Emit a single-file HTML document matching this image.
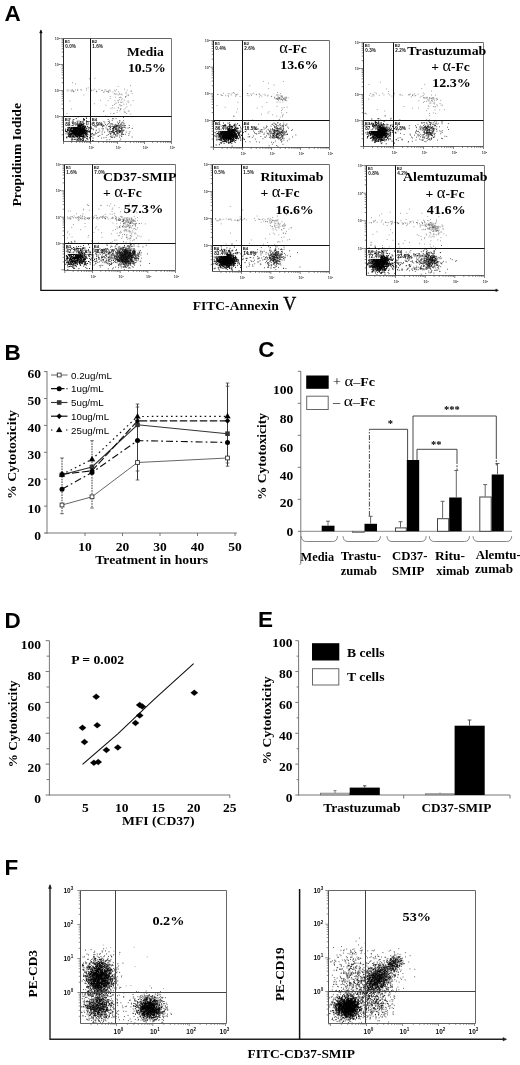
<!DOCTYPE html>
<html><head><meta charset="utf-8"><title>Figure</title>
<style>
html,body{margin:0;padding:0;background:#fff}
body{width:520px;height:1065px;overflow:hidden}
svg{display:block}
.s{font-family:"Liberation Serif","DejaVu Serif",serif;font-weight:bold}
.a{font-family:"Liberation Sans","DejaVu Sans",sans-serif;font-weight:bold}
</style></head><body>
<svg width="520" height="1065" viewBox="0 0 520 1065">
<rect width="520" height="1065" fill="#fff"/>
<path d="M40.9 30.5V290.3H497" fill="none" stroke="#111" stroke-width="1.35"/>
<path d="M39.5 33L40.9 29.8L42.3 33Z" fill="#111" stroke="#000" stroke-width="0.3"/>
<path d="M495.8 288.9L498.6 290.3L495.8 291.7Z" fill="#111" stroke="#000" stroke-width="0.3"/>
<text class="a" x="4.5" y="21.2" font-size="22.5">A</text>
<text class="s" x="20.5" y="206.5" font-size="13.5" textLength="103.5" lengthAdjust="spacingAndGlyphs" transform="rotate(-90 20.5 206.5)">Propidium Iodide</text>
<text class="s" x="192.7" y="309.6" font-size="13.5" textLength="86.0" lengthAdjust="spacingAndGlyphs">FITC-Annexin</text>
<text class="s" x="283.3" y="309.8" font-size="18" style="font-weight:normal" stroke="#000" stroke-width="0.35">V</text>
<path d="M76.3 132.8h1.0M76.5 129.9h1.0M73.2 130.2h1.0M82.6 132.5h1.0M82.3 131.9h1.0M79.3 131.7h1.0M69.8 134.1h1.0M79.8 132.8h1.0M69.7 124.7h1.0M73.4 129.3h1.0M78.9 130.8h1.0M79.9 128.7h1.0M78.9 132.4h1.0M74.5 137.2h1.0M80.1 135.3h1.0M74.6 128.3h1.0M75.9 130.6h1.0M80.4 131.9h1.0M75.4 127.6h1.0M75.1 135.4h1.0M73.8 131.9h1.0M79.5 125.6h1.0M77.7 135.7h1.0M68.2 129.8h1.0M77.0 128.1h1.0M79.8 130.8h1.0M70.8 134.0h1.0M80.6 134.4h1.0M84.1 132.3h1.0M78.0 126.3h1.0M80.3 128.8h1.0M75.4 126.4h1.0M73.0 129.1h1.0M83.4 123.7h1.0M70.8 131.9h1.0M84.1 133.1h1.0M68.8 121.9h1.0M79.1 128.3h1.0M72.3 134.5h1.0M82.6 131.6h1.0M78.6 132.6h1.0M84.8 133.2h1.0M79.9 133.0h1.0M70.3 135.6h1.0M81.9 132.9h1.0M68.4 128.7h1.0M81.4 124.5h1.0M76.7 134.7h1.0M71.5 136.8h1.0M80.0 130.5h1.0M79.0 133.3h1.0M78.1 135.1h1.0M74.5 129.5h1.0M82.3 131.1h1.0M73.4 134.4h1.0M84.2 129.4h1.0M71.2 130.5h1.0M76.8 129.9h1.0M84.0 127.3h1.0M83.3 126.4h1.0M73.9 133.3h1.0M82.7 134.1h1.0M79.1 131.5h1.0M78.2 133.1h1.0M76.7 132.0h1.0M80.1 131.0h1.0M81.0 133.0h1.0M86.7 132.2h1.0M75.5 129.7h1.0M77.4 134.3h1.0M76.0 132.4h1.0M86.0 121.8h1.0M72.3 131.9h1.0M79.3 131.9h1.0M75.5 133.4h1.0M78.8 129.1h1.0M88.7 132.3h1.0M75.0 130.6h1.0M76.5 130.8h1.0M65.0 129.2h1.0M82.1 126.8h1.0M77.2 134.4h1.0M81.4 136.4h1.0M69.7 129.7h1.0M75.9 133.2h1.0M82.5 121.3h1.0M82.5 125.8h1.0M80.6 125.6h1.0M78.3 135.3h1.0M76.8 131.7h1.0M81.2 131.5h1.0M77.1 136.5h1.0M82.3 129.9h1.0M90.1 126.9h1.0M81.7 130.0h1.0M78.1 133.5h1.0M78.5 133.3h1.0M70.5 125.6h1.0M80.3 127.5h1.0M72.8 125.7h1.0M83.3 133.7h1.0M84.3 127.6h1.0M77.5 126.9h1.0M81.0 136.7h1.0M73.4 136.6h1.0M82.0 130.4h1.0M68.4 136.1h1.0M77.1 128.8h1.0M79.3 132.5h1.0M84.4 127.3h1.0M82.7 136.4h1.0M84.2 130.3h1.0M74.1 134.7h1.0M78.0 131.4h1.0M84.1 130.1h1.0M66.9 129.6h1.0M69.0 133.9h1.0M79.0 128.8h1.0M77.5 134.0h1.0M77.9 135.8h1.0M77.2 134.7h1.0M84.4 136.8h1.0M74.4 134.2h1.0M68.9 127.1h1.0M68.5 134.8h1.0M71.8 131.0h1.0M76.6 130.9h1.0M74.8 131.8h1.0M85.7 131.2h1.0M79.9 134.6h1.0M76.6 126.5h1.0M74.9 134.9h1.0M69.9 128.8h1.0M82.1 133.9h1.0M77.5 133.9h1.0M78.3 126.8h1.0M70.3 128.7h1.0M81.7 129.0h1.0M73.3 128.2h1.0M70.5 130.6h1.0M72.1 132.3h1.0M66.6 132.2h1.0M74.5 124.0h1.0M80.8 130.0h1.0M67.2 127.8h1.0M78.8 129.3h1.0M81.1 133.7h1.0M80.6 132.2h1.0M83.6 133.4h1.0M79.6 123.5h1.0M81.6 135.7h1.0M76.1 129.3h1.0M86.4 124.7h1.0M79.7 139.7h1.0M73.2 133.5h1.0M86.2 130.6h1.0M80.1 134.2h1.0M73.3 130.7h1.0M78.8 134.0h1.0M77.3 130.3h1.0M72.8 129.7h1.0M81.6 131.4h1.0M73.6 128.0h1.0M89.8 135.1h1.0M80.4 121.7h1.0M80.4 132.7h1.0M85.2 132.5h1.0M77.2 132.9h1.0M68.6 134.7h1.0M79.0 128.5h1.0M83.6 137.5h1.0M71.0 128.6h1.0M78.8 131.7h1.0M75.7 127.5h1.0M87.3 134.7h1.0M72.0 126.2h1.0M85.3 134.6h1.0M85.9 133.9h1.0M73.5 131.9h1.0M67.6 128.3h1.0M77.2 132.9h1.0M74.2 130.6h1.0M79.6 132.4h1.0M80.4 131.8h1.0M76.0 133.8h1.0M77.7 128.0h1.0M74.6 131.0h1.0M77.0 131.6h1.0M77.5 131.6h1.0M76.9 126.5h1.0M79.4 134.8h1.0M79.5 130.3h1.0M79.6 127.5h1.0M68.8 131.2h1.0M73.2 133.7h1.0M72.5 121.5h1.0M72.7 136.7h1.0M75.7 126.1h1.0M74.0 132.9h1.0M79.8 131.6h1.0M84.3 133.5h1.0M77.4 133.1h1.0M85.1 134.5h1.0M82.2 127.1h1.0M76.8 133.6h1.0M76.1 134.8h1.0M80.2 134.3h1.0M76.5 140.2h1.0M83.2 130.2h1.0M77.9 140.3h1.0M75.9 134.1h1.0M82.0 131.0h1.0M72.1 131.7h1.0M79.2 135.1h1.0M81.1 131.1h1.0M81.4 132.9h1.0M78.4 131.2h1.0M76.4 133.5h1.0M72.7 128.7h1.0M77.5 125.7h1.0M75.5 123.8h1.0M74.4 133.0h1.0M80.1 130.8h1.0M76.4 125.9h1.0M85.9 132.9h1.0M82.5 127.8h1.0M76.6 124.4h1.0M81.1 134.4h1.0M68.8 130.8h1.0M80.4 124.7h1.0M69.1 127.2h1.0M74.6 125.9h1.0M77.6 131.9h1.0M80.4 133.5h1.0M84.4 135.2h1.0M71.5 129.2h1.0M72.6 127.1h1.0M77.1 131.0h1.0M79.8 125.3h1.0M71.8 130.9h1.0M76.6 129.9h1.0M77.2 128.3h1.0M80.7 132.3h1.0M77.1 128.6h1.0M76.7 121.2h1.0M73.0 131.1h1.0M70.6 131.7h1.0M78.2 126.0h1.0M76.3 129.9h1.0M79.6 133.2h1.0M77.3 127.9h1.0M76.8 130.8h1.0M80.9 132.1h1.0M74.2 126.1h1.0M75.8 128.3h1.0M72.4 130.6h1.0M75.2 131.4h1.0M79.9 129.5h1.0M88.2 129.8h1.0M82.6 131.4h1.0M82.6 122.4h1.0M74.0 131.9h1.0M80.3 139.4h1.0M79.0 135.6h1.0M81.0 134.4h1.0M79.8 130.4h1.0M79.8 127.1h1.0M82.9 127.3h1.0M78.6 138.6h1.0M76.5 131.1h1.0M82.8 131.1h1.0M73.8 131.9h1.0M80.2 133.6h1.0M73.9 137.3h1.0M85.2 131.1h1.0M78.7 129.5h1.0M84.0 128.5h1.0M80.6 129.3h1.0M74.3 133.6h1.0M83.6 131.0h1.0M74.4 133.9h1.0M77.3 132.1h1.0M84.5 135.1h1.0M75.1 139.2h1.0M77.5 133.8h1.0M74.5 130.8h1.0M69.5 137.4h1.0M83.8 126.6h1.0M70.6 125.2h1.0M82.9 129.3h1.0M77.2 129.9h1.0M76.9 127.1h1.0M77.6 125.8h1.0M77.2 132.1h1.0M79.7 130.2h1.0M73.3 131.6h1.0M75.3 136.6h1.0M81.0 130.6h1.0M75.3 128.5h1.0M73.2 129.7h1.0M78.9 132.9h1.0M80.1 138.6h1.0M74.3 131.0h1.0M90.4 124.3h1.0M75.1 131.6h1.0M78.2 132.5h1.0M76.4 132.3h1.0M77.7 133.8h1.0M68.8 127.8h1.0M77.5 127.3h1.0M72.7 133.3h1.0M74.5 133.3h1.0M80.9 132.1h1.0M79.8 130.6h1.0M71.0 130.9h1.0M79.6 129.1h1.0M77.0 133.7h1.0M73.5 133.3h1.0M86.1 129.0h1.0M78.2 130.5h1.0M84.6 132.1h1.0M81.6 128.5h1.0M77.4 131.0h1.0M69.3 136.2h1.0M81.6 124.7h1.0M80.9 130.5h1.0M79.6 132.3h1.0M70.6 130.2h1.0M84.4 128.9h1.0M72.8 126.1h1.0M71.9 132.2h1.0M85.3 132.5h1.0M78.6 139.0h1.0M75.1 128.6h1.0M79.9 133.0h1.0M72.8 126.8h1.0M78.8 131.9h1.0M71.5 130.3h1.0M75.0 132.7h1.0M77.0 130.7h1.0M75.9 134.8h1.0M83.9 129.7h1.0M81.4 128.3h1.0M77.8 133.7h1.0M84.5 129.6h1.0M77.2 131.7h1.0M70.6 131.1h1.0M74.4 132.3h1.0M72.3 123.9h1.0M77.7 131.9h1.0M75.0 134.2h1.0M76.2 128.8h1.0M79.7 125.4h1.0M74.4 130.9h1.0M81.4 130.4h1.0M78.9 128.6h1.0M78.9 137.0h1.0M74.3 139.5h1.0M74.5 131.1h1.0M78.3 134.7h1.0M71.8 123.4h1.0M80.3 133.9h1.0M80.4 140.5h1.0M78.4 131.9h1.0M81.8 132.3h1.0M85.2 126.5h1.0M75.8 118.6h1.0M81.2 129.7h1.0M81.8 138.8h1.0M77.5 130.1h1.0M75.2 128.0h1.0M74.6 133.3h1.0M77.7 131.2h1.0M76.7 134.3h1.0M79.8 130.5h1.0M80.6 130.5h1.0M72.2 136.2h1.0M79.6 127.6h1.0M82.5 132.2h1.0M70.3 136.8h1.0M79.0 134.2h1.0M78.4 130.5h1.0M70.4 134.5h1.0M77.6 130.0h1.0M79.1 131.3h1.0M80.6 129.7h1.0M77.3 123.3h1.0M75.6 133.4h1.0M83.6 129.7h1.0M76.9 136.7h1.0M76.0 133.6h1.0M85.2 131.1h1.0M83.1 128.4h1.0M78.5 130.7h1.0M78.0 135.1h1.0M88.5 128.6h1.0M74.9 132.8h1.0M72.6 132.8h1.0M80.1 130.0h1.0M79.9 125.4h1.0M81.0 125.4h1.0M74.3 129.0h1.0M75.7 134.1h1.0M77.9 129.6h1.0M80.0 136.7h1.0M77.5 132.3h1.0M83.2 132.0h1.0M71.6 140.0h1.0M87.7 123.9h1.0M77.3 132.5h1.0M81.9 133.4h1.0M76.2 127.2h1.0M78.0 134.7h1.0M72.5 127.3h1.0M77.4 124.0h1.0M76.3 129.4h1.0M79.6 128.5h1.0M73.4 129.6h1.0M77.3 128.6h1.0M77.6 133.7h1.0M83.0 137.1h1.0M73.9 129.5h1.0M66.1 137.8h1.0M74.2 130.9h1.0M79.9 126.1h1.0M79.6 130.9h1.0M69.1 132.1h1.0M83.0 124.3h1.0M81.2 131.8h1.0M79.7 132.6h1.0M83.5 130.2h1.0M81.5 129.5h1.0M80.8 128.1h1.0M77.0 137.2h1.0M79.5 130.4h1.0M72.2 128.2h1.0M78.4 134.4h1.0M79.5 132.9h1.0M77.3 135.9h1.0M75.7 129.0h1.0M81.6 131.2h1.0M76.2 128.9h1.0M76.3 133.2h1.0M79.1 126.6h1.0M79.5 131.6h1.0M72.9 133.8h1.0M76.2 129.8h1.0M81.2 135.8h1.0M74.3 132.6h1.0M73.5 139.3h1.0M75.2 135.3h1.0M74.5 133.9h1.0M87.7 121.9h1.0M75.5 132.8h1.0M77.1 128.6h1.0M87.4 131.3h1.0M69.9 134.1h1.0M69.6 135.1h1.0M74.8 131.5h1.0M83.3 131.4h1.0M71.1 124.9h1.0M82.9 133.7h1.0M73.7 134.1h1.0M79.8 133.3h1.0M67.1 129.9h1.0M81.6 133.6h1.0M81.6 122.2h1.0M78.3 132.8h1.0M89.2 127.6h1.0M76.0 131.1h1.0M81.6 129.4h1.0M82.8 128.2h1.0M78.7 129.1h1.0M78.2 128.5h1.0M70.2 134.9h1.0M78.9 129.0h1.0M78.4 134.6h1.0M73.0 130.6h1.0M80.0 132.9h1.0M76.0 123.4h1.0M83.2 132.2h1.0M77.6 130.0h1.0M78.7 129.5h1.0M72.8 128.3h1.0M74.8 128.8h1.0M72.2 133.3h1.0M71.5 133.4h1.0M72.8 132.3h1.0M83.8 131.7h1.0M74.1 131.2h1.0M78.2 124.8h1.0M74.7 131.6h1.0M75.3 131.3h1.0M80.9 133.8h1.0M81.7 133.1h1.0M76.2 130.9h1.0M76.3 129.9h1.0M76.7 124.8h1.0M76.0 130.9h1.0M73.0 130.9h1.0M79.9 130.4h1.0M87.1 121.6h1.0M76.6 124.4h1.0M82.0 140.6h1.0M66.0 131.5h1.0M79.9 129.9h1.0M80.0 122.9h1.0M81.4 132.3h1.0M77.6 128.9h1.0M80.4 129.3h1.0M78.5 129.2h1.0M67.2 130.9h1.0M78.4 133.7h1.0M73.5 130.9h1.0M80.3 131.5h1.0M83.2 138.2h1.0M73.3 124.1h1.0M81.4 136.5h1.0M81.7 133.9h1.0M74.7 128.4h1.0M81.6 127.7h1.0M69.2 127.4h1.0M89.0 137.9h1.0M74.3 128.4h1.0M78.6 128.3h1.0M83.5 130.7h1.0M72.5 135.7h1.0M74.8 131.8h1.0M77.4 129.9h1.0M79.0 128.5h1.0M69.0 123.1h1.0M71.7 128.3h1.0M77.4 131.2h1.0M80.1 131.4h1.0M73.9 128.4h1.0M67.8 130.4h1.0M79.7 132.9h1.0M76.9 130.4h1.0M81.8 131.1h1.0M80.9 133.1h1.0M78.5 135.7h1.0M74.9 129.7h1.0M73.8 128.1h1.0M84.7 137.3h1.0M77.6 133.0h1.0M82.9 133.9h1.0M83.0 126.5h1.0M74.6 132.6h1.0M84.1 131.4h1.0M73.6 129.7h1.0M74.5 127.9h1.0M84.4 128.7h1.0M77.6 138.8h1.0M82.9 132.2h1.0M74.7 132.5h1.0M85.0 133.2h1.0M83.3 131.4h1.0M79.9 130.3h1.0M79.5 135.7h1.0M70.9 130.8h1.0M78.6 128.9h1.0M76.1 133.8h1.0M86.7 133.3h1.0M79.0 125.4h1.0M86.4 131.3h1.0M77.3 127.0h1.0M77.2 127.1h1.0M77.8 132.7h1.0M77.6 132.0h1.0M73.6 136.1h1.0M74.5 124.5h1.0M76.6 128.3h1.0M72.9 129.7h1.0M78.8 126.7h1.0M76.9 136.1h1.0M80.6 130.5h1.0M78.1 130.6h1.0M77.3 133.6h1.0M77.1 122.3h1.0M77.4 127.8h1.0M80.5 128.8h1.0M78.2 138.8h1.0M72.7 127.0h1.0M71.0 122.4h1.0M68.9 132.3h1.0M74.6 124.3h1.0M70.7 133.2h1.0M73.9 129.7h1.0M79.0 135.9h1.0M86.4 134.7h1.0M78.2 131.7h1.0M85.8 136.1h1.0M76.1 132.6h1.0M78.8 131.2h1.0M75.2 126.2h1.0M75.0 125.4h1.0M83.1 132.9h1.0M72.0 136.0h1.0M81.6 124.1h1.0M86.0 133.9h1.0M87.0 126.6h1.0M79.9 132.5h1.0M78.4 131.6h1.0M82.3 125.6h1.0M71.8 126.0h1.0M74.9 128.8h1.0M79.2 132.0h1.0M77.6 128.6h1.0M75.5 134.4h1.0M81.0 131.4h1.0M76.0 136.6h1.0M74.8 133.3h1.0M82.8 130.0h1.0M81.3 127.0h1.0M82.2 131.7h1.0M70.2 133.4h1.0M73.4 135.6h1.0M74.4 130.4h1.0M78.8 129.8h1.0M78.7 129.0h1.0M80.6 131.0h1.0M78.5 121.1h1.0M82.8 131.1h1.0M69.3 131.3h1.0M79.6 134.9h1.0M72.5 136.6h1.0M76.8 139.6h1.0M76.8 133.4h1.0M75.8 127.0h1.0M82.5 134.3h1.0M84.6 134.1h1.0M74.9 125.0h1.0M74.5 128.6h1.0M73.8 133.1h1.0M79.0 130.0h1.0M78.3 130.5h1.0M78.5 133.7h1.0M81.9 128.5h1.0M70.6 136.1h1.0M78.0 135.0h1.0M69.9 129.8h1.0M77.6 125.8h1.0M75.1 133.6h1.0M82.5 136.7h1.0M73.5 126.0h1.0M79.9 134.4h1.0M78.4 126.3h1.0M81.1 133.9h1.0M80.0 129.2h1.0M78.9 133.8h1.0M74.9 124.4h1.0M79.0 132.7h1.0M77.6 134.2h1.0M74.8 130.7h1.0M76.1 133.1h1.0M84.8 130.1h1.0M87.0 136.5h1.0M81.1 133.1h1.0M85.6 130.4h1.0M77.0 127.2h1.0M79.7 135.8h1.0M79.9 132.5h1.0M76.6 131.6h1.0M70.9 134.8h1.0M75.6 127.0h1.0M74.0 128.0h1.0M81.4 134.8h1.0M71.3 134.3h1.0M81.6 128.9h1.0M70.7 128.3h1.0M74.6 132.2h1.0M75.9 123.7h1.0M78.6 125.5h1.0M81.7 126.7h1.0M74.3 127.9h1.0M75.0 135.7h1.0M81.4 133.2h1.0M79.0 125.4h1.0M75.1 129.0h1.0M73.0 132.8h1.0M74.1 128.4h1.0M72.7 123.6h1.0M80.2 135.8h1.0M78.3 127.5h1.0M65.1 131.6h1.0M83.1 132.1h1.0M81.8 136.3h1.0M82.7 129.4h1.0M82.3 133.8h1.0M70.4 129.5h1.0M71.0 130.6h1.0M80.2 127.2h1.0M68.0 135.7h1.0M79.2 136.3h1.0M71.4 134.8h1.0M87.0 138.2h1.0M76.5 132.0h1.0M76.8 134.6h1.0M82.3 131.3h1.0M71.2 133.7h1.0M75.3 133.3h1.0M78.7 136.8h1.0M82.7 129.4h1.0M79.1 137.4h1.0M75.0 132.6h1.0M83.0 135.5h1.0M79.9 126.2h1.0M71.7 131.9h1.0M79.3 140.2h1.0M73.5 135.1h1.0M81.0 125.0h1.0M73.7 131.6h1.0M75.2 130.4h1.0M79.7 128.1h1.0M79.6 128.7h1.0M75.0 132.9h1.0M74.9 132.0h1.0M84.9 131.1h1.0M76.8 133.6h1.0M75.8 134.9h1.0M71.6 133.2h1.0M75.1 128.1h1.0M85.6 127.9h1.0M85.6 133.4h1.0M84.2 127.5h1.0M83.0 136.2h1.0M77.0 130.5h1.0M88.8 131.6h1.0M75.6 128.7h1.0M79.6 132.2h1.0M78.3 137.2h1.0M76.0 132.7h1.0M84.2 127.4h1.0M82.3 137.6h1.0M71.3 127.0h1.0M72.7 124.4h1.0M79.6 124.3h1.0M79.8 136.2h1.0M70.1 129.9h1.0M68.7 133.8h1.0M74.1 130.0h1.0M77.8 133.0h1.0M75.9 131.1h1.0M75.0 131.4h1.0M72.1 131.2h1.0M68.6 129.2h1.0M86.3 131.3h1.0M71.7 131.9h1.0M73.0 125.1h1.0M74.1 133.7h1.0M79.3 130.7h1.0M73.2 127.1h1.0M83.7 131.9h1.0M73.1 123.4h1.0M71.2 139.9h1.0M72.2 130.7h1.0M78.5 130.4h1.0M76.2 126.1h1.0M72.7 137.1h1.0M74.0 134.0h1.0M69.7 130.0h1.0M78.7 134.7h1.0M72.3 133.1h1.0M79.3 128.3h1.0M79.7 127.8h1.0M73.8 130.9h1.0M65.0 130.6h1.0M72.9 125.7h1.0M75.5 133.7h1.0M75.6 135.6h1.0M72.2 126.3h1.0M84.6 132.4h1.0M81.8 128.0h1.0M81.2 131.9h1.0M80.5 131.1h1.0M83.0 128.7h1.0M73.1 125.7h1.0M82.8 128.3h1.0M72.7 127.6h1.0M75.5 126.4h1.0M76.2 128.7h1.0M75.0 127.5h1.0M77.7 129.3h1.0M78.0 131.9h1.0M79.1 123.1h1.0M75.0 128.1h1.0M81.1 125.3h1.0M74.2 129.9h1.0M76.0 134.6h1.0M75.5 134.5h1.0M70.8 124.5h1.0M83.1 132.6h1.0M79.7 131.4h1.0M79.7 126.6h1.0M81.9 129.1h1.0M82.0 131.3h1.0M68.4 126.4h1.0M82.7 130.5h1.0M75.7 131.9h1.0M75.5 129.0h1.0M77.8 131.3h1.0M89.6 130.8h1.0M92.6 140.9h1.0M91.2 136.6h1.0M78.1 131.3h1.0M75.8 126.3h1.0M76.4 126.8h1.0M90.6 133.6h1.0M73.3 119.5h1.0M76.6 128.1h1.0M68.0 124.0h1.0M76.7 129.6h1.0M89.0 131.3h1.0M78.4 128.4h1.0M72.0 139.1h1.0M85.3 140.4h1.0M74.1 130.7h1.0M69.7 136.1h1.0M65.5 133.8h1.0M86.1 138.6h1.0M69.2 136.8h1.0M71.1 126.1h1.0M66.0 137.2h1.0M90.6 127.1h1.0M70.7 128.5h1.0M97.8 136.3h1.0M72.5 120.2h1.0M71.4 137.3h1.0M92.5 129.0h1.0M71.3 127.6h1.0M68.0 136.6h1.0M79.4 126.1h1.0M83.5 130.5h1.0M67.3 134.1h1.0M84.0 119.5h1.0M92.1 133.4h1.0M83.3 119.8h1.0M71.0 128.5h1.0M85.9 122.1h1.0M69.7 118.8h1.0M75.0 132.5h1.0M81.2 139.6h1.0M82.5 128.8h1.0M67.2 125.1h1.0M71.5 131.3h1.0M76.6 140.1h1.0M79.4 124.3h1.0M89.8 136.0h1.0M77.8 126.3h1.0M84.5 125.9h1.0M66.1 131.6h1.0M79.0 134.0h1.0M82.4 138.6h1.0M70.1 136.1h1.0M68.8 134.5h1.0M78.5 131.9h1.0M85.0 130.4h1.0M86.2 135.5h1.0M78.1 127.2h1.0M70.8 127.5h1.0M75.3 130.4h1.0M101.7 134.2h1.0M83.4 125.5h1.0M71.1 128.7h1.0M78.6 124.5h1.0M90.3 127.3h1.0M85.9 117.0h1.0M76.9 132.1h1.0M78.6 134.0h1.0M79.3 131.4h1.0M79.5 129.4h1.0M70.2 127.1h1.0M92.3 140.5h1.0M76.5 137.9h1.0M73.0 125.5h1.0M72.4 131.6h1.0M102.0 126.7h1.0M77.4 132.1h1.0M76.7 135.9h1.0M91.7 123.3h1.0M78.3 129.0h1.0M79.9 121.7h1.0M81.3 131.6h1.0M77.6 116.9h1.0M73.9 126.1h1.0M65.3 125.2h1.0M82.8 133.6h1.0M76.8 133.5h1.0M72.0 130.9h1.0M77.3 133.7h1.0M76.4 129.7h1.0M75.9 126.8h1.0M95.5 133.5h1.0M88.6 121.5h1.0M82.8 135.3h1.0M92.6 138.1h1.0M83.4 123.7h1.0M69.8 132.0h1.0M81.2 124.6h1.0M73.8 128.2h1.0M77.5 132.4h1.0M74.6 123.4h1.0M87.3 139.7h1.0M76.1 136.4h1.0M80.7 134.3h1.0M81.0 126.1h1.0M81.8 136.3h1.0M93.5 134.8h1.0M74.2 127.0h1.0M70.3 131.2h1.0M76.7 134.4h1.0M95.8 130.3h1.0M82.6 133.2h1.0M79.3 129.3h1.0M76.0 125.8h1.0M78.5 130.4h1.0M79.7 125.6h1.0M77.3 130.8h1.0M82.0 124.4h1.0M80.5 136.2h1.0M81.9 128.4h1.0M72.9 129.1h1.0M83.0 139.4h1.0M75.7 126.8h1.0M80.1 131.7h1.0M69.5 126.3h1.0M76.2 134.4h1.0M67.1 124.6h1.0M81.1 123.4h1.0M77.9 132.5h1.0M76.1 124.6h1.0M76.5 128.6h1.0M79.8 125.7h1.0M86.0 120.9h1.0M75.5 130.5h1.0M85.0 127.0h1.0M81.5 127.2h1.0M83.1 140.5h1.0M73.7 133.1h1.0M69.3 136.1h1.0M87.0 130.7h1.0M67.6 132.8h1.0M86.5 136.8h1.0M83.7 120.0h1.0M71.4 138.7h1.0M66.8 137.0h1.0M92.6 134.9h1.0M86.3 128.6h1.0M66.9 129.9h1.0M75.4 130.2h1.0M82.8 129.7h1.0M78.6 132.9h1.0M80.7 131.0h1.0M75.3 126.9h1.0M88.1 131.4h1.0M68.1 127.3h1.0M75.9 127.9h1.0M86.0 123.8h1.0M81.1 131.3h1.0M67.2 130.8h1.0M76.2 133.4h1.0M73.3 132.2h1.0M83.5 136.5h1.0M76.9 127.0h1.0M86.0 118.5h1.0M70.4 134.4h1.0M82.4 124.6h1.0M78.3 125.3h1.0M77.5 135.7h1.0M83.1 118.5h1.0M83.4 120.2h1.0M86.4 132.8h1.0M95.6 127.0h1.0M77.0 136.5h1.0M71.7 126.4h1.0M73.9 130.1h1.0M68.0 133.3h1.0M81.5 130.9h1.0M91.1 128.6h1.0M87.8 127.4h1.0M83.3 119.4h1.0M78.6 129.5h1.0" stroke="#000" stroke-width="1.0" fill="none" opacity="0.85"/>
<path d="M115.4 126.4h0.9M116.0 126.0h0.9M108.3 126.5h0.9M115.2 126.8h0.9M113.1 128.4h0.9M120.8 127.9h0.9M115.4 134.7h0.9M121.6 132.9h0.9M122.4 127.6h0.9M117.0 133.7h0.9M115.2 128.5h0.9M119.1 130.6h0.9M116.3 133.1h0.9M116.8 132.0h0.9M122.0 131.8h0.9M120.6 124.1h0.9M112.0 126.4h0.9M119.5 135.3h0.9M112.4 130.3h0.9M113.9 125.9h0.9M116.3 131.9h0.9M118.4 134.0h0.9M113.4 132.7h0.9M121.4 129.3h0.9M119.5 126.6h0.9M112.9 127.3h0.9M115.5 135.9h0.9M118.3 130.3h0.9M120.6 125.7h0.9M121.3 130.6h0.9M111.1 131.5h0.9M119.8 130.9h0.9M124.2 127.3h0.9M119.6 132.1h0.9M113.7 134.0h0.9M111.4 123.5h0.9M119.7 124.4h0.9M117.0 122.1h0.9M117.8 124.2h0.9M118.9 122.6h0.9M119.4 127.9h0.9M117.8 128.7h0.9M118.0 123.5h0.9M106.7 129.1h0.9M113.6 127.1h0.9M119.3 120.7h0.9M114.3 126.4h0.9M113.1 130.4h0.9M116.9 125.6h0.9M113.4 132.4h0.9M114.7 131.5h0.9M119.4 121.0h0.9M112.9 129.0h0.9M118.9 132.3h0.9M120.9 133.3h0.9M115.9 128.1h0.9M120.8 127.2h0.9M121.9 122.3h0.9M120.2 128.3h0.9M109.2 133.1h0.9M118.8 129.1h0.9M113.0 127.0h0.9M123.8 125.5h0.9M102.9 125.4h0.9M112.5 128.4h0.9M115.8 125.2h0.9M114.0 133.4h0.9M111.4 137.2h0.9M115.2 124.4h0.9M120.8 131.4h0.9M113.1 132.1h0.9M109.8 125.1h0.9M122.2 127.9h0.9M112.0 131.2h0.9M121.4 128.9h0.9M109.9 127.5h0.9M119.3 132.2h0.9M125.3 127.9h0.9M115.5 128.8h0.9M122.6 125.0h0.9M123.0 117.5h0.9M120.8 126.2h0.9M119.4 131.9h0.9M112.5 128.6h0.9M118.5 131.5h0.9M113.6 124.8h0.9M109.4 139.7h0.9M116.7 128.1h0.9M111.2 132.9h0.9M115.3 135.0h0.9M121.1 129.1h0.9M120.6 124.3h0.9M116.1 126.6h0.9M112.2 129.1h0.9M116.9 135.0h0.9M103.4 126.2h0.9M113.6 127.1h0.9M119.3 130.7h0.9M117.6 127.0h0.9M119.6 130.5h0.9M109.8 127.9h0.9M111.7 124.0h0.9M118.1 129.3h0.9M118.0 125.3h0.9M116.7 125.2h0.9M119.1 131.9h0.9M124.9 134.3h0.9M114.1 127.1h0.9M113.6 130.3h0.9M125.8 132.0h0.9M108.3 123.7h0.9M112.1 131.2h0.9M117.5 130.3h0.9M125.0 125.5h0.9M113.9 137.3h0.9M118.9 125.7h0.9M109.0 122.6h0.9M107.2 129.3h0.9M117.7 133.2h0.9M116.9 126.1h0.9M114.4 137.0h0.9M110.1 129.7h0.9M117.6 131.6h0.9M115.8 131.1h0.9M120.9 128.4h0.9M115.6 128.2h0.9M113.4 128.1h0.9M116.2 129.9h0.9M123.1 134.5h0.9M115.6 131.5h0.9M118.7 132.2h0.9M117.6 130.1h0.9M115.5 125.7h0.9M121.2 134.5h0.9M120.3 130.8h0.9M118.6 127.1h0.9M110.0 131.8h0.9M118.3 126.7h0.9M113.4 134.4h0.9M109.9 136.4h0.9M120.2 139.0h0.9M114.5 128.9h0.9M115.4 129.7h0.9M116.6 125.9h0.9M122.0 125.7h0.9M115.4 131.3h0.9M115.2 127.2h0.9M119.0 127.5h0.9M112.3 128.6h0.9M116.6 136.2h0.9M112.9 133.1h0.9M114.2 127.5h0.9M116.1 130.1h0.9M121.1 136.3h0.9M114.8 134.6h0.9M121.7 132.4h0.9M114.3 132.8h0.9M117.0 130.5h0.9M116.4 131.8h0.9M122.2 133.8h0.9M116.6 133.2h0.9M123.6 125.1h0.9M123.7 123.4h0.9M119.8 131.5h0.9M123.7 130.2h0.9M115.5 125.7h0.9M112.2 132.2h0.9M116.5 126.0h0.9M119.7 125.8h0.9M108.7 126.5h0.9M131.7 137.0h0.9M111.8 120.4h0.9M116.5 129.4h0.9M117.3 132.1h0.9M110.0 134.1h0.9M122.7 130.2h0.9M109.0 126.4h0.9M121.1 123.0h0.9M111.7 124.9h0.9M98.2 132.3h0.9M113.2 129.2h0.9M123.1 120.8h0.9M112.8 130.6h0.9M122.7 123.0h0.9M121.4 130.2h0.9M128.4 135.3h0.9M119.5 140.8h0.9M113.5 126.7h0.9M109.8 123.8h0.9M113.2 118.7h0.9M112.6 131.3h0.9M124.4 127.1h0.9M128.8 125.4h0.9M112.0 118.7h0.9M105.1 124.6h0.9M129.5 131.8h0.9M101.6 131.9h0.9M118.7 127.7h0.9M113.7 127.4h0.9M107.7 119.5h0.9M112.5 135.9h0.9M128.9 127.5h0.9M105.5 127.9h0.9M123.1 130.9h0.9M107.2 130.9h0.9M111.3 131.8h0.9M109.1 121.1h0.9M114.1 133.1h0.9M101.6 128.4h0.9M122.9 127.0h0.9M106.5 139.9h0.9M122.4 134.5h0.9M103.4 137.7h0.9M95.8 126.2h0.9M121.4 136.1h0.9M103.5 125.4h0.9M115.6 118.7h0.9M120.3 132.0h0.9M108.7 131.9h0.9M121.8 130.7h0.9M119.1 137.1h0.9M108.4 129.9h0.9M107.9 134.5h0.9M109.2 131.5h0.9M115.0 129.4h0.9M131.8 128.5h0.9M128.6 133.4h0.9M127.6 128.1h0.9M93.1 129.8h0.9M100.9 124.7h0.9M103.5 121.6h0.9M112.6 132.5h0.9M105.6 137.4h0.9M106.2 125.8h0.9M96.4 123.9h0.9M91.2 134.7h0.9M110.6 126.5h0.9M95.0 132.3h0.9M110.8 137.3h0.9M94.5 134.8h0.9M110.4 134.1h0.9M98.3 124.6h0.9M110.3 126.9h0.9M99.3 130.9h0.9M99.4 135.6h0.9M96.2 122.2h0.9M104.1 132.2h0.9M110.2 133.5h0.9M112.2 137.6h0.9M102.4 130.0h0.9M94.3 126.6h0.9M104.4 122.9h0.9M107.0 124.3h0.9M101.1 138.0h0.9M92.7 122.2h0.9M101.0 124.7h0.9M107.9 121.5h0.9M110.7 136.0h0.9M109.4 128.7h0.9M97.3 132.7h0.9M102.9 128.7h0.9M98.6 129.0h0.9M106.5 135.5h0.9" stroke="#111" stroke-width="0.9" fill="none" opacity="0.8"/>
<path d="M127.9 95.0h0.9M96.1 91.2h0.9M104.4 90.1h0.9M71.4 91.0h0.9M87.8 87.9h0.9M128.2 95.2h0.9M125.2 96.6h0.9M108.3 90.6h0.9M121.5 94.8h0.9M107.5 91.4h0.9M86.0 88.3h0.9M98.7 89.4h0.9M110.2 91.1h0.9M126.6 95.2h0.9M67.4 91.1h0.9M96.4 91.9h0.9M71.4 90.0h0.9M105.6 89.7h0.9M94.2 89.2h0.9M92.8 90.3h0.9M73.4 91.4h0.9M103.3 92.4h0.9M73.2 91.0h0.9M72.1 89.9h0.9M102.1 90.5h0.9M103.7 91.7h0.9M81.1 90.1h0.9M100.9 90.3h0.9M106.1 91.5h0.9M70.6 91.0h0.9M95.8 91.3h0.9M114.8 91.2h0.9M117.7 95.0h0.9M115.3 94.3h0.9M72.5 91.0h0.9M77.3 89.6h0.9M131.7 93.6h0.9M74.9 89.8h0.9M119.1 93.6h0.9M91.2 90.8h0.9M66.5 89.9h0.9M86.2 90.1h0.9M114.3 90.2h0.9M108.4 92.0h0.9M125.7 92.1h0.9M125.6 93.3h0.9M77.1 90.5h0.9M118.2 91.9h0.9M112.5 92.0h0.9M91.2 90.0h0.9M116.4 94.0h0.9M68.5 90.0h0.9M107.2 91.8h0.9M120.9 94.0h0.9M73.3 91.8h0.9M114.8 103.3h0.9M124.1 89.1h0.9M123.9 100.1h0.9M117.8 107.3h0.9M119.9 105.1h0.9M115.2 97.3h0.9M117.6 100.5h0.9M113.2 113.6h0.9M130.7 91.6h0.9M116.9 110.5h0.9M103.6 110.8h0.9M120.1 109.0h0.9M126.2 113.5h0.9M110.5 108.4h0.9M120.5 108.5h0.9M109.9 96.4h0.9M124.5 111.9h0.9M130.8 90.8h0.9M128.3 101.1h0.9M117.7 100.8h0.9M123.8 111.9h0.9M113.7 108.2h0.9M120.7 97.7h0.9M125.5 96.5h0.9M116.3 103.0h0.9M120.1 97.2h0.9M116.5 112.3h0.9M120.5 105.9h0.9M119.3 110.8h0.9M127.8 102.6h0.9M125.0 97.3h0.9M119.5 94.6h0.9M115.9 127.5h0.9M113.7 113.5h0.9M121.4 105.6h0.9M105.4 105.2h0.9M109.7 98.5h0.9M114.5 100.7h0.9M131.7 116.7h0.9M107.6 100.7h0.9M114.1 104.6h0.9M108.1 92.2h0.9M118.9 97.5h0.9M126.6 101.2h0.9M120.9 99.8h0.9M124.8 112.6h0.9M118.9 99.5h0.9M123.4 104.2h0.9M126.0 104.1h0.9M120.1 109.6h0.9M113.9 93.7h0.9M122.5 101.9h0.9M123.5 109.7h0.9M121.9 98.9h0.9M130.0 85.6h0.9M114.3 93.8h0.9M132.8 100.7h0.9M118.1 108.1h0.9M127.8 111.0h0.9M119.0 104.8h0.9M112.2 105.5h0.9M117.6 86.4h0.9M121.0 102.5h0.9M124.8 108.2h0.9M120.1 102.1h0.9M130.4 105.1h0.9M126.4 106.8h0.9M128.6 111.1h0.9M111.9 107.8h0.9M130.3 114.1h0.9M71.1 108.9h0.9M126.8 90.1h0.9M75.1 84.0h0.9M103.1 111.5h0.9M110.3 113.4h0.9M80.4 89.6h0.9M118.0 102.5h0.9M93.9 103.7h0.9M89.1 78.8h0.9M94.5 78.3h0.9M109.3 89.9h0.9M100.1 100.4h0.9M83.5 95.0h0.9M66.5 113.5h0.9M105.0 116.0h0.9M69.4 101.1h0.9M116.2 89.7h0.9M72.0 82.7h0.9" stroke="#444" stroke-width="0.9" fill="none" opacity="0.6"/>
<line x1="63.50" y1="38.50" x2="171.50" y2="38.50" stroke="#666" stroke-width="1"/>
<line x1="171.50" y1="38.50" x2="171.50" y2="141.50" stroke="#777" stroke-width="1"/>
<line x1="63.50" y1="141.50" x2="171.50" y2="141.50" stroke="#666" stroke-width="1"/>
<line x1="63.50" y1="38.50" x2="63.50" y2="141.50" stroke="#222" stroke-width="1"/>
<line x1="90.50" y1="38.50" x2="90.50" y2="141.50" stroke="#111" stroke-width="1"/>
<line x1="63.50" y1="116.50" x2="171.50" y2="116.50" stroke="#111" stroke-width="1"/>
<path d="M63.5 141.5v2.5M71.6 141.5v1.4M76.4 141.5v1.4M79.8 141.5v1.4M82.4 141.5v1.4M84.5 141.5v1.4M86.3 141.5v1.4M87.9 141.5v1.4M89.3 141.5v1.4M90.5 141.5v2.5M98.6 141.5v1.4M103.4 141.5v1.4M106.8 141.5v1.4M109.4 141.5v1.4M111.5 141.5v1.4M113.3 141.5v1.4M114.9 141.5v1.4M116.3 141.5v1.4M117.5 141.5v2.5M125.6 141.5v1.4M130.4 141.5v1.4M133.8 141.5v1.4M136.4 141.5v1.4M138.5 141.5v1.4M140.3 141.5v1.4M141.9 141.5v1.4M143.3 141.5v1.4M144.5 141.5v2.5M152.6 141.5v1.4M157.4 141.5v1.4M160.8 141.5v1.4M163.4 141.5v1.4M165.5 141.5v1.4M167.3 141.5v1.4M168.9 141.5v1.4M170.3 141.5v1.4M171.5 141.5v2.5M63.5 134.7h-1.8M63.5 130.1h-1.8M63.5 126.8h-1.8M63.5 124.3h-1.8M63.5 122.3h-1.8M63.5 120.5h-1.8M63.5 119.0h-1.8M63.5 117.7h-1.8M63.5 116.5h-3.2M63.5 108.7h-1.8M63.5 104.1h-1.8M63.5 100.8h-1.8M63.5 98.3h-1.8M63.5 96.3h-1.8M63.5 94.5h-1.8M63.5 93.0h-1.8M63.5 91.7h-1.8M63.5 90.5h-3.2M63.5 82.7h-1.8M63.5 78.1h-1.8M63.5 74.8h-1.8M63.5 72.3h-1.8M63.5 70.3h-1.8M63.5 68.5h-1.8M63.5 67.0h-1.8M63.5 65.7h-1.8M63.5 64.5h-3.2M63.5 56.7h-1.8M63.5 52.1h-1.8M63.5 48.8h-1.8M63.5 46.3h-1.8M63.5 44.3h-1.8M63.5 42.5h-1.8M63.5 41.0h-1.8M63.5 39.7h-1.8M63.5 38.5h-3.2" stroke="#333" stroke-width="0.6" fill="none"/>
<text class="a" x="57.5" y="118.0" font-size="3.6" text-anchor="middle" fill="#444">10<tspan dy="-1.4" font-size="2.52">0</tspan></text>
<text class="a" x="91.5" y="149.1" font-size="3.6" text-anchor="middle" fill="#444">10<tspan dy="-1.4" font-size="2.52">0</tspan></text>
<text class="a" x="57.5" y="92.0" font-size="3.6" text-anchor="middle" fill="#444">10<tspan dy="-1.4" font-size="2.52">1</tspan></text>
<text class="a" x="118.5" y="149.1" font-size="3.6" text-anchor="middle" fill="#444">10<tspan dy="-1.4" font-size="2.52">1</tspan></text>
<text class="a" x="57.5" y="66.0" font-size="3.6" text-anchor="middle" fill="#444">10<tspan dy="-1.4" font-size="2.52">2</tspan></text>
<text class="a" x="145.5" y="149.1" font-size="3.6" text-anchor="middle" fill="#444">10<tspan dy="-1.4" font-size="2.52">2</tspan></text>
<text class="a" x="57.5" y="40.0" font-size="3.6" text-anchor="middle" fill="#444">10<tspan dy="-1.4" font-size="2.52">3</tspan></text>
<text class="a" x="172.5" y="149.1" font-size="3.6" text-anchor="middle" fill="#444">10<tspan dy="-1.4" font-size="2.52">3</tspan></text>
<text class="a" x="64.7" y="42.8" font-size="4.2" fill="#222">B1</text>
<text class="a" x="65.3" y="47.9" font-size="4.6" fill="#111">0.0%</text>
<text class="a" x="91.7" y="42.8" font-size="4.2" fill="#222">B2</text>
<text class="a" x="92.3" y="47.9" font-size="4.6" fill="#111">1.6%</text>
<text class="a" x="64.7" y="121.0" font-size="4.2" fill="#222">B3</text>
<rect x="64.90" y="122.30" width="12.50" height="4.60" fill="#fff"/>
<text class="a" x="65.3" y="126.1" font-size="4.6" fill="#111">89.5%</text>
<text class="a" x="91.7" y="121.0" font-size="4.2" fill="#222">B4</text>
<text class="a" x="92.3" y="126.1" font-size="4.6" fill="#111">8.9%</text>
<text class="s" x="126.9" y="56.0" font-size="13.2" textLength="36.8" lengthAdjust="spacingAndGlyphs">Media</text>
<text class="s" x="127.9" y="72.3" font-size="13.2" textLength="38.0" lengthAdjust="spacingAndGlyphs">10.5%</text>
<path d="M226.1 137.8h1.0M233.6 139.6h1.0M232.0 130.0h1.0M230.2 130.1h1.0M224.4 131.3h1.0M222.3 131.1h1.0M234.1 133.7h1.0M234.7 134.5h1.0M219.6 131.7h1.0M234.9 137.9h1.0M226.8 133.2h1.0M233.0 135.8h1.0M226.6 138.1h1.0M227.8 130.5h1.0M220.9 126.9h1.0M238.1 134.8h1.0M235.2 134.7h1.0M228.1 134.8h1.0M228.7 129.4h1.0M227.4 137.5h1.0M237.4 132.6h1.0M229.5 136.6h1.0M234.3 135.9h1.0M226.2 140.1h1.0M228.9 134.5h1.0M240.6 128.9h1.0M227.5 130.4h1.0M234.4 130.9h1.0M228.5 135.4h1.0M226.2 133.9h1.0M225.8 131.8h1.0M223.8 134.8h1.0M226.3 130.6h1.0M225.6 141.6h1.0M222.1 132.2h1.0M225.2 134.0h1.0M231.1 131.6h1.0M228.8 135.8h1.0M234.9 132.1h1.0M224.5 136.5h1.0M227.4 132.1h1.0M226.4 138.7h1.0M220.5 133.3h1.0M235.1 135.3h1.0M224.1 132.0h1.0M232.1 135.7h1.0M225.8 132.0h1.0M221.8 129.5h1.0M229.3 135.8h1.0M225.4 136.5h1.0M224.6 135.3h1.0M218.5 137.0h1.0M235.9 137.0h1.0M227.4 135.7h1.0M227.8 134.5h1.0M227.4 135.7h1.0M226.1 133.9h1.0M225.4 136.7h1.0M233.6 136.8h1.0M229.8 139.0h1.0M223.9 141.4h1.0M218.8 136.6h1.0M228.2 135.4h1.0M220.7 138.1h1.0M228.8 134.4h1.0M232.3 134.6h1.0M228.1 137.1h1.0M227.3 135.3h1.0M225.9 132.1h1.0M227.7 132.0h1.0M228.8 133.2h1.0M225.1 133.7h1.0M222.1 136.6h1.0M230.3 125.9h1.0M227.7 132.5h1.0M230.1 141.3h1.0M225.6 133.7h1.0M223.9 135.2h1.0M230.7 135.0h1.0M228.1 130.3h1.0M227.2 130.8h1.0M226.0 139.5h1.0M228.0 131.4h1.0M222.8 128.7h1.0M225.4 141.3h1.0M226.5 133.3h1.0M223.0 132.4h1.0M231.9 137.5h1.0M226.7 131.2h1.0M230.6 142.0h1.0M240.4 138.9h1.0M227.7 136.5h1.0M225.9 131.3h1.0M224.6 134.1h1.0M230.6 139.2h1.0M233.4 135.7h1.0M217.7 139.3h1.0M229.7 131.7h1.0M233.4 131.0h1.0M226.3 134.2h1.0M227.5 133.8h1.0M218.5 129.2h1.0M227.1 136.6h1.0M227.4 129.9h1.0M222.0 129.9h1.0M232.5 130.5h1.0M231.0 129.9h1.0M223.0 131.8h1.0M233.3 131.5h1.0M226.6 131.9h1.0M225.2 137.4h1.0M224.7 133.2h1.0M222.0 131.5h1.0M228.0 139.2h1.0M235.7 129.7h1.0M226.5 127.5h1.0M226.1 134.2h1.0M230.3 135.7h1.0M222.9 129.7h1.0M220.8 139.7h1.0M221.8 137.4h1.0M228.7 137.3h1.0M220.1 135.5h1.0M229.4 134.0h1.0M229.6 130.0h1.0M234.0 130.1h1.0M226.8 137.1h1.0M229.9 139.5h1.0M227.4 130.1h1.0M229.1 135.8h1.0M220.1 137.2h1.0M233.1 131.1h1.0M231.6 134.3h1.0M231.9 132.1h1.0M231.3 136.4h1.0M227.8 132.9h1.0M226.8 136.5h1.0M234.1 133.5h1.0M231.5 134.4h1.0M236.2 138.3h1.0M231.1 135.5h1.0M225.1 128.3h1.0M231.3 131.4h1.0M224.5 137.7h1.0M228.9 130.2h1.0M232.9 133.0h1.0M232.0 130.1h1.0M220.8 131.9h1.0M231.1 126.8h1.0M222.5 137.4h1.0M238.9 133.2h1.0M223.2 132.4h1.0M224.0 139.5h1.0M230.8 130.8h1.0M231.4 126.3h1.0M227.7 134.0h1.0M226.5 130.7h1.0M224.7 127.3h1.0M229.6 130.5h1.0M230.2 137.0h1.0M224.4 129.7h1.0M227.8 136.4h1.0M221.4 133.8h1.0M222.8 139.3h1.0M229.3 128.2h1.0M224.9 134.2h1.0M225.2 134.3h1.0M229.3 134.7h1.0M225.6 139.1h1.0M231.6 132.9h1.0M226.9 131.6h1.0M220.9 132.8h1.0M227.7 132.6h1.0M223.0 123.0h1.0M219.3 137.0h1.0M219.0 136.0h1.0M230.8 133.6h1.0M227.4 136.9h1.0M227.2 133.8h1.0M231.5 133.8h1.0M236.6 130.0h1.0M225.6 133.0h1.0M228.2 131.6h1.0M236.2 136.3h1.0M218.9 133.9h1.0M230.6 138.2h1.0M229.3 131.2h1.0M231.2 129.2h1.0M227.9 129.7h1.0M233.7 136.5h1.0M237.3 132.9h1.0M227.0 132.3h1.0M232.7 130.1h1.0M230.7 132.7h1.0M230.8 134.9h1.0M223.8 132.4h1.0M219.5 130.7h1.0M224.7 137.6h1.0M225.5 134.9h1.0M226.4 129.3h1.0M230.2 140.8h1.0M230.3 138.4h1.0M230.2 137.5h1.0M236.9 128.0h1.0M224.4 128.6h1.0M227.6 132.6h1.0M224.1 135.7h1.0M236.0 138.9h1.0M235.7 134.4h1.0M229.5 139.2h1.0M232.0 137.5h1.0M226.1 132.5h1.0M224.5 138.5h1.0M223.6 134.7h1.0M228.8 133.6h1.0M226.2 135.5h1.0M224.2 134.5h1.0M233.5 132.1h1.0M232.9 138.5h1.0M235.8 130.9h1.0M235.4 137.7h1.0M234.2 137.6h1.0M226.9 137.4h1.0M228.4 132.4h1.0M225.0 132.5h1.0M226.9 128.3h1.0M229.1 129.1h1.0M230.5 139.1h1.0M233.2 139.9h1.0M234.7 142.5h1.0M227.2 131.1h1.0M226.9 130.5h1.0M233.8 125.7h1.0M227.7 137.5h1.0M230.4 137.2h1.0M222.8 132.5h1.0M227.0 135.8h1.0M230.3 139.4h1.0M222.0 135.2h1.0M237.9 138.8h1.0M228.8 137.2h1.0M226.6 138.9h1.0M225.2 137.1h1.0M228.8 131.4h1.0M228.6 133.9h1.0M224.6 134.7h1.0M223.7 138.2h1.0M230.0 137.8h1.0M230.8 135.1h1.0M221.5 133.1h1.0M227.8 132.4h1.0M227.3 132.8h1.0M225.5 131.0h1.0M225.5 130.3h1.0M232.3 135.1h1.0M229.9 137.0h1.0M226.0 138.0h1.0M219.7 132.0h1.0M227.8 140.1h1.0M232.8 137.1h1.0M231.1 132.2h1.0M227.0 131.9h1.0M228.1 129.8h1.0M226.3 132.4h1.0M229.8 132.0h1.0M229.3 135.9h1.0M229.9 136.9h1.0M223.6 134.5h1.0M227.0 137.9h1.0M225.6 135.2h1.0M221.7 133.0h1.0M224.4 134.0h1.0M224.8 133.9h1.0M228.6 130.6h1.0M231.0 132.0h1.0M236.8 138.1h1.0M230.6 134.5h1.0M233.7 135.2h1.0M220.4 136.5h1.0M228.8 125.7h1.0M219.8 138.8h1.0M229.1 131.6h1.0M219.6 130.4h1.0M234.5 126.1h1.0M230.0 142.5h1.0M228.2 130.9h1.0M230.0 136.3h1.0M229.3 133.4h1.0M220.6 135.9h1.0M230.9 135.5h1.0M229.9 134.6h1.0M231.6 146.2h1.0M225.1 135.1h1.0M222.4 127.7h1.0M227.6 139.0h1.0M223.3 132.4h1.0M225.2 129.1h1.0M221.2 134.4h1.0M225.5 133.3h1.0M223.3 138.9h1.0M237.7 131.2h1.0M220.8 138.5h1.0M234.0 141.2h1.0M223.7 133.8h1.0M218.8 135.5h1.0M221.7 127.8h1.0M230.9 135.6h1.0M218.4 131.2h1.0M238.7 125.5h1.0M225.3 141.1h1.0M235.5 134.6h1.0M224.1 135.4h1.0M224.7 135.3h1.0M232.3 134.4h1.0M232.8 138.6h1.0M223.7 133.1h1.0M223.1 135.3h1.0M219.5 130.5h1.0M217.5 135.7h1.0M223.3 138.5h1.0M231.0 135.7h1.0M223.9 128.3h1.0M222.6 134.1h1.0M227.1 133.3h1.0M227.6 139.1h1.0M232.9 129.7h1.0M230.6 130.9h1.0M228.6 134.8h1.0M231.7 136.8h1.0M222.2 133.6h1.0M229.4 133.3h1.0M234.6 129.1h1.0M229.9 134.6h1.0M225.3 133.6h1.0M226.3 135.0h1.0M224.9 132.8h1.0M239.0 132.3h1.0M230.0 137.8h1.0M223.5 136.8h1.0M224.7 125.0h1.0M227.5 123.2h1.0M226.9 136.5h1.0M235.5 136.3h1.0M232.3 136.2h1.0M227.5 137.7h1.0M225.8 135.0h1.0M224.2 133.0h1.0M229.2 127.2h1.0M224.5 130.5h1.0M227.1 140.9h1.0M223.3 133.3h1.0M225.9 131.2h1.0M224.0 137.3h1.0M226.4 131.3h1.0M222.0 130.9h1.0M231.4 130.5h1.0M218.5 130.6h1.0M227.6 135.2h1.0M227.3 136.8h1.0M221.5 130.3h1.0M225.7 134.1h1.0M217.8 133.2h1.0M219.9 137.1h1.0M228.4 139.8h1.0M236.1 135.6h1.0M225.9 130.0h1.0M224.3 137.4h1.0M228.8 133.9h1.0M220.9 132.8h1.0M235.2 132.8h1.0M233.1 125.3h1.0M233.6 130.1h1.0M220.8 132.4h1.0M223.5 139.5h1.0M225.8 132.9h1.0M224.0 136.5h1.0M232.6 136.9h1.0M220.2 132.9h1.0M229.6 126.7h1.0M226.6 137.1h1.0M233.9 135.5h1.0M231.0 136.9h1.0M228.8 127.0h1.0M235.6 136.3h1.0M226.8 130.9h1.0M237.8 135.0h1.0M231.3 132.4h1.0M228.3 133.8h1.0M232.1 127.0h1.0M235.3 133.7h1.0M230.6 137.3h1.0M224.8 136.7h1.0M221.9 134.6h1.0M223.6 137.5h1.0M233.8 129.5h1.0M228.6 131.1h1.0M220.7 133.5h1.0M231.8 137.8h1.0M224.7 132.8h1.0M233.8 133.6h1.0M235.4 140.5h1.0M229.7 130.9h1.0M225.8 136.6h1.0M226.2 134.1h1.0M229.2 128.3h1.0M225.2 132.4h1.0M223.2 134.6h1.0M225.4 132.2h1.0M233.7 139.0h1.0M226.2 131.8h1.0M220.1 127.3h1.0M234.2 133.8h1.0M223.3 128.9h1.0M232.7 132.6h1.0M229.9 137.1h1.0M223.4 128.7h1.0M226.6 135.6h1.0M226.1 133.3h1.0M228.9 130.4h1.0M230.3 137.2h1.0M222.0 130.8h1.0M225.3 131.4h1.0M225.9 137.6h1.0M220.8 135.1h1.0M225.3 131.1h1.0M220.7 126.3h1.0M227.5 138.8h1.0M223.0 136.2h1.0M221.5 135.4h1.0M225.8 132.4h1.0M220.6 131.8h1.0M225.1 138.5h1.0M230.1 135.3h1.0M224.2 134.6h1.0M230.7 138.5h1.0M231.3 140.4h1.0M226.2 130.4h1.0M233.0 140.2h1.0M231.3 133.9h1.0M227.8 132.6h1.0M225.7 133.8h1.0M229.1 129.7h1.0M229.5 134.4h1.0M226.3 134.8h1.0M225.5 134.8h1.0M233.9 132.3h1.0M231.0 131.7h1.0M226.2 134.7h1.0M224.5 137.5h1.0M220.4 133.1h1.0M227.2 134.2h1.0M226.4 130.2h1.0M227.4 138.7h1.0M230.0 133.2h1.0M221.5 130.5h1.0M230.7 131.8h1.0M225.8 142.0h1.0M216.3 137.1h1.0M216.4 129.0h1.0M239.3 137.7h1.0M229.8 136.6h1.0M231.3 131.7h1.0M220.9 130.8h1.0M228.7 135.3h1.0M231.8 133.5h1.0M230.5 133.6h1.0M222.0 131.8h1.0M228.6 133.3h1.0M224.6 133.5h1.0M233.4 131.1h1.0M215.7 133.9h1.0M216.3 139.1h1.0M223.9 133.8h1.0M225.9 134.2h1.0M228.2 137.8h1.0M221.9 132.1h1.0M224.9 132.7h1.0M229.7 126.5h1.0M217.0 133.6h1.0M228.8 135.5h1.0M231.3 139.2h1.0M222.6 132.4h1.0M228.1 135.6h1.0M229.2 134.7h1.0M222.4 141.9h1.0M226.9 135.1h1.0M222.5 134.8h1.0M225.3 137.6h1.0M231.2 131.5h1.0M227.3 134.0h1.0M228.5 138.8h1.0M223.6 143.5h1.0M223.1 128.6h1.0M230.4 129.1h1.0M233.1 135.0h1.0M225.4 136.5h1.0M227.8 131.0h1.0M225.2 140.8h1.0M228.0 134.9h1.0M222.5 141.3h1.0M230.1 132.7h1.0M227.1 131.8h1.0M233.3 137.1h1.0M224.0 132.4h1.0M225.1 134.3h1.0M237.5 132.8h1.0M228.9 132.4h1.0M226.2 135.2h1.0M232.3 129.6h1.0M224.2 133.0h1.0M222.7 139.3h1.0M230.5 137.8h1.0M229.2 129.6h1.0M231.5 133.4h1.0M224.2 130.7h1.0M221.8 132.0h1.0M227.9 138.1h1.0M224.1 136.5h1.0M228.8 136.6h1.0M227.2 129.1h1.0M232.6 136.3h1.0M221.7 133.9h1.0M226.2 142.2h1.0M234.5 134.3h1.0M226.3 136.5h1.0M228.5 136.3h1.0M226.1 130.1h1.0M218.1 128.8h1.0M219.6 133.8h1.0M230.1 140.0h1.0M228.4 141.7h1.0M235.0 133.4h1.0M224.6 134.8h1.0M224.9 132.3h1.0M227.3 135.7h1.0M218.1 134.2h1.0M227.3 136.7h1.0M222.8 135.8h1.0M222.6 130.5h1.0M223.3 134.4h1.0M225.7 138.3h1.0M229.4 133.1h1.0M232.0 139.9h1.0M227.9 140.7h1.0M228.8 135.5h1.0M222.8 137.8h1.0M232.1 135.0h1.0M232.2 141.6h1.0M235.6 130.8h1.0M226.3 138.8h1.0M231.6 138.1h1.0M220.3 136.8h1.0M230.1 132.0h1.0M234.9 136.9h1.0M232.5 140.1h1.0M226.4 135.4h1.0M227.6 138.2h1.0M232.1 130.5h1.0M224.3 130.5h1.0M228.8 130.0h1.0M223.2 139.1h1.0M223.8 136.3h1.0M217.8 137.0h1.0M221.3 139.3h1.0M228.8 136.2h1.0M223.5 135.6h1.0M225.5 137.6h1.0M225.8 133.3h1.0M224.1 133.0h1.0M231.5 133.3h1.0M229.3 124.5h1.0M232.0 129.3h1.0M218.7 134.5h1.0M218.8 140.0h1.0M227.2 133.6h1.0M230.9 133.4h1.0M228.0 134.9h1.0M237.0 136.8h1.0M225.5 134.8h1.0M219.6 138.9h1.0M222.3 132.3h1.0M227.1 135.4h1.0M223.9 131.6h1.0M224.4 124.9h1.0M224.7 136.3h1.0M232.3 131.4h1.0M222.9 137.4h1.0M225.7 138.7h1.0M223.9 135.5h1.0M227.1 134.7h1.0M231.2 134.5h1.0M227.1 133.6h1.0M234.8 136.2h1.0M227.3 128.9h1.0M230.2 131.8h1.0M220.4 134.1h1.0M224.0 134.0h1.0M228.6 133.1h1.0M224.6 133.4h1.0M239.4 131.0h1.0M222.7 131.3h1.0M222.3 133.0h1.0M223.8 135.2h1.0M228.2 137.4h1.0M227.9 135.1h1.0M229.3 124.5h1.0M228.0 132.9h1.0M224.1 134.3h1.0M224.6 136.5h1.0M229.8 129.4h1.0M231.3 128.5h1.0M230.0 140.9h1.0M233.5 130.3h1.0M234.8 140.6h1.0M229.2 135.1h1.0M236.4 135.7h1.0M221.0 133.9h1.0M228.1 136.9h1.0M236.8 136.9h1.0M233.2 129.5h1.0M224.0 134.8h1.0M229.8 142.4h1.0M235.0 130.1h1.0M232.0 131.7h1.0M226.1 134.6h1.0M227.8 135.1h1.0M225.6 137.3h1.0M226.5 133.7h1.0M225.0 134.6h1.0M224.1 131.1h1.0M231.7 136.1h1.0M229.7 134.8h1.0M223.9 129.5h1.0M232.8 134.4h1.0M230.5 134.7h1.0M231.9 130.6h1.0M232.4 126.8h1.0M229.1 139.0h1.0M229.6 135.4h1.0M224.6 137.8h1.0M228.4 137.0h1.0M230.9 133.6h1.0M225.5 137.0h1.0M231.0 135.2h1.0M230.5 132.3h1.0M228.3 137.1h1.0M229.3 125.7h1.0M229.6 132.7h1.0M226.9 135.0h1.0M235.0 127.3h1.0M223.9 140.9h1.0M225.4 140.7h1.0M234.5 131.4h1.0M227.0 137.4h1.0M235.6 134.4h1.0M229.4 133.2h1.0M237.9 128.3h1.0M229.3 137.5h1.0M229.8 133.0h1.0M230.3 132.2h1.0M223.8 141.6h1.0M236.6 131.7h1.0M227.8 139.2h1.0M228.0 133.2h1.0M227.4 128.2h1.0M228.9 131.4h1.0M226.7 129.1h1.0M227.5 132.8h1.0M225.4 136.9h1.0M217.0 133.6h1.0M218.4 128.8h1.0M234.8 135.1h1.0M230.5 127.7h1.0M221.8 136.2h1.0M229.1 137.8h1.0M228.6 135.5h1.0M229.8 134.0h1.0M221.4 137.4h1.0M225.8 133.8h1.0M226.8 136.5h1.0M226.4 129.7h1.0M228.3 138.0h1.0M225.8 139.0h1.0M227.2 135.4h1.0M236.0 138.2h1.0M244.8 131.5h1.0M228.4 137.1h1.0M226.5 131.2h1.0M229.8 133.6h1.0M226.6 132.5h1.0M229.4 134.0h1.0M227.4 131.8h1.0M225.3 129.6h1.0M229.2 133.5h1.0M225.1 134.1h1.0M229.8 136.0h1.0M226.9 136.9h1.0M231.7 127.5h1.0M222.8 136.5h1.0M228.7 136.4h1.0M232.8 130.5h1.0M228.9 138.0h1.0M223.1 139.8h1.0M218.6 133.0h1.0M238.4 133.0h1.0M228.3 135.5h1.0M226.4 137.0h1.0M227.9 131.7h1.0M239.2 136.6h1.0M224.0 127.1h1.0M225.9 135.8h1.0M221.2 132.2h1.0M227.3 134.2h1.0M234.2 128.5h1.0M223.2 141.4h1.0M220.5 134.5h1.0M229.2 137.7h1.0M223.9 136.3h1.0M233.9 133.9h1.0M230.9 131.1h1.0M231.7 133.4h1.0M225.9 133.7h1.0M221.1 128.7h1.0M228.7 134.2h1.0M226.9 128.6h1.0M228.6 132.7h1.0M221.1 137.9h1.0M238.0 134.6h1.0M224.2 125.8h1.0M232.4 135.0h1.0M232.0 141.5h1.0M225.1 134.6h1.0M235.0 130.6h1.0M232.7 134.2h1.0M225.1 134.4h1.0M230.7 133.9h1.0M228.7 136.4h1.0M231.0 132.7h1.0M228.4 126.5h1.0M222.1 131.0h1.0M225.5 132.9h1.0M222.8 135.9h1.0M232.2 139.4h1.0M228.3 135.8h1.0M231.2 140.0h1.0M225.7 136.6h1.0M221.8 130.3h1.0M222.1 136.3h1.0M226.9 134.3h1.0M223.6 133.8h1.0M236.0 128.4h1.0M222.2 137.4h1.0M223.2 134.2h1.0M228.3 128.3h1.0M225.9 133.8h1.0M229.2 136.2h1.0M227.6 133.9h1.0M227.1 134.4h1.0M231.1 131.4h1.0M214.3 135.8h1.0M227.8 142.7h1.0M222.6 135.9h1.0M230.8 130.9h1.0M226.9 130.4h1.0M230.1 133.9h1.0M229.0 135.9h1.0M228.9 138.2h1.0M231.0 133.1h1.0M224.1 135.5h1.0M220.3 131.7h1.0M232.0 137.1h1.0M237.3 132.9h1.0M226.9 137.1h1.0M233.3 129.7h1.0M232.3 134.8h1.0M235.6 134.5h1.0M225.6 132.0h1.0M226.0 132.3h1.0M219.5 134.7h1.0M224.3 138.4h1.0M231.3 132.2h1.0M226.5 135.7h1.0M233.2 138.0h1.0M231.6 134.2h1.0M231.1 130.1h1.0M230.1 133.9h1.0M226.4 133.6h1.0M224.3 132.7h1.0M233.9 132.2h1.0M221.6 136.0h1.0M225.7 132.0h1.0M233.8 133.9h1.0M230.2 134.9h1.0M235.3 136.7h1.0M221.0 140.2h1.0M225.4 132.9h1.0M231.2 133.8h1.0M226.0 132.8h1.0M226.2 138.1h1.0M229.2 138.8h1.0M242.6 138.1h1.0M220.6 134.4h1.0M231.0 126.5h1.0M226.6 127.5h1.0M237.0 123.7h1.0M224.4 135.2h1.0M229.0 128.5h1.0M233.2 133.4h1.0M239.3 134.4h1.0M234.1 124.5h1.0M228.9 134.2h1.0M219.1 121.0h1.0M233.2 140.8h1.0M222.4 138.5h1.0M232.6 130.5h1.0M232.4 136.1h1.0M224.7 125.7h1.0M229.4 132.8h1.0M230.0 133.5h1.0M228.3 131.5h1.0M229.3 135.3h1.0M226.4 131.2h1.0M240.8 135.3h1.0M229.9 136.6h1.0M229.1 122.8h1.0M223.9 135.2h1.0M231.5 134.1h1.0M218.3 131.9h1.0M230.6 134.2h1.0M249.1 136.8h1.0M231.3 132.8h1.0M221.7 141.0h1.0M224.0 131.9h1.0M236.0 131.5h1.0M231.0 136.1h1.0M226.0 135.5h1.0M220.1 133.6h1.0M233.4 116.2h1.0M231.9 140.2h1.0M240.1 132.0h1.0M231.6 133.3h1.0M219.4 135.8h1.0M235.0 138.5h1.0M226.5 134.2h1.0M215.7 145.0h1.0M214.9 128.3h1.0M241.2 135.4h1.0M221.1 129.8h1.0M233.0 130.1h1.0M233.4 136.7h1.0M230.8 138.5h1.0M222.4 125.6h1.0M220.8 142.6h1.0M219.8 142.8h1.0M226.2 133.8h1.0M239.1 125.4h1.0M237.8 138.3h1.0M234.7 128.0h1.0M240.1 127.2h1.0M240.2 140.3h1.0M242.0 133.2h1.0M214.6 132.5h1.0M224.9 138.5h1.0M219.4 128.5h1.0M229.1 135.6h1.0M222.8 131.2h1.0M232.3 137.6h1.0M231.3 143.6h1.0M229.4 133.8h1.0M230.1 142.1h1.0M232.6 135.5h1.0M235.7 125.0h1.0M235.6 138.3h1.0M225.0 125.3h1.0M214.0 121.4h1.0M230.3 133.0h1.0M219.9 138.8h1.0M219.3 139.5h1.0M233.8 136.8h1.0M218.2 127.6h1.0M227.9 139.7h1.0M218.6 134.9h1.0M234.6 124.0h1.0M242.8 132.5h1.0M223.0 134.8h1.0M225.9 128.3h1.0M222.2 132.3h1.0M218.4 139.4h1.0M232.5 137.8h1.0M231.6 133.2h1.0M243.8 139.6h1.0M226.6 126.9h1.0M235.9 137.0h1.0M224.6 131.9h1.0M234.0 133.1h1.0M221.7 127.0h1.0M224.2 131.9h1.0M217.0 124.0h1.0M221.5 138.6h1.0M243.6 124.3h1.0M222.6 137.2h1.0M221.2 137.0h1.0M224.4 140.2h1.0M228.4 143.4h1.0M216.4 140.1h1.0M224.2 140.2h1.0M222.6 138.5h1.0M236.2 135.5h1.0M218.8 129.9h1.0M223.2 132.5h1.0M235.5 127.0h1.0M226.2 134.0h1.0M227.5 128.6h1.0M238.1 133.5h1.0M220.9 133.3h1.0M237.0 137.0h1.0M237.0 136.7h1.0M223.8 125.6h1.0M220.2 133.5h1.0M220.6 140.4h1.0M233.4 131.2h1.0M228.2 142.8h1.0M233.3 132.1h1.0M222.9 125.5h1.0M229.9 138.7h1.0M226.9 133.9h1.0M220.8 134.6h1.0M231.7 126.7h1.0M233.1 132.4h1.0M231.6 134.0h1.0M230.4 135.3h1.0M233.8 129.8h1.0M226.8 127.3h1.0M228.1 140.1h1.0M225.4 139.6h1.0M223.8 136.0h1.0M237.5 135.7h1.0M231.0 141.5h1.0M232.7 139.2h1.0M225.3 129.8h1.0M233.9 128.2h1.0M237.2 130.9h1.0M230.0 138.4h1.0M218.9 144.7h1.0M227.6 132.8h1.0M219.3 124.6h1.0M232.1 131.3h1.0M237.0 128.6h1.0M215.5 136.6h1.0M225.5 126.0h1.0M239.1 135.5h1.0M216.3 131.2h1.0M220.2 140.3h1.0M223.4 130.5h1.0M230.0 142.7h1.0M238.7 133.9h1.0M225.2 130.6h1.0M235.5 128.0h1.0M227.2 137.7h1.0M222.3 120.5h1.0M223.2 129.3h1.0M219.8 130.7h1.0M234.1 125.7h1.0M217.8 133.1h1.0M234.9 129.3h1.0M232.1 139.6h1.0M221.6 132.7h1.0M234.3 135.0h1.0M222.6 133.1h1.0M225.4 134.2h1.0M229.7 134.6h1.0M222.6 133.8h1.0M229.8 132.7h1.0M240.4 131.1h1.0M223.6 135.7h1.0M225.3 139.0h1.0M223.0 136.9h1.0M239.9 137.1h1.0M220.7 143.3h1.0M236.3 133.7h1.0M215.8 135.1h1.0M226.7 136.3h1.0M228.5 142.5h1.0M228.8 131.6h1.0" stroke="#000" stroke-width="1.0" fill="none" opacity="0.85"/>
<path d="M276.0 133.9h0.9M279.8 127.6h0.9M273.5 136.4h0.9M276.7 136.9h0.9M276.9 130.0h0.9M279.5 133.7h0.9M288.8 139.1h0.9M277.3 133.7h0.9M279.9 134.8h0.9M280.7 132.4h0.9M276.0 126.3h0.9M276.3 136.9h0.9M278.4 133.9h0.9M272.2 124.2h0.9M280.1 129.4h0.9M275.2 124.5h0.9M283.6 138.4h0.9M270.3 130.3h0.9M276.6 134.4h0.9M281.2 132.4h0.9M277.1 134.9h0.9M270.5 132.1h0.9M277.5 133.8h0.9M273.4 129.9h0.9M272.7 131.9h0.9M273.2 142.6h0.9M274.9 137.7h0.9M275.0 130.8h0.9M281.2 131.4h0.9M286.5 134.4h0.9M270.4 138.1h0.9M265.9 131.1h0.9M274.1 132.7h0.9M274.2 130.6h0.9M275.9 135.5h0.9M273.7 131.0h0.9M286.9 140.9h0.9M282.3 132.6h0.9M275.1 132.9h0.9M272.0 137.2h0.9M274.4 123.7h0.9M281.8 138.7h0.9M281.3 135.2h0.9M279.5 138.9h0.9M283.1 126.2h0.9M279.9 132.2h0.9M284.3 131.4h0.9M276.0 125.8h0.9M277.8 133.9h0.9M283.5 131.8h0.9M281.5 141.3h0.9M272.7 136.9h0.9M277.4 125.6h0.9M274.2 132.7h0.9M272.9 135.3h0.9M274.3 137.0h0.9M276.0 137.6h0.9M282.2 136.4h0.9M282.5 144.3h0.9M281.6 125.8h0.9M275.7 136.6h0.9M281.9 130.2h0.9M279.7 132.9h0.9M276.5 130.7h0.9M277.7 137.8h0.9M270.4 137.1h0.9M278.5 125.9h0.9M278.8 132.0h0.9M273.7 135.0h0.9M276.4 137.5h0.9M283.3 134.5h0.9M279.3 128.7h0.9M277.5 137.5h0.9M285.8 125.2h0.9M278.7 132.5h0.9M286.8 134.1h0.9M286.5 124.0h0.9M270.2 133.3h0.9M271.6 124.4h0.9M275.8 130.7h0.9M278.2 139.0h0.9M273.6 129.6h0.9M271.2 133.0h0.9M282.2 137.3h0.9M267.9 134.7h0.9M276.3 130.3h0.9M272.6 130.4h0.9M278.9 135.6h0.9M281.1 129.2h0.9M277.6 128.9h0.9M281.4 132.9h0.9M271.9 137.1h0.9M285.0 125.3h0.9M285.4 134.8h0.9M277.2 123.0h0.9M272.1 128.5h0.9M281.0 132.1h0.9M278.4 133.1h0.9M279.6 131.2h0.9M283.3 123.1h0.9M273.6 130.9h0.9M273.8 138.2h0.9M275.6 124.4h0.9M275.3 130.6h0.9M274.0 129.7h0.9M275.3 135.6h0.9M276.9 134.0h0.9M277.2 137.8h0.9M277.8 133.9h0.9M282.3 138.4h0.9M282.9 129.4h0.9M271.9 144.2h0.9M271.7 129.6h0.9M271.5 133.8h0.9M277.5 122.6h0.9M282.4 130.4h0.9M282.5 136.8h0.9M277.7 137.1h0.9M274.3 132.8h0.9M276.9 133.3h0.9M280.0 133.5h0.9M275.8 135.5h0.9M276.1 136.2h0.9M274.0 127.6h0.9M287.3 127.1h0.9M281.1 139.7h0.9M280.7 134.5h0.9M277.3 132.4h0.9M274.2 134.9h0.9M280.7 127.0h0.9M268.7 145.8h0.9M277.0 128.1h0.9M273.2 136.1h0.9M283.2 128.7h0.9M276.2 135.1h0.9M275.6 134.1h0.9M279.4 135.8h0.9M282.0 133.3h0.9M275.1 127.0h0.9M277.4 128.5h0.9M275.9 131.8h0.9M277.3 136.6h0.9M279.1 133.1h0.9M284.5 132.9h0.9M285.3 132.6h0.9M279.3 128.4h0.9M278.1 128.8h0.9M283.6 133.6h0.9M283.7 134.8h0.9M273.5 123.0h0.9M277.3 130.4h0.9M275.9 134.1h0.9M278.2 131.6h0.9M279.1 129.9h0.9M274.0 130.7h0.9M282.2 135.4h0.9M276.3 134.5h0.9M280.5 128.4h0.9M285.7 131.3h0.9M273.2 133.1h0.9M278.6 138.4h0.9M283.2 131.0h0.9M275.5 131.5h0.9M276.5 128.7h0.9M277.3 138.0h0.9M281.7 131.5h0.9M272.6 135.6h0.9M282.9 126.9h0.9M280.0 140.1h0.9M282.4 135.5h0.9M277.6 130.3h0.9M279.2 138.0h0.9M280.9 136.3h0.9M277.4 131.9h0.9M283.7 133.2h0.9M281.7 130.8h0.9M273.4 133.4h0.9M278.8 120.1h0.9M274.1 134.2h0.9M276.6 127.6h0.9M277.4 134.7h0.9M283.4 124.9h0.9M277.7 129.9h0.9M287.0 134.4h0.9M273.1 135.5h0.9M281.2 137.0h0.9M282.1 130.7h0.9M272.3 133.8h0.9M277.3 130.9h0.9M270.1 135.3h0.9M279.9 137.7h0.9M279.3 131.8h0.9M273.7 131.2h0.9M273.7 131.7h0.9M274.2 137.0h0.9M276.9 134.3h0.9M277.5 131.2h0.9M269.2 130.9h0.9M275.7 137.1h0.9M272.7 135.6h0.9M280.6 132.3h0.9M272.7 137.5h0.9M276.2 145.5h0.9M247.4 127.5h0.9M295.4 135.0h0.9M252.0 120.2h0.9M258.2 124.2h0.9M252.5 129.2h0.9M270.6 126.2h0.9M272.0 129.7h0.9M282.6 125.2h0.9M272.5 133.3h0.9M282.2 126.0h0.9M273.3 125.4h0.9M281.4 135.2h0.9M286.0 131.0h0.9M292.1 129.7h0.9M255.1 128.4h0.9M272.6 138.4h0.9M267.6 129.3h0.9M279.9 125.4h0.9M283.5 135.1h0.9M262.0 132.0h0.9M265.9 127.6h0.9M276.6 130.7h0.9M283.2 132.8h0.9M255.6 133.6h0.9M281.2 134.2h0.9M257.8 129.0h0.9M259.5 131.0h0.9M265.3 137.3h0.9M277.4 146.3h0.9M279.2 124.4h0.9M271.0 142.2h0.9M269.4 133.1h0.9M283.4 140.1h0.9M285.9 132.0h0.9M260.8 129.5h0.9M279.9 123.8h0.9M274.9 141.0h0.9M260.4 136.5h0.9M264.8 128.3h0.9M278.0 136.0h0.9M272.4 134.9h0.9M281.0 142.0h0.9M263.4 127.2h0.9M292.2 137.0h0.9M266.1 135.9h0.9M291.2 130.5h0.9M277.4 137.3h0.9M266.7 126.6h0.9M282.4 132.5h0.9M275.7 128.4h0.9M280.3 137.8h0.9M274.2 132.8h0.9M263.6 129.2h0.9M259.6 132.9h0.9M275.6 129.0h0.9M260.1 131.5h0.9M280.6 139.9h0.9M254.5 133.3h0.9M288.0 128.2h0.9M269.1 137.3h0.9M275.7 127.9h0.9M261.7 129.7h0.9M273.1 133.6h0.9M282.7 128.0h0.9M278.7 134.7h0.9M270.4 136.6h0.9M272.8 135.1h0.9M261.3 131.9h0.9M243.7 139.0h0.9M268.4 130.1h0.9M267.3 133.6h0.9M274.1 126.4h0.9M254.7 129.4h0.9M262.5 138.7h0.9M269.4 134.8h0.9M254.9 139.1h0.9M245.8 129.9h0.9M266.6 133.0h0.9M274.3 127.0h0.9M257.3 129.1h0.9M242.6 127.1h0.9M245.4 131.8h0.9M256.3 134.1h0.9M251.8 137.4h0.9M259.0 142.2h0.9M247.9 134.2h0.9M258.3 131.8h0.9M270.1 129.1h0.9M270.6 131.6h0.9M253.2 136.0h0.9M260.5 130.3h0.9M245.2 141.7h0.9M254.3 127.4h0.9M263.5 134.5h0.9M253.0 131.1h0.9M269.5 131.3h0.9M255.9 141.8h0.9M254.0 132.3h0.9M247.7 136.8h0.9M263.8 133.1h0.9M255.5 129.5h0.9M267.8 133.3h0.9M269.1 131.9h0.9M266.0 126.0h0.9M249.5 141.8h0.9M264.3 137.0h0.9M258.4 133.5h0.9" stroke="#111" stroke-width="0.9" fill="none" opacity="0.8"/>
<path d="M229.5 93.9h0.9M227.8 93.6h0.9M233.9 93.3h0.9M261.3 96.1h0.9M227.7 95.5h0.9M251.7 94.0h0.9M225.0 95.7h0.9M249.8 94.1h0.9M237.4 94.1h0.9M263.7 94.3h0.9M270.9 96.5h0.9M256.1 94.7h0.9M274.4 98.6h0.9M255.7 94.5h0.9M247.3 93.5h0.9M284.4 100.0h0.9M223.1 93.2h0.9M258.9 97.0h0.9M284.5 99.8h0.9M267.2 96.0h0.9M228.1 96.4h0.9M274.3 97.3h0.9M278.7 98.3h0.9M246.7 95.2h0.9M253.3 93.2h0.9M276.7 98.6h0.9M239.6 96.5h0.9M217.3 94.3h0.9M220.6 94.8h0.9M259.8 95.3h0.9M236.3 94.9h0.9M235.3 96.4h0.9M277.3 97.0h0.9M285.8 97.9h0.9M235.4 95.2h0.9M281.3 99.4h0.9M231.7 93.0h0.9M222.0 95.6h0.9M259.0 94.2h0.9M276.7 98.9h0.9M248.4 95.7h0.9M271.3 96.3h0.9M283.4 99.3h0.9M235.5 94.4h0.9M233.1 92.6h0.9M264.8 95.3h0.9M230.9 94.9h0.9M283.2 98.3h0.9M251.1 95.4h0.9M217.4 94.5h0.9M275.5 98.9h0.9M278.5 98.6h0.9M283.2 98.8h0.9M276.1 95.0h0.9M282.5 102.0h0.9M286.0 97.1h0.9M281.1 99.0h0.9M278.6 97.6h0.9M277.7 98.2h0.9M279.3 97.6h0.9M284.7 97.2h0.9M280.8 97.1h0.9M279.5 98.1h0.9M280.6 99.1h0.9M278.3 99.4h0.9M277.2 95.0h0.9M278.0 100.8h0.9M284.2 98.2h0.9M286.3 100.8h0.9M276.1 98.4h0.9M277.6 95.0h0.9M273.9 97.3h0.9M281.8 96.4h0.9M282.4 100.0h0.9M282.2 100.5h0.9M278.3 98.8h0.9M282.0 97.5h0.9M279.6 95.3h0.9M281.1 96.0h0.9M281.8 99.1h0.9M280.0 99.8h0.9M279.6 102.2h0.9M281.7 96.1h0.9M278.9 98.9h0.9M285.6 98.4h0.9M285.0 100.1h0.9M284.4 98.1h0.9M278.2 97.1h0.9M280.6 96.3h0.9M276.9 99.3h0.9M286.8 107.1h0.9M276.3 116.1h0.9M267.5 113.2h0.9M281.2 112.8h0.9M282.2 115.4h0.9M283.7 107.5h0.9M285.4 100.0h0.9M281.1 110.6h0.9M268.6 111.8h0.9M282.8 114.6h0.9M279.8 117.1h0.9M286.3 112.5h0.9M256.8 108.1h0.9M281.4 107.9h0.9M272.3 114.7h0.9M276.6 106.3h0.9M282.0 116.6h0.9M276.8 99.5h0.9M282.2 109.3h0.9M266.4 102.5h0.9M280.2 93.5h0.9M287.7 97.7h0.9M285.1 99.2h0.9M276.6 102.2h0.9M277.1 92.5h0.9M221.2 95.3h0.9M278.9 119.6h0.9M216.5 105.6h0.9M261.0 114.2h0.9M249.3 85.7h0.9M237.1 109.0h0.9M267.9 88.7h0.9M261.8 106.8h0.9M262.9 81.4h0.9M247.3 93.5h0.9M258.5 94.0h0.9M224.7 107.3h0.9M236.2 112.1h0.9M237.5 102.3h0.9M273.7 85.1h0.9M268.1 83.2h0.9M282.9 81.5h0.9M267.6 95.2h0.9" stroke="#444" stroke-width="0.9" fill="none" opacity="0.6"/>
<line x1="213.50" y1="40.50" x2="329.50" y2="40.50" stroke="#666" stroke-width="1"/>
<line x1="329.50" y1="40.50" x2="329.50" y2="147.50" stroke="#777" stroke-width="1"/>
<line x1="213.50" y1="147.50" x2="329.50" y2="147.50" stroke="#666" stroke-width="1"/>
<line x1="213.50" y1="40.50" x2="213.50" y2="147.50" stroke="#222" stroke-width="1"/>
<line x1="242.50" y1="40.50" x2="242.50" y2="147.50" stroke="#111" stroke-width="1"/>
<line x1="213.50" y1="120.50" x2="329.50" y2="120.50" stroke="#111" stroke-width="1"/>
<path d="M213.5 147.5v2.5M222.2 147.5v1.4M227.3 147.5v1.4M231.0 147.5v1.4M233.8 147.5v1.4M236.1 147.5v1.4M238.0 147.5v1.4M239.7 147.5v1.4M241.2 147.5v1.4M242.5 147.5v2.5M251.2 147.5v1.4M256.3 147.5v1.4M260.0 147.5v1.4M262.8 147.5v1.4M265.1 147.5v1.4M267.0 147.5v1.4M268.7 147.5v1.4M270.2 147.5v1.4M271.5 147.5v2.5M280.2 147.5v1.4M285.3 147.5v1.4M289.0 147.5v1.4M291.8 147.5v1.4M294.1 147.5v1.4M296.0 147.5v1.4M297.7 147.5v1.4M299.2 147.5v1.4M300.5 147.5v2.5M309.2 147.5v1.4M314.3 147.5v1.4M318.0 147.5v1.4M320.8 147.5v1.4M323.1 147.5v1.4M325.0 147.5v1.4M326.7 147.5v1.4M328.2 147.5v1.4M329.5 147.5v2.5M213.5 147.2h-3.2M213.5 139.1h-1.8M213.5 134.4h-1.8M213.5 131.1h-1.8M213.5 128.5h-1.8M213.5 126.4h-1.8M213.5 124.6h-1.8M213.5 123.1h-1.8M213.5 121.7h-1.8M213.5 120.5h-3.2M213.5 112.5h-1.8M213.5 107.8h-1.8M213.5 104.4h-1.8M213.5 101.9h-1.8M213.5 99.7h-1.8M213.5 98.0h-1.8M213.5 96.4h-1.8M213.5 95.1h-1.8M213.5 93.8h-3.2M213.5 85.8h-1.8M213.5 81.1h-1.8M213.5 77.8h-1.8M213.5 75.2h-1.8M213.5 73.1h-1.8M213.5 71.3h-1.8M213.5 69.8h-1.8M213.5 68.4h-1.8M213.5 67.2h-3.2M213.5 59.1h-1.8M213.5 54.4h-1.8M213.5 51.1h-1.8M213.5 48.5h-1.8M213.5 46.4h-1.8M213.5 44.6h-1.8M213.5 43.1h-1.8M213.5 41.7h-1.8M213.5 40.5h-3.2" stroke="#333" stroke-width="0.6" fill="none"/>
<text class="a" x="207.5" y="122.0" font-size="3.6" text-anchor="middle" fill="#444">10<tspan dy="-1.4" font-size="2.52">0</tspan></text>
<text class="a" x="243.5" y="155.1" font-size="3.6" text-anchor="middle" fill="#444">10<tspan dy="-1.4" font-size="2.52">0</tspan></text>
<text class="a" x="207.5" y="95.3" font-size="3.6" text-anchor="middle" fill="#444">10<tspan dy="-1.4" font-size="2.52">1</tspan></text>
<text class="a" x="272.5" y="155.1" font-size="3.6" text-anchor="middle" fill="#444">10<tspan dy="-1.4" font-size="2.52">1</tspan></text>
<text class="a" x="207.5" y="68.7" font-size="3.6" text-anchor="middle" fill="#444">10<tspan dy="-1.4" font-size="2.52">2</tspan></text>
<text class="a" x="301.5" y="155.1" font-size="3.6" text-anchor="middle" fill="#444">10<tspan dy="-1.4" font-size="2.52">2</tspan></text>
<text class="a" x="207.5" y="42.0" font-size="3.6" text-anchor="middle" fill="#444">10<tspan dy="-1.4" font-size="2.52">3</tspan></text>
<text class="a" x="330.5" y="155.1" font-size="3.6" text-anchor="middle" fill="#444">10<tspan dy="-1.4" font-size="2.52">3</tspan></text>
<text class="a" x="214.7" y="44.8" font-size="4.2" fill="#222">B1</text>
<text class="a" x="215.3" y="49.9" font-size="4.6" fill="#111">0.4%</text>
<text class="a" x="243.7" y="44.8" font-size="4.2" fill="#222">B2</text>
<text class="a" x="244.3" y="49.9" font-size="4.6" fill="#111">2.6%</text>
<text class="a" x="214.7" y="125.0" font-size="4.2" fill="#222">B3</text>
<rect x="214.90" y="126.30" width="12.50" height="4.60" fill="#fff"/>
<text class="a" x="215.3" y="130.1" font-size="4.6" fill="#111">86.4%</text>
<text class="a" x="243.7" y="125.0" font-size="4.2" fill="#222">B4</text>
<text class="a" x="244.3" y="130.1" font-size="4.6" fill="#111">10.5%</text>
<text class="s" x="279.3" y="53.0" font-size="13.2" textLength="27.5" lengthAdjust="spacingAndGlyphs"><tspan style="font-weight:normal" font-size="16">α</tspan>-Fc</text>
<text class="s" x="280.3" y="68.8" font-size="13.2" textLength="38.0" lengthAdjust="spacingAndGlyphs">13.6%</text>
<path d="M375.5 134.0h1.0M382.9 128.8h1.0M378.7 135.6h1.0M382.6 129.6h1.0M390.1 129.6h1.0M382.0 133.8h1.0M390.7 130.2h1.0M384.7 134.3h1.0M374.7 132.6h1.0M375.0 133.3h1.0M379.6 125.5h1.0M381.7 133.6h1.0M383.4 132.7h1.0M375.0 135.0h1.0M383.3 124.9h1.0M383.6 134.6h1.0M376.7 129.0h1.0M376.9 136.3h1.0M379.8 135.1h1.0M376.7 127.6h1.0M375.0 140.0h1.0M382.7 134.9h1.0M381.2 132.3h1.0M377.8 131.2h1.0M380.4 131.9h1.0M378.8 134.0h1.0M381.4 133.9h1.0M379.7 134.0h1.0M383.9 136.9h1.0M385.2 130.1h1.0M380.4 132.9h1.0M387.5 138.2h1.0M380.9 139.6h1.0M385.1 128.4h1.0M382.1 133.6h1.0M377.1 137.6h1.0M381.5 127.6h1.0M374.9 131.8h1.0M384.0 134.0h1.0M383.2 131.6h1.0M384.7 131.6h1.0M382.2 131.5h1.0M377.2 133.8h1.0M373.6 132.7h1.0M381.0 128.2h1.0M378.4 131.8h1.0M374.3 126.0h1.0M383.8 131.0h1.0M391.5 141.0h1.0M370.0 135.1h1.0M377.5 134.4h1.0M372.9 136.1h1.0M394.0 128.6h1.0M372.0 131.1h1.0M378.0 134.0h1.0M376.5 132.2h1.0M385.1 133.9h1.0M383.5 132.1h1.0M376.7 131.6h1.0M376.9 127.3h1.0M379.7 132.1h1.0M377.4 135.8h1.0M389.6 129.6h1.0M381.8 128.6h1.0M383.7 132.2h1.0M372.0 128.7h1.0M382.1 130.2h1.0M378.4 141.4h1.0M375.0 134.4h1.0M364.5 125.8h1.0M380.6 132.8h1.0M386.3 130.6h1.0M368.1 136.2h1.0M370.5 131.8h1.0M386.7 129.4h1.0M379.3 128.1h1.0M384.8 136.3h1.0M371.3 131.4h1.0M376.2 135.1h1.0M383.6 133.3h1.0M382.7 134.2h1.0M380.3 132.0h1.0M375.5 134.4h1.0M375.3 134.3h1.0M375.5 132.1h1.0M383.3 136.3h1.0M379.1 132.1h1.0M379.2 134.8h1.0M375.3 141.6h1.0M378.7 132.9h1.0M382.2 134.1h1.0M379.0 131.3h1.0M372.8 129.8h1.0M378.6 130.3h1.0M390.6 125.0h1.0M388.7 133.9h1.0M377.1 132.9h1.0M377.9 130.9h1.0M370.6 131.0h1.0M373.2 133.3h1.0M376.2 129.8h1.0M377.8 130.6h1.0M380.5 131.3h1.0M372.9 133.4h1.0M372.3 125.9h1.0M372.6 134.3h1.0M373.2 128.7h1.0M388.1 131.3h1.0M380.2 129.7h1.0M384.9 137.2h1.0M375.9 128.1h1.0M369.5 133.2h1.0M373.8 126.6h1.0M380.5 131.8h1.0M380.7 127.7h1.0M373.0 132.6h1.0M385.7 134.0h1.0M377.2 135.3h1.0M382.7 128.1h1.0M388.4 136.4h1.0M378.6 133.9h1.0M372.4 137.0h1.0M389.6 133.2h1.0M380.3 131.8h1.0M379.0 128.8h1.0M379.3 136.1h1.0M377.4 136.2h1.0M372.2 130.2h1.0M377.0 131.1h1.0M383.7 128.4h1.0M382.8 129.3h1.0M378.6 123.0h1.0M369.1 133.5h1.0M382.7 134.1h1.0M378.9 136.0h1.0M380.3 135.4h1.0M372.6 139.2h1.0M376.8 128.4h1.0M375.6 136.0h1.0M379.1 132.1h1.0M385.1 136.6h1.0M381.0 129.5h1.0M382.5 131.1h1.0M379.9 131.8h1.0M370.5 131.0h1.0M377.4 126.6h1.0M373.3 138.5h1.0M378.0 139.6h1.0M381.4 131.0h1.0M375.5 138.4h1.0M374.6 134.6h1.0M376.6 129.4h1.0M376.6 130.8h1.0M386.2 130.1h1.0M375.9 124.5h1.0M375.9 125.2h1.0M374.6 122.2h1.0M372.9 136.4h1.0M379.6 127.0h1.0M376.3 137.4h1.0M377.4 127.4h1.0M379.6 127.0h1.0M377.2 133.1h1.0M378.4 129.3h1.0M387.2 138.4h1.0M381.7 137.6h1.0M380.0 133.3h1.0M375.5 130.6h1.0M380.9 131.3h1.0M373.3 130.0h1.0M376.2 124.8h1.0M372.8 134.1h1.0M367.6 132.6h1.0M384.2 130.0h1.0M381.5 133.2h1.0M376.0 126.7h1.0M375.8 133.1h1.0M378.3 132.0h1.0M384.0 134.5h1.0M377.6 134.5h1.0M374.8 124.6h1.0M375.6 135.5h1.0M380.3 133.6h1.0M380.7 130.7h1.0M385.4 130.9h1.0M377.6 133.9h1.0M373.5 136.6h1.0M385.4 133.6h1.0M375.8 138.6h1.0M375.6 132.5h1.0M378.9 137.0h1.0M372.3 137.5h1.0M383.2 133.2h1.0M372.2 137.7h1.0M367.1 129.3h1.0M386.4 135.2h1.0M376.8 130.3h1.0M372.3 135.2h1.0M373.9 132.1h1.0M382.2 130.6h1.0M378.0 137.3h1.0M371.2 132.8h1.0M385.8 131.6h1.0M376.6 133.6h1.0M371.0 131.9h1.0M380.7 131.3h1.0M386.4 126.0h1.0M380.5 133.4h1.0M380.5 128.2h1.0M386.4 133.2h1.0M380.2 132.5h1.0M376.7 131.8h1.0M377.0 132.6h1.0M385.5 135.1h1.0M375.3 131.6h1.0M379.1 131.1h1.0M381.6 133.9h1.0M371.6 133.5h1.0M373.2 131.9h1.0M376.4 130.3h1.0M381.2 131.3h1.0M386.1 133.2h1.0M382.7 131.0h1.0M387.7 129.8h1.0M374.7 126.6h1.0M385.8 136.2h1.0M376.8 126.0h1.0M375.0 132.4h1.0M382.3 135.9h1.0M382.0 132.7h1.0M376.0 122.5h1.0M384.5 129.0h1.0M379.2 136.5h1.0M370.5 131.2h1.0M380.4 128.6h1.0M373.0 137.2h1.0M375.6 131.0h1.0M383.9 131.6h1.0M383.6 124.7h1.0M380.7 139.3h1.0M372.8 123.3h1.0M380.3 137.7h1.0M386.6 127.9h1.0M371.5 123.1h1.0M386.0 139.4h1.0M380.1 134.0h1.0M374.7 133.7h1.0M375.9 132.6h1.0M373.5 130.5h1.0M380.3 134.3h1.0M371.6 140.9h1.0M385.4 133.1h1.0M383.1 128.4h1.0M381.8 139.2h1.0M371.6 130.2h1.0M375.4 133.6h1.0M379.8 127.8h1.0M378.0 122.8h1.0M383.0 129.6h1.0M380.9 130.6h1.0M380.1 137.0h1.0M376.4 128.8h1.0M377.4 132.5h1.0M382.7 128.6h1.0M378.9 137.1h1.0M377.9 132.8h1.0M380.2 134.3h1.0M382.3 134.0h1.0M369.3 133.0h1.0M386.7 128.3h1.0M380.7 131.5h1.0M378.4 137.4h1.0M381.5 131.2h1.0M374.5 138.3h1.0M374.6 132.1h1.0M380.3 127.5h1.0M376.5 132.7h1.0M380.1 131.6h1.0M378.8 132.1h1.0M372.3 131.8h1.0M383.6 132.7h1.0M381.6 135.3h1.0M386.4 127.0h1.0M380.8 128.7h1.0M385.5 128.2h1.0M374.9 128.9h1.0M382.4 136.0h1.0M390.3 130.4h1.0M373.7 131.4h1.0M377.1 131.2h1.0M381.6 132.8h1.0M378.1 125.7h1.0M381.9 133.7h1.0M371.5 131.7h1.0M381.9 131.6h1.0M375.0 131.9h1.0M374.5 132.8h1.0M372.7 136.7h1.0M366.4 124.9h1.0M388.0 139.9h1.0M379.3 136.9h1.0M379.8 127.8h1.0M383.8 131.5h1.0M381.6 133.5h1.0M373.0 132.6h1.0M373.4 138.5h1.0M380.5 133.3h1.0M383.8 135.3h1.0M378.7 129.4h1.0M372.0 130.0h1.0M374.9 131.9h1.0M371.9 133.7h1.0M384.2 127.7h1.0M374.4 133.5h1.0M382.5 131.6h1.0M380.4 129.1h1.0M384.8 130.5h1.0M377.4 132.3h1.0M376.4 132.5h1.0M376.1 134.8h1.0M380.7 129.7h1.0M378.4 138.8h1.0M371.5 131.3h1.0M386.2 131.0h1.0M373.1 132.2h1.0M389.9 133.1h1.0M378.5 131.0h1.0M382.2 133.7h1.0M383.3 133.1h1.0M378.1 134.1h1.0M375.3 140.2h1.0M379.5 132.2h1.0M381.8 135.1h1.0M381.6 134.2h1.0M380.7 132.5h1.0M384.7 129.6h1.0M380.0 126.4h1.0M377.4 132.0h1.0M374.5 138.0h1.0M374.7 128.7h1.0M376.7 131.6h1.0M380.9 136.2h1.0M374.6 139.2h1.0M384.8 133.2h1.0M377.9 131.7h1.0M375.5 125.8h1.0M376.8 130.0h1.0M383.1 131.3h1.0M376.1 129.8h1.0M375.2 134.8h1.0M378.4 132.2h1.0M377.4 132.2h1.0M381.0 135.1h1.0M383.2 135.4h1.0M386.0 136.6h1.0M382.4 133.7h1.0M376.9 133.7h1.0M386.4 124.3h1.0M380.7 130.6h1.0M382.6 135.7h1.0M377.6 139.9h1.0M376.7 133.9h1.0M384.2 134.2h1.0M377.9 136.1h1.0M372.2 132.5h1.0M372.5 139.8h1.0M385.5 137.5h1.0M383.5 132.0h1.0M374.7 131.0h1.0M374.4 132.5h1.0M377.3 135.7h1.0M376.9 133.8h1.0M373.8 133.7h1.0M375.1 131.7h1.0M378.4 131.0h1.0M378.8 135.9h1.0M373.3 123.8h1.0M384.3 141.0h1.0M374.9 137.4h1.0M382.3 131.8h1.0M372.5 140.6h1.0M379.7 128.0h1.0M381.0 133.6h1.0M375.3 140.5h1.0M380.6 132.4h1.0M380.0 140.1h1.0M390.0 132.3h1.0M375.5 137.2h1.0M386.5 130.1h1.0M373.5 135.0h1.0M382.2 132.8h1.0M378.6 131.4h1.0M379.5 134.2h1.0M378.7 139.1h1.0M376.2 132.4h1.0M377.4 131.1h1.0M373.7 130.5h1.0M378.8 126.0h1.0M378.1 137.5h1.0M385.6 130.0h1.0M380.4 132.8h1.0M383.8 129.7h1.0M373.9 135.8h1.0M375.2 121.7h1.0M377.6 132.6h1.0M379.5 131.0h1.0M382.2 135.2h1.0M382.1 140.4h1.0M380.9 125.1h1.0M379.6 130.6h1.0M371.7 132.7h1.0M374.8 132.2h1.0M375.6 127.9h1.0M376.6 132.8h1.0M375.9 128.8h1.0M385.8 135.8h1.0M366.7 134.3h1.0M380.8 137.0h1.0M383.3 132.4h1.0M372.1 133.3h1.0M373.3 125.0h1.0M374.7 129.4h1.0M373.3 128.9h1.0M375.9 132.7h1.0M372.7 135.1h1.0M382.2 129.1h1.0M381.0 129.3h1.0M377.1 129.6h1.0M381.8 125.9h1.0M387.6 133.1h1.0M379.2 131.9h1.0M374.2 127.9h1.0M380.6 130.7h1.0M381.2 139.8h1.0M379.6 135.2h1.0M377.3 129.4h1.0M379.6 139.6h1.0M382.2 133.9h1.0M375.8 132.3h1.0M385.8 133.7h1.0M373.7 130.5h1.0M380.9 134.6h1.0M369.9 133.6h1.0M376.9 123.8h1.0M371.3 131.6h1.0M373.7 133.3h1.0M380.0 132.3h1.0M377.0 134.4h1.0M372.4 125.0h1.0M380.3 137.0h1.0M376.1 136.4h1.0M382.3 130.1h1.0M380.4 137.8h1.0M375.5 134.4h1.0M381.0 129.9h1.0M383.7 130.7h1.0M383.1 133.4h1.0M376.0 131.9h1.0M374.7 140.8h1.0M374.8 130.2h1.0M384.2 135.3h1.0M381.7 128.8h1.0M374.1 132.0h1.0M379.7 135.8h1.0M382.9 134.0h1.0M382.2 126.8h1.0M372.0 129.8h1.0M378.4 130.0h1.0M376.8 132.9h1.0M376.1 132.2h1.0M383.6 134.3h1.0M377.2 133.2h1.0M381.0 133.2h1.0M382.7 127.7h1.0M383.5 129.1h1.0M381.7 127.6h1.0M383.5 135.6h1.0M375.9 134.9h1.0M377.0 136.9h1.0M377.9 131.0h1.0M374.6 132.2h1.0M381.2 135.1h1.0M375.8 131.2h1.0M373.9 130.1h1.0M378.2 133.9h1.0M382.4 130.6h1.0M373.5 138.2h1.0M378.8 131.3h1.0M379.4 132.3h1.0M381.9 134.5h1.0M373.5 131.2h1.0M381.8 131.8h1.0M382.3 128.9h1.0M385.4 133.8h1.0M371.8 136.4h1.0M374.3 133.3h1.0M379.6 133.9h1.0M381.8 125.9h1.0M377.2 129.2h1.0M376.2 133.0h1.0M391.7 132.6h1.0M374.5 142.3h1.0M382.4 132.2h1.0M387.6 136.4h1.0M383.2 127.8h1.0M386.3 132.0h1.0M380.7 134.6h1.0M386.6 137.6h1.0M377.8 131.3h1.0M375.3 132.3h1.0M380.6 133.6h1.0M378.6 130.0h1.0M375.9 134.0h1.0M383.2 135.0h1.0M377.2 135.1h1.0M384.3 130.1h1.0M374.1 135.6h1.0M387.2 134.2h1.0M380.5 132.7h1.0M384.2 128.0h1.0M379.6 131.4h1.0M369.1 131.5h1.0M379.0 132.8h1.0M377.9 131.7h1.0M381.0 127.5h1.0M373.9 134.6h1.0M381.5 135.8h1.0M373.0 136.8h1.0M383.1 133.5h1.0M374.2 135.5h1.0M384.3 131.7h1.0M380.9 134.4h1.0M382.7 135.0h1.0M381.9 128.2h1.0M376.8 127.2h1.0M383.4 135.2h1.0M380.9 139.1h1.0M375.0 137.9h1.0M375.0 126.3h1.0M376.9 130.9h1.0M377.7 132.4h1.0M380.8 134.7h1.0M375.8 128.8h1.0M381.8 137.0h1.0M383.0 134.3h1.0M370.8 134.8h1.0M376.0 136.2h1.0M384.9 131.3h1.0M374.5 131.3h1.0M380.9 134.5h1.0M374.3 133.7h1.0M374.8 130.6h1.0M383.7 132.3h1.0M369.2 129.2h1.0M384.3 126.6h1.0M383.9 132.8h1.0M372.9 130.6h1.0M381.5 137.4h1.0M373.2 132.0h1.0M380.5 135.6h1.0M389.9 138.9h1.0M380.7 128.0h1.0M377.6 128.9h1.0M377.5 131.0h1.0M378.0 134.0h1.0M377.7 136.0h1.0M384.0 128.4h1.0M372.2 129.6h1.0M368.8 133.0h1.0M378.9 133.0h1.0M386.7 135.0h1.0M383.3 132.8h1.0M376.0 124.9h1.0M377.0 132.4h1.0M374.1 129.6h1.0M379.2 138.6h1.0M376.7 131.2h1.0M375.2 132.0h1.0M373.4 133.5h1.0M374.5 136.5h1.0M374.0 128.1h1.0M380.5 134.0h1.0M373.4 132.9h1.0M378.6 137.1h1.0M374.3 125.5h1.0M379.3 134.4h1.0M382.1 131.0h1.0M370.4 124.4h1.0M389.3 131.8h1.0M377.6 133.5h1.0M380.0 129.6h1.0M377.0 132.2h1.0M383.7 139.4h1.0M383.4 134.9h1.0M373.7 129.6h1.0M380.1 129.8h1.0M376.1 141.4h1.0M376.9 131.5h1.0M370.2 134.1h1.0M379.8 131.4h1.0M380.7 123.2h1.0M385.0 137.1h1.0M368.7 133.0h1.0M381.9 135.3h1.0M379.2 136.6h1.0M380.7 130.8h1.0M385.2 128.0h1.0M376.4 130.7h1.0M385.8 130.4h1.0M371.9 128.5h1.0M379.6 132.3h1.0M380.0 127.6h1.0M380.0 135.3h1.0M387.1 137.6h1.0M372.5 134.2h1.0M373.8 133.8h1.0M382.0 131.7h1.0M365.4 132.8h1.0M379.0 130.5h1.0M382.1 131.1h1.0M377.4 134.3h1.0M375.2 135.2h1.0M376.5 131.7h1.0M381.4 137.2h1.0M377.4 133.1h1.0M377.2 126.9h1.0M376.7 140.9h1.0M377.6 135.3h1.0M381.4 137.0h1.0M378.7 135.2h1.0M377.8 141.1h1.0M380.5 132.1h1.0M384.6 129.5h1.0M383.3 140.5h1.0M374.2 134.5h1.0M376.2 132.8h1.0M377.9 125.0h1.0M384.2 132.4h1.0M383.1 130.2h1.0M377.0 131.1h1.0M372.2 139.2h1.0M384.5 137.5h1.0M381.8 131.3h1.0M380.8 143.6h1.0M386.3 133.7h1.0M373.8 135.1h1.0M367.0 136.5h1.0M376.2 131.8h1.0M384.2 138.3h1.0M377.8 129.2h1.0M371.0 128.6h1.0M381.9 133.9h1.0M376.2 133.0h1.0M377.9 127.9h1.0M377.3 137.4h1.0M387.0 130.4h1.0M379.8 128.4h1.0M381.9 132.3h1.0M378.9 137.3h1.0M382.7 134.4h1.0M381.3 135.0h1.0M370.1 134.1h1.0M376.8 138.5h1.0M379.0 129.7h1.0M376.1 136.3h1.0M379.3 132.9h1.0M384.8 134.9h1.0M378.3 137.4h1.0M381.9 134.5h1.0M380.7 122.7h1.0M383.7 131.1h1.0M382.3 130.4h1.0M379.1 127.9h1.0M382.8 129.6h1.0M386.0 133.2h1.0M380.7 129.7h1.0M375.1 134.0h1.0M377.6 132.4h1.0M371.9 131.2h1.0M380.5 127.9h1.0M373.7 128.5h1.0M379.6 130.6h1.0M372.9 130.5h1.0M380.1 128.1h1.0M380.0 141.8h1.0M369.7 129.5h1.0M377.3 133.4h1.0M385.1 132.3h1.0M375.2 127.5h1.0M385.6 127.7h1.0M381.3 134.1h1.0M376.4 126.6h1.0M389.6 135.3h1.0M380.3 126.6h1.0M379.8 126.8h1.0M370.9 132.4h1.0M378.5 133.4h1.0M379.2 131.7h1.0M379.1 127.5h1.0M377.6 134.6h1.0M387.4 124.7h1.0M384.7 129.4h1.0M383.7 129.8h1.0M377.8 132.6h1.0M378.3 132.5h1.0M382.7 135.6h1.0M375.0 135.5h1.0M379.6 127.4h1.0M373.4 137.3h1.0M383.8 129.1h1.0M382.3 129.1h1.0M381.0 140.6h1.0M378.1 137.6h1.0M375.0 131.9h1.0M376.3 139.1h1.0M380.6 130.1h1.0M373.0 131.4h1.0M382.0 136.4h1.0M376.0 135.8h1.0M379.2 131.7h1.0M380.1 140.2h1.0M377.3 132.6h1.0M378.3 131.0h1.0M379.8 131.5h1.0M370.4 134.1h1.0M370.8 132.9h1.0M379.2 138.3h1.0M383.6 134.6h1.0M373.8 133.2h1.0M387.7 134.8h1.0M381.5 142.8h1.0M378.9 127.2h1.0M382.7 134.0h1.0M372.9 138.7h1.0M378.0 140.8h1.0M373.5 137.7h1.0M382.5 133.0h1.0M382.7 126.6h1.0M390.2 136.1h1.0M380.5 141.1h1.0M390.2 126.9h1.0M378.9 126.4h1.0M377.7 130.6h1.0M382.8 132.3h1.0M371.5 134.9h1.0M376.1 135.9h1.0M372.6 129.2h1.0M376.6 131.2h1.0M377.9 135.0h1.0M381.0 133.3h1.0M379.7 131.3h1.0M371.4 130.7h1.0M376.6 131.3h1.0M370.2 130.6h1.0M376.5 129.2h1.0M376.9 132.3h1.0M381.3 135.9h1.0M373.8 134.5h1.0M377.5 132.1h1.0M384.2 135.3h1.0M380.1 128.5h1.0M377.4 136.5h1.0M375.5 129.4h1.0M374.1 133.3h1.0M374.4 142.6h1.0M378.7 133.0h1.0M376.4 134.4h1.0M380.8 131.5h1.0M376.7 136.7h1.0M379.4 135.3h1.0M378.8 130.7h1.0M380.8 135.3h1.0M378.8 132.6h1.0M382.8 129.6h1.0M380.9 132.2h1.0M379.5 135.6h1.0M372.3 132.2h1.0M378.7 133.3h1.0M388.5 130.1h1.0M379.5 135.7h1.0M369.9 135.6h1.0M382.5 130.8h1.0M377.8 130.4h1.0M384.5 130.2h1.0M373.0 129.9h1.0M375.6 133.1h1.0M379.0 136.3h1.0M370.9 133.7h1.0M377.7 132.8h1.0M375.9 131.1h1.0M381.2 136.7h1.0M372.1 134.3h1.0M374.8 135.1h1.0M377.3 127.7h1.0M375.6 132.9h1.0M383.2 137.7h1.0M383.5 133.3h1.0M381.0 131.6h1.0M385.2 129.6h1.0M370.5 137.8h1.0M367.2 133.8h1.0M388.1 134.1h1.0M383.6 133.4h1.0M380.8 124.9h1.0M392.2 130.6h1.0M375.3 133.5h1.0M389.1 130.7h1.0M377.8 138.2h1.0M384.2 130.1h1.0M376.2 132.6h1.0M372.1 126.0h1.0M372.8 124.5h1.0M395.1 127.2h1.0M383.5 121.3h1.0M374.2 141.8h1.0M377.1 123.1h1.0M375.0 122.6h1.0M375.6 133.6h1.0M388.7 128.1h1.0M380.4 132.8h1.0M372.5 130.3h1.0M368.9 123.9h1.0M383.9 129.3h1.0M378.1 131.3h1.0M390.5 118.3h1.0M378.8 126.9h1.0M380.7 138.4h1.0M379.7 127.2h1.0M376.8 137.2h1.0M384.0 135.2h1.0M380.4 127.0h1.0M380.8 124.9h1.0M378.2 129.6h1.0M381.1 139.3h1.0M379.4 136.6h1.0M376.9 129.0h1.0M384.0 131.7h1.0M368.6 132.2h1.0M377.4 134.6h1.0M382.4 128.0h1.0M384.3 120.8h1.0M392.4 125.0h1.0M382.2 140.0h1.0M375.5 123.0h1.0M369.5 131.2h1.0M380.1 138.9h1.0M375.5 130.1h1.0M376.7 131.8h1.0M370.2 129.1h1.0M372.9 136.8h1.0M374.3 130.0h1.0M395.5 132.8h1.0M384.7 115.9h1.0M380.1 135.0h1.0M382.0 132.6h1.0M375.1 123.4h1.0M385.6 129.6h1.0M389.9 125.4h1.0M390.1 120.1h1.0M381.3 127.6h1.0M379.1 135.9h1.0M386.1 135.3h1.0M379.7 137.3h1.0M370.5 134.1h1.0M374.6 125.6h1.0M379.3 135.5h1.0M382.3 140.1h1.0M371.9 124.1h1.0M377.6 141.2h1.0M376.7 134.4h1.0M374.6 132.2h1.0M382.7 124.4h1.0M377.4 125.7h1.0M380.5 137.8h1.0M388.4 127.2h1.0M376.5 138.8h1.0M367.0 137.2h1.0M381.6 127.8h1.0M380.2 131.5h1.0M385.7 143.8h1.0M374.7 129.4h1.0M379.4 125.3h1.0M380.9 132.8h1.0M373.0 128.9h1.0M401.7 139.9h1.0M379.0 139.9h1.0M386.0 120.4h1.0M386.9 134.0h1.0M394.9 132.3h1.0M380.8 134.0h1.0M379.9 120.2h1.0M392.5 126.4h1.0M388.6 138.8h1.0M380.3 129.5h1.0M377.3 126.5h1.0M373.9 126.9h1.0M392.0 130.9h1.0M374.3 133.5h1.0M379.9 131.3h1.0M373.9 134.0h1.0M375.0 134.5h1.0M364.7 113.3h1.0M382.9 129.7h1.0M375.8 132.6h1.0M382.5 125.8h1.0M370.8 132.5h1.0M379.6 131.7h1.0M384.7 133.9h1.0M375.2 135.3h1.0M373.9 139.9h1.0M378.6 124.5h1.0M368.9 129.2h1.0M377.8 133.4h1.0M390.1 134.4h1.0M380.1 131.9h1.0M393.0 126.8h1.0M376.0 139.4h1.0M375.7 132.5h1.0M388.9 135.4h1.0M371.9 125.1h1.0M382.5 140.2h1.0M377.3 135.2h1.0M388.1 129.2h1.0M386.7 131.7h1.0M376.6 127.0h1.0M377.9 123.3h1.0M369.3 124.1h1.0M380.6 130.9h1.0M384.4 124.9h1.0M377.6 133.6h1.0M392.1 126.6h1.0M378.2 131.7h1.0M394.0 143.1h1.0M366.9 132.0h1.0M381.4 131.1h1.0M376.8 137.4h1.0M368.4 128.8h1.0M385.8 130.6h1.0M373.7 125.3h1.0M389.1 128.8h1.0M368.2 135.2h1.0M381.7 131.9h1.0M380.3 127.2h1.0M369.9 138.5h1.0M373.4 137.6h1.0M373.6 127.3h1.0M377.5 118.8h1.0M382.5 131.6h1.0M378.2 129.7h1.0M382.6 127.1h1.0M371.3 119.0h1.0M381.1 132.2h1.0M374.7 140.8h1.0M380.7 125.1h1.0M371.3 130.4h1.0M378.2 121.6h1.0M382.9 130.6h1.0M376.7 140.9h1.0M390.9 128.7h1.0M376.8 128.5h1.0M369.3 132.9h1.0M374.9 121.8h1.0M381.6 130.3h1.0M382.1 138.0h1.0M368.5 134.1h1.0M378.3 118.6h1.0M371.0 123.3h1.0M366.8 138.0h1.0M384.9 134.2h1.0M385.0 135.8h1.0M385.7 140.1h1.0M381.7 124.4h1.0M374.9 136.9h1.0M370.6 138.2h1.0M374.4 139.8h1.0M384.5 139.7h1.0M399.3 120.0h1.0M373.8 126.9h1.0M378.5 127.3h1.0M367.1 127.5h1.0M379.8 124.0h1.0M384.5 132.5h1.0M383.0 123.6h1.0M379.4 136.2h1.0M380.9 136.5h1.0M377.0 132.7h1.0M371.2 137.7h1.0M383.1 138.8h1.0" stroke="#000" stroke-width="1.0" fill="none" opacity="0.85"/>
<path d="M423.4 137.3h0.9M430.6 127.5h0.9M425.4 128.4h0.9M424.3 133.6h0.9M434.6 133.5h0.9M431.3 134.2h0.9M424.3 124.4h0.9M428.2 126.9h0.9M428.9 130.2h0.9M428.4 130.3h0.9M429.7 140.2h0.9M428.5 129.6h0.9M426.7 133.1h0.9M426.0 133.1h0.9M423.0 125.5h0.9M424.5 130.1h0.9M436.6 124.2h0.9M426.8 132.7h0.9M426.0 127.6h0.9M430.8 138.6h0.9M432.7 129.1h0.9M424.2 122.7h0.9M426.3 134.6h0.9M430.4 129.0h0.9M423.9 127.8h0.9M428.8 132.1h0.9M434.9 125.6h0.9M437.0 140.1h0.9M422.3 130.2h0.9M433.7 134.1h0.9M431.1 135.4h0.9M430.9 137.9h0.9M426.8 128.8h0.9M431.2 132.3h0.9M428.1 135.6h0.9M421.9 140.4h0.9M433.0 128.5h0.9M425.4 125.9h0.9M431.3 122.7h0.9M427.3 134.0h0.9M426.4 138.3h0.9M429.1 127.3h0.9M423.8 132.5h0.9M429.5 134.2h0.9M426.3 119.9h0.9M430.6 133.0h0.9M434.3 136.0h0.9M430.7 130.8h0.9M426.2 131.7h0.9M417.7 134.4h0.9M422.1 137.3h0.9M426.5 123.5h0.9M426.4 133.1h0.9M423.2 129.7h0.9M426.4 129.0h0.9M431.9 135.6h0.9M423.0 127.6h0.9M441.7 132.4h0.9M429.2 130.2h0.9M430.2 134.8h0.9M427.5 124.7h0.9M434.0 125.2h0.9M427.5 126.7h0.9M430.4 134.3h0.9M427.8 126.3h0.9M427.9 132.5h0.9M430.5 123.5h0.9M428.4 129.7h0.9M429.3 133.1h0.9M427.8 132.0h0.9M427.9 129.6h0.9M426.8 130.7h0.9M433.1 131.2h0.9M424.2 127.3h0.9M430.8 127.6h0.9M428.3 133.6h0.9M427.9 134.6h0.9M432.6 127.0h0.9M434.1 137.1h0.9M430.3 124.7h0.9M435.9 129.6h0.9M433.0 128.9h0.9M433.4 129.8h0.9M434.8 125.4h0.9M432.2 129.8h0.9M433.2 124.7h0.9M426.4 128.4h0.9M425.1 132.8h0.9M429.8 132.6h0.9M430.8 133.5h0.9M434.4 126.0h0.9M436.4 131.3h0.9M431.8 132.0h0.9M430.8 128.7h0.9M423.7 130.9h0.9M436.4 129.0h0.9M424.7 126.2h0.9M424.9 129.3h0.9M429.4 124.3h0.9M436.3 126.8h0.9M433.0 137.2h0.9M432.5 133.7h0.9M425.6 127.5h0.9M432.3 131.0h0.9M431.6 135.4h0.9M433.3 120.5h0.9M428.1 139.3h0.9M426.7 138.5h0.9M426.0 133.2h0.9M429.0 139.4h0.9M427.4 126.6h0.9M424.8 126.9h0.9M430.4 134.2h0.9M432.9 130.7h0.9M430.8 134.8h0.9M424.7 133.5h0.9M426.2 128.0h0.9M427.1 132.4h0.9M426.2 127.8h0.9M424.4 130.2h0.9M430.2 125.9h0.9M429.1 132.2h0.9M426.1 132.4h0.9M432.0 132.0h0.9M425.8 130.3h0.9M427.9 136.7h0.9M432.0 128.9h0.9M428.7 121.2h0.9M430.4 126.8h0.9M432.1 126.6h0.9M431.1 139.4h0.9M431.0 127.6h0.9M426.8 130.4h0.9M431.3 138.4h0.9M425.4 126.9h0.9M432.6 128.3h0.9M427.8 137.7h0.9M430.1 133.8h0.9M433.3 131.9h0.9M428.8 134.1h0.9M433.9 121.2h0.9M420.3 128.3h0.9M424.4 141.5h0.9M429.6 122.7h0.9M429.3 138.7h0.9M430.8 128.1h0.9M429.1 129.6h0.9M429.6 128.4h0.9M427.3 130.2h0.9M426.2 128.9h0.9M423.3 128.5h0.9M418.7 129.2h0.9M434.8 123.9h0.9M434.1 134.2h0.9M422.3 128.4h0.9M426.8 140.3h0.9M422.6 134.6h0.9M427.5 133.8h0.9M423.0 135.0h0.9M422.3 127.0h0.9M429.9 132.7h0.9M422.8 122.7h0.9M426.6 131.7h0.9M428.8 129.1h0.9M429.1 132.0h0.9M427.2 133.2h0.9M426.7 135.7h0.9M433.9 129.1h0.9M424.8 126.6h0.9M425.7 135.7h0.9M427.1 126.5h0.9M427.5 125.5h0.9M432.1 135.9h0.9M432.9 137.4h0.9M425.6 127.2h0.9M427.7 132.5h0.9M429.8 122.6h0.9M426.6 132.8h0.9M426.7 131.0h0.9M421.1 122.8h0.9M429.7 132.5h0.9M432.2 124.3h0.9M428.1 127.6h0.9M429.8 133.8h0.9M425.6 128.4h0.9M430.1 124.5h0.9M429.4 127.0h0.9M433.4 130.4h0.9M428.7 134.4h0.9M427.9 120.8h0.9M416.8 131.5h0.9M428.6 131.9h0.9M430.8 134.9h0.9M414.0 135.2h0.9M427.0 127.6h0.9M424.2 126.9h0.9M447.1 127.2h0.9M427.4 128.8h0.9M421.6 123.1h0.9M422.7 136.9h0.9M432.0 127.7h0.9M441.6 122.0h0.9M408.7 128.3h0.9M420.3 134.4h0.9M440.5 131.7h0.9M421.0 127.1h0.9M429.2 120.1h0.9M429.2 122.5h0.9M418.0 131.4h0.9M415.9 127.1h0.9M417.5 124.3h0.9M426.9 129.3h0.9M418.9 132.7h0.9M419.2 126.9h0.9M444.4 136.2h0.9M423.7 132.5h0.9M423.8 134.5h0.9M422.7 140.1h0.9M428.8 135.9h0.9M440.3 133.8h0.9M424.9 129.6h0.9M428.3 126.0h0.9M426.5 130.5h0.9M411.9 141.3h0.9M420.1 136.8h0.9M446.3 136.6h0.9M416.0 127.7h0.9M423.6 129.3h0.9M431.7 133.5h0.9M439.0 126.8h0.9M441.5 121.8h0.9M415.5 140.1h0.9M435.8 123.2h0.9M423.9 131.6h0.9M441.6 123.7h0.9M434.5 128.4h0.9M421.6 128.1h0.9M442.1 138.7h0.9M426.3 122.6h0.9M419.8 128.0h0.9M435.7 121.9h0.9M427.4 136.9h0.9M430.5 130.6h0.9M439.3 130.8h0.9M432.2 132.3h0.9M447.9 123.6h0.9M441.8 130.6h0.9M416.0 130.3h0.9M424.2 138.1h0.9M418.3 136.1h0.9M433.3 122.8h0.9M425.2 128.0h0.9M448.1 129.5h0.9M421.7 135.8h0.9M403.9 128.1h0.9M441.0 138.3h0.9M395.8 139.7h0.9M401.5 139.1h0.9M415.6 133.4h0.9M422.5 139.2h0.9M425.5 141.8h0.9M412.0 138.0h0.9M415.1 132.3h0.9M409.6 134.1h0.9M400.4 129.9h0.9M420.7 139.9h0.9M416.0 137.2h0.9M409.9 135.2h0.9M415.0 125.6h0.9M407.8 142.0h0.9M400.1 133.4h0.9M396.0 129.8h0.9M420.0 126.1h0.9M419.2 139.1h0.9M421.5 129.9h0.9M423.5 131.8h0.9M408.0 141.7h0.9M411.0 137.1h0.9M397.1 125.6h0.9M402.0 127.3h0.9M420.0 129.7h0.9M424.3 137.0h0.9M399.7 137.6h0.9M403.7 134.5h0.9M395.9 139.7h0.9M418.8 135.4h0.9M415.7 131.3h0.9M397.6 131.0h0.9M417.3 135.1h0.9M397.8 129.6h0.9M408.8 125.7h0.9M394.9 133.1h0.9M397.8 140.6h0.9M397.6 138.2h0.9" stroke="#111" stroke-width="0.9" fill="none" opacity="0.8"/>
<path d="M422.7 95.5h0.9M388.2 91.5h0.9M409.9 93.9h0.9M393.4 95.3h0.9M434.3 99.0h0.9M387.8 93.7h0.9M412.4 95.6h0.9M429.0 98.0h0.9M436.8 99.0h0.9M417.5 94.2h0.9M373.2 94.4h0.9M408.6 94.9h0.9M414.0 93.8h0.9M370.0 93.7h0.9M409.3 94.7h0.9M394.1 93.3h0.9M407.9 94.8h0.9M429.6 98.1h0.9M378.8 95.3h0.9M373.6 95.8h0.9M374.6 92.7h0.9M391.4 96.1h0.9M435.9 98.3h0.9M437.0 99.5h0.9M383.5 94.9h0.9M401.7 95.3h0.9M399.6 94.6h0.9M414.6 95.9h0.9M389.3 94.9h0.9M372.0 94.8h0.9M423.1 97.4h0.9M428.8 99.9h0.9M426.2 98.2h0.9M412.4 94.6h0.9M371.4 96.3h0.9M368.9 95.2h0.9M431.4 98.4h0.9M419.8 97.0h0.9M412.0 95.3h0.9M376.0 93.7h0.9M382.2 93.2h0.9M399.8 95.0h0.9M410.9 96.9h0.9M415.3 95.5h0.9M429.3 98.0h0.9M432.6 98.1h0.9M426.6 97.2h0.9M431.7 97.6h0.9M430.5 103.0h0.9M431.6 100.8h0.9M421.5 96.3h0.9M430.8 98.7h0.9M424.9 98.0h0.9M426.6 97.5h0.9M423.9 97.5h0.9M435.9 100.1h0.9M433.1 97.5h0.9M434.3 102.8h0.9M429.7 101.9h0.9M427.3 99.1h0.9M439.6 103.4h0.9M426.1 101.3h0.9M434.1 100.8h0.9M422.8 93.0h0.9M424.2 101.4h0.9M433.0 99.0h0.9M437.1 105.9h0.9M427.5 100.2h0.9M423.6 98.5h0.9M440.3 100.4h0.9M431.8 99.1h0.9M431.1 100.6h0.9M432.9 103.1h0.9M434.0 103.9h0.9M436.4 104.8h0.9M426.2 110.7h0.9M428.3 100.9h0.9M443.9 109.8h0.9M431.1 91.1h0.9M429.2 113.5h0.9M429.4 103.3h0.9M440.7 105.1h0.9M428.5 106.7h0.9M429.2 115.7h0.9M434.6 107.0h0.9M428.3 105.7h0.9M442.1 105.1h0.9M435.2 95.2h0.9M432.9 112.9h0.9M439.3 110.0h0.9M434.6 110.0h0.9M437.9 123.5h0.9M432.1 101.1h0.9M434.8 106.6h0.9M435.1 113.6h0.9M424.3 84.4h0.9M423.1 102.3h0.9M423.8 94.0h0.9M368.6 84.5h0.9M418.3 100.8h0.9M421.3 88.5h0.9M385.9 89.0h0.9M427.6 108.6h0.9M376.8 109.5h0.9M368.3 99.2h0.9M384.3 111.1h0.9M418.0 107.9h0.9M379.9 82.2h0.9M412.2 108.3h0.9M366.2 114.0h0.9M431.0 95.0h0.9M403.4 106.5h0.9M433.1 106.5h0.9" stroke="#444" stroke-width="0.9" fill="none" opacity="0.6"/>
<line x1="363.50" y1="42.50" x2="483.50" y2="42.50" stroke="#666" stroke-width="1"/>
<line x1="483.50" y1="42.50" x2="483.50" y2="146.50" stroke="#777" stroke-width="1"/>
<line x1="363.50" y1="146.50" x2="483.50" y2="146.50" stroke="#666" stroke-width="1"/>
<line x1="363.50" y1="42.50" x2="363.50" y2="146.50" stroke="#222" stroke-width="1"/>
<line x1="393.50" y1="42.50" x2="393.50" y2="146.50" stroke="#111" stroke-width="1"/>
<line x1="363.50" y1="120.50" x2="483.50" y2="120.50" stroke="#111" stroke-width="1"/>
<path d="M363.5 146.5v2.5M372.5 146.5v1.4M377.8 146.5v1.4M381.6 146.5v1.4M384.5 146.5v1.4M386.8 146.5v1.4M388.9 146.5v1.4M390.6 146.5v1.4M392.1 146.5v1.4M393.5 146.5v2.5M402.5 146.5v1.4M407.8 146.5v1.4M411.6 146.5v1.4M414.5 146.5v1.4M416.8 146.5v1.4M418.9 146.5v1.4M420.6 146.5v1.4M422.1 146.5v1.4M423.5 146.5v2.5M432.5 146.5v1.4M437.8 146.5v1.4M441.6 146.5v1.4M444.5 146.5v1.4M446.8 146.5v1.4M448.9 146.5v1.4M450.6 146.5v1.4M452.1 146.5v1.4M453.5 146.5v2.5M462.5 146.5v1.4M467.8 146.5v1.4M471.6 146.5v1.4M474.5 146.5v1.4M476.8 146.5v1.4M478.9 146.5v1.4M480.6 146.5v1.4M482.1 146.5v1.4M483.5 146.5v2.5M363.5 146.5h-3.2M363.5 138.7h-1.8M363.5 134.1h-1.8M363.5 130.8h-1.8M363.5 128.3h-1.8M363.5 126.3h-1.8M363.5 124.5h-1.8M363.5 123.0h-1.8M363.5 121.7h-1.8M363.5 120.5h-3.2M363.5 112.7h-1.8M363.5 108.1h-1.8M363.5 104.8h-1.8M363.5 102.3h-1.8M363.5 100.3h-1.8M363.5 98.5h-1.8M363.5 97.0h-1.8M363.5 95.7h-1.8M363.5 94.5h-3.2M363.5 86.7h-1.8M363.5 82.1h-1.8M363.5 78.8h-1.8M363.5 76.3h-1.8M363.5 74.3h-1.8M363.5 72.5h-1.8M363.5 71.0h-1.8M363.5 69.7h-1.8M363.5 68.5h-3.2M363.5 60.7h-1.8M363.5 56.1h-1.8M363.5 52.8h-1.8M363.5 50.3h-1.8M363.5 48.3h-1.8M363.5 46.5h-1.8M363.5 45.0h-1.8M363.5 43.7h-1.8M363.5 42.5h-3.2" stroke="#333" stroke-width="0.6" fill="none"/>
<text class="a" x="357.5" y="122.0" font-size="3.6" text-anchor="middle" fill="#444">10<tspan dy="-1.4" font-size="2.52">0</tspan></text>
<text class="a" x="394.5" y="154.1" font-size="3.6" text-anchor="middle" fill="#444">10<tspan dy="-1.4" font-size="2.52">0</tspan></text>
<text class="a" x="357.5" y="96.0" font-size="3.6" text-anchor="middle" fill="#444">10<tspan dy="-1.4" font-size="2.52">1</tspan></text>
<text class="a" x="424.5" y="154.1" font-size="3.6" text-anchor="middle" fill="#444">10<tspan dy="-1.4" font-size="2.52">1</tspan></text>
<text class="a" x="357.5" y="70.0" font-size="3.6" text-anchor="middle" fill="#444">10<tspan dy="-1.4" font-size="2.52">2</tspan></text>
<text class="a" x="454.5" y="154.1" font-size="3.6" text-anchor="middle" fill="#444">10<tspan dy="-1.4" font-size="2.52">2</tspan></text>
<text class="a" x="357.5" y="44.0" font-size="3.6" text-anchor="middle" fill="#444">10<tspan dy="-1.4" font-size="2.52">3</tspan></text>
<text class="a" x="484.5" y="154.1" font-size="3.6" text-anchor="middle" fill="#444">10<tspan dy="-1.4" font-size="2.52">3</tspan></text>
<text class="a" x="364.7" y="46.8" font-size="4.2" fill="#222">B1</text>
<text class="a" x="365.3" y="51.9" font-size="4.6" fill="#111">0.3%</text>
<text class="a" x="394.7" y="46.8" font-size="4.2" fill="#222">B2</text>
<text class="a" x="395.3" y="51.9" font-size="4.6" fill="#111">2.2%</text>
<text class="a" x="364.7" y="125.0" font-size="4.2" fill="#222">B3</text>
<rect x="364.90" y="126.30" width="12.50" height="4.60" fill="#fff"/>
<text class="a" x="365.3" y="130.1" font-size="4.6" fill="#111">87.7%</text>
<text class="a" x="394.7" y="125.0" font-size="4.2" fill="#222">B4</text>
<text class="a" x="395.3" y="130.1" font-size="4.6" fill="#111">9.8%</text>
<text class="s" x="407.3" y="55.0" font-size="13.2" textLength="79.0" lengthAdjust="spacingAndGlyphs">Trastuzumab</text>
<text class="s" x="431.3" y="71.2" font-size="13.2" textLength="38.5" lengthAdjust="spacingAndGlyphs">+ <tspan style="font-weight:normal" font-size="16">α</tspan>-Fc</text>
<text class="s" x="432.3" y="87.0" font-size="13.2" textLength="38.5" lengthAdjust="spacingAndGlyphs">12.3%</text>
<path d="M67.0 256.8h1.0M75.1 257.6h1.0M71.0 256.2h1.0M73.6 261.3h1.0M77.4 261.2h1.0M76.3 248.3h1.0M66.1 259.8h1.0M81.3 261.3h1.0M76.2 249.8h1.0M73.9 259.2h1.0M83.9 256.0h1.0M73.5 254.2h1.0M82.0 261.2h1.0M66.8 262.7h1.0M71.6 251.2h1.0M68.0 254.4h1.0M89.0 268.5h1.0M69.9 254.6h1.0M77.4 259.3h1.0M74.0 250.7h1.0M74.4 254.6h1.0M67.0 258.1h1.0M68.7 250.0h1.0M84.7 261.5h1.0M84.3 258.0h1.0M74.4 257.1h1.0M69.2 260.7h1.0M78.0 256.2h1.0M66.5 257.0h1.0M85.3 263.7h1.0M81.3 256.0h1.0M77.3 259.9h1.0M77.6 262.0h1.0M73.0 247.5h1.0M69.2 260.4h1.0M82.3 257.5h1.0M79.5 257.8h1.0M77.5 255.5h1.0M74.4 262.6h1.0M75.1 257.3h1.0M83.0 261.7h1.0M74.5 258.6h1.0M71.1 258.1h1.0M78.3 257.5h1.0M77.4 259.1h1.0M77.0 255.4h1.0M71.4 256.5h1.0M85.2 256.5h1.0M73.1 255.4h1.0M70.2 259.6h1.0M71.3 261.4h1.0M81.4 260.0h1.0M82.1 257.1h1.0M67.1 257.2h1.0M80.0 250.9h1.0M70.0 262.2h1.0M78.9 263.3h1.0M80.1 257.8h1.0M78.9 261.2h1.0M76.4 256.6h1.0M78.3 256.1h1.0M89.5 254.2h1.0M68.4 251.9h1.0M82.2 255.8h1.0M77.4 256.6h1.0M78.1 251.3h1.0M77.0 255.0h1.0M82.4 260.2h1.0M69.8 253.3h1.0M79.6 262.6h1.0M80.7 256.8h1.0M82.5 247.4h1.0M73.7 253.3h1.0M71.0 259.9h1.0M78.1 258.7h1.0M75.9 260.2h1.0M80.8 255.0h1.0M81.6 253.5h1.0M86.1 251.9h1.0M75.0 252.8h1.0M76.8 263.2h1.0M72.5 265.1h1.0M84.2 259.2h1.0M73.4 261.4h1.0M81.8 257.3h1.0M90.0 254.6h1.0M69.4 256.6h1.0M79.7 264.8h1.0M67.1 258.2h1.0M83.4 254.6h1.0M74.1 252.3h1.0M80.7 261.1h1.0M79.8 258.6h1.0M81.9 257.0h1.0M80.5 261.0h1.0M83.6 259.7h1.0M77.0 260.6h1.0M68.2 249.9h1.0M85.3 258.1h1.0M70.9 255.0h1.0M75.8 257.8h1.0M72.4 261.8h1.0M67.3 269.6h1.0M70.7 264.7h1.0M80.2 250.2h1.0M69.9 257.8h1.0M78.1 255.7h1.0M76.6 258.2h1.0M70.4 257.8h1.0M88.9 254.7h1.0M71.1 260.4h1.0M83.9 262.0h1.0M73.1 257.2h1.0M77.7 256.6h1.0M78.8 262.2h1.0M79.6 257.5h1.0M75.5 265.2h1.0M69.9 266.2h1.0M80.6 257.9h1.0M72.5 265.4h1.0M83.2 261.4h1.0M88.0 249.7h1.0M77.1 256.2h1.0M72.6 257.8h1.0M79.5 259.8h1.0M75.8 251.8h1.0M79.6 260.1h1.0M88.2 261.5h1.0M76.7 252.5h1.0M91.5 254.6h1.0M77.7 260.7h1.0M79.3 263.3h1.0M70.9 254.5h1.0M77.5 252.2h1.0M73.2 263.5h1.0M78.2 257.1h1.0M73.4 257.7h1.0M76.4 252.8h1.0M80.9 251.9h1.0M83.6 256.0h1.0M78.2 253.7h1.0M86.6 263.5h1.0M88.2 261.4h1.0M84.0 254.9h1.0M83.8 255.6h1.0M76.3 251.6h1.0M76.9 259.3h1.0M76.2 252.7h1.0M81.6 261.5h1.0M76.1 260.9h1.0M82.0 253.2h1.0M76.4 249.4h1.0M70.8 259.4h1.0M71.7 259.2h1.0M78.6 248.5h1.0M73.9 264.1h1.0M76.7 258.0h1.0M72.7 250.5h1.0M75.5 253.7h1.0M77.2 249.0h1.0M84.3 265.0h1.0M72.4 258.9h1.0M71.6 261.2h1.0M71.9 256.9h1.0M83.8 259.8h1.0M74.8 250.9h1.0M67.7 262.8h1.0M79.4 257.8h1.0M83.6 258.1h1.0M72.5 257.0h1.0M76.0 257.4h1.0M90.5 260.0h1.0M78.1 256.4h1.0M72.8 253.2h1.0M66.1 255.5h1.0M68.1 249.4h1.0M71.3 248.6h1.0M84.2 263.0h1.0M71.2 266.5h1.0M80.3 246.4h1.0M76.7 253.1h1.0M66.8 256.4h1.0M83.0 259.5h1.0M68.4 254.6h1.0M72.3 262.5h1.0M76.0 253.2h1.0M71.5 248.8h1.0M71.8 261.4h1.0M65.9 258.3h1.0M75.9 261.1h1.0M70.1 261.5h1.0M85.3 267.6h1.0M67.4 257.4h1.0M75.4 258.0h1.0M71.0 261.3h1.0M89.7 264.1h1.0M71.2 255.0h1.0M80.6 258.1h1.0M72.3 262.9h1.0M79.5 262.0h1.0M75.6 263.1h1.0M73.9 252.6h1.0M76.5 251.4h1.0M83.6 260.7h1.0M67.1 258.3h1.0M81.3 255.9h1.0M78.9 254.9h1.0M76.2 257.1h1.0M79.3 253.2h1.0M70.2 259.0h1.0M73.7 259.8h1.0M73.7 251.7h1.0M80.7 258.7h1.0M80.7 256.0h1.0M74.5 263.1h1.0M67.0 265.2h1.0M79.4 257.2h1.0M77.0 260.2h1.0M72.2 258.7h1.0M71.2 249.4h1.0M77.7 257.9h1.0M80.2 260.0h1.0M80.5 261.0h1.0M70.6 262.9h1.0M91.6 255.0h1.0M69.4 260.5h1.0M81.7 262.0h1.0M85.2 251.4h1.0M78.6 259.5h1.0M83.6 253.6h1.0M76.7 255.9h1.0M75.6 256.9h1.0M75.7 249.7h1.0M76.3 257.8h1.0M74.4 241.8h1.0M72.6 254.6h1.0M71.6 264.6h1.0M81.7 256.7h1.0M71.1 259.6h1.0M73.1 264.1h1.0M82.8 257.0h1.0M80.0 254.0h1.0M67.6 261.2h1.0M85.7 256.2h1.0M73.6 249.6h1.0M88.6 252.2h1.0M71.1 256.6h1.0M83.3 257.7h1.0M76.4 257.6h1.0M81.3 257.3h1.0M77.4 257.2h1.0M70.3 263.4h1.0M72.6 251.7h1.0M74.1 257.6h1.0M81.1 251.0h1.0M69.4 258.3h1.0M78.7 252.7h1.0M70.1 258.3h1.0M75.7 250.4h1.0M71.6 264.1h1.0M70.6 262.1h1.0M67.9 264.1h1.0M85.5 254.7h1.0M72.7 260.3h1.0M69.5 259.9h1.0M83.4 258.7h1.0M78.3 256.8h1.0M82.2 253.9h1.0M85.5 257.4h1.0M74.7 250.3h1.0M74.0 258.5h1.0M83.5 250.4h1.0M75.8 254.5h1.0M69.8 257.5h1.0M72.2 261.3h1.0M65.8 248.9h1.0M79.4 256.0h1.0M77.2 253.2h1.0M70.6 254.2h1.0M76.2 253.8h1.0M74.1 253.7h1.0M77.8 252.5h1.0M76.4 257.9h1.0M81.9 254.2h1.0M70.1 250.9h1.0M80.8 254.7h1.0M82.1 257.2h1.0M75.0 249.3h1.0M72.7 261.0h1.0M73.1 260.5h1.0M67.3 262.0h1.0M92.2 262.4h1.0M78.3 252.0h1.0M73.5 254.6h1.0M77.5 248.6h1.0M71.6 261.0h1.0M77.3 260.8h1.0M81.3 252.4h1.0M68.9 259.6h1.0M76.7 257.8h1.0M71.9 262.0h1.0M79.3 262.5h1.0M74.5 260.6h1.0M76.2 253.3h1.0M76.1 250.2h1.0M75.5 258.3h1.0M80.4 252.8h1.0M69.0 254.3h1.0M91.2 258.1h1.0M72.2 254.5h1.0M86.4 252.4h1.0M75.9 257.2h1.0M72.4 254.3h1.0M67.1 253.8h1.0M83.8 263.8h1.0M74.9 260.6h1.0M79.1 258.0h1.0M75.7 262.9h1.0M79.7 256.5h1.0M75.2 261.6h1.0M73.2 254.3h1.0M75.0 255.3h1.0M83.6 259.1h1.0M76.0 255.2h1.0M84.4 259.4h1.0M88.2 261.5h1.0M75.3 255.1h1.0M74.9 258.3h1.0M80.9 259.6h1.0M85.3 250.8h1.0M76.7 251.2h1.0M70.7 254.8h1.0M72.8 253.2h1.0M68.0 262.5h1.0M74.7 261.8h1.0M70.3 247.3h1.0M73.2 261.4h1.0M73.4 259.2h1.0M70.5 263.6h1.0M78.9 262.1h1.0M74.9 263.1h1.0M76.9 255.3h1.0M72.9 257.7h1.0M71.4 252.2h1.0M77.2 260.6h1.0M74.9 261.2h1.0M85.4 251.9h1.0M77.9 253.2h1.0M72.9 258.3h1.0M81.2 259.9h1.0M80.1 265.5h1.0M74.4 262.3h1.0M84.6 259.7h1.0M66.5 256.8h1.0M74.9 250.4h1.0M76.2 260.8h1.0M75.0 256.7h1.0M84.7 254.8h1.0M71.2 257.7h1.0M82.8 260.1h1.0M76.9 255.3h1.0M83.4 261.4h1.0M66.8 259.0h1.0M79.9 254.7h1.0M69.2 256.2h1.0M66.7 260.0h1.0M73.6 249.7h1.0M76.4 262.7h1.0M69.4 255.9h1.0M86.7 258.3h1.0M73.4 258.3h1.0M80.9 253.1h1.0M75.9 250.3h1.0M67.6 250.7h1.0M81.2 258.9h1.0M80.6 262.9h1.0M76.8 258.5h1.0M78.8 259.6h1.0M70.5 256.3h1.0M75.6 257.7h1.0M72.3 256.9h1.0M78.1 258.3h1.0M79.8 261.1h1.0M79.6 261.8h1.0M81.2 263.6h1.0M80.0 254.8h1.0M89.6 262.5h1.0M83.5 260.7h1.0M76.8 252.5h1.0M78.9 255.9h1.0M74.2 248.1h1.0M85.2 252.3h1.0M70.3 259.5h1.0M79.7 254.0h1.0M76.5 258.6h1.0M77.4 259.8h1.0M80.8 255.9h1.0M67.4 267.0h1.0M74.3 253.1h1.0M80.7 260.1h1.0M73.0 267.9h1.0M76.3 258.9h1.0M78.3 256.5h1.0M78.3 251.7h1.0M74.3 265.7h1.0M81.4 255.7h1.0M73.2 250.9h1.0M75.8 256.7h1.0M72.9 250.6h1.0M77.4 259.3h1.0M82.9 259.8h1.0M85.0 262.8h1.0M75.9 252.9h1.0M78.9 261.7h1.0M67.8 252.0h1.0M80.4 255.1h1.0M84.7 258.5h1.0M73.4 251.6h1.0M79.9 249.9h1.0M69.2 251.7h1.0M86.1 265.0h1.0M75.2 255.8h1.0M80.4 263.0h1.0M72.0 267.2h1.0M75.3 262.5h1.0M72.6 266.3h1.0M75.3 251.9h1.0M87.5 254.5h1.0M76.5 252.0h1.0M80.3 258.3h1.0M74.9 255.7h1.0M73.3 254.3h1.0M68.6 262.8h1.0M81.5 251.4h1.0M69.9 259.3h1.0M89.2 256.6h1.0M74.7 256.4h1.0M77.9 256.7h1.0M82.6 261.8h1.0M79.6 264.4h1.0M75.2 255.1h1.0M93.2 249.0h1.0M67.7 247.1h1.0M78.5 252.8h1.0M82.5 248.2h1.0M75.7 255.8h1.0M70.4 262.4h1.0M74.3 259.5h1.0M73.5 258.2h1.0M74.0 257.8h1.0M75.9 254.5h1.0M79.0 256.7h1.0M71.0 252.9h1.0M79.0 263.4h1.0M69.1 255.6h1.0M79.0 262.1h1.0M80.5 252.3h1.0M76.7 261.5h1.0M77.8 256.5h1.0M69.8 258.2h1.0M76.1 257.6h1.0M84.9 262.7h1.0M72.0 258.5h1.0M74.7 257.9h1.0M85.7 261.5h1.0M76.7 254.6h1.0M75.6 259.1h1.0M73.7 262.4h1.0M76.6 252.3h1.0M88.0 244.7h1.0M75.0 257.0h1.0M82.1 262.4h1.0M84.7 264.4h1.0M78.3 258.0h1.0M82.2 257.4h1.0M69.4 255.5h1.0M80.2 260.2h1.0M70.3 262.8h1.0M78.2 250.9h1.0M79.1 261.9h1.0M79.5 256.1h1.0M72.0 262.4h1.0M77.8 257.5h1.0M74.2 252.9h1.0M65.9 256.0h1.0M82.7 260.9h1.0M72.7 264.2h1.0M75.2 253.1h1.0M82.0 263.6h1.0M74.3 252.1h1.0M76.1 246.8h1.0M76.8 264.2h1.0M78.0 254.3h1.0M80.5 255.3h1.0M83.6 255.9h1.0M88.0 255.9h1.0M77.6 253.4h1.0M69.3 259.0h1.0M78.5 253.2h1.0M79.7 255.7h1.0M73.4 257.2h1.0M78.7 260.7h1.0M83.5 259.2h1.0M72.4 254.5h1.0M79.7 248.5h1.0M74.3 254.3h1.0M75.0 258.3h1.0M86.5 268.6h1.0M84.9 264.1h1.0M65.2 264.3h1.0M89.1 247.4h1.0M101.6 253.0h1.0M76.6 251.3h1.0M70.2 264.6h1.0M78.6 254.3h1.0M87.6 250.4h1.0M67.4 253.0h1.0M68.4 261.9h1.0M73.7 249.6h1.0M71.3 243.0h1.0M77.7 257.7h1.0M82.2 255.3h1.0M80.0 250.4h1.0M76.2 258.1h1.0M77.4 257.4h1.0M76.0 251.6h1.0M67.4 261.2h1.0M73.9 251.4h1.0M68.7 263.6h1.0M76.9 264.4h1.0M75.8 248.7h1.0M84.8 259.2h1.0M69.4 254.8h1.0M66.2 262.8h1.0M71.8 260.4h1.0M78.6 255.2h1.0M79.7 255.3h1.0M82.6 252.9h1.0M82.3 258.7h1.0M85.8 250.4h1.0M76.3 250.0h1.0M69.1 266.6h1.0M80.9 262.5h1.0M68.1 242.7h1.0M87.1 263.4h1.0M68.6 266.5h1.0M74.1 261.3h1.0M74.1 268.2h1.0M70.8 241.9h1.0M72.8 258.3h1.0M78.8 251.9h1.0M73.7 249.0h1.0M73.6 257.6h1.0M78.4 268.6h1.0M80.4 248.9h1.0M76.7 256.9h1.0M65.9 262.1h1.0M95.2 261.7h1.0M83.8 264.5h1.0M74.7 263.8h1.0M67.9 258.3h1.0M83.1 266.2h1.0M73.1 254.9h1.0M80.7 256.4h1.0M77.4 262.6h1.0M68.3 263.1h1.0M79.8 255.1h1.0M75.6 263.6h1.0M77.9 249.1h1.0M84.6 259.8h1.0M80.4 250.1h1.0M90.1 259.6h1.0M74.1 253.8h1.0M75.0 265.6h1.0M68.8 264.4h1.0M68.8 261.1h1.0M89.8 252.1h1.0M85.1 256.9h1.0M66.6 258.4h1.0M82.5 252.0h1.0M73.3 253.0h1.0M68.3 255.5h1.0M84.2 253.5h1.0M88.5 254.3h1.0M69.1 264.5h1.0M90.1 252.4h1.0M81.9 248.9h1.0M71.9 254.4h1.0M83.1 248.2h1.0M70.9 252.2h1.0M77.0 248.4h1.0M78.1 246.5h1.0M84.3 247.8h1.0M88.5 251.1h1.0M65.1 260.3h1.0M96.3 261.2h1.0M82.6 248.7h1.0M86.1 257.9h1.0M75.9 266.6h1.0M67.6 264.6h1.0M84.3 252.7h1.0M77.2 257.8h1.0M81.8 250.2h1.0M73.7 257.6h1.0M76.3 257.1h1.0M78.5 255.7h1.0M71.0 264.2h1.0M69.6 254.8h1.0M67.2 249.0h1.0M80.4 256.7h1.0M74.7 260.1h1.0M74.3 261.7h1.0M94.0 259.4h1.0M73.4 268.5h1.0M83.0 245.4h1.0M89.2 258.5h1.0M84.5 249.0h1.0M67.6 252.5h1.0M81.5 249.2h1.0" stroke="#000" stroke-width="1.0" fill="none" opacity="0.85"/>
<path d="M122.4 260.7h0.9M122.7 256.8h0.9M121.4 248.2h0.9M125.6 255.6h0.9M118.7 260.8h0.9M130.2 260.4h0.9M123.4 250.8h0.9M125.5 257.0h0.9M125.1 253.4h0.9M120.9 252.7h0.9M125.6 253.9h0.9M134.5 254.9h0.9M128.3 254.0h0.9M125.1 251.6h0.9M123.5 249.1h0.9M115.4 262.5h0.9M120.6 258.2h0.9M125.4 253.5h0.9M129.7 253.6h0.9M128.2 254.5h0.9M130.9 260.7h0.9M126.3 261.4h0.9M128.6 263.5h0.9M125.4 248.9h0.9M127.1 257.3h0.9M124.1 255.2h0.9M124.6 250.3h0.9M134.7 252.5h0.9M120.5 248.8h0.9M121.7 256.0h0.9M133.5 259.0h0.9M122.3 250.3h0.9M120.3 255.8h0.9M130.4 253.9h0.9M134.2 265.3h0.9M126.8 246.0h0.9M131.5 255.7h0.9M129.4 260.8h0.9M120.9 256.5h0.9M126.9 252.7h0.9M129.5 255.6h0.9M123.9 265.0h0.9M126.8 263.9h0.9M125.2 261.1h0.9M122.2 256.9h0.9M131.5 246.0h0.9M128.7 254.9h0.9M131.5 257.0h0.9M125.6 250.2h0.9M140.9 252.7h0.9M124.3 252.8h0.9M124.4 257.2h0.9M119.2 261.2h0.9M124.7 259.0h0.9M115.3 253.7h0.9M124.5 254.4h0.9M122.6 257.6h0.9M128.1 251.6h0.9M116.0 259.6h0.9M124.4 261.2h0.9M130.4 255.7h0.9M118.7 254.5h0.9M122.3 262.0h0.9M117.4 260.5h0.9M118.2 253.5h0.9M118.8 252.9h0.9M123.7 257.9h0.9M123.0 259.4h0.9M134.9 256.9h0.9M120.1 255.3h0.9M125.5 254.5h0.9M131.8 261.6h0.9M136.1 258.6h0.9M112.4 255.6h0.9M129.4 252.4h0.9M122.9 260.5h0.9M126.7 250.9h0.9M123.0 241.7h0.9M126.0 250.4h0.9M125.7 250.6h0.9M121.3 253.8h0.9M140.1 250.6h0.9M119.9 253.7h0.9M131.4 259.9h0.9M129.5 254.7h0.9M126.6 252.6h0.9M125.0 252.4h0.9M118.6 251.5h0.9M135.8 258.1h0.9M122.2 255.7h0.9M123.7 261.9h0.9M125.8 253.2h0.9M129.4 257.7h0.9M122.5 252.6h0.9M126.7 248.5h0.9M121.3 260.9h0.9M130.3 261.4h0.9M123.7 253.4h0.9M124.6 253.9h0.9M132.4 255.1h0.9M132.8 252.8h0.9M127.9 263.8h0.9M122.2 253.1h0.9M122.9 248.6h0.9M124.4 253.2h0.9M137.1 253.9h0.9M115.1 260.6h0.9M130.8 256.0h0.9M127.4 259.5h0.9M123.1 256.4h0.9M126.7 264.0h0.9M133.1 257.0h0.9M119.1 260.3h0.9M125.7 261.7h0.9M126.2 257.0h0.9M129.3 252.7h0.9M122.6 267.0h0.9M121.6 260.6h0.9M129.4 260.0h0.9M132.9 249.9h0.9M130.8 246.5h0.9M126.2 257.8h0.9M131.2 261.3h0.9M121.2 254.9h0.9M125.1 252.9h0.9M121.8 253.1h0.9M131.8 262.6h0.9M129.7 264.1h0.9M126.4 251.1h0.9M122.6 257.1h0.9M131.1 261.9h0.9M121.4 260.7h0.9M123.2 259.0h0.9M130.6 263.2h0.9M123.3 257.3h0.9M128.1 254.2h0.9M126.4 259.0h0.9M117.6 253.2h0.9M137.6 258.3h0.9M123.1 247.5h0.9M121.1 258.6h0.9M129.4 258.3h0.9M128.9 253.3h0.9M134.0 250.9h0.9M128.5 254.9h0.9M117.3 260.4h0.9M124.5 259.5h0.9M132.4 257.0h0.9M122.6 255.2h0.9M125.6 263.0h0.9M130.3 263.7h0.9M129.8 252.6h0.9M130.6 260.8h0.9M125.3 258.4h0.9M124.3 250.3h0.9M125.5 259.8h0.9M124.1 245.6h0.9M121.9 261.3h0.9M127.1 261.5h0.9M122.1 254.2h0.9M120.9 252.5h0.9M128.5 256.9h0.9M123.5 257.6h0.9M119.3 254.4h0.9M118.4 249.1h0.9M119.1 251.0h0.9M133.9 262.7h0.9M132.3 253.5h0.9M129.1 250.8h0.9M123.2 257.3h0.9M117.8 257.1h0.9M129.0 246.4h0.9M113.6 254.9h0.9M125.3 256.9h0.9M120.2 258.9h0.9M126.5 252.7h0.9M134.2 257.4h0.9M129.7 264.9h0.9M123.4 255.2h0.9M117.1 255.1h0.9M128.1 268.0h0.9M128.8 257.1h0.9M119.5 252.2h0.9M116.6 249.7h0.9M126.5 257.6h0.9M121.3 255.2h0.9M121.9 259.1h0.9M129.1 253.5h0.9M123.6 250.4h0.9M123.6 266.5h0.9M125.8 260.3h0.9M128.9 263.2h0.9M124.3 251.9h0.9M131.2 260.6h0.9M122.6 261.4h0.9M125.8 256.0h0.9M135.2 258.7h0.9M127.5 254.7h0.9M126.9 261.2h0.9M128.2 252.6h0.9M128.2 255.6h0.9M127.5 255.3h0.9M114.9 248.5h0.9M124.0 245.7h0.9M118.3 265.8h0.9M129.4 254.0h0.9M127.6 245.6h0.9M127.2 260.9h0.9M126.9 250.0h0.9M130.8 253.7h0.9M123.0 257.1h0.9M124.4 265.9h0.9M125.2 266.4h0.9M128.2 250.3h0.9M125.9 256.4h0.9M133.2 262.3h0.9M138.9 253.0h0.9M123.7 267.3h0.9M121.4 257.9h0.9M134.1 251.4h0.9M124.1 252.6h0.9M128.6 258.1h0.9M125.7 259.3h0.9M121.9 254.4h0.9M128.3 265.8h0.9M125.7 256.5h0.9M132.6 256.6h0.9M132.5 257.3h0.9M131.8 257.1h0.9M121.2 252.1h0.9M128.1 265.2h0.9M135.4 254.7h0.9M138.6 250.9h0.9M121.6 260.6h0.9M118.2 260.5h0.9M127.8 259.2h0.9M119.8 258.0h0.9M130.7 256.0h0.9M131.2 256.3h0.9M127.7 254.7h0.9M119.0 255.4h0.9M128.5 252.6h0.9M116.0 248.8h0.9M132.6 255.1h0.9M122.0 262.1h0.9M125.0 249.0h0.9M123.7 252.0h0.9M125.0 251.8h0.9M126.3 258.4h0.9M123.0 255.2h0.9M125.1 260.2h0.9M122.3 259.8h0.9M132.3 255.3h0.9M121.0 254.7h0.9M116.9 253.6h0.9M119.8 255.4h0.9M124.0 258.7h0.9M126.5 258.2h0.9M125.7 257.5h0.9M120.1 259.4h0.9M132.6 261.5h0.9M119.1 258.2h0.9M117.6 259.8h0.9M124.9 254.0h0.9M122.1 255.1h0.9M125.9 251.6h0.9M126.2 257.4h0.9M128.6 256.0h0.9M125.9 267.3h0.9M131.1 257.8h0.9M118.8 259.2h0.9M128.8 243.5h0.9M125.1 258.0h0.9M126.1 256.7h0.9M125.1 262.8h0.9M127.9 254.8h0.9M124.8 266.2h0.9M121.5 253.7h0.9M127.6 256.9h0.9M127.5 262.7h0.9M131.7 258.2h0.9M126.1 255.9h0.9M124.7 261.0h0.9M119.5 251.2h0.9M123.6 251.6h0.9M122.2 261.9h0.9M114.4 259.0h0.9M119.2 255.0h0.9M123.0 251.4h0.9M118.3 256.5h0.9M110.8 246.0h0.9M123.9 261.5h0.9M135.4 254.8h0.9M121.8 254.8h0.9M128.3 260.7h0.9M121.0 258.5h0.9M125.8 261.7h0.9M123.8 255.2h0.9M121.6 249.9h0.9M127.3 259.6h0.9M131.7 257.5h0.9M123.6 251.8h0.9M120.0 252.7h0.9M127.7 256.6h0.9M114.2 255.7h0.9M124.5 251.2h0.9M125.8 258.7h0.9M120.6 249.7h0.9M124.3 257.5h0.9M124.6 263.6h0.9M126.7 251.4h0.9M129.9 253.1h0.9M129.5 256.7h0.9M132.3 251.4h0.9M129.7 258.2h0.9M121.3 259.6h0.9M137.6 257.9h0.9M122.0 255.5h0.9M132.6 257.4h0.9M133.6 253.1h0.9M132.7 248.6h0.9M125.1 254.8h0.9M123.4 262.1h0.9M122.9 257.9h0.9M135.5 260.2h0.9M123.8 252.7h0.9M115.6 258.0h0.9M130.5 261.5h0.9M127.2 266.6h0.9M129.9 245.1h0.9M121.4 260.0h0.9M123.9 260.2h0.9M139.2 252.5h0.9M137.4 255.8h0.9M118.4 256.7h0.9M130.6 253.4h0.9M134.1 252.0h0.9M125.0 260.6h0.9M124.9 253.5h0.9M125.9 259.3h0.9M134.9 262.7h0.9M135.6 256.1h0.9M117.4 256.0h0.9M123.8 251.4h0.9M123.3 255.9h0.9M126.2 260.6h0.9M121.2 261.7h0.9M126.2 259.7h0.9M132.4 250.3h0.9M134.2 252.8h0.9M128.0 261.4h0.9M130.7 248.7h0.9M126.8 261.7h0.9M125.3 255.8h0.9M126.3 264.1h0.9M123.2 251.7h0.9M120.3 253.7h0.9M124.8 257.9h0.9M125.6 247.9h0.9M117.8 259.5h0.9M129.7 249.7h0.9M130.8 244.5h0.9M138.0 259.0h0.9M117.4 258.7h0.9M125.8 254.0h0.9M124.1 255.1h0.9M125.5 251.9h0.9M123.0 258.9h0.9M128.7 249.8h0.9M123.4 263.7h0.9M129.7 264.1h0.9M119.0 251.2h0.9M114.7 246.9h0.9M124.0 251.2h0.9M120.3 252.9h0.9M125.0 260.2h0.9M128.9 247.8h0.9M133.7 254.6h0.9M120.8 256.1h0.9M123.9 249.5h0.9M134.1 253.4h0.9M122.9 258.8h0.9M134.7 258.5h0.9M121.3 258.3h0.9M131.7 258.0h0.9M129.4 253.9h0.9M125.6 248.1h0.9M122.3 250.7h0.9M126.0 263.4h0.9M114.3 249.9h0.9M121.2 255.8h0.9M132.0 252.5h0.9M121.9 262.0h0.9M127.9 258.7h0.9M130.3 252.6h0.9M127.2 253.0h0.9M122.2 256.8h0.9M128.3 250.1h0.9M122.0 259.1h0.9M126.9 259.4h0.9M124.4 252.3h0.9M130.1 259.1h0.9M111.2 260.4h0.9M122.0 259.4h0.9M134.2 254.9h0.9M120.9 257.4h0.9M126.5 258.9h0.9M118.7 257.4h0.9M130.7 259.6h0.9M129.3 262.0h0.9M121.7 262.1h0.9M127.1 251.4h0.9M124.4 257.5h0.9M127.7 262.7h0.9M127.0 253.7h0.9M137.4 254.6h0.9M121.7 260.7h0.9M123.8 252.4h0.9M120.4 261.9h0.9M120.5 256.7h0.9M123.6 255.3h0.9M121.7 256.9h0.9M129.1 261.3h0.9M124.1 250.6h0.9M118.3 256.2h0.9M113.0 262.6h0.9M126.1 256.8h0.9M118.7 253.1h0.9M122.1 259.5h0.9M123.9 259.2h0.9M128.7 247.0h0.9M124.8 262.3h0.9M123.3 256.8h0.9M125.3 250.3h0.9M137.4 255.6h0.9M129.3 254.1h0.9M133.3 261.8h0.9M132.2 260.8h0.9M129.7 262.9h0.9M128.1 256.9h0.9M130.2 251.9h0.9M112.8 260.1h0.9M126.8 252.8h0.9M124.6 251.6h0.9M121.6 257.1h0.9M126.6 260.2h0.9M125.5 259.3h0.9M129.6 252.9h0.9M117.2 252.9h0.9M124.7 253.7h0.9M137.5 253.0h0.9M128.5 252.6h0.9M129.6 250.2h0.9M131.0 257.1h0.9M123.9 250.5h0.9M134.7 253.5h0.9M133.5 244.7h0.9M119.7 264.9h0.9M135.3 256.3h0.9M131.2 259.2h0.9M124.1 256.9h0.9M120.0 249.8h0.9M126.6 259.8h0.9M126.8 250.4h0.9M130.4 256.7h0.9M129.9 254.9h0.9M124.6 261.3h0.9M133.2 250.5h0.9M120.2 260.9h0.9M127.9 256.5h0.9M120.9 261.1h0.9M127.0 257.3h0.9M128.0 253.7h0.9M128.1 256.9h0.9M129.8 258.1h0.9M119.3 252.9h0.9M124.6 261.8h0.9M122.6 261.7h0.9M131.6 260.5h0.9M137.8 256.2h0.9M127.7 262.1h0.9M128.1 261.0h0.9M125.3 263.0h0.9M127.8 247.1h0.9M131.7 255.3h0.9M121.4 254.8h0.9M124.5 261.8h0.9M127.7 255.9h0.9M125.9 252.0h0.9M122.7 254.0h0.9M124.8 250.7h0.9M123.9 261.1h0.9M128.4 256.3h0.9M127.8 255.1h0.9M119.8 260.5h0.9M137.7 258.7h0.9M129.6 268.0h0.9M119.7 258.8h0.9M124.2 254.9h0.9M117.4 255.9h0.9M128.1 248.6h0.9M124.8 253.9h0.9M120.8 259.3h0.9M134.6 258.3h0.9M131.4 259.9h0.9M125.7 259.0h0.9M132.9 254.2h0.9M125.2 249.7h0.9M116.3 252.4h0.9M130.7 258.0h0.9M127.4 262.5h0.9M116.8 262.9h0.9M126.4 260.0h0.9M133.2 252.4h0.9M121.5 258.2h0.9M125.7 253.5h0.9M125.3 252.8h0.9M126.7 254.4h0.9M134.9 251.3h0.9M129.0 256.6h0.9M134.3 251.7h0.9M123.6 264.5h0.9M122.6 254.5h0.9M124.0 251.6h0.9M132.4 263.5h0.9M125.2 252.7h0.9M118.9 259.4h0.9M123.2 258.9h0.9M113.4 254.3h0.9M129.3 258.3h0.9M111.0 257.7h0.9M126.7 256.2h0.9M124.2 254.2h0.9M126.7 258.7h0.9M109.5 256.2h0.9M130.9 255.2h0.9M132.4 251.8h0.9M136.0 260.8h0.9M123.9 269.4h0.9M133.5 263.8h0.9M119.8 255.7h0.9M128.5 261.3h0.9M126.4 250.1h0.9M132.4 255.5h0.9M128.3 254.7h0.9M125.4 249.7h0.9M129.5 253.3h0.9M116.7 258.2h0.9M125.8 260.8h0.9M130.3 250.5h0.9M125.1 256.3h0.9M126.5 251.2h0.9M126.4 260.9h0.9M132.5 263.2h0.9M130.0 244.3h0.9M124.6 253.7h0.9M110.9 263.6h0.9M130.8 256.2h0.9M127.9 258.6h0.9M124.9 262.8h0.9M135.5 260.2h0.9M123.1 257.5h0.9M131.1 259.7h0.9M122.4 260.8h0.9M129.8 259.0h0.9M123.8 256.1h0.9M116.0 256.1h0.9M123.7 254.8h0.9M124.5 254.7h0.9M126.5 256.7h0.9M122.8 255.6h0.9M125.5 258.6h0.9M128.3 254.6h0.9M121.7 248.5h0.9M119.5 258.2h0.9M121.2 263.9h0.9M125.2 254.4h0.9M125.2 253.7h0.9M122.7 256.6h0.9M118.4 256.9h0.9M125.5 252.0h0.9M131.4 258.0h0.9M131.7 253.1h0.9M119.5 250.6h0.9M117.8 247.3h0.9M134.2 254.0h0.9M127.0 253.7h0.9M125.2 263.7h0.9M116.9 251.6h0.9M126.7 251.9h0.9M129.6 262.4h0.9M130.7 259.8h0.9M125.2 261.0h0.9M121.8 250.6h0.9M124.6 255.1h0.9M132.4 251.6h0.9M132.0 252.6h0.9M119.4 248.2h0.9M125.8 249.4h0.9M127.1 256.5h0.9M123.9 247.1h0.9M123.3 258.4h0.9M116.7 259.5h0.9M126.1 253.7h0.9M127.1 259.3h0.9M125.9 252.6h0.9M130.1 253.0h0.9M127.9 260.9h0.9M132.8 263.8h0.9M131.3 256.9h0.9M124.9 257.1h0.9M129.4 252.3h0.9M133.9 248.7h0.9M131.2 250.2h0.9M120.3 253.8h0.9M124.5 249.8h0.9M129.2 255.7h0.9M133.0 251.4h0.9M116.6 259.5h0.9M124.8 260.9h0.9M113.8 250.3h0.9M126.5 265.5h0.9M119.6 247.2h0.9M123.6 262.9h0.9M134.3 249.8h0.9M122.8 247.5h0.9M121.6 251.7h0.9M128.2 261.6h0.9M138.4 254.5h0.9M130.3 257.3h0.9M126.7 265.4h0.9M129.7 263.6h0.9M127.6 260.3h0.9M128.7 255.8h0.9M122.4 254.3h0.9M126.1 254.4h0.9M124.2 252.9h0.9M130.5 255.1h0.9M125.4 255.2h0.9M132.8 253.7h0.9M133.4 252.1h0.9M134.0 259.1h0.9M123.5 258.4h0.9M131.9 251.7h0.9M124.8 257.7h0.9M124.9 254.8h0.9M126.1 257.7h0.9M130.1 263.2h0.9M124.3 264.7h0.9M125.3 249.3h0.9M123.7 254.6h0.9M131.6 246.6h0.9M122.7 255.6h0.9M129.4 258.1h0.9M130.5 255.5h0.9M124.8 262.0h0.9M135.0 258.0h0.9M126.8 252.2h0.9M137.0 258.1h0.9M129.2 248.6h0.9M129.2 267.8h0.9M125.2 255.3h0.9M134.0 255.3h0.9M130.4 265.4h0.9M119.9 252.3h0.9M129.5 256.8h0.9M126.2 255.4h0.9M126.7 257.9h0.9M123.5 254.9h0.9M127.2 251.1h0.9M128.3 245.8h0.9M129.3 255.6h0.9M119.9 262.6h0.9M119.9 266.0h0.9M122.2 262.0h0.9M125.7 263.9h0.9M124.9 261.1h0.9M124.4 247.3h0.9M128.0 258.5h0.9M128.1 264.2h0.9M122.2 249.4h0.9M127.3 252.9h0.9M125.5 256.2h0.9M121.8 261.4h0.9M125.4 264.7h0.9M127.3 261.2h0.9M124.5 253.1h0.9M123.3 252.0h0.9M128.3 256.9h0.9M120.4 248.9h0.9M121.6 247.5h0.9M121.4 249.0h0.9M129.7 250.7h0.9M123.0 255.6h0.9M126.2 258.2h0.9M130.0 259.3h0.9M124.2 262.2h0.9M127.9 252.9h0.9M133.8 250.6h0.9M128.5 262.2h0.9M126.6 257.9h0.9M126.7 259.4h0.9M127.2 256.3h0.9M129.7 247.2h0.9M127.3 254.8h0.9M136.2 257.6h0.9M122.6 259.3h0.9M124.0 250.6h0.9M124.6 258.6h0.9M132.2 261.2h0.9M127.2 255.4h0.9M127.1 262.0h0.9M125.4 261.7h0.9M121.9 256.2h0.9M130.0 259.6h0.9M127.1 253.8h0.9M116.8 254.1h0.9M121.7 254.3h0.9M134.2 252.6h0.9M130.4 256.1h0.9M120.3 256.7h0.9M129.9 250.6h0.9M120.1 254.4h0.9M129.8 253.4h0.9M128.2 258.4h0.9M126.1 258.4h0.9M132.5 255.3h0.9M127.7 251.2h0.9M122.3 255.7h0.9M130.2 253.0h0.9M118.9 260.6h0.9M138.2 244.0h0.9M120.6 256.8h0.9M128.5 251.7h0.9M127.7 261.4h0.9M124.6 259.7h0.9M126.7 251.8h0.9M122.9 253.3h0.9M132.8 261.7h0.9M127.3 248.8h0.9M123.5 254.3h0.9M116.2 256.1h0.9M127.5 249.9h0.9M123.8 254.0h0.9M135.5 259.4h0.9M130.0 256.6h0.9M119.5 260.6h0.9M122.6 247.1h0.9M129.7 254.6h0.9M126.0 258.7h0.9M124.8 258.2h0.9M132.6 254.7h0.9M124.2 256.3h0.9M129.3 254.3h0.9M126.4 253.0h0.9M125.6 258.8h0.9M121.8 255.3h0.9M118.6 252.9h0.9M122.9 259.1h0.9M110.9 255.7h0.9M112.0 257.9h0.9M124.9 258.6h0.9M119.8 248.5h0.9M116.0 248.9h0.9M114.7 255.9h0.9M133.6 252.7h0.9M113.7 257.3h0.9M99.9 267.0h0.9M105.5 261.7h0.9M132.6 261.4h0.9M120.9 260.2h0.9M118.3 261.4h0.9M115.0 251.8h0.9M126.1 253.8h0.9M129.2 251.6h0.9M124.9 250.9h0.9M120.9 267.9h0.9M110.5 249.5h0.9M104.9 255.0h0.9M139.4 253.8h0.9M132.0 255.2h0.9M115.2 267.1h0.9M133.6 246.2h0.9M111.6 258.4h0.9M129.0 255.0h0.9M125.4 259.1h0.9M118.3 261.6h0.9M112.9 260.3h0.9M131.8 257.3h0.9M118.3 256.1h0.9M98.3 257.6h0.9M106.8 245.3h0.9M130.2 251.3h0.9M125.8 256.5h0.9M103.2 251.3h0.9M119.1 258.7h0.9M122.8 249.4h0.9M116.4 256.8h0.9M108.4 253.8h0.9M116.2 244.7h0.9M140.4 261.0h0.9M117.1 261.3h0.9M110.9 264.5h0.9M118.1 257.0h0.9M115.8 256.7h0.9M125.5 256.4h0.9M113.2 260.3h0.9M128.0 256.2h0.9M133.2 252.2h0.9M135.6 255.3h0.9M138.2 253.8h0.9M119.3 257.3h0.9M133.7 264.0h0.9M117.2 252.3h0.9M130.2 262.9h0.9M129.5 254.4h0.9M135.6 256.1h0.9M123.8 259.6h0.9M116.0 243.9h0.9M124.3 260.1h0.9M126.7 259.1h0.9M123.7 261.9h0.9M123.2 264.3h0.9M122.6 260.5h0.9M116.2 257.8h0.9M126.5 257.0h0.9M138.5 256.5h0.9M134.0 258.1h0.9M133.6 251.3h0.9M118.1 261.4h0.9M113.3 258.3h0.9M128.1 257.3h0.9M126.7 259.1h0.9M119.5 258.4h0.9M116.5 253.8h0.9M105.1 255.6h0.9M103.9 256.4h0.9M124.3 250.3h0.9M122.8 257.8h0.9M118.3 251.3h0.9M120.8 258.4h0.9M131.9 266.7h0.9M101.0 258.1h0.9M126.6 252.8h0.9M125.4 267.5h0.9M123.2 263.6h0.9M133.3 253.8h0.9M97.4 262.5h0.9M138.4 246.7h0.9M119.9 252.4h0.9M124.2 256.5h0.9M134.2 253.0h0.9M142.5 246.9h0.9M121.0 259.6h0.9M131.5 254.3h0.9M101.6 257.4h0.9M129.8 245.1h0.9M116.8 259.2h0.9M96.4 255.2h0.9M105.1 248.9h0.9M126.3 262.4h0.9M134.4 252.6h0.9M127.4 246.6h0.9M106.3 259.2h0.9M117.8 250.7h0.9M102.1 254.9h0.9M145.8 245.3h0.9M110.9 262.3h0.9M101.6 252.8h0.9M122.7 262.4h0.9M121.2 266.1h0.9M121.7 255.6h0.9M126.7 258.1h0.9M106.0 251.0h0.9M119.5 258.1h0.9M109.0 252.3h0.9M114.1 258.1h0.9M117.4 259.5h0.9M126.1 251.2h0.9M118.8 249.4h0.9M123.2 260.6h0.9M111.5 246.6h0.9M127.5 254.6h0.9M121.7 258.7h0.9M126.1 261.2h0.9M117.1 244.2h0.9M116.8 254.5h0.9M117.6 258.3h0.9M119.3 263.3h0.9M115.2 256.2h0.9M118.2 267.7h0.9M111.8 250.7h0.9M117.9 260.4h0.9M122.1 255.2h0.9M106.4 244.9h0.9M119.7 254.9h0.9M140.9 258.2h0.9M126.6 261.5h0.9M112.4 249.5h0.9M118.1 264.3h0.9M132.6 253.0h0.9M108.7 261.3h0.9M133.7 250.2h0.9M139.2 252.0h0.9M130.0 255.1h0.9M118.5 252.9h0.9M129.4 259.6h0.9M130.7 254.7h0.9M112.9 267.9h0.9M140.4 255.1h0.9M109.7 264.4h0.9M123.4 256.5h0.9M131.2 258.1h0.9M123.2 267.1h0.9M101.7 259.7h0.9M111.4 256.6h0.9M120.2 257.7h0.9M96.1 260.0h0.9M147.1 253.9h0.9M131.7 259.6h0.9M125.2 253.5h0.9M128.8 257.7h0.9M137.6 260.8h0.9M114.4 240.2h0.9M138.3 258.9h0.9M123.9 252.9h0.9M149.0 263.5h0.9M123.0 254.2h0.9M128.2 263.6h0.9M127.6 261.4h0.9M124.8 258.2h0.9M108.3 256.9h0.9M122.6 255.8h0.9M119.4 257.9h0.9M115.7 255.1h0.9M107.8 268.9h0.9M112.3 249.6h0.9M116.2 253.9h0.9M110.4 242.8h0.9M139.8 261.8h0.9M117.9 259.3h0.9M110.0 247.3h0.9M125.6 259.4h0.9M114.6 256.2h0.9M88.6 255.5h0.9M133.5 257.1h0.9M124.0 259.4h0.9M99.3 249.1h0.9M108.2 257.5h0.9M115.2 245.9h0.9M131.7 255.2h0.9M132.8 267.2h0.9M104.0 249.2h0.9M133.7 263.9h0.9M126.3 258.2h0.9M129.6 259.8h0.9M108.1 260.3h0.9M132.8 254.0h0.9M112.0 253.5h0.9M115.6 259.1h0.9M130.5 256.3h0.9M118.7 246.5h0.9M117.4 250.7h0.9M116.0 258.1h0.9M112.5 253.3h0.9M109.5 254.8h0.9M118.9 261.7h0.9M100.7 261.2h0.9M129.0 253.3h0.9M114.5 257.3h0.9M127.7 255.3h0.9M120.3 256.3h0.9M110.2 257.7h0.9M128.3 256.5h0.9M109.5 256.2h0.9M120.8 257.9h0.9M117.4 260.7h0.9M133.8 260.7h0.9M124.5 262.9h0.9M121.5 255.3h0.9M106.3 256.3h0.9M135.3 251.0h0.9M130.5 249.3h0.9M125.2 266.1h0.9M122.5 249.9h0.9M125.1 255.4h0.9M130.7 253.4h0.9M103.0 253.6h0.9M128.4 261.8h0.9M125.0 256.3h0.9M129.5 255.1h0.9M117.0 257.4h0.9M133.9 253.5h0.9M127.4 252.7h0.9M113.9 257.1h0.9M107.4 251.6h0.9M108.9 253.0h0.9M112.0 268.8h0.9M128.6 256.6h0.9M107.3 243.4h0.9M126.8 252.8h0.9M133.4 254.1h0.9M107.7 252.8h0.9M105.3 248.6h0.9M129.7 253.4h0.9M129.5 253.2h0.9M119.4 253.3h0.9M116.0 252.7h0.9M138.3 255.9h0.9M100.6 265.3h0.9M135.6 262.3h0.9M120.8 255.4h0.9M116.7 256.9h0.9M127.0 256.2h0.9M112.9 251.0h0.9M140.1 265.3h0.9M108.4 252.8h0.9M121.5 259.4h0.9M120.7 257.5h0.9M125.9 262.3h0.9M107.6 262.1h0.9M96.8 252.0h0.9M108.5 260.2h0.9M102.1 252.0h0.9M96.3 254.7h0.9M104.1 262.0h0.9M99.8 254.3h0.9M115.2 252.0h0.9M93.7 265.0h0.9M120.4 253.9h0.9M101.1 256.3h0.9M98.9 261.9h0.9M119.5 260.6h0.9M104.7 262.8h0.9M121.1 251.6h0.9M112.9 251.4h0.9M122.6 262.0h0.9M105.0 261.1h0.9M101.4 249.6h0.9M108.2 249.8h0.9M106.4 263.0h0.9M110.1 253.0h0.9M99.0 258.0h0.9M108.0 263.9h0.9M97.7 256.4h0.9M106.2 254.9h0.9M98.2 255.0h0.9M109.1 251.8h0.9M102.3 257.5h0.9M121.2 256.7h0.9M103.1 249.1h0.9M108.3 254.3h0.9M96.0 256.6h0.9M111.3 254.5h0.9M114.9 259.2h0.9M94.4 249.3h0.9M108.5 258.8h0.9M109.5 252.4h0.9M103.0 260.7h0.9M104.6 257.5h0.9M99.5 259.2h0.9M107.1 248.5h0.9M115.5 262.2h0.9M122.6 264.5h0.9M113.9 256.4h0.9M100.6 260.5h0.9M105.3 254.0h0.9M96.1 258.8h0.9M114.2 261.6h0.9M97.2 252.0h0.9M111.9 250.7h0.9M119.5 264.3h0.9M111.7 252.9h0.9M109.7 261.5h0.9M103.0 259.5h0.9M110.8 263.9h0.9M116.2 259.9h0.9M109.1 263.6h0.9M110.9 260.2h0.9M102.0 250.3h0.9M109.5 252.3h0.9M122.1 252.3h0.9M119.8 254.2h0.9M98.3 258.3h0.9M102.3 265.4h0.9M111.3 250.2h0.9M102.0 250.4h0.9M107.6 257.5h0.9M102.1 259.9h0.9M106.1 262.4h0.9M113.2 252.9h0.9M117.8 249.0h0.9M99.7 249.0h0.9M121.5 257.6h0.9M118.2 265.3h0.9M95.3 263.8h0.9M93.1 260.4h0.9M116.7 255.0h0.9M119.6 261.5h0.9M107.7 253.3h0.9M97.4 249.8h0.9M109.0 257.4h0.9M98.2 257.5h0.9M94.9 253.6h0.9M112.9 251.1h0.9M108.5 250.8h0.9M119.4 252.1h0.9M120.9 264.1h0.9M121.9 253.3h0.9M113.3 249.7h0.9M122.1 260.3h0.9M93.6 250.9h0.9M95.7 254.4h0.9M121.1 261.9h0.9M102.4 262.3h0.9M92.8 257.8h0.9M104.4 249.8h0.9M120.5 259.7h0.9M122.9 259.4h0.9M111.4 250.7h0.9M107.0 263.7h0.9M109.5 259.3h0.9M106.5 254.6h0.9M92.9 252.2h0.9M98.2 250.1h0.9M94.2 261.3h0.9M122.9 260.4h0.9M117.8 252.1h0.9M118.4 255.0h0.9M118.6 252.5h0.9M101.6 257.5h0.9M99.3 252.9h0.9M114.7 261.9h0.9M122.5 259.6h0.9M103.2 256.5h0.9M110.4 258.6h0.9M120.5 258.1h0.9M121.8 256.6h0.9M106.1 249.0h0.9M102.4 256.7h0.9M92.9 256.0h0.9M96.0 253.0h0.9M119.5 264.1h0.9M96.0 258.5h0.9M107.3 249.4h0.9M101.6 257.6h0.9M105.5 258.2h0.9M94.5 258.9h0.9M111.1 251.7h0.9M109.8 264.4h0.9M119.7 259.0h0.9M108.4 261.2h0.9M106.3 260.5h0.9M103.9 257.9h0.9M114.9 258.4h0.9M110.9 255.0h0.9M103.2 259.6h0.9M106.1 256.0h0.9M104.1 253.4h0.9M111.6 263.4h0.9M98.4 259.5h0.9M108.7 259.3h0.9M112.7 255.3h0.9M92.8 254.7h0.9M108.4 259.2h0.9M120.8 259.7h0.9M112.4 254.5h0.9M116.7 250.7h0.9M119.5 256.8h0.9M106.3 260.3h0.9M109.1 265.4h0.9M96.2 249.6h0.9M110.6 252.3h0.9M99.4 265.5h0.9M108.6 253.5h0.9M103.6 252.3h0.9M100.2 250.8h0.9M122.3 261.0h0.9M103.5 250.4h0.9M122.3 263.6h0.9M95.4 263.3h0.9" stroke="#111" stroke-width="0.9" fill="none" opacity="0.8"/>
<path d="M105.1 218.6h0.9M97.0 217.4h0.9M67.1 216.8h0.9M128.2 220.9h0.9M82.2 218.2h0.9M123.0 219.7h0.9M116.5 220.3h0.9M91.7 217.0h0.9M84.9 217.5h0.9M87.4 218.0h0.9M88.7 217.6h0.9M101.6 217.4h0.9M102.0 218.3h0.9M81.0 218.8h0.9M118.5 220.5h0.9M88.3 219.3h0.9M73.1 217.9h0.9M75.7 218.0h0.9M88.5 218.5h0.9M94.1 217.3h0.9M119.2 220.0h0.9M127.4 221.3h0.9M89.4 217.8h0.9M118.5 220.1h0.9M134.9 221.2h0.9M98.8 218.4h0.9M80.8 217.1h0.9M84.0 218.3h0.9M122.1 221.0h0.9M117.9 219.9h0.9M68.8 218.8h0.9M112.2 218.0h0.9M80.0 218.1h0.9M134.8 224.3h0.9M67.5 217.8h0.9M71.9 216.9h0.9M108.3 219.2h0.9M125.6 221.8h0.9M86.5 218.2h0.9M119.0 220.5h0.9M69.2 217.4h0.9M93.0 217.0h0.9M78.0 218.6h0.9M87.5 218.1h0.9M130.3 222.9h0.9M102.3 216.6h0.9M111.8 217.7h0.9M104.8 218.5h0.9M96.0 215.7h0.9M135.7 223.2h0.9M118.0 219.9h0.9M71.7 216.8h0.9M82.1 215.8h0.9M117.9 219.4h0.9M130.6 221.8h0.9M70.4 216.7h0.9M100.3 216.5h0.9M129.9 223.3h0.9M104.2 217.7h0.9M102.9 215.9h0.9M97.4 219.2h0.9M106.5 217.0h0.9M135.6 223.6h0.9M105.0 218.9h0.9M89.0 218.4h0.9M127.3 222.0h0.9M78.8 219.9h0.9M80.1 215.7h0.9M105.2 216.6h0.9M74.9 217.6h0.9M85.2 219.3h0.9M133.1 221.4h0.9M101.4 217.1h0.9M96.4 217.5h0.9M107.2 217.9h0.9M112.5 218.4h0.9M69.8 218.2h0.9M115.1 218.7h0.9M110.9 218.4h0.9M96.1 218.6h0.9M79.0 217.2h0.9M116.0 219.3h0.9M134.5 221.4h0.9M102.5 217.2h0.9M76.6 217.4h0.9M73.8 216.0h0.9M93.0 218.6h0.9M67.5 218.6h0.9M127.4 222.8h0.9M79.9 218.3h0.9M103.5 216.9h0.9M127.7 218.8h0.9M77.2 217.3h0.9M78.2 216.5h0.9M98.8 217.7h0.9M115.4 218.9h0.9M104.5 218.3h0.9M83.9 216.7h0.9M126.1 222.0h0.9M87.1 218.5h0.9M70.3 218.5h0.9M77.5 219.2h0.9M130.8 223.1h0.9M70.2 219.3h0.9M112.6 217.1h0.9M131.3 221.5h0.9M82.4 218.8h0.9M123.1 220.3h0.9M84.0 219.1h0.9M99.5 217.5h0.9M129.0 227.2h0.9M109.7 214.1h0.9M133.9 220.8h0.9M125.9 219.8h0.9M131.1 219.3h0.9M128.4 222.6h0.9M129.9 223.5h0.9M127.4 217.5h0.9M124.5 218.7h0.9M129.7 221.8h0.9M127.4 224.4h0.9M125.8 225.4h0.9M131.5 219.3h0.9M123.0 223.5h0.9M123.5 223.6h0.9M123.1 220.3h0.9M132.7 219.4h0.9M127.0 220.5h0.9M127.5 225.9h0.9M129.4 219.1h0.9M132.3 222.0h0.9M127.5 224.6h0.9M124.6 223.3h0.9M127.6 219.6h0.9M124.6 217.7h0.9M133.6 223.9h0.9M132.3 220.4h0.9M131.6 220.0h0.9M128.2 221.9h0.9M122.9 221.3h0.9M126.7 219.5h0.9M122.0 217.1h0.9M134.7 224.1h0.9M124.3 222.6h0.9M121.3 217.3h0.9M128.6 225.9h0.9M128.3 222.4h0.9M137.0 220.6h0.9M144.9 223.9h0.9M126.1 218.1h0.9M119.2 218.9h0.9M141.2 223.3h0.9M122.8 221.1h0.9M120.4 219.2h0.9M131.4 217.6h0.9M124.7 220.3h0.9M123.4 220.4h0.9M115.7 217.5h0.9M123.4 218.1h0.9M134.1 228.4h0.9M131.3 220.7h0.9M135.0 225.1h0.9M121.6 221.6h0.9M123.0 221.9h0.9M132.0 225.8h0.9M120.2 219.5h0.9M126.5 218.5h0.9M129.0 223.9h0.9M118.2 217.9h0.9M119.9 216.6h0.9M120.1 223.1h0.9M122.5 219.4h0.9M132.4 225.6h0.9M134.9 218.8h0.9M131.0 218.5h0.9M122.7 219.4h0.9M123.1 225.3h0.9M125.5 224.1h0.9M125.4 221.1h0.9M129.6 223.4h0.9M129.5 218.1h0.9M129.5 223.1h0.9M130.1 222.4h0.9M129.0 219.0h0.9M133.3 220.4h0.9M134.9 226.3h0.9M126.1 220.7h0.9M131.2 222.0h0.9M119.4 220.2h0.9M119.2 218.4h0.9M140.6 236.8h0.9M124.8 230.0h0.9M123.5 230.4h0.9M117.9 235.8h0.9M128.1 225.8h0.9M123.7 250.9h0.9M124.9 226.8h0.9M123.9 226.7h0.9M137.2 235.8h0.9M130.9 233.3h0.9M120.0 211.7h0.9M138.6 236.1h0.9M129.5 232.7h0.9M129.4 230.7h0.9M126.2 213.2h0.9M132.0 230.9h0.9M134.8 232.9h0.9M126.0 235.2h0.9M129.3 227.1h0.9M125.4 227.2h0.9M125.9 227.0h0.9M134.9 253.2h0.9M127.2 239.2h0.9M114.2 205.4h0.9M124.7 229.3h0.9M122.8 219.9h0.9M122.0 226.5h0.9M129.1 227.9h0.9M119.6 227.6h0.9M138.6 223.6h0.9M128.5 238.3h0.9M122.4 226.1h0.9M148.3 240.1h0.9M124.3 231.7h0.9M128.7 231.6h0.9M131.3 228.2h0.9M112.5 223.0h0.9M129.1 219.9h0.9M125.7 242.2h0.9M129.7 225.4h0.9M129.0 238.7h0.9M116.0 220.8h0.9M123.4 227.1h0.9M127.4 226.0h0.9M128.8 231.2h0.9M119.8 225.6h0.9M119.3 232.7h0.9M129.8 235.6h0.9M121.9 226.4h0.9M112.5 230.6h0.9M116.7 233.2h0.9M135.5 234.0h0.9M132.4 232.3h0.9M130.6 237.8h0.9M136.8 246.2h0.9M126.1 237.0h0.9M134.1 233.8h0.9M129.9 220.7h0.9M135.6 223.6h0.9M123.4 223.9h0.9M131.9 223.0h0.9M131.2 234.9h0.9M128.7 227.9h0.9M132.2 240.7h0.9M124.8 222.3h0.9M123.8 223.7h0.9M126.3 229.3h0.9M111.9 241.8h0.9M122.3 227.2h0.9M114.3 215.2h0.9M120.9 232.3h0.9M133.9 216.4h0.9M129.6 242.3h0.9M126.0 237.6h0.9M130.2 223.3h0.9M134.9 225.8h0.9M130.5 227.4h0.9M126.5 231.7h0.9M137.2 217.4h0.9M120.2 231.3h0.9M134.8 229.0h0.9M126.7 234.6h0.9M139.0 223.5h0.9M116.8 228.3h0.9M133.3 220.3h0.9M135.9 237.8h0.9M133.5 223.9h0.9M119.0 235.6h0.9M129.8 235.8h0.9M118.6 207.6h0.9M135.8 238.3h0.9M126.1 230.5h0.9M131.2 236.3h0.9M126.7 226.5h0.9M121.2 238.5h0.9M128.7 204.1h0.9M130.4 226.1h0.9M119.1 226.5h0.9M119.1 227.0h0.9M124.2 234.5h0.9M120.9 216.4h0.9M123.8 219.8h0.9M133.2 228.9h0.9M116.3 223.7h0.9M127.8 230.2h0.9M115.1 229.5h0.9M130.1 238.2h0.9M135.7 229.5h0.9M118.9 227.6h0.9M132.5 223.4h0.9M130.3 231.7h0.9M95.0 228.1h0.9M87.8 205.6h0.9M101.0 205.3h0.9M87.7 237.2h0.9M135.4 211.4h0.9M78.3 217.6h0.9M98.5 209.2h0.9M123.8 209.8h0.9M104.8 214.4h0.9M112.4 208.1h0.9M101.6 237.4h0.9M67.7 211.2h0.9M71.6 236.9h0.9M114.1 213.2h0.9M130.4 210.4h0.9M101.2 232.7h0.9M109.2 206.1h0.9M69.9 210.9h0.9M133.6 239.5h0.9M87.8 205.4h0.9M111.6 211.4h0.9M129.8 240.2h0.9M122.0 234.6h0.9M121.8 236.8h0.9M93.5 232.4h0.9M67.4 231.3h0.9M98.1 242.9h0.9M122.3 221.6h0.9M116.7 226.9h0.9M110.3 203.8h0.9M82.5 213.8h0.9M116.4 240.1h0.9M111.1 233.8h0.9M111.7 209.3h0.9M84.6 226.8h0.9M120.0 220.3h0.9M115.8 216.9h0.9M88.9 210.3h0.9M95.9 226.7h0.9M74.3 240.7h0.9M67.1 232.8h0.9M91.1 241.0h0.9M86.8 204.5h0.9M115.5 218.6h0.9M124.6 230.2h0.9M97.8 229.9h0.9M114.9 216.6h0.9M80.3 229.6h0.9M106.9 205.4h0.9M78.0 220.7h0.9M72.9 224.5h0.9M94.6 215.3h0.9M119.8 233.0h0.9M71.3 227.4h0.9M137.0 227.8h0.9M136.4 212.8h0.9M82.2 216.6h0.9M83.1 209.9h0.9M84.6 223.5h0.9M124.1 234.4h0.9M69.3 234.2h0.9M111.8 214.1h0.9M67.0 237.9h0.9M76.1 213.7h0.9M88.1 235.4h0.9M133.6 240.1h0.9M126.8 237.3h0.9M100.0 205.7h0.9M83.2 209.1h0.9" stroke="#444" stroke-width="0.9" fill="none" opacity="0.6"/>
<line x1="64.50" y1="164.50" x2="175.50" y2="164.50" stroke="#666" stroke-width="1"/>
<line x1="175.50" y1="164.50" x2="175.50" y2="270.50" stroke="#777" stroke-width="1"/>
<line x1="64.50" y1="270.50" x2="175.50" y2="270.50" stroke="#666" stroke-width="1"/>
<line x1="64.50" y1="164.50" x2="64.50" y2="270.50" stroke="#222" stroke-width="1"/>
<line x1="92.50" y1="164.50" x2="92.50" y2="270.50" stroke="#111" stroke-width="1"/>
<line x1="64.50" y1="243.50" x2="175.50" y2="243.50" stroke="#111" stroke-width="1"/>
<path d="M64.8 270.5v2.5M73.2 270.5v1.4M78.0 270.5v1.4M81.5 270.5v1.4M84.2 270.5v1.4M86.4 270.5v1.4M88.2 270.5v1.4M89.8 270.5v1.4M91.2 270.5v1.4M92.5 270.5v2.5M100.8 270.5v1.4M105.7 270.5v1.4M109.2 270.5v1.4M111.8 270.5v1.4M114.0 270.5v1.4M115.9 270.5v1.4M117.5 270.5v1.4M118.9 270.5v1.4M120.2 270.5v2.5M128.5 270.5v1.4M133.4 270.5v1.4M136.8 270.5v1.4M139.5 270.5v1.4M141.7 270.5v1.4M143.5 270.5v1.4M145.2 270.5v1.4M146.6 270.5v1.4M147.8 270.5v2.5M156.2 270.5v1.4M161.0 270.5v1.4M164.5 270.5v1.4M167.2 270.5v1.4M169.4 270.5v1.4M171.2 270.5v1.4M172.8 270.5v1.4M174.2 270.5v1.4M175.5 270.5v2.5M64.5 269.8h-3.2M64.5 261.9h-1.8M64.5 257.3h-1.8M64.5 254.0h-1.8M64.5 251.4h-1.8M64.5 249.3h-1.8M64.5 247.6h-1.8M64.5 246.1h-1.8M64.5 244.7h-1.8M64.5 243.5h-3.2M64.5 235.6h-1.8M64.5 230.9h-1.8M64.5 227.6h-1.8M64.5 225.1h-1.8M64.5 223.0h-1.8M64.5 221.2h-1.8M64.5 219.7h-1.8M64.5 218.4h-1.8M64.5 217.2h-3.2M64.5 209.2h-1.8M64.5 204.6h-1.8M64.5 201.3h-1.8M64.5 198.8h-1.8M64.5 196.7h-1.8M64.5 194.9h-1.8M64.5 193.4h-1.8M64.5 192.0h-1.8M64.5 190.8h-3.2M64.5 182.9h-1.8M64.5 178.3h-1.8M64.5 175.0h-1.8M64.5 172.4h-1.8M64.5 170.3h-1.8M64.5 168.6h-1.8M64.5 167.1h-1.8M64.5 165.7h-1.8M64.5 164.5h-3.2" stroke="#333" stroke-width="0.6" fill="none"/>
<text class="a" x="58.5" y="245.0" font-size="3.6" text-anchor="middle" fill="#444">10<tspan dy="-1.4" font-size="2.52">0</tspan></text>
<text class="a" x="93.5" y="278.1" font-size="3.6" text-anchor="middle" fill="#444">10<tspan dy="-1.4" font-size="2.52">0</tspan></text>
<text class="a" x="58.5" y="218.7" font-size="3.6" text-anchor="middle" fill="#444">10<tspan dy="-1.4" font-size="2.52">1</tspan></text>
<text class="a" x="121.2" y="278.1" font-size="3.6" text-anchor="middle" fill="#444">10<tspan dy="-1.4" font-size="2.52">1</tspan></text>
<text class="a" x="58.5" y="192.3" font-size="3.6" text-anchor="middle" fill="#444">10<tspan dy="-1.4" font-size="2.52">2</tspan></text>
<text class="a" x="148.8" y="278.1" font-size="3.6" text-anchor="middle" fill="#444">10<tspan dy="-1.4" font-size="2.52">2</tspan></text>
<text class="a" x="58.5" y="166.0" font-size="3.6" text-anchor="middle" fill="#444">10<tspan dy="-1.4" font-size="2.52">3</tspan></text>
<text class="a" x="176.5" y="278.1" font-size="3.6" text-anchor="middle" fill="#444">10<tspan dy="-1.4" font-size="2.52">3</tspan></text>
<text class="a" x="65.7" y="168.8" font-size="4.2" fill="#222">B1</text>
<text class="a" x="66.3" y="173.9" font-size="4.6" fill="#111">1.6%</text>
<text class="a" x="93.7" y="168.8" font-size="4.2" fill="#222">B2</text>
<text class="a" x="94.3" y="173.9" font-size="4.6" fill="#111">7.0%</text>
<text class="a" x="65.7" y="248.0" font-size="4.2" fill="#222">B3</text>
<rect x="65.90" y="249.30" width="12.50" height="4.60" fill="#fff"/>
<text class="a" x="66.3" y="253.1" font-size="4.6" fill="#111">42.7%</text>
<text class="a" x="93.7" y="248.0" font-size="4.2" fill="#222">B4</text>
<text class="a" x="94.3" y="253.1" font-size="4.6" fill="#111">48.8%</text>
<text class="s" x="103.0" y="180.8" font-size="13.2" textLength="73.5" lengthAdjust="spacingAndGlyphs">CD37-SMIP</text>
<text class="s" x="103.0" y="197.0" font-size="13.2" textLength="38.8" lengthAdjust="spacingAndGlyphs">+ <tspan style="font-weight:normal" font-size="16">α</tspan>-Fc</text>
<text class="s" x="123.8" y="213.3" font-size="13.2" textLength="39.5" lengthAdjust="spacingAndGlyphs">57.3%</text>
<path d="M227.8 261.3h1.0M225.4 261.0h1.0M223.5 266.8h1.0M226.3 264.3h1.0M226.5 259.5h1.0M225.2 255.5h1.0M235.5 261.4h1.0M226.6 258.4h1.0M231.9 258.9h1.0M223.9 258.1h1.0M233.1 261.1h1.0M225.3 257.8h1.0M231.9 261.0h1.0M224.5 263.1h1.0M230.0 256.6h1.0M231.3 263.8h1.0M224.9 255.4h1.0M231.0 258.8h1.0M225.1 259.0h1.0M224.8 262.9h1.0M221.0 261.8h1.0M231.3 263.6h1.0M229.3 260.9h1.0M225.1 259.6h1.0M222.0 265.8h1.0M225.5 256.5h1.0M229.8 265.2h1.0M227.3 258.9h1.0M221.0 262.2h1.0M224.9 257.7h1.0M228.8 255.6h1.0M229.4 251.7h1.0M223.2 255.1h1.0M224.9 262.7h1.0M220.1 264.7h1.0M222.9 258.4h1.0M230.5 257.5h1.0M232.6 259.3h1.0M225.6 256.7h1.0M231.3 259.8h1.0M223.8 256.8h1.0M223.2 259.7h1.0M222.8 262.7h1.0M225.9 257.9h1.0M228.1 264.9h1.0M216.6 261.2h1.0M230.9 260.5h1.0M229.8 254.7h1.0M222.7 263.5h1.0M225.6 260.2h1.0M228.9 261.3h1.0M228.1 258.3h1.0M224.7 264.5h1.0M223.8 255.1h1.0M224.5 263.1h1.0M234.2 260.5h1.0M223.3 262.1h1.0M227.4 264.0h1.0M228.4 262.6h1.0M228.4 261.4h1.0M222.0 259.4h1.0M233.3 264.6h1.0M230.4 261.4h1.0M225.6 261.2h1.0M224.6 263.7h1.0M224.7 257.4h1.0M218.8 265.3h1.0M222.7 257.1h1.0M227.9 266.1h1.0M229.1 258.9h1.0M228.6 257.2h1.0M225.0 260.1h1.0M226.2 262.7h1.0M228.5 266.4h1.0M229.8 259.0h1.0M227.3 257.1h1.0M223.4 258.8h1.0M230.7 257.7h1.0M219.1 256.6h1.0M220.7 259.4h1.0M224.8 256.0h1.0M222.6 258.6h1.0M227.9 262.1h1.0M232.0 259.1h1.0M228.9 260.3h1.0M221.2 257.8h1.0M235.9 259.5h1.0M233.5 262.8h1.0M233.6 259.4h1.0M230.3 259.0h1.0M221.2 256.0h1.0M228.1 254.5h1.0M227.8 257.0h1.0M227.7 255.3h1.0M229.9 259.2h1.0M219.3 255.1h1.0M226.4 254.4h1.0M227.6 261.7h1.0M223.2 264.8h1.0M232.6 261.1h1.0M228.2 261.6h1.0M225.0 264.5h1.0M223.8 251.5h1.0M226.3 261.5h1.0M229.8 256.3h1.0M232.4 257.2h1.0M229.0 262.5h1.0M227.0 263.9h1.0M224.0 267.0h1.0M228.4 258.6h1.0M237.8 260.0h1.0M219.0 264.8h1.0M233.1 258.0h1.0M221.8 263.8h1.0M226.4 256.7h1.0M224.0 260.2h1.0M230.6 265.3h1.0M223.4 265.2h1.0M219.5 262.4h1.0M225.6 261.5h1.0M224.2 257.6h1.0M227.4 263.9h1.0M216.3 260.2h1.0M224.4 256.4h1.0M220.2 261.8h1.0M228.7 262.2h1.0M217.3 254.8h1.0M223.5 258.5h1.0M234.0 258.7h1.0M226.8 263.4h1.0M233.6 261.3h1.0M227.7 266.6h1.0M224.4 253.9h1.0M222.8 258.9h1.0M232.0 261.1h1.0M231.5 260.4h1.0M226.4 258.0h1.0M220.7 261.7h1.0M227.8 262.0h1.0M223.8 258.6h1.0M227.9 262.1h1.0M235.1 257.0h1.0M230.6 263.0h1.0M225.0 260.5h1.0M225.9 265.2h1.0M237.5 261.1h1.0M225.1 263.2h1.0M228.4 259.4h1.0M229.5 263.0h1.0M224.4 262.9h1.0M216.2 255.6h1.0M224.8 260.5h1.0M219.7 265.0h1.0M224.5 260.5h1.0M226.0 262.6h1.0M223.6 262.5h1.0M222.5 255.0h1.0M228.5 260.6h1.0M230.1 253.4h1.0M226.7 257.8h1.0M225.4 258.7h1.0M224.5 257.7h1.0M230.7 254.1h1.0M218.8 261.2h1.0M235.1 257.4h1.0M222.2 256.0h1.0M221.7 264.3h1.0M229.2 263.1h1.0M227.7 260.8h1.0M223.6 256.7h1.0M229.0 268.5h1.0M224.6 264.3h1.0M223.1 260.1h1.0M233.7 259.8h1.0M229.0 258.1h1.0M234.6 255.8h1.0M228.7 259.2h1.0M227.1 261.2h1.0M232.0 263.0h1.0M230.9 261.3h1.0M221.4 264.6h1.0M233.0 261.7h1.0M229.7 259.2h1.0M219.8 263.4h1.0M223.0 266.5h1.0M229.3 259.9h1.0M223.5 260.4h1.0M221.7 258.7h1.0M233.3 259.0h1.0M234.4 259.7h1.0M228.0 256.8h1.0M224.9 258.5h1.0M220.0 266.6h1.0M228.8 259.7h1.0M221.3 260.1h1.0M221.5 256.7h1.0M225.3 267.4h1.0M218.4 261.9h1.0M223.8 250.1h1.0M219.9 259.5h1.0M226.5 257.4h1.0M234.1 261.8h1.0M223.4 254.4h1.0M227.0 257.7h1.0M230.7 256.4h1.0M231.5 258.4h1.0M227.0 259.1h1.0M229.0 263.9h1.0M223.8 256.9h1.0M234.6 263.3h1.0M234.7 263.3h1.0M226.8 265.6h1.0M223.2 258.5h1.0M224.4 262.4h1.0M222.4 259.4h1.0M222.4 259.2h1.0M231.2 263.8h1.0M225.2 268.7h1.0M223.0 261.6h1.0M224.0 252.4h1.0M220.9 264.3h1.0M218.8 270.0h1.0M225.6 260.9h1.0M231.8 260.1h1.0M223.3 257.9h1.0M222.0 261.9h1.0M224.1 261.8h1.0M219.4 258.5h1.0M235.4 261.3h1.0M225.7 264.1h1.0M227.4 265.3h1.0M221.0 262.6h1.0M221.4 262.3h1.0M237.1 265.3h1.0M222.3 261.5h1.0M228.2 257.5h1.0M227.2 256.3h1.0M230.5 263.1h1.0M225.4 262.4h1.0M236.8 259.5h1.0M217.8 261.2h1.0M224.1 257.3h1.0M230.2 263.5h1.0M228.8 265.6h1.0M223.3 258.6h1.0M228.0 250.7h1.0M213.9 261.2h1.0M225.2 260.2h1.0M221.8 260.8h1.0M230.9 257.8h1.0M228.7 259.5h1.0M225.4 260.4h1.0M232.9 261.8h1.0M229.2 260.5h1.0M216.5 263.3h1.0M226.0 260.3h1.0M223.9 254.7h1.0M232.8 266.3h1.0M233.2 253.7h1.0M228.6 255.9h1.0M225.3 258.2h1.0M223.3 257.4h1.0M224.0 262.7h1.0M233.3 263.2h1.0M226.1 259.5h1.0M225.0 259.9h1.0M223.3 259.4h1.0M229.9 259.2h1.0M222.5 259.6h1.0M226.5 259.7h1.0M224.9 262.4h1.0M225.9 256.5h1.0M228.6 257.6h1.0M229.6 262.8h1.0M228.3 261.1h1.0M220.1 259.3h1.0M226.7 262.2h1.0M221.1 259.5h1.0M219.2 260.6h1.0M226.4 260.4h1.0M233.5 262.5h1.0M225.2 258.0h1.0M224.1 262.7h1.0M230.2 258.3h1.0M225.6 258.5h1.0M229.2 260.7h1.0M222.8 257.0h1.0M231.9 255.2h1.0M217.9 249.4h1.0M235.2 258.2h1.0M229.9 261.9h1.0M229.9 263.9h1.0M224.0 259.9h1.0M230.5 261.9h1.0M222.7 257.4h1.0M219.6 260.9h1.0M223.7 254.7h1.0M223.6 261.1h1.0M226.9 259.2h1.0M226.8 262.3h1.0M220.7 257.2h1.0M230.5 262.5h1.0M219.8 257.5h1.0M232.6 262.6h1.0M225.4 263.5h1.0M232.3 264.9h1.0M219.8 255.5h1.0M223.8 259.8h1.0M224.5 260.8h1.0M232.8 263.8h1.0M230.6 260.0h1.0M233.6 261.6h1.0M227.2 259.9h1.0M217.8 267.4h1.0M226.0 263.1h1.0M236.3 259.4h1.0M220.8 263.5h1.0M227.2 256.8h1.0M230.5 260.0h1.0M221.8 251.3h1.0M221.6 261.3h1.0M221.4 263.4h1.0M236.1 261.1h1.0M227.1 259.7h1.0M230.0 260.1h1.0M230.8 264.9h1.0M230.0 256.7h1.0M229.1 259.1h1.0M227.5 263.3h1.0M223.1 260.7h1.0M232.7 257.1h1.0M225.2 262.5h1.0M225.0 263.5h1.0M221.5 254.9h1.0M227.8 259.5h1.0M227.5 263.3h1.0M230.9 258.8h1.0M224.3 253.4h1.0M221.7 260.9h1.0M227.1 254.9h1.0M229.7 259.9h1.0M231.1 258.8h1.0M230.5 256.2h1.0M217.7 257.2h1.0M229.3 261.4h1.0M217.5 260.5h1.0M229.1 265.8h1.0M229.6 261.8h1.0M218.9 261.3h1.0M217.1 259.0h1.0M224.4 256.7h1.0M221.5 259.5h1.0M228.7 257.8h1.0M227.5 262.4h1.0M226.0 266.6h1.0M224.7 257.5h1.0M217.4 263.7h1.0M229.2 259.4h1.0M227.5 259.6h1.0M230.0 260.0h1.0M227.1 259.7h1.0M222.1 252.4h1.0M228.6 255.8h1.0M227.9 262.2h1.0M234.6 257.5h1.0M226.8 263.3h1.0M223.0 258.0h1.0M228.1 267.1h1.0M231.0 263.3h1.0M221.7 262.3h1.0M231.3 255.7h1.0M226.1 259.4h1.0M229.0 254.1h1.0M229.3 260.0h1.0M224.9 252.8h1.0M216.6 258.2h1.0M229.0 261.5h1.0M229.5 254.2h1.0M227.0 264.6h1.0M219.0 262.2h1.0M222.8 261.9h1.0M226.5 254.5h1.0M221.3 264.3h1.0M225.6 264.2h1.0M227.6 263.1h1.0M224.3 260.8h1.0M224.4 263.1h1.0M223.5 263.8h1.0M233.2 255.9h1.0M225.3 261.9h1.0M234.2 263.9h1.0M226.5 254.1h1.0M229.9 258.0h1.0M227.0 261.4h1.0M219.7 263.6h1.0M230.2 262.0h1.0M228.8 261.2h1.0M219.7 258.3h1.0M229.8 258.9h1.0M226.2 261.3h1.0M226.5 260.9h1.0M228.3 260.0h1.0M221.1 259.1h1.0M230.4 257.7h1.0M228.2 261.1h1.0M222.1 250.4h1.0M226.0 257.4h1.0M223.2 263.2h1.0M222.6 261.2h1.0M226.6 260.7h1.0M235.1 253.3h1.0M230.5 259.5h1.0M224.8 257.7h1.0M226.2 260.2h1.0M221.9 265.6h1.0M222.7 259.5h1.0M220.3 260.5h1.0M227.7 263.7h1.0M230.5 258.3h1.0M233.4 259.6h1.0M233.1 265.8h1.0M224.2 256.4h1.0M228.5 264.9h1.0M227.9 263.7h1.0M228.8 263.0h1.0M232.1 259.0h1.0M219.6 259.6h1.0M222.5 256.0h1.0M225.3 262.4h1.0M217.7 254.9h1.0M229.7 257.0h1.0M224.3 264.6h1.0M231.2 261.2h1.0M228.5 250.8h1.0M228.6 261.3h1.0M219.7 260.6h1.0M228.1 259.6h1.0M229.7 263.0h1.0M226.3 259.2h1.0M220.7 263.9h1.0M223.5 261.1h1.0M233.0 262.6h1.0M220.3 259.7h1.0M222.8 254.4h1.0M222.4 262.0h1.0M227.6 259.3h1.0M226.9 256.1h1.0M222.6 259.4h1.0M229.7 258.9h1.0M225.3 261.1h1.0M232.7 255.7h1.0M228.5 260.6h1.0M225.7 260.8h1.0M217.1 260.1h1.0M225.0 255.8h1.0M229.9 259.6h1.0M224.5 262.6h1.0M221.9 257.6h1.0M229.8 263.0h1.0M235.2 258.5h1.0M219.5 255.0h1.0M220.6 260.4h1.0M225.0 257.7h1.0M221.5 257.6h1.0M224.4 264.0h1.0M228.9 264.6h1.0M229.8 262.6h1.0M231.4 261.5h1.0M233.0 263.8h1.0M234.3 260.7h1.0M222.5 268.5h1.0M224.8 261.8h1.0M224.3 257.6h1.0M228.0 256.2h1.0M225.3 264.8h1.0M226.6 262.8h1.0M228.9 261.3h1.0M226.5 262.1h1.0M221.7 262.0h1.0M221.2 257.4h1.0M223.4 255.5h1.0M217.1 261.3h1.0M228.3 262.2h1.0M236.1 260.6h1.0M229.4 257.5h1.0M229.3 256.1h1.0M235.0 256.7h1.0M224.2 262.5h1.0M216.1 264.5h1.0M221.7 260.7h1.0M230.5 260.5h1.0M230.3 258.3h1.0M228.7 252.6h1.0M232.9 257.8h1.0M222.1 260.1h1.0M233.7 257.6h1.0M225.9 258.8h1.0M221.8 255.6h1.0M228.7 262.4h1.0M222.6 260.8h1.0M228.1 261.3h1.0M225.3 260.2h1.0M227.3 256.4h1.0M225.4 262.7h1.0M223.5 264.4h1.0M224.9 256.3h1.0M224.7 255.4h1.0M228.8 254.6h1.0M226.1 259.2h1.0M224.6 261.4h1.0M227.3 258.1h1.0M229.7 258.5h1.0M230.1 264.6h1.0M227.7 263.1h1.0M220.0 261.9h1.0M219.3 259.4h1.0M229.2 250.9h1.0M222.5 257.4h1.0M221.8 260.1h1.0M228.9 256.1h1.0M223.2 253.7h1.0M222.8 252.9h1.0M219.2 261.6h1.0M230.0 257.2h1.0M227.6 257.4h1.0M230.9 265.9h1.0M214.9 257.1h1.0M223.1 258.4h1.0M233.1 265.3h1.0M226.0 262.2h1.0M218.8 259.0h1.0M224.7 259.5h1.0M227.4 254.7h1.0M221.3 267.3h1.0M218.1 260.2h1.0M229.3 261.7h1.0M226.3 254.5h1.0M223.9 254.7h1.0M234.9 261.2h1.0M229.3 260.7h1.0M224.2 264.0h1.0M230.0 262.2h1.0M228.7 262.5h1.0M224.7 261.5h1.0M226.4 259.2h1.0M228.9 267.3h1.0M216.8 264.9h1.0M224.0 264.1h1.0M221.4 259.4h1.0M230.7 259.8h1.0M227.6 255.9h1.0M220.8 265.7h1.0M226.7 259.7h1.0M219.7 256.5h1.0M221.3 259.8h1.0M225.5 257.9h1.0M223.0 260.4h1.0M231.3 255.2h1.0M219.6 263.8h1.0M219.5 258.6h1.0M226.5 266.2h1.0M216.7 250.2h1.0M225.6 263.6h1.0M226.7 257.3h1.0M226.9 253.0h1.0M229.7 265.0h1.0M225.1 262.8h1.0M221.2 265.0h1.0M223.1 257.3h1.0M222.5 254.0h1.0M229.1 266.8h1.0M219.5 259.3h1.0M228.0 258.1h1.0M218.9 261.1h1.0M230.6 260.4h1.0M221.1 259.0h1.0M217.2 259.8h1.0M231.5 263.8h1.0M225.6 261.5h1.0M223.6 260.4h1.0M223.3 260.6h1.0M223.7 260.7h1.0M229.2 259.9h1.0M220.1 261.7h1.0M224.9 258.3h1.0M228.6 257.2h1.0M230.2 261.9h1.0M222.9 257.6h1.0M225.5 256.9h1.0M230.3 252.3h1.0M226.7 258.8h1.0M221.0 262.1h1.0M223.8 261.5h1.0M224.0 259.0h1.0M228.4 263.3h1.0M230.5 259.9h1.0M232.7 258.9h1.0M219.8 253.7h1.0M219.5 257.1h1.0M217.9 261.1h1.0M226.2 259.9h1.0M227.1 259.6h1.0M224.9 258.9h1.0M226.2 256.2h1.0M231.8 265.2h1.0M226.2 267.7h1.0M221.6 263.1h1.0M218.7 262.1h1.0M222.6 263.4h1.0M226.5 263.2h1.0M228.8 261.8h1.0M224.8 265.4h1.0M227.6 261.6h1.0M232.5 259.1h1.0M233.9 263.7h1.0M226.4 255.1h1.0M231.5 258.9h1.0M226.5 260.4h1.0M230.3 262.2h1.0M217.8 257.8h1.0M227.6 260.6h1.0M229.6 261.9h1.0M233.4 257.5h1.0M231.9 261.3h1.0M227.4 262.3h1.0M224.5 262.4h1.0M225.1 262.5h1.0M222.6 264.0h1.0M219.1 257.8h1.0M225.8 260.8h1.0M222.4 258.6h1.0M227.2 263.6h1.0M231.9 258.4h1.0M225.7 258.9h1.0M219.1 258.5h1.0M231.1 255.4h1.0M238.9 263.3h1.0M233.8 260.6h1.0M215.6 261.5h1.0M233.2 258.0h1.0M231.8 262.6h1.0M229.6 262.6h1.0M228.7 262.2h1.0M231.4 261.5h1.0M228.9 261.5h1.0M226.7 257.0h1.0M217.9 256.6h1.0M220.4 255.0h1.0M229.1 258.9h1.0M231.8 270.6h1.0M229.5 258.4h1.0M227.7 259.3h1.0M227.3 267.1h1.0M233.3 264.4h1.0M227.3 266.1h1.0M229.8 263.0h1.0M220.8 257.9h1.0M226.8 259.3h1.0M223.7 253.2h1.0M222.7 259.6h1.0M227.4 256.4h1.0M225.4 266.2h1.0M226.8 253.3h1.0M225.2 260.0h1.0M231.8 260.7h1.0M232.2 261.1h1.0M231.3 264.6h1.0M233.0 260.7h1.0M220.5 260.7h1.0M228.2 257.6h1.0M229.8 259.5h1.0M229.6 260.7h1.0M221.8 263.6h1.0M235.1 263.2h1.0M227.3 254.1h1.0M227.5 259.9h1.0M222.5 253.5h1.0M228.1 263.3h1.0M229.3 267.8h1.0M217.5 261.2h1.0M225.9 264.9h1.0M225.9 256.7h1.0M225.8 261.5h1.0M222.7 257.3h1.0M227.2 263.0h1.0M225.0 261.7h1.0M223.8 258.8h1.0M226.9 263.3h1.0M233.2 259.6h1.0M228.1 266.8h1.0M229.8 258.8h1.0M227.9 255.1h1.0M216.6 257.4h1.0M222.8 255.4h1.0M230.7 258.5h1.0M226.4 260.3h1.0M225.1 256.0h1.0M234.8 253.2h1.0M225.9 262.4h1.0M225.1 259.7h1.0M227.5 260.8h1.0M224.5 263.7h1.0M228.3 265.2h1.0M226.5 253.2h1.0M218.6 258.3h1.0M228.1 254.4h1.0M223.5 264.3h1.0M227.6 257.6h1.0M225.6 260.4h1.0M224.2 258.9h1.0M223.2 260.8h1.0M233.2 265.0h1.0M220.5 268.0h1.0M225.5 255.2h1.0M219.4 260.5h1.0M227.1 257.8h1.0M222.5 259.3h1.0M227.2 262.3h1.0M228.6 251.9h1.0M223.4 260.9h1.0M227.7 262.8h1.0M219.4 265.4h1.0M220.7 259.3h1.0M224.0 258.4h1.0M222.6 262.8h1.0M229.6 261.2h1.0M220.4 257.9h1.0M225.8 261.4h1.0M223.6 259.1h1.0M237.8 260.2h1.0M224.7 251.6h1.0M222.7 265.6h1.0M229.9 255.9h1.0M229.6 260.6h1.0M222.5 262.7h1.0M223.4 259.0h1.0M226.2 260.7h1.0M224.1 261.0h1.0M226.1 260.7h1.0M227.8 257.8h1.0M220.0 259.8h1.0M231.6 261.2h1.0M227.1 257.5h1.0M221.0 255.8h1.0M222.0 258.7h1.0M219.2 259.6h1.0M219.1 262.3h1.0M226.0 254.0h1.0M223.6 260.8h1.0M227.8 262.7h1.0M224.5 259.5h1.0M225.0 261.9h1.0M223.0 259.5h1.0M226.7 258.8h1.0M221.3 264.7h1.0M228.3 256.9h1.0M234.8 257.4h1.0M222.2 258.8h1.0M228.5 265.2h1.0M232.2 261.9h1.0M226.4 262.3h1.0M222.6 257.6h1.0M228.4 260.7h1.0M227.1 256.5h1.0M227.2 255.1h1.0M230.2 260.1h1.0M223.2 258.4h1.0M238.5 270.8h1.0M223.0 264.7h1.0M213.2 263.9h1.0M226.2 260.9h1.0M221.8 255.5h1.0M227.1 258.5h1.0M228.3 263.7h1.0M225.6 261.9h1.0M226.9 260.8h1.0M223.8 260.8h1.0M228.0 260.3h1.0M224.1 255.0h1.0M221.3 265.4h1.0M230.6 261.0h1.0M227.4 259.5h1.0M229.1 263.3h1.0M225.0 261.1h1.0M230.3 254.6h1.0M221.9 258.1h1.0M220.9 258.5h1.0M222.3 258.7h1.0M228.2 256.0h1.0M226.5 264.8h1.0M226.9 255.8h1.0M223.4 264.0h1.0M224.9 257.9h1.0M229.6 257.6h1.0M221.1 262.1h1.0M226.2 257.8h1.0M228.2 263.8h1.0M230.9 260.4h1.0M228.1 261.7h1.0M213.8 268.7h1.0M220.4 256.5h1.0M219.1 254.3h1.0M234.4 259.6h1.0M221.1 249.5h1.0M227.0 259.3h1.0M217.4 259.0h1.0M215.9 262.3h1.0M226.4 247.9h1.0M216.7 256.0h1.0M232.0 262.8h1.0M230.7 268.7h1.0M223.4 256.8h1.0M230.2 254.9h1.0M218.7 264.8h1.0M236.0 249.7h1.0M229.4 259.5h1.0M232.9 257.7h1.0M224.7 267.3h1.0M220.9 261.8h1.0M230.7 258.9h1.0M232.6 262.4h1.0M232.3 250.2h1.0M217.4 261.2h1.0M235.0 267.4h1.0M225.8 255.5h1.0M217.0 248.9h1.0M221.7 262.7h1.0M225.1 251.5h1.0M224.9 259.8h1.0M219.7 267.5h1.0M229.2 265.6h1.0M226.5 254.2h1.0M234.3 265.6h1.0M221.0 252.3h1.0M232.2 256.5h1.0M216.4 259.1h1.0M230.1 255.4h1.0M226.0 265.0h1.0M231.6 251.0h1.0M231.4 269.3h1.0M233.0 259.1h1.0M228.6 250.9h1.0M221.0 256.7h1.0M242.2 259.6h1.0M217.9 268.8h1.0M235.5 250.5h1.0M224.1 250.3h1.0M233.9 247.1h1.0M240.4 253.8h1.0M229.9 261.5h1.0M232.5 254.1h1.0M232.6 258.0h1.0M229.8 260.8h1.0M236.7 252.5h1.0M214.6 263.1h1.0M244.5 262.6h1.0M224.4 263.3h1.0M216.1 260.1h1.0M231.4 268.9h1.0M221.7 264.7h1.0M236.3 253.8h1.0M223.5 249.4h1.0M218.7 262.0h1.0M231.4 267.5h1.0M220.8 246.9h1.0M217.6 262.8h1.0M225.5 263.4h1.0M223.3 263.2h1.0M217.9 254.2h1.0M224.4 249.9h1.0M235.5 258.2h1.0M217.9 254.8h1.0M218.0 260.2h1.0M222.8 264.3h1.0M216.5 259.2h1.0M213.7 257.0h1.0M236.4 258.9h1.0M232.7 259.2h1.0M217.0 254.7h1.0M216.7 261.4h1.0M238.9 264.2h1.0M217.9 260.2h1.0M219.9 266.0h1.0M215.0 263.8h1.0M216.0 257.0h1.0M227.0 260.3h1.0M225.2 259.2h1.0M218.8 259.0h1.0M225.1 254.4h1.0M230.1 260.5h1.0M219.7 266.7h1.0M221.1 249.1h1.0M235.7 257.5h1.0M237.2 261.9h1.0M218.6 265.7h1.0M229.3 264.7h1.0M226.0 268.2h1.0M233.0 257.7h1.0M213.7 259.3h1.0M226.2 254.1h1.0M224.1 267.8h1.0M221.9 265.8h1.0M218.2 254.2h1.0M233.1 258.6h1.0M227.4 265.2h1.0M238.5 252.7h1.0M230.3 260.8h1.0M226.8 269.5h1.0M223.7 256.3h1.0M229.6 248.3h1.0M228.5 254.6h1.0M228.2 255.4h1.0M229.7 258.2h1.0M220.0 262.5h1.0M231.5 250.7h1.0M215.4 258.1h1.0M222.6 266.9h1.0M238.2 262.2h1.0M234.3 257.7h1.0M214.8 261.2h1.0M227.6 266.0h1.0M220.5 250.6h1.0M224.0 262.3h1.0M223.9 256.7h1.0M226.2 258.5h1.0M236.6 252.3h1.0M227.8 251.0h1.0M225.3 262.0h1.0M228.3 261.2h1.0M219.7 251.5h1.0M233.2 257.6h1.0M214.7 268.2h1.0M231.5 244.0h1.0M246.1 260.4h1.0M228.2 266.4h1.0M225.7 250.3h1.0M224.3 257.2h1.0M227.9 258.5h1.0M230.0 252.8h1.0M221.3 256.7h1.0M228.9 250.1h1.0M226.4 265.0h1.0M226.0 261.0h1.0M228.5 262.1h1.0M216.1 258.8h1.0M240.0 267.4h1.0M218.9 254.3h1.0M224.2 265.4h1.0M232.9 256.3h1.0M237.3 263.3h1.0M230.3 262.7h1.0M240.2 265.6h1.0M237.0 253.1h1.0M221.5 259.5h1.0M225.4 259.2h1.0M245.6 258.4h1.0M224.0 258.9h1.0M222.9 251.6h1.0M234.5 259.7h1.0M228.4 259.7h1.0M219.4 250.7h1.0M223.3 262.5h1.0M224.6 263.6h1.0M219.3 257.9h1.0M226.7 259.0h1.0M227.0 267.5h1.0M222.2 260.3h1.0M220.4 262.5h1.0M227.3 255.4h1.0M217.6 252.9h1.0M223.3 260.4h1.0M221.6 258.9h1.0M226.6 260.7h1.0M241.0 261.6h1.0M230.7 256.7h1.0M221.2 263.8h1.0M220.8 255.9h1.0M213.7 261.2h1.0M224.8 262.6h1.0M218.7 252.6h1.0" stroke="#000" stroke-width="1.0" fill="none" opacity="0.85"/>
<path d="M279.5 257.8h0.9M278.2 253.1h0.9M269.8 247.5h0.9M276.2 261.7h0.9M280.4 264.9h0.9M267.7 253.3h0.9M272.9 254.5h0.9M274.2 254.5h0.9M269.1 257.5h0.9M275.5 254.6h0.9M275.1 252.4h0.9M273.7 256.3h0.9M273.2 257.4h0.9M269.9 252.3h0.9M271.7 260.7h0.9M271.2 253.9h0.9M283.0 256.7h0.9M273.5 254.1h0.9M280.9 259.8h0.9M276.1 264.2h0.9M270.2 250.9h0.9M279.5 259.5h0.9M272.9 260.9h0.9M274.6 265.6h0.9M269.9 259.2h0.9M279.0 261.3h0.9M273.6 256.1h0.9M273.3 260.5h0.9M273.4 257.1h0.9M279.1 257.3h0.9M276.0 257.2h0.9M275.0 248.7h0.9M271.2 259.2h0.9M272.4 255.2h0.9M275.2 267.0h0.9M271.9 253.8h0.9M267.8 259.6h0.9M274.8 254.3h0.9M273.3 261.7h0.9M279.1 259.2h0.9M279.7 261.8h0.9M273.1 260.9h0.9M275.6 260.8h0.9M276.1 266.4h0.9M269.9 259.2h0.9M270.6 267.1h0.9M272.9 256.2h0.9M274.9 257.5h0.9M281.9 257.5h0.9M276.0 262.0h0.9M281.1 253.8h0.9M276.2 252.3h0.9M277.0 263.5h0.9M272.9 256.6h0.9M279.8 259.5h0.9M278.3 255.8h0.9M273.7 256.2h0.9M281.3 251.6h0.9M272.9 264.1h0.9M274.7 253.2h0.9M276.0 256.8h0.9M274.5 259.7h0.9M278.2 251.6h0.9M275.8 263.8h0.9M269.6 257.3h0.9M270.3 260.4h0.9M271.6 256.3h0.9M273.3 259.6h0.9M269.7 252.0h0.9M275.8 263.2h0.9M273.0 259.4h0.9M276.1 258.1h0.9M274.9 255.4h0.9M274.0 262.6h0.9M276.8 262.9h0.9M272.1 258.2h0.9M272.4 252.3h0.9M278.6 256.5h0.9M276.0 251.9h0.9M274.0 257.2h0.9M273.4 261.9h0.9M276.8 258.2h0.9M275.9 255.9h0.9M272.1 256.6h0.9M270.9 257.0h0.9M274.5 262.3h0.9M273.2 267.6h0.9M272.9 258.2h0.9M274.9 255.2h0.9M274.7 250.4h0.9M279.5 255.3h0.9M274.9 250.3h0.9M277.3 252.4h0.9M280.5 253.4h0.9M272.0 260.4h0.9M280.1 249.6h0.9M268.2 264.3h0.9M276.8 251.5h0.9M273.2 260.6h0.9M273.4 263.9h0.9M272.1 258.4h0.9M279.6 263.8h0.9M275.9 260.1h0.9M273.6 257.4h0.9M272.7 259.3h0.9M278.4 253.6h0.9M270.3 257.9h0.9M283.0 258.6h0.9M275.5 257.5h0.9M268.2 254.8h0.9M281.1 249.0h0.9M282.2 252.8h0.9M283.2 268.5h0.9M281.0 257.1h0.9M277.4 255.4h0.9M273.2 258.5h0.9M262.3 260.0h0.9M273.7 253.2h0.9M273.8 260.4h0.9M271.9 259.2h0.9M269.5 258.1h0.9M270.3 260.9h0.9M270.8 260.2h0.9M267.0 258.4h0.9M279.4 254.3h0.9M275.2 254.1h0.9M276.9 260.8h0.9M279.6 263.2h0.9M280.2 254.7h0.9M275.4 259.9h0.9M275.7 252.3h0.9M283.1 268.2h0.9M275.2 246.9h0.9M282.3 256.9h0.9M284.1 253.4h0.9M277.1 261.0h0.9M269.2 256.3h0.9M276.9 260.4h0.9M276.5 246.9h0.9M265.4 259.2h0.9M281.4 251.3h0.9M276.5 261.5h0.9M271.0 251.1h0.9M276.0 255.8h0.9M274.6 256.8h0.9M274.5 259.0h0.9M272.8 257.5h0.9M272.7 254.1h0.9M276.4 254.2h0.9M277.1 257.6h0.9M279.3 260.1h0.9M266.9 257.6h0.9M277.6 258.1h0.9M275.1 262.2h0.9M277.7 252.1h0.9M275.3 261.8h0.9M275.6 252.4h0.9M278.1 260.2h0.9M279.6 258.4h0.9M275.4 261.2h0.9M270.5 264.8h0.9M276.6 258.6h0.9M278.0 261.0h0.9M266.1 261.5h0.9M274.5 254.4h0.9M278.6 261.6h0.9M276.5 255.1h0.9M275.4 253.7h0.9M285.1 254.9h0.9M278.5 264.5h0.9M271.5 255.5h0.9M265.9 256.7h0.9M269.6 258.3h0.9M274.1 257.7h0.9M275.1 255.7h0.9M275.4 257.4h0.9M272.1 256.4h0.9M272.7 252.3h0.9M274.8 249.9h0.9M277.1 257.5h0.9M275.6 262.5h0.9M278.8 255.9h0.9M276.4 262.6h0.9M274.3 259.3h0.9M276.6 253.4h0.9M276.1 256.1h0.9M273.9 259.5h0.9M277.6 253.9h0.9M273.9 256.9h0.9M271.1 259.2h0.9M274.1 254.7h0.9M278.7 257.3h0.9M270.3 257.3h0.9M274.2 258.9h0.9M284.0 260.0h0.9M280.7 257.0h0.9M276.8 259.7h0.9M274.5 258.7h0.9M273.1 260.6h0.9M271.3 264.8h0.9M260.0 251.9h0.9M274.4 259.2h0.9M275.5 250.9h0.9M276.7 254.0h0.9M275.8 255.9h0.9M273.9 251.4h0.9M269.7 255.4h0.9M270.7 258.7h0.9M269.3 258.6h0.9M277.2 254.6h0.9M271.1 256.2h0.9M278.1 263.5h0.9M283.6 258.0h0.9M277.4 258.5h0.9M274.9 253.2h0.9M273.5 262.3h0.9M280.5 255.2h0.9M268.4 265.5h0.9M275.1 259.6h0.9M274.2 250.2h0.9M276.2 253.7h0.9M273.8 255.1h0.9M273.9 267.7h0.9M281.0 249.5h0.9M268.7 255.6h0.9M272.3 260.9h0.9M281.2 254.6h0.9M277.2 256.8h0.9M267.0 262.6h0.9M282.0 254.3h0.9M277.5 254.9h0.9M269.8 255.2h0.9M269.4 257.9h0.9M264.4 259.2h0.9M257.2 262.1h0.9M260.8 247.5h0.9M279.6 255.8h0.9M265.2 262.7h0.9M270.5 268.3h0.9M275.3 249.9h0.9M265.5 254.0h0.9M267.8 266.9h0.9M299.5 267.0h0.9M275.6 260.7h0.9M272.6 245.6h0.9M285.5 268.5h0.9M265.3 257.5h0.9M263.4 256.6h0.9M261.7 251.5h0.9M283.6 247.1h0.9M281.7 251.4h0.9M268.2 246.7h0.9M277.7 252.2h0.9M297.1 252.6h0.9M273.5 261.3h0.9M260.6 253.2h0.9M259.6 260.7h0.9M274.0 263.2h0.9M255.7 252.6h0.9M269.6 255.2h0.9M274.2 263.8h0.9M272.3 253.3h0.9M270.4 253.7h0.9M264.0 267.8h0.9M278.0 267.6h0.9M268.6 257.3h0.9M257.5 259.0h0.9M278.5 261.5h0.9M258.6 258.3h0.9M280.6 255.1h0.9M278.3 254.9h0.9M270.8 254.5h0.9M255.2 253.1h0.9M272.7 256.1h0.9M270.8 254.5h0.9M280.2 256.7h0.9M275.0 255.1h0.9M284.6 257.1h0.9M275.4 269.7h0.9M275.4 249.2h0.9M263.8 259.4h0.9M257.0 249.6h0.9M269.6 249.1h0.9M282.3 260.0h0.9M267.6 264.3h0.9M263.7 251.2h0.9M280.4 257.8h0.9M268.5 263.3h0.9M269.4 261.2h0.9M273.2 264.0h0.9M276.7 255.1h0.9M286.8 255.7h0.9M289.2 250.7h0.9M271.5 245.5h0.9M276.4 265.0h0.9M266.7 260.3h0.9M268.5 265.5h0.9M274.4 259.6h0.9M282.5 249.4h0.9M278.2 258.4h0.9M284.6 257.8h0.9M277.3 257.4h0.9M260.5 254.9h0.9M269.0 250.4h0.9M270.4 255.1h0.9M290.1 256.4h0.9M272.2 258.2h0.9M278.2 248.9h0.9M252.5 266.3h0.9M262.1 252.8h0.9M242.8 258.7h0.9M253.1 257.9h0.9M252.0 264.9h0.9M252.8 252.1h0.9M249.2 264.7h0.9M257.3 256.5h0.9M268.2 267.2h0.9M254.2 252.9h0.9M251.3 252.4h0.9M268.1 262.6h0.9M251.3 261.5h0.9M267.3 267.4h0.9M246.8 258.3h0.9M261.2 258.0h0.9M257.6 258.3h0.9M254.0 260.2h0.9M253.6 255.5h0.9M254.2 263.8h0.9M246.2 258.5h0.9M248.6 266.3h0.9M241.7 256.4h0.9M270.9 262.6h0.9M248.7 263.0h0.9M256.8 252.1h0.9M244.7 251.2h0.9M250.2 257.5h0.9M271.1 265.6h0.9M258.3 261.8h0.9M260.4 264.3h0.9M252.8 261.5h0.9M248.1 254.4h0.9M249.6 257.4h0.9M250.5 260.7h0.9M242.7 255.9h0.9M259.9 264.0h0.9M265.5 257.8h0.9M260.5 250.9h0.9M269.7 261.8h0.9M265.7 252.3h0.9M254.1 255.6h0.9M267.2 263.4h0.9M246.3 267.0h0.9M247.8 252.8h0.9M258.6 257.9h0.9" stroke="#111" stroke-width="0.9" fill="none" opacity="0.8"/>
<path d="M282.3 226.2h0.9M265.2 221.7h0.9M237.0 220.4h0.9M216.7 220.8h0.9M235.3 220.3h0.9M285.0 225.1h0.9M274.5 221.4h0.9M259.3 219.6h0.9M270.3 223.2h0.9M281.6 221.8h0.9M238.8 220.2h0.9M222.6 219.3h0.9M260.7 222.2h0.9M284.0 225.0h0.9M271.4 222.1h0.9M218.3 220.7h0.9M246.2 219.8h0.9M225.7 218.9h0.9M239.7 219.0h0.9M237.5 220.2h0.9M219.5 218.8h0.9M257.9 218.9h0.9M237.6 220.9h0.9M253.9 218.5h0.9M241.7 220.1h0.9M244.1 218.6h0.9M254.8 220.6h0.9M220.4 219.9h0.9M279.7 223.8h0.9M229.5 219.0h0.9M261.7 219.5h0.9M243.4 219.2h0.9M230.5 219.2h0.9M219.2 219.7h0.9M231.2 220.2h0.9M228.6 219.6h0.9M239.7 216.9h0.9M264.5 219.3h0.9M272.7 220.8h0.9M259.3 219.4h0.9M215.1 219.1h0.9M263.2 221.1h0.9M240.3 219.0h0.9M283.3 224.6h0.9M234.2 220.1h0.9M237.0 220.2h0.9M227.9 219.1h0.9M215.3 218.5h0.9M281.9 225.5h0.9M284.6 225.9h0.9M267.3 219.2h0.9M278.8 224.7h0.9M277.5 219.7h0.9M278.4 226.1h0.9M283.4 228.7h0.9M272.6 220.3h0.9M270.1 220.2h0.9M275.1 227.1h0.9M283.5 226.5h0.9M278.4 224.0h0.9M269.3 222.9h0.9M272.0 217.5h0.9M271.5 226.6h0.9M270.0 225.6h0.9M269.0 221.0h0.9M278.0 223.2h0.9M270.9 221.9h0.9M283.6 228.3h0.9M276.5 225.6h0.9M281.2 229.5h0.9M274.2 220.5h0.9M270.8 222.1h0.9M274.1 223.0h0.9M272.6 229.9h0.9M272.2 226.6h0.9M271.4 219.8h0.9M269.9 218.3h0.9M267.7 218.3h0.9M274.4 225.2h0.9M267.0 221.8h0.9M275.0 223.3h0.9M265.2 221.3h0.9M278.7 228.1h0.9M274.1 226.7h0.9M275.9 220.9h0.9M278.0 227.3h0.9M276.7 223.8h0.9M274.3 225.1h0.9M266.8 221.4h0.9M269.3 219.8h0.9M276.5 227.5h0.9M275.5 220.8h0.9M288.6 229.1h0.9M262.5 218.7h0.9M272.0 220.5h0.9M284.1 249.2h0.9M277.7 222.1h0.9M282.9 233.3h0.9M274.3 234.1h0.9M269.2 234.1h0.9M279.4 241.9h0.9M290.6 227.6h0.9M279.6 226.4h0.9M277.9 241.6h0.9M281.4 230.2h0.9M289.2 239.5h0.9M285.4 233.2h0.9M286.1 231.4h0.9M282.9 232.9h0.9M277.0 220.4h0.9M283.7 237.1h0.9M272.8 233.1h0.9M281.1 237.6h0.9M263.0 244.2h0.9M270.1 247.4h0.9M284.8 233.7h0.9M278.4 234.8h0.9M274.3 244.4h0.9M272.5 228.4h0.9M275.5 220.1h0.9M284.1 223.3h0.9M287.3 240.0h0.9M290.8 227.9h0.9M275.0 229.0h0.9M282.5 225.6h0.9M267.0 242.5h0.9M229.8 206.4h0.9M282.0 241.1h0.9M220.7 223.8h0.9M276.3 230.1h0.9M252.1 245.4h0.9M216.6 220.4h0.9M225.8 244.0h0.9M256.6 216.0h0.9M277.0 242.1h0.9M249.2 243.5h0.9M230.0 233.1h0.9M286.0 214.7h0.9M265.1 238.7h0.9M276.8 216.2h0.9M242.2 210.0h0.9M250.9 240.0h0.9M235.9 240.7h0.9" stroke="#444" stroke-width="0.9" fill="none" opacity="0.6"/>
<line x1="212.50" y1="164.50" x2="329.50" y2="164.50" stroke="#666" stroke-width="1"/>
<line x1="329.50" y1="164.50" x2="329.50" y2="271.50" stroke="#777" stroke-width="1"/>
<line x1="212.50" y1="271.50" x2="329.50" y2="271.50" stroke="#666" stroke-width="1"/>
<line x1="212.50" y1="164.50" x2="212.50" y2="271.50" stroke="#222" stroke-width="1"/>
<line x1="241.50" y1="164.50" x2="241.50" y2="271.50" stroke="#111" stroke-width="1"/>
<line x1="212.50" y1="245.50" x2="329.50" y2="245.50" stroke="#111" stroke-width="1"/>
<path d="M221.0 271.5v1.4M226.2 271.5v1.4M229.8 271.5v1.4M232.7 271.5v1.4M235.0 271.5v1.4M237.0 271.5v1.4M238.7 271.5v1.4M240.2 271.5v1.4M241.5 271.5v2.5M250.3 271.5v1.4M255.5 271.5v1.4M259.2 271.5v1.4M262.0 271.5v1.4M264.3 271.5v1.4M266.3 271.5v1.4M268.0 271.5v1.4M269.5 271.5v1.4M270.8 271.5v2.5M279.7 271.5v1.4M284.8 271.5v1.4M288.5 271.5v1.4M291.3 271.5v1.4M293.7 271.5v1.4M295.6 271.5v1.4M297.3 271.5v1.4M298.8 271.5v1.4M300.2 271.5v2.5M309.0 271.5v1.4M314.2 271.5v1.4M317.8 271.5v1.4M320.7 271.5v1.4M323.0 271.5v1.4M325.0 271.5v1.4M326.7 271.5v1.4M328.2 271.5v1.4M329.5 271.5v2.5M212.5 264.4h-1.8M212.5 259.6h-1.8M212.5 256.2h-1.8M212.5 253.6h-1.8M212.5 251.5h-1.8M212.5 249.7h-1.8M212.5 248.1h-1.8M212.5 246.7h-1.8M212.5 245.5h-3.2M212.5 237.4h-1.8M212.5 232.6h-1.8M212.5 229.2h-1.8M212.5 226.6h-1.8M212.5 224.5h-1.8M212.5 222.7h-1.8M212.5 221.1h-1.8M212.5 219.7h-1.8M212.5 218.5h-3.2M212.5 210.4h-1.8M212.5 205.6h-1.8M212.5 202.2h-1.8M212.5 199.6h-1.8M212.5 197.5h-1.8M212.5 195.7h-1.8M212.5 194.1h-1.8M212.5 192.7h-1.8M212.5 191.5h-3.2M212.5 183.4h-1.8M212.5 178.6h-1.8M212.5 175.2h-1.8M212.5 172.6h-1.8M212.5 170.5h-1.8M212.5 168.7h-1.8M212.5 167.1h-1.8M212.5 165.7h-1.8M212.5 164.5h-3.2" stroke="#333" stroke-width="0.6" fill="none"/>
<text class="a" x="206.5" y="247.0" font-size="3.6" text-anchor="middle" fill="#444">10<tspan dy="-1.4" font-size="2.52">0</tspan></text>
<text class="a" x="242.5" y="279.1" font-size="3.6" text-anchor="middle" fill="#444">10<tspan dy="-1.4" font-size="2.52">0</tspan></text>
<text class="a" x="206.5" y="220.0" font-size="3.6" text-anchor="middle" fill="#444">10<tspan dy="-1.4" font-size="2.52">1</tspan></text>
<text class="a" x="271.8" y="279.1" font-size="3.6" text-anchor="middle" fill="#444">10<tspan dy="-1.4" font-size="2.52">1</tspan></text>
<text class="a" x="206.5" y="193.0" font-size="3.6" text-anchor="middle" fill="#444">10<tspan dy="-1.4" font-size="2.52">2</tspan></text>
<text class="a" x="301.2" y="279.1" font-size="3.6" text-anchor="middle" fill="#444">10<tspan dy="-1.4" font-size="2.52">2</tspan></text>
<text class="a" x="206.5" y="166.0" font-size="3.6" text-anchor="middle" fill="#444">10<tspan dy="-1.4" font-size="2.52">3</tspan></text>
<text class="a" x="330.5" y="279.1" font-size="3.6" text-anchor="middle" fill="#444">10<tspan dy="-1.4" font-size="2.52">3</tspan></text>
<text class="a" x="213.7" y="168.8" font-size="4.2" fill="#222">B1</text>
<text class="a" x="214.3" y="173.9" font-size="4.6" fill="#111">0.5%</text>
<text class="a" x="242.7" y="168.8" font-size="4.2" fill="#222">B2</text>
<text class="a" x="243.3" y="173.9" font-size="4.6" fill="#111">1.5%</text>
<text class="a" x="213.7" y="250.0" font-size="4.2" fill="#222">B3</text>
<rect x="213.90" y="251.30" width="12.50" height="4.60" fill="#fff"/>
<text class="a" x="214.3" y="255.1" font-size="4.6" fill="#111">83.4%</text>
<text class="a" x="242.7" y="250.0" font-size="4.2" fill="#222">B4</text>
<text class="a" x="243.3" y="255.1" font-size="4.6" fill="#111">14.6%</text>
<text class="s" x="260.5" y="180.8" font-size="13.2" textLength="62.8" lengthAdjust="spacingAndGlyphs">Rituximab</text>
<text class="s" x="260.5" y="197.0" font-size="13.2" textLength="39.0" lengthAdjust="spacingAndGlyphs">+ <tspan style="font-weight:normal" font-size="16">α</tspan>-Fc</text>
<text class="s" x="275.5" y="213.8" font-size="13.2" textLength="38.3" lengthAdjust="spacingAndGlyphs">16.6%</text>
<path d="M379.4 267.2h1.0M375.0 256.0h1.0M384.6 261.1h1.0M373.2 267.0h1.0M382.6 255.4h1.0M378.9 270.8h1.0M380.6 256.9h1.0M375.8 268.3h1.0M387.7 265.4h1.0M372.3 266.0h1.0M375.8 260.4h1.0M377.5 267.0h1.0M382.7 264.9h1.0M377.8 260.4h1.0M385.6 260.0h1.0M378.6 264.9h1.0M379.1 266.7h1.0M382.9 265.2h1.0M391.9 260.3h1.0M390.8 257.2h1.0M376.0 252.1h1.0M376.6 259.2h1.0M383.7 267.8h1.0M392.0 260.3h1.0M385.5 261.8h1.0M370.5 245.0h1.0M378.2 254.4h1.0M384.5 258.6h1.0M383.4 259.7h1.0M382.5 258.5h1.0M382.1 270.2h1.0M382.0 256.7h1.0M376.0 263.1h1.0M384.2 257.3h1.0M375.4 255.7h1.0M389.1 263.8h1.0M381.7 260.7h1.0M389.9 265.0h1.0M379.5 267.7h1.0M383.1 261.3h1.0M378.2 262.5h1.0M387.2 256.5h1.0M371.5 265.4h1.0M385.5 268.7h1.0M383.0 256.2h1.0M384.3 263.2h1.0M374.8 255.7h1.0M372.1 262.8h1.0M373.4 264.0h1.0M379.2 265.2h1.0M384.5 258.6h1.0M378.1 265.7h1.0M376.7 266.8h1.0M383.1 266.3h1.0M377.0 265.9h1.0M378.9 263.5h1.0M383.3 260.1h1.0M379.8 252.4h1.0M376.5 265.2h1.0M374.5 253.5h1.0M372.7 261.2h1.0M383.5 264.8h1.0M372.7 264.2h1.0M373.7 267.2h1.0M382.1 259.8h1.0M377.6 262.2h1.0M377.1 267.5h1.0M381.6 260.1h1.0M382.4 256.6h1.0M380.8 261.1h1.0M377.1 262.3h1.0M381.2 256.3h1.0M384.1 260.0h1.0M381.9 269.6h1.0M374.5 269.6h1.0M378.2 270.6h1.0M375.8 267.0h1.0M377.1 267.9h1.0M384.6 263.9h1.0M375.8 267.0h1.0M381.9 257.9h1.0M382.9 261.8h1.0M379.4 258.3h1.0M381.1 266.2h1.0M375.8 265.9h1.0M370.8 263.0h1.0M381.4 258.4h1.0M380.8 256.9h1.0M389.5 264.2h1.0M385.6 258.5h1.0M368.6 262.1h1.0M386.8 261.8h1.0M385.9 264.2h1.0M381.7 267.0h1.0M377.1 260.7h1.0M385.6 264.5h1.0M377.3 257.9h1.0M387.5 248.6h1.0M384.6 261.9h1.0M373.5 264.2h1.0M382.4 272.3h1.0M381.5 251.7h1.0M375.4 265.8h1.0M377.6 262.2h1.0M379.6 268.6h1.0M381.7 261.8h1.0M376.8 266.8h1.0M376.6 264.3h1.0M382.1 265.7h1.0M384.0 263.7h1.0M389.9 265.9h1.0M376.3 258.6h1.0M376.6 268.2h1.0M374.6 269.2h1.0M382.2 260.0h1.0M375.1 262.1h1.0M383.8 262.2h1.0M383.6 263.2h1.0M386.8 260.4h1.0M379.4 257.7h1.0M378.5 258.2h1.0M372.6 261.5h1.0M383.4 252.9h1.0M373.7 256.5h1.0M381.9 264.9h1.0M381.6 261.7h1.0M376.2 263.3h1.0M375.8 261.5h1.0M382.0 261.4h1.0M385.9 253.2h1.0M372.2 266.8h1.0M377.2 260.5h1.0M377.3 262.2h1.0M379.3 264.0h1.0M384.6 270.4h1.0M369.6 262.0h1.0M375.7 263.4h1.0M375.1 262.8h1.0M381.4 262.3h1.0M381.2 265.3h1.0M374.8 262.3h1.0M385.2 266.5h1.0M384.8 258.9h1.0M376.8 266.7h1.0M380.0 263.7h1.0M378.3 266.4h1.0M380.9 258.2h1.0M381.8 261.0h1.0M378.7 264.9h1.0M380.7 260.0h1.0M374.3 260.6h1.0M379.4 257.4h1.0M377.0 272.4h1.0M376.9 262.8h1.0M374.0 261.1h1.0M381.2 263.2h1.0M371.7 262.6h1.0M375.2 267.1h1.0M379.5 269.3h1.0M381.8 257.5h1.0M384.7 260.4h1.0M379.5 262.9h1.0M373.7 267.5h1.0M380.8 258.1h1.0M373.3 264.5h1.0M385.9 264.2h1.0M381.5 260.7h1.0M385.4 264.8h1.0M376.1 259.9h1.0M369.5 267.4h1.0M394.6 262.0h1.0M382.2 265.8h1.0M379.0 271.6h1.0M375.1 258.9h1.0M387.9 266.4h1.0M383.7 262.1h1.0M379.8 263.1h1.0M382.1 259.9h1.0M385.1 269.9h1.0M377.4 258.4h1.0M380.6 273.0h1.0M375.3 268.2h1.0M376.7 259.3h1.0M385.3 261.8h1.0M379.8 265.5h1.0M385.6 263.5h1.0M387.6 259.6h1.0M377.5 265.4h1.0M383.2 255.1h1.0M378.5 265.4h1.0M379.2 270.2h1.0M372.3 263.4h1.0M375.9 255.7h1.0M378.9 262.3h1.0M378.0 259.8h1.0M384.2 258.1h1.0M377.0 256.6h1.0M385.7 256.3h1.0M388.4 258.6h1.0M379.8 269.4h1.0M374.8 268.1h1.0M373.6 260.6h1.0M382.7 264.0h1.0M381.6 263.9h1.0M387.7 255.7h1.0M376.6 266.2h1.0M372.8 259.6h1.0M392.0 268.3h1.0M382.5 262.9h1.0M379.2 258.8h1.0M375.7 258.4h1.0M373.8 263.1h1.0M382.1 258.6h1.0M380.7 256.9h1.0M381.8 261.2h1.0M379.7 263.4h1.0M386.4 263.5h1.0M376.8 263.2h1.0M381.9 264.8h1.0M385.2 259.1h1.0M374.2 265.2h1.0M374.5 264.5h1.0M393.4 267.9h1.0M372.8 259.1h1.0M381.9 261.4h1.0M383.4 263.6h1.0M381.6 264.9h1.0M372.3 267.4h1.0M373.1 258.8h1.0M368.2 262.6h1.0M382.0 261.0h1.0M374.1 253.3h1.0M382.8 257.7h1.0M378.2 263.6h1.0M379.7 264.3h1.0M388.2 265.6h1.0M375.0 262.4h1.0M378.9 258.9h1.0M383.2 260.9h1.0M381.2 265.3h1.0M390.3 260.0h1.0M383.6 271.7h1.0M387.9 263.9h1.0M376.4 263.3h1.0M376.9 260.8h1.0M371.5 261.4h1.0M370.1 266.8h1.0M382.6 260.9h1.0M380.2 263.1h1.0M378.8 263.8h1.0M379.1 264.5h1.0M376.0 262.9h1.0M388.3 259.2h1.0M376.0 266.6h1.0M381.6 263.3h1.0M380.9 260.9h1.0M377.4 264.8h1.0M380.9 265.3h1.0M382.2 272.1h1.0M380.5 268.6h1.0M380.8 272.2h1.0M384.9 259.4h1.0M387.9 260.2h1.0M385.0 259.4h1.0M381.8 263.3h1.0M387.1 253.5h1.0M370.5 266.8h1.0M383.8 260.5h1.0M380.5 255.2h1.0M378.2 259.8h1.0M384.4 263.7h1.0M379.3 267.6h1.0M376.8 265.9h1.0M378.9 264.6h1.0M378.6 268.6h1.0M377.9 271.2h1.0M384.0 259.1h1.0M377.8 268.4h1.0M387.3 257.5h1.0M380.9 265.3h1.0M391.8 265.5h1.0M379.1 266.6h1.0M380.4 259.0h1.0M379.8 261.7h1.0M379.0 263.0h1.0M381.8 259.4h1.0M383.4 256.0h1.0M383.4 264.8h1.0M382.2 256.4h1.0M377.6 263.6h1.0M382.4 265.9h1.0M372.4 262.8h1.0M385.4 257.8h1.0M374.0 260.7h1.0M378.7 261.6h1.0M386.3 263.9h1.0M370.6 266.1h1.0M380.5 266.4h1.0M379.9 268.6h1.0M380.8 260.7h1.0M374.1 266.7h1.0M379.4 255.3h1.0M384.2 268.3h1.0M369.7 265.2h1.0M383.3 270.1h1.0M386.1 259.6h1.0M382.3 265.9h1.0M372.7 268.9h1.0M382.5 266.3h1.0M375.6 266.3h1.0M379.8 261.5h1.0M380.2 264.2h1.0M372.5 262.8h1.0M381.9 255.9h1.0M388.5 273.7h1.0M383.4 262.8h1.0M374.9 258.1h1.0M373.9 266.5h1.0M375.7 263.6h1.0M377.9 266.6h1.0M386.4 266.7h1.0M383.3 267.3h1.0M388.6 259.1h1.0M381.4 260.0h1.0M380.3 261.9h1.0M380.6 265.8h1.0M373.6 251.8h1.0M381.4 267.3h1.0M378.1 269.1h1.0M391.3 263.1h1.0M379.0 265.0h1.0M383.9 256.5h1.0M382.5 254.1h1.0M374.7 263.8h1.0M381.6 257.8h1.0M380.3 268.3h1.0M371.8 265.2h1.0M386.4 257.1h1.0M386.0 264.7h1.0M378.5 262.9h1.0M379.9 263.0h1.0M379.0 259.7h1.0M384.6 270.1h1.0M379.1 268.9h1.0M376.2 257.4h1.0M383.2 263.9h1.0M382.3 258.8h1.0M378.1 267.2h1.0M388.0 263.9h1.0M382.0 251.7h1.0M376.8 268.4h1.0M389.5 259.3h1.0M367.4 265.0h1.0M373.5 261.1h1.0M377.0 261.3h1.0M375.2 265.6h1.0M381.5 257.3h1.0M372.1 271.7h1.0M382.9 263.7h1.0M371.6 272.0h1.0M374.9 263.4h1.0M381.7 259.8h1.0M380.6 260.9h1.0M369.8 257.0h1.0M376.9 260.6h1.0M382.2 269.9h1.0M378.8 272.1h1.0M377.8 263.3h1.0M378.9 255.7h1.0M379.6 262.0h1.0M375.9 266.0h1.0M382.0 261.5h1.0M375.6 264.1h1.0M376.0 259.2h1.0M377.5 266.9h1.0M378.6 262.2h1.0M378.3 265.4h1.0M379.2 266.4h1.0M379.2 266.5h1.0M378.5 259.7h1.0M382.0 262.0h1.0M377.7 269.0h1.0M377.5 259.5h1.0M378.3 269.0h1.0M373.3 267.8h1.0M382.5 261.2h1.0M378.3 259.8h1.0M369.9 258.9h1.0M373.0 256.1h1.0M377.7 265.4h1.0M375.3 261.5h1.0M376.1 262.0h1.0M381.9 268.1h1.0M382.9 264.5h1.0M386.7 266.0h1.0M382.3 265.3h1.0M383.9 258.5h1.0M375.5 263.3h1.0M371.0 261.7h1.0M378.2 264.3h1.0M383.3 268.5h1.0M368.1 263.8h1.0M381.5 269.0h1.0M376.7 264.7h1.0M379.1 258.9h1.0M381.0 267.0h1.0M378.1 263.3h1.0M385.2 262.1h1.0M378.2 264.2h1.0M382.0 264.6h1.0M385.9 264.8h1.0M373.9 256.0h1.0M379.3 270.1h1.0M380.0 261.0h1.0M381.1 265.2h1.0M385.9 257.5h1.0M383.6 263.7h1.0M383.8 267.5h1.0M368.7 266.8h1.0M382.2 259.6h1.0M379.1 267.4h1.0M372.3 266.7h1.0M383.7 270.4h1.0M375.6 260.3h1.0M384.7 261.7h1.0M381.8 251.8h1.0M391.6 255.0h1.0M371.6 265.0h1.0M382.2 259.5h1.0M368.8 265.2h1.0M380.9 259.0h1.0M380.4 260.4h1.0M374.7 265.9h1.0M379.7 263.1h1.0M373.6 259.9h1.0M378.4 260.3h1.0M381.4 263.0h1.0M378.6 262.2h1.0M381.7 267.2h1.0M374.4 267.0h1.0M384.2 266.3h1.0M377.0 263.8h1.0M390.1 257.2h1.0M383.9 261.8h1.0M387.9 263.5h1.0M383.9 260.2h1.0M377.3 269.8h1.0M373.4 260.7h1.0M378.5 257.6h1.0M382.8 257.7h1.0M379.9 261.9h1.0M368.8 263.5h1.0M372.0 263.0h1.0M368.2 260.6h1.0M383.8 264.1h1.0M385.3 269.9h1.0M383.3 262.1h1.0M379.1 265.6h1.0M373.6 258.4h1.0M379.7 270.4h1.0M374.2 264.0h1.0M376.2 266.0h1.0M381.4 262.7h1.0M384.2 261.8h1.0M371.5 271.9h1.0M379.2 264.2h1.0M383.6 259.4h1.0M377.4 259.7h1.0M382.6 264.6h1.0M380.7 257.3h1.0M375.6 256.7h1.0M372.9 259.7h1.0M381.2 265.0h1.0M370.8 265.6h1.0M381.5 269.7h1.0M383.9 256.4h1.0M382.1 263.9h1.0M381.3 259.7h1.0M386.8 263.3h1.0M376.8 255.1h1.0M378.4 257.0h1.0M372.4 269.9h1.0M379.4 267.1h1.0M385.2 266.0h1.0M377.6 257.8h1.0M378.9 263.4h1.0M379.0 261.6h1.0M380.4 256.7h1.0M385.0 257.8h1.0M380.3 259.1h1.0M386.4 260.5h1.0M375.1 261.3h1.0M384.1 257.6h1.0M373.2 260.6h1.0M383.5 250.2h1.0M384.3 272.6h1.0M378.8 266.9h1.0M379.1 254.9h1.0M377.6 265.5h1.0M374.2 261.6h1.0M376.4 264.5h1.0M392.0 263.2h1.0M373.2 270.0h1.0M378.2 261.1h1.0M382.2 266.2h1.0M380.8 264.4h1.0M380.6 257.6h1.0M383.6 266.6h1.0M375.8 255.3h1.0M376.7 263.6h1.0M386.7 263.8h1.0M380.0 263.9h1.0M372.1 261.3h1.0M380.4 265.9h1.0M383.8 270.0h1.0M376.3 261.0h1.0M377.5 265.0h1.0M389.7 263.6h1.0M380.5 258.9h1.0M373.3 270.6h1.0M379.3 269.0h1.0M383.8 260.7h1.0M381.0 258.9h1.0M382.9 262.2h1.0M383.7 268.3h1.0M376.8 266.3h1.0M381.9 260.6h1.0M381.1 268.2h1.0M380.5 267.1h1.0M381.5 268.3h1.0M379.1 261.4h1.0M382.9 252.9h1.0M377.1 269.5h1.0M376.0 270.9h1.0M387.8 260.7h1.0M376.0 264.6h1.0M384.3 270.5h1.0M387.4 259.8h1.0M384.1 260.6h1.0M385.2 264.9h1.0M387.0 262.5h1.0M383.9 257.3h1.0M374.9 265.1h1.0M380.3 266.7h1.0M391.3 260.1h1.0M373.8 258.2h1.0M376.7 267.9h1.0M381.7 261.5h1.0M383.2 262.1h1.0M381.1 262.8h1.0M373.0 266.4h1.0M380.7 272.5h1.0M380.3 260.2h1.0M380.7 259.7h1.0M379.6 261.2h1.0M381.5 258.8h1.0M379.3 261.0h1.0M374.9 262.5h1.0M383.3 266.0h1.0M381.4 262.3h1.0M384.6 261.6h1.0M383.2 255.2h1.0M373.7 259.6h1.0M385.5 261.6h1.0M382.1 258.0h1.0M388.2 270.5h1.0M379.9 259.9h1.0M381.1 261.7h1.0M377.5 251.9h1.0M381.0 253.1h1.0M377.2 256.1h1.0M390.0 257.2h1.0M377.8 264.4h1.0M378.2 263.9h1.0M384.5 260.0h1.0M382.5 262.2h1.0M373.2 264.0h1.0M374.4 267.3h1.0M379.9 263.5h1.0M384.9 259.1h1.0M375.8 269.1h1.0M383.5 264.7h1.0M369.7 262.9h1.0M375.0 260.1h1.0M371.5 255.6h1.0M377.6 264.4h1.0M377.3 262.0h1.0M380.3 268.7h1.0M376.9 263.3h1.0M393.9 262.6h1.0M384.1 257.5h1.0M374.5 260.8h1.0M395.6 260.0h1.0M387.1 260.5h1.0M373.5 254.5h1.0M380.7 267.4h1.0M375.8 261.0h1.0M374.2 259.5h1.0M385.1 260.3h1.0M374.5 265.4h1.0M381.3 262.5h1.0M390.5 264.0h1.0M385.9 257.3h1.0M379.6 268.3h1.0M383.8 266.7h1.0M372.3 261.5h1.0M388.6 269.1h1.0M387.0 266.2h1.0M386.8 250.4h1.0M380.4 266.2h1.0M386.3 258.4h1.0M385.4 266.2h1.0M377.2 269.7h1.0M386.6 266.6h1.0M377.5 263.9h1.0M379.8 270.0h1.0M392.8 258.9h1.0M390.4 264.6h1.0M376.4 259.5h1.0M388.0 264.1h1.0M376.5 261.8h1.0M377.9 262.1h1.0M389.4 259.7h1.0M378.3 249.3h1.0M382.6 266.8h1.0M390.8 260.0h1.0M378.4 260.9h1.0M373.4 262.7h1.0M375.8 261.7h1.0M380.8 266.0h1.0M380.3 273.3h1.0M381.7 265.0h1.0M382.7 262.3h1.0M385.1 263.4h1.0M372.9 260.4h1.0M387.8 255.6h1.0M389.3 263.2h1.0M381.4 268.2h1.0M381.2 260.6h1.0M368.4 260.0h1.0M373.7 265.7h1.0M380.5 258.5h1.0M386.2 266.6h1.0M391.8 263.8h1.0M373.4 263.1h1.0M384.0 266.6h1.0M373.0 264.8h1.0M383.6 264.4h1.0M371.3 260.6h1.0M379.4 261.7h1.0M384.9 261.0h1.0M370.2 253.3h1.0M382.5 259.1h1.0M379.8 267.5h1.0M377.2 262.5h1.0M372.3 257.3h1.0M383.1 267.7h1.0M376.5 261.8h1.0M381.8 260.7h1.0M380.4 260.9h1.0M383.2 260.4h1.0M377.5 256.6h1.0M375.9 256.1h1.0M379.3 267.0h1.0M373.1 258.9h1.0M375.9 264.6h1.0M378.4 261.2h1.0M374.9 261.4h1.0M378.1 259.1h1.0M387.5 264.7h1.0M379.2 264.0h1.0M392.2 265.3h1.0M377.1 262.5h1.0M386.1 264.6h1.0M378.5 263.0h1.0M374.0 261.2h1.0M377.8 261.5h1.0M387.3 262.7h1.0M386.2 262.6h1.0M372.0 267.9h1.0M377.1 262.1h1.0M385.9 268.7h1.0M380.9 268.1h1.0M377.4 265.4h1.0M375.2 266.8h1.0M377.0 265.4h1.0M373.6 268.8h1.0M388.7 261.4h1.0M380.4 258.4h1.0M379.0 256.3h1.0M383.8 262.3h1.0M386.2 262.6h1.0M378.8 259.0h1.0M383.4 262.0h1.0M373.6 256.1h1.0M385.1 262.1h1.0M379.6 260.2h1.0M377.2 262.5h1.0M381.1 257.4h1.0M393.2 266.5h1.0M369.8 262.8h1.0M386.0 259.7h1.0M372.7 264.9h1.0M376.7 262.5h1.0M388.8 262.6h1.0M387.1 259.2h1.0M370.3 260.9h1.0M377.9 265.5h1.0M382.4 254.0h1.0M374.0 260.7h1.0M376.1 259.7h1.0M378.2 263.2h1.0M372.0 258.5h1.0M375.1 267.7h1.0M379.1 256.1h1.0M382.6 266.5h1.0M371.4 257.3h1.0M382.4 262.8h1.0M383.3 269.5h1.0M383.6 266.8h1.0M377.4 268.6h1.0M376.3 264.0h1.0M369.2 260.8h1.0M384.2 258.6h1.0M377.5 253.2h1.0M378.2 256.9h1.0M380.3 260.5h1.0M376.3 261.1h1.0M377.8 262.5h1.0M378.6 267.4h1.0M385.7 251.7h1.0M387.2 261.6h1.0M381.9 258.6h1.0M383.2 265.0h1.0M377.0 257.7h1.0M382.8 264.4h1.0M375.2 253.3h1.0M374.1 264.2h1.0M386.8 258.3h1.0M377.0 257.8h1.0M381.9 259.1h1.0M389.0 265.0h1.0M379.0 260.8h1.0M385.4 260.8h1.0M378.0 263.0h1.0M385.6 268.6h1.0M378.2 257.2h1.0M375.2 261.8h1.0M383.4 251.2h1.0M383.5 264.2h1.0M381.1 256.1h1.0M380.6 260.3h1.0M375.1 265.1h1.0M386.7 263.3h1.0M383.1 266.8h1.0M380.2 260.7h1.0M388.0 259.8h1.0M378.5 263.9h1.0M377.9 258.4h1.0M385.9 262.4h1.0M376.4 260.0h1.0M383.2 266.0h1.0M381.2 267.4h1.0M380.0 269.2h1.0M384.9 257.6h1.0M379.6 263.9h1.0M380.0 258.3h1.0M382.6 262.2h1.0M372.3 257.0h1.0M378.1 266.4h1.0M379.9 263.3h1.0M385.1 261.5h1.0M380.2 262.1h1.0M384.9 259.7h1.0M382.2 259.4h1.0M380.6 267.1h1.0M372.4 265.2h1.0M380.5 263.5h1.0M384.7 262.5h1.0M384.5 274.2h1.0M373.4 254.6h1.0M386.8 264.6h1.0M398.4 257.7h1.0M386.6 258.2h1.0M375.3 257.9h1.0M372.3 255.5h1.0M376.9 260.8h1.0M380.4 267.4h1.0M371.5 261.3h1.0M371.7 267.6h1.0M371.4 259.5h1.0M372.6 269.2h1.0M368.7 254.2h1.0M376.2 259.5h1.0M371.3 269.6h1.0M374.8 247.8h1.0M378.0 253.0h1.0M373.8 258.6h1.0M371.5 259.1h1.0M376.2 266.1h1.0M403.1 257.2h1.0M375.6 269.6h1.0M395.5 267.2h1.0M380.6 270.0h1.0M374.9 253.6h1.0M392.2 255.9h1.0M370.3 262.9h1.0M371.3 266.5h1.0M380.6 260.5h1.0M374.7 271.8h1.0M392.5 269.6h1.0M367.8 273.1h1.0M380.8 273.5h1.0M384.7 257.4h1.0M390.9 258.9h1.0M395.0 253.3h1.0M385.7 261.2h1.0M367.1 264.5h1.0M376.2 260.0h1.0M373.8 260.9h1.0M376.1 263.4h1.0M376.8 270.5h1.0M385.1 268.7h1.0M378.5 266.3h1.0M373.7 262.9h1.0M370.8 259.5h1.0M383.0 258.5h1.0M372.1 261.0h1.0M382.8 264.8h1.0M368.9 259.0h1.0M369.1 255.1h1.0M401.6 270.2h1.0M386.2 260.0h1.0M387.6 272.4h1.0M391.1 266.9h1.0M386.7 267.8h1.0M382.9 264.5h1.0M376.1 250.4h1.0M384.1 266.6h1.0M379.6 267.1h1.0M378.3 261.4h1.0M385.4 250.4h1.0M392.5 259.4h1.0M384.7 266.1h1.0M394.3 273.4h1.0M367.8 255.5h1.0M381.2 250.9h1.0M385.3 261.2h1.0M372.5 267.7h1.0M371.0 256.9h1.0M379.5 267.8h1.0M377.8 259.6h1.0M381.4 259.5h1.0M384.0 269.5h1.0M380.7 265.2h1.0M373.1 271.0h1.0M383.5 258.9h1.0M378.6 256.6h1.0M375.4 264.3h1.0M385.7 258.7h1.0M369.2 266.8h1.0M396.6 262.9h1.0M381.7 264.5h1.0M380.8 255.1h1.0M376.5 274.8h1.0M374.3 259.3h1.0M368.3 257.8h1.0M390.4 264.5h1.0M374.6 259.5h1.0M386.8 258.1h1.0M371.9 259.8h1.0M371.8 267.1h1.0M379.1 268.9h1.0M384.3 260.5h1.0M382.1 247.9h1.0M368.7 248.1h1.0M382.3 252.1h1.0M385.0 260.6h1.0M392.6 263.6h1.0M397.9 267.7h1.0M398.3 244.0h1.0M386.2 267.3h1.0M393.0 266.0h1.0M382.9 264.2h1.0M381.1 265.8h1.0M394.0 251.1h1.0M375.1 252.1h1.0M373.8 263.9h1.0M380.9 264.6h1.0M385.9 264.9h1.0M376.1 261.2h1.0M369.3 259.0h1.0M378.2 264.6h1.0M378.5 251.5h1.0M377.7 265.9h1.0M380.0 259.2h1.0M370.9 263.5h1.0M380.6 264.0h1.0M375.5 270.3h1.0M380.7 267.7h1.0M376.4 265.0h1.0M377.4 269.8h1.0M373.6 265.6h1.0M382.1 251.3h1.0M389.8 258.0h1.0M368.5 257.5h1.0M386.9 259.2h1.0M386.2 255.6h1.0M381.4 250.3h1.0M376.3 270.7h1.0M374.1 263.2h1.0M376.9 265.0h1.0M375.4 255.0h1.0M375.7 259.8h1.0M369.4 260.9h1.0M370.0 258.7h1.0M381.8 263.5h1.0M376.7 264.7h1.0M394.7 264.4h1.0M380.0 261.4h1.0M382.0 266.3h1.0M387.7 265.2h1.0M373.3 261.2h1.0M371.9 270.9h1.0M372.6 251.1h1.0M376.8 256.2h1.0M380.6 262.9h1.0M371.1 251.6h1.0M375.8 253.3h1.0M377.1 263.1h1.0M375.2 263.0h1.0M375.1 273.0h1.0M389.1 253.7h1.0M384.5 260.5h1.0M378.8 252.5h1.0M375.0 260.9h1.0M374.7 246.9h1.0M380.1 259.6h1.0M377.5 254.3h1.0M370.5 263.9h1.0M373.6 266.6h1.0M367.2 263.6h1.0M382.7 265.4h1.0" stroke="#000" stroke-width="1.0" fill="none" opacity="0.85"/>
<path d="M426.1 256.4h0.9M424.7 261.4h0.9M420.7 274.2h0.9M428.4 266.6h0.9M428.2 267.2h0.9M428.4 265.7h0.9M433.8 262.3h0.9M424.2 262.9h0.9M430.2 259.5h0.9M428.6 264.2h0.9M420.7 263.5h0.9M436.4 257.7h0.9M434.8 258.7h0.9M428.3 259.3h0.9M429.4 257.3h0.9M427.0 259.8h0.9M425.6 260.6h0.9M433.9 257.0h0.9M430.4 257.3h0.9M424.6 260.8h0.9M428.3 265.6h0.9M432.5 261.4h0.9M426.8 267.3h0.9M423.9 257.3h0.9M432.6 262.8h0.9M432.1 259.9h0.9M432.6 266.4h0.9M421.3 263.4h0.9M433.6 256.0h0.9M425.5 262.6h0.9M432.1 260.8h0.9M422.6 261.9h0.9M429.1 259.1h0.9M433.9 250.8h0.9M429.9 258.0h0.9M432.0 259.4h0.9M436.8 261.7h0.9M427.2 253.2h0.9M428.4 260.7h0.9M436.2 262.6h0.9M430.3 256.6h0.9M430.4 256.3h0.9M423.5 263.0h0.9M427.6 254.6h0.9M434.3 266.6h0.9M431.4 253.1h0.9M426.0 256.3h0.9M433.4 260.4h0.9M425.9 254.3h0.9M426.4 261.7h0.9M428.5 263.2h0.9M431.7 255.5h0.9M433.0 261.0h0.9M436.3 260.2h0.9M428.0 260.3h0.9M434.7 263.3h0.9M434.5 265.7h0.9M430.9 271.8h0.9M429.2 259.8h0.9M434.3 255.4h0.9M430.9 265.5h0.9M425.8 252.0h0.9M423.6 266.2h0.9M440.1 256.7h0.9M424.0 254.9h0.9M436.2 264.4h0.9M432.4 257.5h0.9M432.4 257.4h0.9M432.0 257.3h0.9M424.2 258.7h0.9M431.3 262.4h0.9M427.3 265.1h0.9M422.8 251.6h0.9M432.1 260.1h0.9M429.4 258.7h0.9M431.9 261.9h0.9M435.5 256.4h0.9M424.3 260.2h0.9M428.5 259.4h0.9M420.5 262.5h0.9M436.8 262.5h0.9M434.9 263.6h0.9M430.8 262.7h0.9M434.3 263.0h0.9M432.4 260.5h0.9M426.5 262.5h0.9M428.0 263.5h0.9M420.2 269.1h0.9M435.3 268.0h0.9M431.3 255.9h0.9M428.0 255.3h0.9M431.4 260.9h0.9M430.4 252.1h0.9M423.3 250.5h0.9M435.7 263.2h0.9M430.0 259.1h0.9M422.1 259.1h0.9M428.0 256.9h0.9M434.0 251.3h0.9M430.4 264.6h0.9M433.2 253.7h0.9M417.8 267.3h0.9M435.9 260.1h0.9M428.6 262.4h0.9M434.4 261.4h0.9M428.3 261.8h0.9M431.4 270.5h0.9M429.9 256.5h0.9M438.0 267.9h0.9M436.2 256.4h0.9M427.3 254.4h0.9M429.3 267.1h0.9M433.9 261.1h0.9M430.8 263.1h0.9M429.3 255.9h0.9M426.9 268.6h0.9M425.8 255.5h0.9M432.3 259.2h0.9M428.4 261.6h0.9M429.3 253.0h0.9M434.0 261.9h0.9M437.3 264.8h0.9M427.4 258.8h0.9M426.8 250.4h0.9M433.1 257.6h0.9M434.2 261.7h0.9M429.4 268.5h0.9M425.8 269.1h0.9M428.3 271.0h0.9M435.0 258.4h0.9M437.6 262.9h0.9M431.5 259.0h0.9M429.7 258.9h0.9M428.5 264.6h0.9M433.5 266.7h0.9M435.2 260.5h0.9M433.2 259.7h0.9M432.5 263.8h0.9M431.6 257.1h0.9M424.9 268.9h0.9M426.6 258.0h0.9M431.7 259.1h0.9M431.9 267.3h0.9M423.3 261.3h0.9M432.6 254.3h0.9M433.2 267.9h0.9M430.2 263.1h0.9M428.7 265.5h0.9M427.8 260.9h0.9M427.1 257.5h0.9M435.0 260.6h0.9M433.9 253.4h0.9M424.9 256.6h0.9M438.3 266.4h0.9M439.7 258.8h0.9M432.7 262.6h0.9M428.9 263.7h0.9M429.9 263.2h0.9M422.3 256.0h0.9M425.7 268.8h0.9M433.9 256.3h0.9M432.2 258.2h0.9M425.2 256.6h0.9M443.0 261.3h0.9M429.7 266.8h0.9M431.3 255.7h0.9M439.4 271.3h0.9M433.5 256.9h0.9M429.8 261.5h0.9M425.3 273.4h0.9M430.1 258.3h0.9M428.9 259.4h0.9M419.1 261.6h0.9M435.1 262.0h0.9M432.0 260.6h0.9M422.5 263.7h0.9M433.0 256.0h0.9M425.2 258.2h0.9M424.3 249.2h0.9M428.3 258.1h0.9M430.6 266.5h0.9M426.1 253.6h0.9M429.6 264.1h0.9M436.3 265.3h0.9M430.6 261.1h0.9M422.6 264.2h0.9M433.4 260.5h0.9M428.7 262.9h0.9M432.0 263.3h0.9M431.9 253.7h0.9M427.6 253.1h0.9M433.5 273.1h0.9M426.6 260.3h0.9M431.1 257.6h0.9M437.4 261.9h0.9M439.4 271.6h0.9M432.1 257.4h0.9M435.8 259.7h0.9M426.5 259.9h0.9M434.9 257.1h0.9M429.1 265.0h0.9M428.8 265.1h0.9M435.3 258.6h0.9M424.9 255.3h0.9M435.5 263.5h0.9M430.4 259.1h0.9M434.6 258.7h0.9M441.8 262.4h0.9M423.1 265.9h0.9M431.1 260.8h0.9M429.2 266.5h0.9M427.9 268.2h0.9M426.7 265.2h0.9M423.5 265.4h0.9M425.8 259.8h0.9M433.3 257.3h0.9M432.3 260.9h0.9M435.7 265.1h0.9M431.1 260.0h0.9M426.1 267.5h0.9M429.0 255.0h0.9M426.5 252.0h0.9M426.2 258.8h0.9M431.1 265.2h0.9M433.6 252.4h0.9M427.9 263.7h0.9M431.5 260.8h0.9M426.6 264.2h0.9M429.6 259.7h0.9M429.5 259.8h0.9M431.3 266.0h0.9M430.3 257.9h0.9M429.5 260.1h0.9M432.1 264.4h0.9M437.1 265.0h0.9M422.6 256.9h0.9M424.5 262.2h0.9M440.1 263.0h0.9M427.5 267.3h0.9M432.6 257.0h0.9M425.8 267.7h0.9M433.2 251.1h0.9M426.7 263.5h0.9M424.1 260.8h0.9M426.1 253.0h0.9M427.7 258.3h0.9M431.1 252.8h0.9M431.0 259.1h0.9M423.0 266.5h0.9M428.0 262.8h0.9M436.7 262.8h0.9M434.0 261.8h0.9M427.4 261.7h0.9M423.1 263.1h0.9M433.5 262.9h0.9M427.0 255.2h0.9M426.7 259.5h0.9M423.7 269.8h0.9M426.4 261.4h0.9M427.9 261.4h0.9M420.6 256.0h0.9M429.8 260.6h0.9M431.6 258.3h0.9M433.5 261.9h0.9M429.7 260.9h0.9M434.5 260.7h0.9M436.7 261.4h0.9M430.9 260.9h0.9M431.2 263.0h0.9M427.2 264.5h0.9M441.1 263.4h0.9M430.4 257.1h0.9M426.6 257.0h0.9M431.0 257.6h0.9M436.9 258.9h0.9M426.0 256.6h0.9M429.5 260.2h0.9M433.9 257.5h0.9M431.3 265.3h0.9M428.6 252.7h0.9M430.9 265.6h0.9M431.6 260.9h0.9M421.4 268.4h0.9M429.1 255.3h0.9M428.4 261.6h0.9M430.1 256.6h0.9M440.3 266.7h0.9M434.2 263.8h0.9M428.1 255.4h0.9M424.3 265.8h0.9M430.2 268.5h0.9M420.0 267.0h0.9M431.9 258.3h0.9M433.7 257.7h0.9M428.7 263.3h0.9M430.5 262.2h0.9M430.8 265.7h0.9M426.2 251.5h0.9M425.8 249.5h0.9M438.3 257.7h0.9M429.7 262.4h0.9M426.5 258.5h0.9M431.0 260.9h0.9M433.4 259.7h0.9M426.9 254.0h0.9M422.5 262.1h0.9M431.2 258.9h0.9M435.1 248.2h0.9M432.7 255.3h0.9M428.4 259.7h0.9M426.6 259.5h0.9M431.1 272.0h0.9M429.8 264.2h0.9M433.4 256.4h0.9M431.9 258.9h0.9M433.7 258.1h0.9M434.5 256.6h0.9M427.8 264.8h0.9M434.3 264.9h0.9M438.6 265.6h0.9M429.8 265.2h0.9M426.2 264.6h0.9M431.6 260.1h0.9M426.7 265.8h0.9M421.1 260.0h0.9M423.7 259.2h0.9M427.9 257.0h0.9M427.2 262.2h0.9M438.4 269.0h0.9M423.5 258.6h0.9M432.3 256.3h0.9M409.4 266.0h0.9M421.1 269.0h0.9M429.3 253.0h0.9M428.8 263.4h0.9M426.3 253.5h0.9M409.2 270.8h0.9M395.0 255.6h0.9M434.4 270.5h0.9M432.7 260.7h0.9M429.8 266.9h0.9M419.8 267.6h0.9M428.3 261.9h0.9M430.4 262.5h0.9M415.5 269.2h0.9M420.3 259.4h0.9M399.9 252.0h0.9M431.8 260.3h0.9M424.5 258.8h0.9M432.4 257.3h0.9M409.4 252.1h0.9M416.9 262.5h0.9M441.3 263.9h0.9M418.2 253.7h0.9M434.6 263.5h0.9M425.0 264.2h0.9M432.1 263.5h0.9M440.1 252.5h0.9M418.5 257.9h0.9M414.8 271.4h0.9M429.5 263.1h0.9M434.3 259.5h0.9M434.8 259.7h0.9M433.8 263.8h0.9M439.9 252.6h0.9M415.6 256.7h0.9M416.6 262.9h0.9M436.2 258.9h0.9M437.3 265.6h0.9M419.2 264.4h0.9M441.3 258.2h0.9M401.7 263.8h0.9M428.8 264.2h0.9M431.3 260.5h0.9M425.5 256.5h0.9M447.0 269.2h0.9M424.2 256.2h0.9M430.4 269.5h0.9M426.2 256.4h0.9M436.0 262.2h0.9M417.0 259.7h0.9M427.5 254.8h0.9M428.8 267.7h0.9M437.2 267.6h0.9M433.9 260.4h0.9M432.5 267.5h0.9M426.2 263.7h0.9M418.9 260.9h0.9M420.5 255.1h0.9M430.1 272.8h0.9M407.3 258.3h0.9M427.9 256.9h0.9M427.6 265.5h0.9M408.1 260.3h0.9M432.2 264.0h0.9M445.6 262.0h0.9M439.3 257.9h0.9M416.0 258.0h0.9M421.1 265.7h0.9M434.0 261.0h0.9M416.1 261.7h0.9M421.3 258.9h0.9M407.0 269.4h0.9M455.0 261.2h0.9M450.0 258.7h0.9M456.2 260.7h0.9M405.8 260.9h0.9M434.6 270.2h0.9M436.5 270.5h0.9M427.9 252.7h0.9M427.6 256.2h0.9M435.0 249.4h0.9M415.2 254.6h0.9M427.1 266.5h0.9M422.6 253.9h0.9M420.4 260.1h0.9M438.5 261.6h0.9M441.0 245.5h0.9M445.3 272.9h0.9M409.0 266.1h0.9M411.7 257.6h0.9M431.4 262.2h0.9M429.1 259.9h0.9M405.7 252.1h0.9M416.6 255.5h0.9M420.8 251.7h0.9M424.6 263.6h0.9M420.5 268.2h0.9M428.2 266.0h0.9M416.2 262.1h0.9M410.4 250.6h0.9M406.8 258.7h0.9M428.5 272.6h0.9M429.4 258.9h0.9M437.4 261.6h0.9M426.0 261.7h0.9M436.6 269.7h0.9M410.4 261.5h0.9M420.8 261.1h0.9M451.8 259.7h0.9M399.0 265.7h0.9M420.7 255.9h0.9M399.2 270.3h0.9M396.7 260.6h0.9M405.7 265.9h0.9M407.6 254.4h0.9M407.8 254.0h0.9M414.0 269.4h0.9M416.4 269.8h0.9M413.3 263.0h0.9M413.5 253.9h0.9M405.4 261.4h0.9M412.5 268.8h0.9M417.7 259.2h0.9M426.5 263.9h0.9M397.8 262.4h0.9M404.8 260.3h0.9M414.7 267.8h0.9M418.3 269.6h0.9M413.5 255.4h0.9M414.0 268.4h0.9M405.9 270.0h0.9M397.7 263.9h0.9M402.6 263.5h0.9M403.0 262.5h0.9M401.4 269.2h0.9M424.5 262.2h0.9M400.9 262.8h0.9M401.9 269.2h0.9M422.1 255.6h0.9M400.1 264.4h0.9M403.6 255.6h0.9M401.0 254.2h0.9M422.7 255.8h0.9M397.8 258.3h0.9M396.3 266.8h0.9M419.6 262.6h0.9M426.5 269.2h0.9M413.8 256.2h0.9M419.1 253.6h0.9M425.6 266.9h0.9M416.8 255.6h0.9M420.9 266.9h0.9M425.2 260.8h0.9M407.3 268.4h0.9M408.9 264.9h0.9M419.2 257.0h0.9M413.3 267.2h0.9M426.4 257.7h0.9M406.1 261.3h0.9M400.7 253.5h0.9M416.3 266.1h0.9M408.6 255.8h0.9M408.2 255.6h0.9M415.2 254.6h0.9M404.2 254.4h0.9M411.3 269.1h0.9M417.0 255.6h0.9M399.8 264.9h0.9M398.3 263.6h0.9M396.7 255.2h0.9M423.3 260.3h0.9M405.6 254.4h0.9M418.5 262.9h0.9M418.0 255.1h0.9M407.6 258.9h0.9M395.8 260.9h0.9M412.1 262.0h0.9M418.2 261.1h0.9M410.4 256.5h0.9M408.3 257.4h0.9M409.1 264.6h0.9M410.6 257.4h0.9M419.2 255.8h0.9M421.7 268.5h0.9M401.9 256.6h0.9M413.1 254.1h0.9M411.6 261.8h0.9M420.3 256.7h0.9M419.1 254.8h0.9M411.8 260.7h0.9M407.2 261.7h0.9M406.1 265.5h0.9M416.6 253.6h0.9M408.9 258.6h0.9M416.2 267.6h0.9M420.1 268.8h0.9M424.6 262.8h0.9M396.1 265.6h0.9M423.3 269.0h0.9M409.1 255.6h0.9M411.1 256.1h0.9M404.8 256.6h0.9M422.0 269.9h0.9M421.5 263.5h0.9M423.3 269.0h0.9M408.8 259.9h0.9M404.9 256.8h0.9M421.2 259.0h0.9M408.3 268.1h0.9M414.2 254.2h0.9M415.0 255.1h0.9M411.2 257.7h0.9M420.0 263.2h0.9M409.8 266.4h0.9M424.0 260.6h0.9M417.5 256.1h0.9M425.4 254.8h0.9M416.0 260.1h0.9M398.6 255.7h0.9M408.0 256.0h0.9M412.0 270.4h0.9M419.5 268.4h0.9M409.8 256.6h0.9M396.8 263.1h0.9M408.4 265.0h0.9M405.3 258.3h0.9M415.6 269.0h0.9M409.7 266.6h0.9M396.3 262.2h0.9M423.0 253.9h0.9M420.0 260.9h0.9M398.2 264.4h0.9M426.3 259.8h0.9M399.6 262.5h0.9M397.4 270.1h0.9M415.4 261.6h0.9M397.8 259.8h0.9M395.5 255.8h0.9M410.7 258.6h0.9M410.5 265.1h0.9M396.9 269.5h0.9" stroke="#111" stroke-width="0.9" fill="none" opacity="0.8"/>
<path d="M413.0 222.7h0.9M436.3 227.1h0.9M395.4 222.6h0.9M402.6 224.1h0.9M383.1 224.1h0.9M426.0 226.5h0.9M437.3 226.9h0.9M433.6 225.7h0.9M373.5 220.6h0.9M406.8 223.1h0.9M425.1 225.3h0.9M436.5 226.4h0.9M370.7 222.5h0.9M376.7 222.3h0.9M371.1 223.0h0.9M398.1 223.7h0.9M408.9 223.2h0.9M373.1 222.0h0.9M432.4 229.0h0.9M432.9 226.2h0.9M407.2 224.3h0.9M436.2 228.5h0.9M394.0 222.6h0.9M397.2 222.8h0.9M384.9 222.0h0.9M425.4 225.9h0.9M397.6 223.2h0.9M403.0 223.7h0.9M373.8 221.7h0.9M386.6 222.7h0.9M432.3 227.6h0.9M431.9 226.3h0.9M398.4 223.3h0.9M390.2 221.6h0.9M390.9 224.1h0.9M434.5 225.6h0.9M434.1 226.8h0.9M417.1 223.9h0.9M410.2 222.1h0.9M420.2 224.9h0.9M423.5 225.4h0.9M391.5 223.2h0.9M388.4 222.5h0.9M392.3 222.3h0.9M424.8 226.0h0.9M437.5 227.8h0.9M437.7 226.9h0.9M412.7 221.2h0.9M397.6 223.6h0.9M368.8 222.7h0.9M375.0 220.4h0.9M396.7 222.3h0.9M404.9 223.4h0.9M433.0 227.6h0.9M438.4 228.2h0.9M401.6 222.7h0.9M402.2 223.9h0.9M410.6 221.7h0.9M380.9 222.0h0.9M417.1 222.6h0.9M436.9 228.6h0.9M428.9 228.1h0.9M421.8 222.5h0.9M427.8 224.7h0.9M424.4 224.1h0.9M438.4 230.4h0.9M424.2 222.1h0.9M427.2 220.5h0.9M435.6 229.4h0.9M430.5 230.1h0.9M435.5 226.3h0.9M431.7 226.1h0.9M431.4 230.1h0.9M438.6 226.5h0.9M442.5 226.2h0.9M430.0 232.6h0.9M435.3 231.2h0.9M432.3 228.1h0.9M427.8 229.1h0.9M430.3 224.5h0.9M423.1 229.3h0.9M423.1 220.2h0.9M434.2 227.6h0.9M441.3 232.0h0.9M433.4 224.9h0.9M434.6 223.6h0.9M427.2 228.6h0.9M433.0 223.8h0.9M427.9 224.6h0.9M433.3 227.7h0.9M436.1 219.9h0.9M435.6 222.7h0.9M428.9 225.8h0.9M437.4 227.0h0.9M424.0 221.1h0.9M433.0 233.8h0.9M424.5 222.2h0.9M427.5 228.0h0.9M434.7 227.2h0.9M433.2 231.6h0.9M429.9 222.6h0.9M431.7 223.0h0.9M432.8 229.4h0.9M429.5 228.2h0.9M438.3 234.3h0.9M429.5 227.3h0.9M436.1 230.5h0.9M436.9 229.9h0.9M435.5 230.6h0.9M434.3 229.2h0.9M433.1 226.9h0.9M421.3 222.2h0.9M431.7 225.0h0.9M429.0 229.0h0.9M430.1 219.5h0.9M428.6 225.0h0.9M438.5 230.1h0.9M434.5 226.1h0.9M428.4 220.8h0.9M435.1 227.9h0.9M427.6 225.1h0.9M437.8 231.6h0.9M436.0 231.5h0.9M432.9 227.0h0.9M431.5 227.8h0.9M422.0 223.5h0.9M431.8 224.1h0.9M428.4 228.5h0.9M429.4 225.4h0.9M439.9 227.1h0.9M431.3 225.2h0.9M428.7 224.9h0.9M434.6 226.9h0.9M436.8 230.6h0.9M425.6 224.3h0.9M430.6 222.5h0.9M421.6 225.4h0.9M433.2 230.6h0.9M440.3 232.1h0.9M433.6 230.9h0.9M430.8 225.1h0.9M437.0 230.5h0.9M428.7 224.2h0.9M424.5 229.6h0.9M429.5 224.3h0.9M428.2 223.7h0.9M432.2 226.9h0.9M436.0 221.2h0.9M432.3 231.5h0.9M431.8 224.9h0.9M442.7 229.4h0.9M435.4 228.7h0.9M430.7 223.4h0.9M432.4 227.4h0.9M441.7 226.2h0.9M421.1 239.7h0.9M421.4 213.3h0.9M429.7 244.3h0.9M419.1 223.7h0.9M442.6 228.5h0.9M425.8 234.1h0.9M443.4 233.9h0.9M437.6 234.1h0.9M424.4 237.4h0.9M419.2 243.4h0.9M420.6 236.4h0.9M416.8 234.6h0.9M434.9 229.6h0.9M445.8 235.3h0.9M435.1 223.9h0.9M428.5 237.1h0.9M437.3 239.9h0.9M422.1 223.8h0.9M424.1 244.1h0.9M419.6 225.8h0.9M432.9 234.9h0.9M431.5 228.9h0.9M434.4 234.4h0.9M430.7 237.1h0.9M430.4 233.8h0.9M440.0 240.8h0.9M432.5 236.4h0.9M441.6 224.9h0.9M418.4 235.6h0.9M419.8 227.0h0.9M433.6 236.9h0.9M429.5 229.4h0.9M421.6 229.8h0.9M426.2 235.0h0.9M438.5 233.0h0.9M424.0 238.6h0.9M440.5 237.7h0.9M428.8 232.3h0.9M429.7 227.2h0.9M438.4 232.9h0.9M374.6 245.3h0.9M388.8 246.8h0.9M416.2 222.4h0.9M404.6 240.5h0.9M431.6 214.0h0.9M389.7 212.2h0.9M405.6 219.5h0.9M388.7 234.8h0.9M438.4 216.7h0.9M406.3 225.5h0.9M409.5 221.7h0.9M381.6 220.2h0.9M434.5 228.3h0.9M437.1 209.2h0.9M382.1 245.4h0.9M376.5 231.8h0.9M381.2 213.9h0.9M402.8 243.4h0.9M408.9 209.1h0.9M383.8 248.2h0.9M425.0 229.3h0.9M391.8 221.2h0.9M371.1 217.7h0.9M429.5 223.1h0.9M429.9 246.8h0.9M417.5 220.2h0.9M400.0 213.3h0.9M385.2 222.5h0.9M371.3 242.7h0.9M404.5 222.6h0.9M413.5 226.6h0.9M391.4 223.9h0.9M400.4 220.7h0.9M395.0 227.1h0.9M430.4 240.8h0.9M430.7 227.2h0.9M437.1 210.8h0.9M429.4 235.3h0.9M370.4 242.3h0.9M392.1 232.8h0.9M372.5 234.4h0.9M416.0 222.6h0.9M392.5 240.3h0.9M434.3 208.6h0.9M390.0 229.6h0.9M391.2 221.6h0.9M409.1 242.4h0.9M426.4 224.0h0.9M431.3 247.6h0.9M379.0 215.8h0.9M438.7 212.4h0.9M386.9 248.4h0.9M427.3 216.4h0.9M397.8 248.3h0.9M386.7 239.5h0.9M386.7 225.5h0.9M436.1 234.9h0.9M399.3 247.0h0.9M433.1 246.3h0.9M406.4 213.4h0.9" stroke="#444" stroke-width="0.9" fill="none" opacity="0.6"/>
<line x1="366.50" y1="165.50" x2="484.50" y2="165.50" stroke="#666" stroke-width="1"/>
<line x1="484.50" y1="165.50" x2="484.50" y2="275.50" stroke="#777" stroke-width="1"/>
<line x1="366.50" y1="275.50" x2="484.50" y2="275.50" stroke="#666" stroke-width="1"/>
<line x1="366.50" y1="165.50" x2="366.50" y2="275.50" stroke="#222" stroke-width="1"/>
<line x1="395.50" y1="165.50" x2="395.50" y2="275.50" stroke="#111" stroke-width="1"/>
<line x1="366.50" y1="248.50" x2="484.50" y2="248.50" stroke="#111" stroke-width="1"/>
<path d="M374.8 275.5v1.4M380.0 275.5v1.4M383.7 275.5v1.4M386.6 275.5v1.4M388.9 275.5v1.4M390.9 275.5v1.4M392.6 275.5v1.4M394.1 275.5v1.4M395.5 275.5v2.5M404.4 275.5v1.4M409.7 275.5v1.4M413.4 275.5v1.4M416.2 275.5v1.4M418.6 275.5v1.4M420.6 275.5v1.4M422.3 275.5v1.4M423.8 275.5v1.4M425.2 275.5v2.5M434.1 275.5v1.4M439.3 275.5v1.4M443.0 275.5v1.4M445.9 275.5v1.4M448.3 275.5v1.4M450.2 275.5v1.4M452.0 275.5v1.4M453.5 275.5v1.4M454.8 275.5v2.5M463.8 275.5v1.4M469.0 275.5v1.4M472.7 275.5v1.4M475.6 275.5v1.4M477.9 275.5v1.4M479.9 275.5v1.4M481.6 275.5v1.4M483.1 275.5v1.4M484.5 275.5v2.5M366.5 267.8h-1.8M366.5 263.0h-1.8M366.5 259.5h-1.8M366.5 256.8h-1.8M366.5 254.6h-1.8M366.5 252.8h-1.8M366.5 251.2h-1.8M366.5 249.8h-1.8M366.5 248.5h-3.2M366.5 240.2h-1.8M366.5 235.3h-1.8M366.5 231.8h-1.8M366.5 229.2h-1.8M366.5 227.0h-1.8M366.5 225.1h-1.8M366.5 223.5h-1.8M366.5 222.1h-1.8M366.5 220.8h-3.2M366.5 212.5h-1.8M366.5 207.6h-1.8M366.5 204.2h-1.8M366.5 201.5h-1.8M366.5 199.3h-1.8M366.5 197.5h-1.8M366.5 195.8h-1.8M366.5 194.4h-1.8M366.5 193.2h-3.2M366.5 184.8h-1.8M366.5 180.0h-1.8M366.5 176.5h-1.8M366.5 173.8h-1.8M366.5 171.6h-1.8M366.5 169.8h-1.8M366.5 168.2h-1.8M366.5 166.8h-1.8M366.5 165.5h-3.2" stroke="#333" stroke-width="0.6" fill="none"/>
<text class="a" x="360.5" y="250.0" font-size="3.6" text-anchor="middle" fill="#444">10<tspan dy="-1.4" font-size="2.52">0</tspan></text>
<text class="a" x="396.5" y="283.1" font-size="3.6" text-anchor="middle" fill="#444">10<tspan dy="-1.4" font-size="2.52">0</tspan></text>
<text class="a" x="360.5" y="222.3" font-size="3.6" text-anchor="middle" fill="#444">10<tspan dy="-1.4" font-size="2.52">1</tspan></text>
<text class="a" x="426.2" y="283.1" font-size="3.6" text-anchor="middle" fill="#444">10<tspan dy="-1.4" font-size="2.52">1</tspan></text>
<text class="a" x="360.5" y="194.7" font-size="3.6" text-anchor="middle" fill="#444">10<tspan dy="-1.4" font-size="2.52">2</tspan></text>
<text class="a" x="455.8" y="283.1" font-size="3.6" text-anchor="middle" fill="#444">10<tspan dy="-1.4" font-size="2.52">2</tspan></text>
<text class="a" x="360.5" y="167.0" font-size="3.6" text-anchor="middle" fill="#444">10<tspan dy="-1.4" font-size="2.52">3</tspan></text>
<text class="a" x="485.5" y="283.1" font-size="3.6" text-anchor="middle" fill="#444">10<tspan dy="-1.4" font-size="2.52">3</tspan></text>
<text class="a" x="367.7" y="169.8" font-size="4.2" fill="#222">B1</text>
<text class="a" x="368.3" y="174.9" font-size="4.6" fill="#111">0.8%</text>
<text class="a" x="396.7" y="169.8" font-size="4.2" fill="#222">B2</text>
<text class="a" x="397.3" y="174.9" font-size="4.6" fill="#111">4.2%</text>
<text class="a" x="367.7" y="253.0" font-size="4.2" fill="#222">B3</text>
<rect x="367.90" y="254.30" width="12.50" height="4.60" fill="#fff"/>
<text class="a" x="368.3" y="258.1" font-size="4.6" fill="#111">72.4%</text>
<text class="a" x="396.7" y="253.0" font-size="4.2" fill="#222">B4</text>
<text class="a" x="397.3" y="258.1" font-size="4.6" fill="#111">22.6%</text>
<text class="s" x="403.0" y="180.8" font-size="13.2" textLength="84.5" lengthAdjust="spacingAndGlyphs">Alemtuzumab</text>
<text class="s" x="425.5" y="197.5" font-size="13.2" textLength="39.0" lengthAdjust="spacingAndGlyphs">+ <tspan style="font-weight:normal" font-size="16">α</tspan>-Fc</text>
<text class="s" x="426.8" y="213.8" font-size="13.2" textLength="39.0" lengthAdjust="spacingAndGlyphs">41.6%</text>
<text class="a" x="4.5" y="360.0" font-size="22.5">B</text>
<line x1="47.00" y1="371.00" x2="47.00" y2="533.50" stroke="#777" stroke-width="1"/>
<line x1="45.50" y1="533.00" x2="237.00" y2="533.00" stroke="#777" stroke-width="1"/>
<line x1="44.00" y1="533.00" x2="47.00" y2="533.00" stroke="#777" stroke-width="1"/>
<text class="s" x="41.0" y="539.7" font-size="13.5" text-anchor="end">0</text>
<line x1="44.00" y1="506.10" x2="47.00" y2="506.10" stroke="#777" stroke-width="1"/>
<text class="s" x="41.0" y="512.8" font-size="13.5" text-anchor="end">10</text>
<line x1="44.00" y1="479.20" x2="47.00" y2="479.20" stroke="#777" stroke-width="1"/>
<text class="s" x="41.0" y="485.9" font-size="13.5" text-anchor="end">20</text>
<line x1="44.00" y1="452.30" x2="47.00" y2="452.30" stroke="#777" stroke-width="1"/>
<text class="s" x="41.0" y="459.0" font-size="13.5" text-anchor="end">30</text>
<line x1="44.00" y1="425.40" x2="47.00" y2="425.40" stroke="#777" stroke-width="1"/>
<text class="s" x="41.0" y="432.1" font-size="13.5" text-anchor="end">40</text>
<line x1="44.00" y1="398.50" x2="47.00" y2="398.50" stroke="#777" stroke-width="1"/>
<text class="s" x="41.0" y="405.2" font-size="13.5" text-anchor="end">50</text>
<line x1="44.00" y1="371.60" x2="47.00" y2="371.60" stroke="#777" stroke-width="1"/>
<text class="s" x="41.0" y="378.3" font-size="13.5" text-anchor="end">60</text>
<line x1="85.00" y1="533.00" x2="85.00" y2="536.00" stroke="#777" stroke-width="1"/>
<text class="s" x="85.0" y="550.6" font-size="13.5" text-anchor="middle">10</text>
<line x1="122.50" y1="533.00" x2="122.50" y2="536.00" stroke="#777" stroke-width="1"/>
<text class="s" x="122.5" y="550.6" font-size="13.5" text-anchor="middle">20</text>
<line x1="160.00" y1="533.00" x2="160.00" y2="536.00" stroke="#777" stroke-width="1"/>
<text class="s" x="160.0" y="550.6" font-size="13.5" text-anchor="middle">30</text>
<line x1="197.50" y1="533.00" x2="197.50" y2="536.00" stroke="#777" stroke-width="1"/>
<text class="s" x="197.5" y="550.6" font-size="13.5" text-anchor="middle">40</text>
<line x1="235.00" y1="533.00" x2="235.00" y2="536.00" stroke="#777" stroke-width="1"/>
<text class="s" x="235.0" y="550.6" font-size="13.5" text-anchor="middle">50</text>
<text class="s" x="95.2" y="563.8" font-size="13.5" textLength="113.0" lengthAdjust="spacingAndGlyphs">Treatment in hours</text>
<text class="s" x="15.6" y="499.0" font-size="13.5" textLength="89.0" lengthAdjust="spacingAndGlyphs" transform="rotate(-90 15.6 499.0)">% Cytotoxicity</text>
<line x1="62.00" y1="458.00" x2="62.00" y2="513.70" stroke="#222" stroke-width="0.9" stroke-dasharray="1.6 1"/>
<line x1="60.20" y1="458.00" x2="63.80" y2="458.00" stroke="#444" stroke-width="0.8"/>
<line x1="60.20" y1="513.70" x2="63.80" y2="513.70" stroke="#444" stroke-width="0.8"/>
<line x1="92.00" y1="440.70" x2="92.00" y2="508.00" stroke="#222" stroke-width="0.9" stroke-dasharray="1.6 1"/>
<line x1="90.20" y1="440.70" x2="93.80" y2="440.70" stroke="#444" stroke-width="0.8"/>
<line x1="90.20" y1="508.00" x2="93.80" y2="508.00" stroke="#444" stroke-width="0.8"/>
<line x1="137.50" y1="404.00" x2="137.50" y2="480.00" stroke="#222" stroke-width="0.9"/>
<line x1="135.70" y1="404.00" x2="139.30" y2="404.00" stroke="#444" stroke-width="0.8"/>
<line x1="135.70" y1="480.00" x2="139.30" y2="480.00" stroke="#444" stroke-width="0.8"/>
<line x1="227.50" y1="383.00" x2="227.50" y2="466.20" stroke="#222" stroke-width="0.9"/>
<line x1="225.70" y1="383.00" x2="229.30" y2="383.00" stroke="#444" stroke-width="0.8"/>
<line x1="225.70" y1="466.20" x2="229.30" y2="466.20" stroke="#444" stroke-width="0.8"/>
<line x1="225.70" y1="386.20" x2="229.30" y2="386.20" stroke="#444" stroke-width="0.8"/>
<line x1="135.70" y1="407.00" x2="139.30" y2="407.00" stroke="#444" stroke-width="0.8"/>
<line x1="135.70" y1="471.00" x2="139.30" y2="471.00" stroke="#444" stroke-width="0.8"/>
<line x1="225.70" y1="463.00" x2="229.30" y2="463.00" stroke="#444" stroke-width="0.8"/>
<path d="M62.0 505.0L92.0 496.8L137.5 462.5L227.5 458.0" fill="none" stroke="#555" stroke-width="0.9"/>
<path d="M62.0 489.2L92.0 472.5L137.5 440.6L227.5 442.5" fill="none" stroke="#111" stroke-width="1.15" stroke-dasharray="7 3 1.8 3"/>
<path d="M62.0 474.8L92.0 467.0L137.5 424.8L227.5 433.7" fill="none" stroke="#333" stroke-width="1.1"/>
<path d="M62.0 474.3L92.0 470.8L137.5 420.9L227.5 420.8" fill="none" stroke="#111" stroke-width="1.15" stroke-dasharray="7.5 2.5"/>
<path d="M62.0 474.5L92.0 459.3L137.5 416.5L227.5 416.3" fill="none" stroke="#111" stroke-width="1.2" stroke-dasharray="1.6 3.2"/>
<rect x="60.10" y="503.10" width="3.80" height="3.80" fill="#fff" stroke="#333" stroke-width="0.9"/>
<rect x="90.10" y="494.90" width="3.80" height="3.80" fill="#fff" stroke="#333" stroke-width="0.9"/>
<rect x="135.60" y="460.60" width="3.80" height="3.80" fill="#fff" stroke="#333" stroke-width="0.9"/>
<rect x="225.60" y="456.10" width="3.80" height="3.80" fill="#fff" stroke="#333" stroke-width="0.9"/>
<circle cx="62.0" cy="489.2" r="2.5" fill="#000"/>
<circle cx="92.0" cy="472.5" r="2.5" fill="#000"/>
<circle cx="137.5" cy="440.6" r="2.5" fill="#000"/>
<circle cx="227.5" cy="442.5" r="2.5" fill="#000"/>
<rect x="59.70" y="472.50" width="4.60" height="4.60" fill="#333"/>
<rect x="89.70" y="464.70" width="4.60" height="4.60" fill="#333"/>
<rect x="135.20" y="422.50" width="4.60" height="4.60" fill="#333"/>
<rect x="225.20" y="431.40" width="4.60" height="4.60" fill="#333"/>
<path d="M62.0 471.6l2.6 2.7l-2.6 2.7l-2.6-2.7Z" fill="#000" stroke="#000" stroke-width="0.2"/>
<path d="M92.0 468.1l2.6 2.7l-2.6 2.7l-2.6-2.7Z" fill="#000" stroke="#000" stroke-width="0.2"/>
<path d="M137.5 418.2l2.6 2.7l-2.6 2.7l-2.6-2.7Z" fill="#000" stroke="#000" stroke-width="0.2"/>
<path d="M227.5 418.1l2.6 2.7l-2.6 2.7l-2.6-2.7Z" fill="#000" stroke="#000" stroke-width="0.2"/>
<path d="M62.0 471.3l3 5.2h-6Z" fill="#000" stroke="#000" stroke-width="0.2"/>
<path d="M92.0 456.1l3 5.2h-6Z" fill="#000" stroke="#000" stroke-width="0.2"/>
<path d="M137.5 413.3l3 5.2h-6Z" fill="#000" stroke="#000" stroke-width="0.2"/>
<path d="M227.5 413.1l3 5.2h-6Z" fill="#000" stroke="#000" stroke-width="0.2"/>
<line x1="51.00" y1="375.00" x2="67.50" y2="375.00" stroke="#555" stroke-width="0.9"/>
<rect x="57.30" y="373.10" width="3.80" height="3.80" fill="#fff" stroke="#333" stroke-width="0.9"/>
<line x1="51.00" y1="388.70" x2="67.50" y2="388.70" stroke="#111" stroke-width="1.2" stroke-dasharray="13.5 2 1.2 30"/>
<circle cx="59.2" cy="388.7" r="2.5" fill="#000"/>
<line x1="51.00" y1="402.50" x2="67.50" y2="402.50" stroke="#333" stroke-width="1.1"/>
<rect x="56.90" y="400.20" width="4.60" height="4.60" fill="#333"/>
<line x1="51.00" y1="416.20" x2="67.50" y2="416.20" stroke="#111" stroke-width="1.2"/>
<path d="M59.2 413.5l2.6 2.7l-2.6 2.7l-2.6-2.7Z" fill="#000" stroke="#000" stroke-width="0.2"/>
<line x1="51.00" y1="430.00" x2="67.50" y2="430.00" stroke="#111" stroke-width="1.2" stroke-dasharray="1.4 13.6"/>
<path d="M59.2 426.8l3 5.2h-6Z" fill="#000" stroke="#000" stroke-width="0.2"/>
<text class="a" x="71.0" y="378.5" font-size="9.8" style="font-weight:normal">0.2ug/mL</text>
<text class="a" x="71.0" y="392.2" font-size="9.8" style="font-weight:normal">1ug/mL</text>
<text class="a" x="71.0" y="406.0" font-size="9.8" style="font-weight:normal">5ug/mL</text>
<text class="a" x="71.0" y="419.7" font-size="9.8" style="font-weight:normal">10ug/mL</text>
<text class="a" x="71.0" y="433.5" font-size="9.8" style="font-weight:normal">25ug/mL</text>
<text class="a" x="258.2" y="357.2" font-size="22.5">C</text>
<line x1="300.80" y1="371.00" x2="300.80" y2="562.50" stroke="#777" stroke-width="1"/>
<line x1="300.80" y1="531.30" x2="512.00" y2="531.30" stroke="#888" stroke-width="1"/>
<line x1="297.80" y1="531.30" x2="300.80" y2="531.30" stroke="#777" stroke-width="1"/>
<line x1="297.80" y1="499.30" x2="300.80" y2="499.30" stroke="#777" stroke-width="1"/>
<line x1="297.80" y1="467.30" x2="300.80" y2="467.30" stroke="#777" stroke-width="1"/>
<line x1="297.80" y1="435.30" x2="300.80" y2="435.30" stroke="#777" stroke-width="1"/>
<line x1="297.80" y1="403.30" x2="300.80" y2="403.30" stroke="#777" stroke-width="1"/>
<line x1="297.80" y1="371.30" x2="300.80" y2="371.30" stroke="#777" stroke-width="1"/>
<text class="s" x="293.3" y="393.5" font-size="13.5" text-anchor="end">100</text>
<text class="s" x="293.3" y="423.0" font-size="13.5" text-anchor="end">80</text>
<text class="s" x="293.3" y="452.0" font-size="13.5" text-anchor="end">60</text>
<text class="s" x="293.3" y="479.7" font-size="13.5" text-anchor="end">40</text>
<text class="s" x="293.3" y="507.2" font-size="13.5" text-anchor="end">20</text>
<text class="s" x="293.3" y="535.5" font-size="13.5" text-anchor="end">0</text>
<text class="s" x="266.3" y="500.0" font-size="13.5" textLength="87.0" lengthAdjust="spacingAndGlyphs" transform="rotate(-90 266.3 500.0)">% Cytotoxicity</text>
<rect x="306.20" y="375.50" width="22.50" height="13.30" fill="#000"/>
<rect x="306.70" y="396.20" width="21.50" height="13.30" fill="#fff" stroke="#666" stroke-width="1"/>
<text class="s" x="333.0" y="385.8" font-size="12.5" textLength="42.0" lengthAdjust="spacingAndGlyphs"><tspan style="font-weight:normal">+ <tspan font-size="15">α</tspan>–</tspan>Fc</text>
<text class="s" x="333.0" y="405.6" font-size="12.5" textLength="42.0" lengthAdjust="spacingAndGlyphs"><tspan style="font-weight:normal">– <tspan font-size="15">α</tspan>–</tspan>Fc</text>
<rect x="321.70" y="525.70" width="12.80" height="5.60" fill="#000"/>
<line x1="328.00" y1="521.20" x2="328.00" y2="525.70" stroke="#555" stroke-width="0.9"/>
<line x1="326.00" y1="521.20" x2="330.00" y2="521.20" stroke="#555" stroke-width="0.9"/>
<rect x="352.50" y="531.30" width="12.00" height="1.30" fill="#fff" stroke="#555" stroke-width="0.7"/>
<rect x="364.50" y="523.80" width="12.50" height="7.50" fill="#000"/>
<line x1="370.60" y1="516.30" x2="370.60" y2="523.80" stroke="#555" stroke-width="0.9"/>
<line x1="368.60" y1="516.30" x2="372.60" y2="516.30" stroke="#555" stroke-width="0.9"/>
<rect x="395.50" y="527.90" width="10.80" height="3.40" fill="#fff" stroke="#444" stroke-width="1"/>
<line x1="400.50" y1="521.70" x2="400.50" y2="527.40" stroke="#555" stroke-width="0.9"/>
<line x1="398.50" y1="521.70" x2="402.50" y2="521.70" stroke="#555" stroke-width="0.9"/>
<rect x="406.80" y="460.00" width="12.40" height="71.30" fill="#000"/>
<rect x="437.50" y="518.70" width="11.20" height="12.60" fill="#fff" stroke="#444" stroke-width="1"/>
<line x1="442.60" y1="501.30" x2="442.60" y2="518.20" stroke="#555" stroke-width="0.9"/>
<line x1="440.60" y1="501.30" x2="444.60" y2="501.30" stroke="#555" stroke-width="0.9"/>
<rect x="449.20" y="497.50" width="12.50" height="33.80" fill="#000"/>
<line x1="456.30" y1="470.50" x2="456.30" y2="497.50" stroke="#555" stroke-width="0.9"/>
<line x1="454.30" y1="470.50" x2="458.30" y2="470.50" stroke="#555" stroke-width="0.9"/>
<rect x="479.80" y="497.00" width="11.40" height="34.30" fill="#fff" stroke="#444" stroke-width="1"/>
<line x1="485.20" y1="484.60" x2="485.20" y2="496.50" stroke="#555" stroke-width="0.9"/>
<line x1="483.20" y1="484.60" x2="487.20" y2="484.60" stroke="#555" stroke-width="0.9"/>
<rect x="491.70" y="474.50" width="12.10" height="56.80" fill="#000"/>
<line x1="497.50" y1="463.50" x2="497.50" y2="474.50" stroke="#555" stroke-width="0.9"/>
<line x1="495.50" y1="463.50" x2="499.50" y2="463.50" stroke="#555" stroke-width="0.9"/>
<path d="M369.4 516V429.3" fill="none" stroke="#333" stroke-width="0.9" stroke-dasharray="5 1.5 1.5 1.5"/>
<path d="M369.4 429.3H407.6V460" fill="none" stroke="#333" stroke-width="0.9"/>
<path d="M413 460V416H496.3V457" fill="none" stroke="#333" stroke-width="0.9"/>
<path d="M496.3 457V466" fill="none" stroke="#333" stroke-width="0.9" stroke-dasharray="2 1.2"/>
<path d="M417 460V449.3H457V462" fill="none" stroke="#333" stroke-width="0.9"/>
<path d="M457 462V470" fill="none" stroke="#333" stroke-width="0.9" stroke-dasharray="2 1.2"/>
<text class="s" x="390.3" y="427.3" font-size="10.5" text-anchor="middle">*</text>
<text class="s" x="436.2" y="448.3" font-size="10.5" text-anchor="middle">**</text>
<text class="s" x="451.8" y="413.0" font-size="10.5" text-anchor="middle">***</text>
<path d="M301.2 536.2q0.3 5.3 5 5.3H332.5q4.7 0 5-5.3" fill="none" stroke="#777" stroke-width="0.9"/>
<path d="M343.0 536.2q0.3 5.3 5 5.3H375.5q4.7 0 5-5.3" fill="none" stroke="#777" stroke-width="0.9"/>
<path d="M387.0 536.2q0.3 5.3 5 5.3H421.2q4.7 0 5-5.3" fill="none" stroke="#777" stroke-width="0.9"/>
<path d="M429.3 536.2q0.3 5.3 5 5.3H464.5q4.7 0 5-5.3" fill="none" stroke="#777" stroke-width="0.9"/>
<path d="M473.0 536.2q0.3 5.3 5 5.3H506.7q4.7 0 5-5.3" fill="none" stroke="#777" stroke-width="0.9"/>
<path d="M300.8 562q0.3 2 -1.2 3" fill="none" stroke="#666" stroke-width="0.8"/>
<text class="s" x="300.6" y="560.8" font-size="12.5" textLength="33.5" lengthAdjust="spacingAndGlyphs">Media</text>
<text class="s" x="340.7" y="560.0" font-size="12.5" textLength="40.3" lengthAdjust="spacingAndGlyphs">Trastu-</text>
<text class="s" x="340.7" y="574.6" font-size="12.5" textLength="36.2" lengthAdjust="spacingAndGlyphs">zumab</text>
<text class="s" x="392.0" y="560.0" font-size="12.5" textLength="35.5" lengthAdjust="spacingAndGlyphs">CD37-</text>
<text class="s" x="392.0" y="575.4" font-size="12.5" textLength="32.3" lengthAdjust="spacingAndGlyphs">SMIP</text>
<text class="s" x="435.0" y="560.0" font-size="12.5" textLength="30.0" lengthAdjust="spacingAndGlyphs">Ritu-</text>
<text class="s" x="436.2" y="575.0" font-size="12.5" textLength="33.3" lengthAdjust="spacingAndGlyphs">ximab</text>
<text class="s" x="475.7" y="558.8" font-size="13" textLength="45.0" lengthAdjust="spacingAndGlyphs">Alemtu-</text>
<text class="s" x="475.0" y="572.5" font-size="13" textLength="38.0" lengthAdjust="spacingAndGlyphs">zumab</text>
<text class="a" x="4.5" y="627.6" font-size="22.5">D</text>
<line x1="49.40" y1="640.70" x2="49.40" y2="795.50" stroke="#777" stroke-width="1"/>
<line x1="48.90" y1="795.00" x2="230.00" y2="795.00" stroke="#777" stroke-width="1"/>
<line x1="229.80" y1="795.00" x2="229.80" y2="798.00" stroke="#777" stroke-width="1"/>
<line x1="45.60" y1="795.00" x2="49.40" y2="795.00" stroke="#777" stroke-width="1"/>
<line x1="46.60" y1="779.57" x2="49.40" y2="779.57" stroke="#777" stroke-width="1"/>
<line x1="45.60" y1="764.14" x2="49.40" y2="764.14" stroke="#777" stroke-width="1"/>
<line x1="46.60" y1="748.71" x2="49.40" y2="748.71" stroke="#777" stroke-width="1"/>
<line x1="45.60" y1="733.28" x2="49.40" y2="733.28" stroke="#777" stroke-width="1"/>
<line x1="46.60" y1="717.85" x2="49.40" y2="717.85" stroke="#777" stroke-width="1"/>
<line x1="45.60" y1="702.42" x2="49.40" y2="702.42" stroke="#777" stroke-width="1"/>
<line x1="46.60" y1="686.99" x2="49.40" y2="686.99" stroke="#777" stroke-width="1"/>
<line x1="45.60" y1="671.56" x2="49.40" y2="671.56" stroke="#777" stroke-width="1"/>
<line x1="46.60" y1="656.13" x2="49.40" y2="656.13" stroke="#777" stroke-width="1"/>
<line x1="45.60" y1="640.70" x2="49.40" y2="640.70" stroke="#777" stroke-width="1"/>
<text class="s" x="41.0" y="803.2" font-size="13.5" text-anchor="end">0</text>
<text class="s" x="41.0" y="772.3" font-size="13.5" text-anchor="end">20</text>
<text class="s" x="41.0" y="741.5" font-size="13.5" text-anchor="end">40</text>
<text class="s" x="41.0" y="710.6" font-size="13.5" text-anchor="end">60</text>
<text class="s" x="41.0" y="679.8" font-size="13.5" text-anchor="end">80</text>
<text class="s" x="41.0" y="648.9" font-size="13.5" text-anchor="end">100</text>
<text class="s" x="85.3" y="812.4" font-size="13.5" text-anchor="middle">5</text>
<text class="s" x="121.8" y="812.4" font-size="13.5" text-anchor="middle">10</text>
<text class="s" x="158.3" y="812.4" font-size="13.5" text-anchor="middle">15</text>
<text class="s" x="193.7" y="812.4" font-size="13.5" text-anchor="middle">20</text>
<text class="s" x="229.8" y="812.4" font-size="13.5" text-anchor="middle">25</text>
<text class="s" x="122.0" y="824.6" font-size="13.5" textLength="72.5" lengthAdjust="spacingAndGlyphs">MFI (CD37)</text>
<text class="s" x="16.8" y="767.5" font-size="13.5" textLength="87.0" lengthAdjust="spacingAndGlyphs" transform="rotate(-90 16.8 767.5)">% Cytotoxicity</text>
<text class="s" x="71.2" y="663.8" font-size="13.5" textLength="53.0" lengthAdjust="spacingAndGlyphs">P = 0.002</text>
<path d="M82.5 764.4L117.8 733.8L154.4 699.2L193.6 663.7" fill="none" stroke="#111" stroke-width="1.1"/>
<path d="M82.5 724.8l3.7 3l-3.7 3l-3.7-3Z" fill="#000" stroke="#000" stroke-width="0.2"/>
<path d="M84.5 738.9l3.7 3l-3.7 3l-3.7-3Z" fill="#000" stroke="#000" stroke-width="0.2"/>
<path d="M96.2 693.7l3.7 3l-3.7 3l-3.7-3Z" fill="#000" stroke="#000" stroke-width="0.2"/>
<path d="M97.2 722.2l3.7 3l-3.7 3l-3.7-3Z" fill="#000" stroke="#000" stroke-width="0.2"/>
<path d="M93.9 759.8l3.7 3l-3.7 3l-3.7-3Z" fill="#000" stroke="#000" stroke-width="0.2"/>
<path d="M98.2 759.1l3.7 3l-3.7 3l-3.7-3Z" fill="#000" stroke="#000" stroke-width="0.2"/>
<path d="M106.4 747.0l3.7 3l-3.7 3l-3.7-3Z" fill="#000" stroke="#000" stroke-width="0.2"/>
<path d="M117.8 744.4l3.7 3l-3.7 3l-3.7-3Z" fill="#000" stroke="#000" stroke-width="0.2"/>
<path d="M135.5 719.9l3.7 3l-3.7 3l-3.7-3Z" fill="#000" stroke="#000" stroke-width="0.2"/>
<path d="M139.7 712.4l3.7 3l-3.7 3l-3.7-3Z" fill="#000" stroke="#000" stroke-width="0.2"/>
<path d="M139.7 701.9l3.7 3l-3.7 3l-3.7-3Z" fill="#000" stroke="#000" stroke-width="0.2"/>
<path d="M142.3 703.6l3.7 3l-3.7 3l-3.7-3Z" fill="#000" stroke="#000" stroke-width="0.2"/>
<path d="M194.3 689.8l3.7 3l-3.7 3l-3.7-3Z" fill="#000" stroke="#000" stroke-width="0.2"/>
<text class="a" x="258.0" y="627.3" font-size="22.5">E</text>
<line x1="298.60" y1="640.70" x2="298.60" y2="795.50" stroke="#777" stroke-width="1"/>
<line x1="298.10" y1="795.00" x2="510.00" y2="795.00" stroke="#777" stroke-width="1"/>
<line x1="403.70" y1="795.00" x2="403.70" y2="798.50" stroke="#777" stroke-width="1"/>
<line x1="510.00" y1="795.00" x2="510.00" y2="798.50" stroke="#777" stroke-width="1"/>
<line x1="295.30" y1="795.00" x2="298.60" y2="795.00" stroke="#777" stroke-width="1"/>
<line x1="296.60" y1="779.57" x2="298.60" y2="779.57" stroke="#777" stroke-width="1"/>
<line x1="295.30" y1="764.14" x2="298.60" y2="764.14" stroke="#777" stroke-width="1"/>
<line x1="296.60" y1="748.71" x2="298.60" y2="748.71" stroke="#777" stroke-width="1"/>
<line x1="295.30" y1="733.28" x2="298.60" y2="733.28" stroke="#777" stroke-width="1"/>
<line x1="296.60" y1="717.85" x2="298.60" y2="717.85" stroke="#777" stroke-width="1"/>
<line x1="295.30" y1="702.42" x2="298.60" y2="702.42" stroke="#777" stroke-width="1"/>
<line x1="296.60" y1="686.99" x2="298.60" y2="686.99" stroke="#777" stroke-width="1"/>
<line x1="295.30" y1="671.56" x2="298.60" y2="671.56" stroke="#777" stroke-width="1"/>
<line x1="296.60" y1="656.13" x2="298.60" y2="656.13" stroke="#777" stroke-width="1"/>
<line x1="295.30" y1="640.70" x2="298.60" y2="640.70" stroke="#777" stroke-width="1"/>
<text class="s" x="292.5" y="801.5" font-size="13.5" text-anchor="end">0</text>
<text class="s" x="292.5" y="770.6" font-size="13.5" text-anchor="end">20</text>
<text class="s" x="292.5" y="739.8" font-size="13.5" text-anchor="end">40</text>
<text class="s" x="292.5" y="708.9" font-size="13.5" text-anchor="end">60</text>
<text class="s" x="292.5" y="678.1" font-size="13.5" text-anchor="end">80</text>
<text class="s" x="292.5" y="647.2" font-size="13.5" text-anchor="end">100</text>
<text class="s" x="270.7" y="764.4" font-size="13.5" textLength="88.0" lengthAdjust="spacingAndGlyphs" transform="rotate(-90 270.7 764.4)">% Cytotoxicity</text>
<rect x="312.00" y="643.20" width="27.30" height="17.30" fill="#000"/>
<rect x="312.50" y="668.70" width="26.30" height="16.30" fill="#fff" stroke="#666" stroke-width="1"/>
<text class="s" x="347.0" y="656.8" font-size="13.5" textLength="37.5" lengthAdjust="spacingAndGlyphs">B cells</text>
<text class="s" x="347.0" y="681.3" font-size="13.5" textLength="37.5" lengthAdjust="spacingAndGlyphs">T cells</text>
<rect x="320.40" y="793.20" width="29.30" height="1.60" fill="#fff" stroke="#666" stroke-width="0.8"/>
<line x1="335.00" y1="793.00" x2="335.00" y2="790.60" stroke="#666" stroke-width="0.8"/>
<line x1="333.50" y1="790.60" x2="336.50" y2="790.60" stroke="#666" stroke-width="0.8"/>
<rect x="349.70" y="787.60" width="30.10" height="7.40" fill="#000"/>
<line x1="364.70" y1="787.60" x2="364.70" y2="785.80" stroke="#444" stroke-width="0.9"/>
<line x1="363.00" y1="785.80" x2="366.40" y2="785.80" stroke="#444" stroke-width="0.9"/>
<rect x="425.40" y="793.80" width="29.20" height="1.00" fill="#fff" stroke="#666" stroke-width="0.7"/>
<line x1="440.00" y1="793.80" x2="440.00" y2="792.50" stroke="#666" stroke-width="0.8"/>
<rect x="454.60" y="725.70" width="30.10" height="69.30" fill="#000"/>
<line x1="469.50" y1="725.70" x2="469.50" y2="720.00" stroke="#444" stroke-width="0.9"/>
<line x1="467.60" y1="720.00" x2="471.40" y2="720.00" stroke="#444" stroke-width="0.9"/>
<text class="s" x="323.2" y="811.5" font-size="13.5" textLength="77.5" lengthAdjust="spacingAndGlyphs">Trastuzumab</text>
<text class="s" x="421.4" y="811.5" font-size="13.5" textLength="70.0" lengthAdjust="spacingAndGlyphs">CD37-SMIP</text>
<text class="a" x="4.5" y="874.6" font-size="22.5">F</text>
<path d="M50 885.5V1039.2H504" fill="none" stroke="#222" stroke-width="1.4"/>
<path d="M48.4 888.5L50 884.5L51.6 888.5Z" fill="#222" stroke="#000" stroke-width="0.3"/>
<path d="M503 1037.4L506.8 1039.2L503 1041Z" fill="#222" stroke="#000" stroke-width="0.3"/>
<line x1="299.60" y1="889.00" x2="299.60" y2="1039.20" stroke="#111" stroke-width="1.5"/>
<text class="s" x="36.5" y="997.5" font-size="13.5" textLength="47.5" lengthAdjust="spacingAndGlyphs" transform="rotate(-90 36.5 997.5)">PE-CD3</text>
<text class="s" x="284.0" y="1001.0" font-size="13.5" textLength="53.5" lengthAdjust="spacingAndGlyphs" transform="rotate(-90 284.0 1001.0)">PE-CD19</text>
<text class="s" x="247.5" y="1057.5" font-size="13.5" textLength="107.5" lengthAdjust="spacingAndGlyphs">FITC-CD37-SMIP</text>
<path d="M97.4 982.6h0.9M98.4 982.5h0.9M93.7 964.0h0.9M111.6 979.6h0.9M101.9 967.6h0.9M102.3 977.0h0.9M102.5 978.5h0.9M106.3 989.3h0.9M96.8 974.2h0.9M104.2 965.1h0.9M94.4 974.4h0.9M85.0 993.7h0.9M97.4 975.7h0.9M91.2 982.1h0.9M96.1 967.4h0.9M101.5 990.4h0.9M89.1 977.2h0.9M114.0 975.8h0.9M94.4 991.1h0.9M100.8 985.4h0.9M110.4 983.0h0.9M101.4 993.8h0.9M89.0 967.8h0.9M97.7 972.3h0.9M98.1 961.5h0.9M88.2 983.5h0.9M97.9 981.0h0.9M96.6 977.3h0.9M88.9 992.5h0.9M106.3 966.1h0.9M96.1 980.5h0.9M96.3 977.0h0.9M100.6 961.8h0.9M104.3 981.5h0.9M92.6 975.9h0.9M98.6 975.2h0.9M99.5 964.5h0.9M99.6 981.0h0.9M101.8 981.3h0.9M95.4 978.7h0.9M105.8 978.2h0.9M100.7 978.0h0.9M102.8 966.6h0.9M98.8 984.7h0.9M93.1 982.3h0.9M96.1 973.9h0.9M91.6 969.8h0.9M107.2 965.1h0.9M100.2 965.9h0.9M112.9 983.5h0.9M93.8 967.8h0.9M97.3 980.4h0.9M110.5 989.9h0.9M92.5 979.5h0.9M105.5 971.4h0.9M96.0 985.4h0.9M89.8 977.8h0.9M98.7 975.0h0.9M99.4 963.6h0.9M104.8 973.6h0.9M112.5 994.4h0.9M96.1 994.0h0.9M108.8 970.6h0.9M97.4 987.8h0.9M94.3 974.5h0.9M82.1 965.5h0.9M91.3 971.4h0.9M94.3 979.7h0.9M100.9 974.4h0.9M89.9 979.6h0.9M103.4 977.1h0.9M108.5 973.6h0.9M104.9 979.8h0.9M108.2 991.4h0.9M91.3 962.1h0.9M106.2 980.2h0.9M101.5 973.7h0.9M94.1 987.8h0.9M102.4 972.9h0.9M99.5 980.0h0.9M90.3 972.1h0.9M102.6 978.7h0.9M89.9 980.2h0.9M112.7 982.8h0.9M90.3 973.6h0.9M95.0 970.9h0.9M93.6 972.6h0.9M98.6 967.0h0.9M105.4 980.3h0.9M112.4 984.7h0.9M105.7 981.9h0.9M98.5 968.4h0.9M103.7 978.4h0.9M94.8 981.0h0.9M101.4 972.0h0.9M109.0 973.4h0.9M100.1 986.6h0.9M95.7 974.9h0.9M102.3 974.8h0.9M95.8 968.0h0.9M100.8 974.3h0.9M104.8 986.2h0.9M99.1 984.1h0.9M94.4 991.2h0.9M95.5 976.5h0.9M96.7 973.4h0.9M104.6 977.6h0.9M93.2 984.1h0.9M99.5 982.5h0.9M100.7 973.7h0.9M87.0 975.1h0.9M93.2 987.9h0.9M97.8 990.1h0.9M114.8 987.5h0.9M115.3 969.7h0.9M95.8 968.8h0.9M90.2 966.7h0.9M105.2 970.9h0.9M97.0 982.5h0.9M96.4 990.8h0.9M107.3 983.7h0.9M110.5 982.1h0.9M100.5 987.0h0.9M106.3 966.2h0.9M106.7 986.3h0.9M84.0 994.9h0.9M100.3 989.6h0.9M91.3 979.4h0.9M94.6 970.6h0.9M101.1 965.4h0.9M99.1 983.5h0.9M94.2 968.5h0.9M103.0 985.4h0.9M105.4 973.1h0.9M96.5 989.3h0.9M105.2 980.5h0.9M100.8 976.3h0.9M103.4 983.6h0.9M99.5 980.0h0.9M89.9 976.5h0.9M110.0 979.6h0.9M90.0 973.8h0.9M99.8 989.9h0.9M113.7 977.4h0.9M98.2 978.8h0.9M91.8 988.9h0.9M91.2 983.9h0.9M96.2 969.0h0.9M101.5 991.8h0.9M91.1 979.6h0.9M94.6 986.8h0.9M89.3 967.0h0.9M96.7 966.8h0.9M105.8 965.2h0.9M99.7 973.6h0.9M105.9 973.3h0.9M97.9 992.0h0.9M103.6 988.3h0.9M108.8 981.9h0.9M101.3 963.6h0.9M87.6 974.3h0.9M101.2 987.2h0.9M94.1 975.0h0.9M113.2 968.4h0.9M98.0 976.9h0.9M94.5 990.4h0.9M88.5 975.3h0.9M87.9 971.8h0.9M109.7 960.8h0.9M87.9 977.8h0.9M101.6 971.6h0.9M102.2 976.1h0.9M96.6 978.5h0.9M107.5 967.8h0.9M105.0 980.1h0.9M97.8 971.6h0.9M101.5 984.5h0.9M92.9 984.0h0.9M99.4 984.8h0.9M101.0 976.1h0.9M100.6 983.2h0.9M89.5 977.8h0.9M82.9 979.5h0.9M96.0 977.9h0.9M105.9 985.6h0.9M108.8 985.6h0.9M97.8 971.0h0.9M116.6 972.0h0.9M96.8 981.3h0.9M93.7 979.0h0.9M100.6 973.2h0.9M92.2 978.0h0.9M102.1 969.4h0.9M100.1 978.6h0.9M93.2 981.3h0.9M90.0 985.4h0.9M94.4 986.4h0.9M99.9 978.2h0.9M90.2 984.1h0.9M91.8 996.5h0.9M102.1 979.4h0.9M99.4 983.5h0.9M102.3 981.1h0.9M105.1 976.5h0.9M110.1 965.0h0.9M88.1 982.6h0.9M99.1 965.0h0.9M91.1 971.7h0.9M107.8 983.2h0.9M88.1 966.4h0.9M100.1 967.3h0.9M95.1 972.8h0.9M99.5 982.6h0.9M94.5 973.3h0.9M101.0 991.5h0.9M102.0 974.7h0.9M105.5 976.6h0.9M90.0 983.3h0.9M110.3 968.3h0.9M104.4 967.4h0.9M98.6 976.8h0.9M96.9 976.8h0.9M103.8 973.5h0.9M97.7 975.2h0.9M101.1 972.3h0.9M104.5 980.3h0.9M95.2 966.9h0.9M97.4 986.3h0.9M103.5 977.8h0.9M112.9 990.8h0.9M102.7 989.5h0.9M97.5 974.7h0.9M100.8 961.8h0.9M99.4 973.5h0.9M108.3 982.5h0.9M109.7 973.9h0.9M109.2 979.0h0.9M102.8 981.1h0.9M90.7 985.4h0.9M96.2 983.1h0.9M98.9 969.4h0.9M97.2 980.2h0.9M97.2 992.0h0.9M107.4 978.5h0.9M96.8 989.9h0.9M99.5 987.5h0.9M90.1 960.8h0.9M104.4 985.4h0.9M98.2 976.3h0.9M102.4 982.1h0.9M98.8 977.9h0.9M100.8 986.8h0.9M104.1 955.8h0.9M101.6 975.1h0.9M106.5 983.8h0.9M95.7 976.9h0.9M83.5 976.6h0.9M91.9 978.7h0.9M94.4 988.1h0.9M108.0 974.7h0.9M93.3 988.7h0.9M90.2 974.7h0.9M96.7 979.7h0.9M99.6 969.9h0.9M105.2 980.9h0.9M101.5 991.0h0.9M111.9 979.8h0.9M96.5 975.3h0.9M98.5 968.6h0.9M94.5 973.3h0.9M102.8 983.9h0.9M82.6 964.1h0.9M95.1 968.5h0.9M99.1 962.8h0.9M97.7 979.3h0.9M101.9 974.0h0.9M102.1 984.0h0.9M96.9 968.7h0.9M95.8 980.1h0.9M101.1 963.3h0.9M89.1 964.0h0.9M111.4 981.2h0.9M100.4 967.6h0.9M84.9 994.8h0.9M103.4 956.7h0.9M110.1 980.9h0.9M98.9 979.8h0.9M105.3 960.8h0.9M101.1 966.8h0.9M96.5 975.9h0.9M96.4 971.3h0.9M100.4 974.2h0.9M101.0 984.0h0.9M93.4 976.0h0.9M93.4 984.5h0.9M104.2 986.3h0.9M106.4 978.6h0.9M92.5 971.2h0.9M107.4 978.7h0.9M104.6 972.7h0.9M97.7 993.9h0.9M105.9 964.2h0.9M94.6 978.8h0.9M106.3 985.8h0.9M105.0 988.0h0.9M103.9 984.8h0.9M93.3 967.4h0.9M95.8 988.4h0.9M108.4 968.5h0.9M97.3 978.3h0.9M103.1 980.4h0.9M109.3 979.8h0.9M97.8 975.5h0.9M106.6 975.5h0.9M102.8 974.1h0.9M91.3 959.5h0.9M97.3 970.8h0.9M104.7 974.4h0.9M92.9 983.8h0.9M96.4 995.3h0.9M96.2 978.2h0.9M94.0 990.6h0.9M101.2 975.7h0.9M98.6 960.0h0.9M107.7 977.7h0.9M107.1 970.5h0.9M109.0 972.1h0.9M99.5 994.7h0.9M95.8 977.8h0.9M98.2 978.6h0.9M100.2 976.3h0.9M102.2 973.9h0.9M108.2 983.4h0.9M91.5 973.1h0.9M97.0 985.7h0.9M86.2 987.0h0.9M86.0 972.3h0.9M93.4 974.7h0.9M104.5 985.4h0.9M98.5 975.9h0.9M92.6 987.5h0.9M95.9 1000.6h0.9M88.6 972.0h0.9M103.9 993.1h0.9M97.1 981.3h0.9M95.1 979.4h0.9M84.9 983.1h0.9M95.6 981.2h0.9M98.3 969.4h0.9M88.7 969.2h0.9M98.9 983.7h0.9M106.8 985.8h0.9M113.1 986.0h0.9M111.3 984.3h0.9M101.4 963.0h0.9M105.8 976.4h0.9M96.6 966.3h0.9M107.7 977.5h0.9M96.3 971.0h0.9M98.6 981.4h0.9M103.3 978.6h0.9M100.7 978.2h0.9M96.4 987.4h0.9M98.3 972.7h0.9M110.8 969.6h0.9M96.1 978.6h0.9M98.0 976.9h0.9M105.7 986.1h0.9M90.2 993.5h0.9M91.2 968.9h0.9M103.8 969.1h0.9M91.1 984.7h0.9M102.6 980.9h0.9M108.7 986.4h0.9M96.1 973.6h0.9M102.0 974.1h0.9M101.0 985.0h0.9M101.0 965.7h0.9M110.3 977.1h0.9M101.6 963.8h0.9M99.0 966.7h0.9M109.9 973.6h0.9M89.9 976.6h0.9M92.9 978.1h0.9M92.9 963.1h0.9M97.9 975.1h0.9M93.8 983.4h0.9M104.9 976.8h0.9M98.6 980.7h0.9M105.4 979.1h0.9M91.6 983.0h0.9M115.3 983.0h0.9M101.4 972.9h0.9M88.9 981.9h0.9M103.1 981.4h0.9M100.2 988.4h0.9M98.5 961.7h0.9M98.2 979.1h0.9M104.5 982.4h0.9M103.9 981.5h0.9M101.2 967.8h0.9M97.0 986.2h0.9M110.3 955.2h0.9M98.2 973.9h0.9M105.0 961.0h0.9M95.4 979.2h0.9M93.7 963.0h0.9M111.8 975.5h0.9M99.6 982.8h0.9M112.0 971.6h0.9M98.2 974.8h0.9M105.6 985.5h0.9M109.9 973.9h0.9M91.0 972.3h0.9M86.3 980.5h0.9M85.3 981.2h0.9M92.1 981.2h0.9M109.2 976.6h0.9M98.3 977.9h0.9M94.9 980.5h0.9M97.5 978.9h0.9M93.7 982.1h0.9M101.4 970.3h0.9M98.7 965.8h0.9M89.6 968.2h0.9M101.9 974.3h0.9M98.8 979.9h0.9M97.2 976.0h0.9M95.3 995.9h0.9M93.6 982.7h0.9M97.5 992.8h0.9M91.4 976.8h0.9M101.8 973.5h0.9M113.5 979.8h0.9M101.9 963.5h0.9M102.0 967.4h0.9M102.9 980.7h0.9M98.3 972.8h0.9M93.6 972.2h0.9M109.6 970.8h0.9M97.1 981.0h0.9M89.9 974.0h0.9M106.8 979.7h0.9M102.9 983.6h0.9M98.9 957.6h0.9M104.2 982.4h0.9M83.0 975.8h0.9M108.7 967.8h0.9M105.5 989.8h0.9M98.3 975.3h0.9M92.3 983.0h0.9M100.7 982.3h0.9M98.7 977.9h0.9M95.0 986.6h0.9M98.1 988.1h0.9M105.2 971.3h0.9M91.5 986.3h0.9M101.8 974.5h0.9M106.2 960.5h0.9M103.0 974.6h0.9M104.1 972.7h0.9M95.9 983.3h0.9M101.6 965.4h0.9M102.7 983.5h0.9M88.0 969.5h0.9M91.4 969.3h0.9M94.4 993.5h0.9M92.3 969.6h0.9M97.4 988.7h0.9M96.4 985.6h0.9M106.1 974.1h0.9M101.8 985.9h0.9M100.6 991.2h0.9M101.7 990.9h0.9M92.3 979.5h0.9M82.9 965.6h0.9M95.3 974.2h0.9M97.6 981.9h0.9M89.3 963.1h0.9M104.2 980.1h0.9M105.5 984.6h0.9M101.2 973.2h0.9M102.4 969.7h0.9M90.2 974.8h0.9M114.2 969.4h0.9M108.1 976.1h0.9M110.7 973.4h0.9M91.1 972.1h0.9M97.7 982.3h0.9M94.2 979.3h0.9M115.0 977.7h0.9M103.5 999.7h0.9M93.9 977.4h0.9M96.8 979.8h0.9M93.6 975.0h0.9M104.0 977.6h0.9M86.0 987.2h0.9M101.6 993.7h0.9M93.4 980.5h0.9M92.9 984.2h0.9M95.2 988.4h0.9M99.8 959.2h0.9M91.4 983.2h0.9M104.1 986.0h0.9M102.4 973.6h0.9M99.9 978.0h0.9M99.1 986.0h0.9M92.7 974.9h0.9M107.9 976.4h0.9M102.8 973.0h0.9M99.4 988.5h0.9M109.9 977.9h0.9M94.7 990.2h0.9M86.2 976.0h0.9M103.9 997.4h0.9M106.1 976.4h0.9M98.6 977.1h0.9M92.6 974.1h0.9M101.2 963.2h0.9M93.6 952.5h0.9M105.4 978.5h0.9M87.8 965.0h0.9M94.2 991.4h0.9M102.3 968.1h0.9M95.6 963.7h0.9M92.5 962.9h0.9M111.2 983.4h0.9M107.8 981.3h0.9M93.9 985.8h0.9M102.3 971.4h0.9M87.8 977.2h0.9M90.7 975.0h0.9M85.2 962.0h0.9M105.5 982.1h0.9M100.0 975.2h0.9M100.3 969.4h0.9M104.2 990.9h0.9M94.9 964.4h0.9M99.1 962.9h0.9M112.4 976.6h0.9M101.8 979.0h0.9M95.5 971.1h0.9M91.7 994.3h0.9M99.5 986.6h0.9M109.2 975.0h0.9M95.5 974.1h0.9M101.5 969.0h0.9M105.5 975.3h0.9M93.8 983.4h0.9M108.7 969.9h0.9M97.7 976.0h0.9M102.6 984.1h0.9M98.2 969.5h0.9M94.9 984.9h0.9M111.6 979.0h0.9M93.4 998.9h0.9M106.8 971.2h0.9M90.4 969.6h0.9M119.2 988.1h0.9M92.2 970.8h0.9M96.5 966.4h0.9M103.0 968.1h0.9M97.3 982.4h0.9M97.3 985.8h0.9M95.4 987.4h0.9M94.4 972.3h0.9M89.0 980.2h0.9M103.7 977.5h0.9M108.8 982.9h0.9M101.4 963.2h0.9M97.8 980.4h0.9M90.8 989.9h0.9M101.2 990.2h0.9M90.5 992.8h0.9M108.4 978.6h0.9M96.6 991.3h0.9M92.3 975.5h0.9M106.7 976.7h0.9M93.4 967.5h0.9M95.6 988.2h0.9M117.8 969.0h0.9M90.6 982.7h0.9M97.8 973.7h0.9M98.0 988.9h0.9M104.3 970.9h0.9M102.5 966.8h0.9M106.7 959.9h0.9M96.0 985.2h0.9M110.8 981.8h0.9M85.4 975.7h0.9M105.4 982.9h0.9M101.6 972.5h0.9M85.7 973.3h0.9M100.1 971.6h0.9M93.1 980.7h0.9M96.7 978.9h0.9M106.3 971.2h0.9M105.8 967.6h0.9M105.0 980.9h0.9M102.4 983.6h0.9M100.5 962.4h0.9M110.6 979.2h0.9M100.4 977.8h0.9M101.7 975.4h0.9M89.8 967.2h0.9M111.2 982.7h0.9M91.6 991.3h0.9M101.0 967.8h0.9M93.7 971.7h0.9M106.9 983.9h0.9M97.3 975.3h0.9M94.1 978.3h0.9M91.9 985.0h0.9M98.3 985.6h0.9M109.8 980.0h0.9M105.1 950.9h0.9M92.6 979.5h0.9M93.0 986.7h0.9M96.8 975.8h0.9M84.5 983.3h0.9M95.5 988.6h0.9M102.6 976.9h0.9M105.0 975.1h0.9M93.4 977.0h0.9M97.4 986.8h0.9M94.3 968.1h0.9M108.4 985.1h0.9M96.5 978.5h0.9M87.9 991.8h0.9M95.3 958.6h0.9M98.1 981.8h0.9M103.6 979.5h0.9M100.7 975.9h0.9M98.5 975.3h0.9M116.2 978.0h0.9M100.0 959.5h0.9M98.8 982.3h0.9M103.9 963.9h0.9M98.6 991.2h0.9M97.7 975.7h0.9M103.2 976.6h0.9M95.4 971.8h0.9M87.1 979.0h0.9M103.0 982.6h0.9M93.8 981.0h0.9M91.8 963.2h0.9M103.4 966.3h0.9M89.4 974.6h0.9M96.8 990.8h0.9M106.2 995.6h0.9M100.3 963.1h0.9M90.2 979.8h0.9M89.6 981.2h0.9M106.3 982.6h0.9M87.4 987.1h0.9M111.0 986.4h0.9M115.4 970.3h0.9M98.2 984.8h0.9M106.0 990.4h0.9M98.0 971.4h0.9M97.7 971.1h0.9M99.7 974.4h0.9M104.4 971.3h0.9M105.4 970.6h0.9M107.5 988.0h0.9M98.9 975.5h0.9M101.5 981.3h0.9M92.0 983.6h0.9M86.3 967.1h0.9M90.8 979.1h0.9M93.3 956.8h0.9M106.6 972.3h0.9M96.8 980.3h0.9M101.5 982.5h0.9M90.2 980.1h0.9M105.8 984.0h0.9M109.3 964.7h0.9M107.4 964.8h0.9M91.3 979.2h0.9M115.3 987.9h0.9M98.2 978.2h0.9M106.7 966.7h0.9M96.7 972.2h0.9M107.4 982.3h0.9M101.3 988.1h0.9M97.4 969.4h0.9M105.4 961.4h0.9M101.0 977.3h0.9M88.0 979.1h0.9M93.1 989.4h0.9M104.4 985.3h0.9M105.9 977.4h0.9M106.8 982.8h0.9M103.0 986.8h0.9M112.8 962.7h0.9M96.0 964.6h0.9M90.5 983.5h0.9M92.4 975.6h0.9M95.2 986.0h0.9M110.3 978.5h0.9M94.4 972.4h0.9M97.8 963.2h0.9M90.8 979.1h0.9M100.8 979.0h0.9M101.5 971.0h0.9M98.4 968.6h0.9M100.8 959.9h0.9M102.8 979.5h0.9M96.3 978.8h0.9M106.2 978.0h0.9M112.4 988.0h0.9M100.0 975.7h0.9M91.1 968.0h0.9M100.6 978.5h0.9M101.6 992.1h0.9M102.1 980.9h0.9M97.6 967.9h0.9M96.1 976.6h0.9M104.1 983.5h0.9M92.2 976.5h0.9M104.4 965.0h0.9M97.5 964.8h0.9M94.5 987.5h0.9M101.7 996.4h0.9M92.1 985.4h0.9M98.1 963.5h0.9M100.6 979.5h0.9M97.4 988.0h0.9M97.1 983.9h0.9M99.2 972.9h0.9M101.9 986.8h0.9M109.1 987.9h0.9M87.6 965.8h0.9M97.4 987.9h0.9M86.3 978.7h0.9M91.1 984.3h0.9M106.3 975.1h0.9M108.5 984.0h0.9M98.2 990.2h0.9M113.8 976.8h0.9M101.0 980.4h0.9M104.9 974.0h0.9M97.7 987.9h0.9M98.5 989.1h0.9M101.2 992.5h0.9M109.4 967.5h0.9M104.0 975.4h0.9M95.2 985.2h0.9M106.6 982.2h0.9M106.8 991.8h0.9M101.8 983.0h0.9M102.7 990.8h0.9M93.4 977.0h0.9M91.1 972.7h0.9M101.8 974.5h0.9M94.2 975.6h0.9M107.0 995.8h0.9M100.2 971.2h0.9M100.7 972.2h0.9M101.6 983.6h0.9M112.6 971.1h0.9M98.5 970.4h0.9M106.7 969.3h0.9M108.2 993.4h0.9M87.7 987.2h0.9M115.0 978.6h0.9M99.0 995.4h0.9M97.9 976.8h0.9M93.2 983.4h0.9M108.4 970.9h0.9M105.1 982.1h0.9M110.1 976.8h0.9M94.2 979.7h0.9M102.6 975.3h0.9M93.0 983.3h0.9M88.6 967.6h0.9M98.6 965.9h0.9M102.9 963.6h0.9M98.1 981.4h0.9M108.6 970.4h0.9M101.3 988.2h0.9M93.9 981.0h0.9M107.1 987.5h0.9M99.0 980.9h0.9M94.6 982.5h0.9M102.3 973.2h0.9M115.8 983.4h0.9M93.8 978.1h0.9M102.8 968.6h0.9M93.3 984.3h0.9M98.9 977.2h0.9M106.5 975.4h0.9M89.3 968.0h0.9M98.4 976.1h0.9M96.8 970.0h0.9M87.4 975.6h0.9M102.3 980.2h0.9M103.7 1003.6h0.9M91.4 972.4h0.9M100.5 956.6h0.9M104.2 976.9h0.9M121.1 976.9h0.9M98.7 977.8h0.9M97.9 971.8h0.9M106.9 980.7h0.9M101.6 975.4h0.9M86.4 973.6h0.9M84.0 972.2h0.9M101.8 975.4h0.9M99.9 991.6h0.9M103.2 986.5h0.9M97.2 974.8h0.9M89.8 990.7h0.9M107.1 977.1h0.9M102.5 979.9h0.9M108.7 982.2h0.9M98.7 968.5h0.9M82.6 957.1h0.9M97.7 988.2h0.9M94.5 975.6h0.9M103.6 991.8h0.9M83.3 976.4h0.9M96.0 984.9h0.9M96.7 962.4h0.9M83.2 963.0h0.9M96.5 968.3h0.9M89.9 995.1h0.9M89.0 974.9h0.9M107.6 977.6h0.9M85.4 977.7h0.9M99.1 989.5h0.9M93.7 964.1h0.9M96.6 967.8h0.9M100.7 983.3h0.9M98.8 977.2h0.9M90.9 965.4h0.9M101.3 990.0h0.9M104.8 998.9h0.9M92.4 958.8h0.9M98.9 979.9h0.9M93.4 960.9h0.9M108.6 960.9h0.9M102.7 985.0h0.9M108.3 977.1h0.9M105.7 975.4h0.9M104.3 989.3h0.9M99.0 962.2h0.9M102.2 951.1h0.9M108.8 972.1h0.9M95.4 986.3h0.9M105.3 981.9h0.9M95.3 983.9h0.9M100.2 974.4h0.9M93.8 981.8h0.9M94.0 989.1h0.9M86.8 968.7h0.9M100.5 962.5h0.9M112.1 965.2h0.9M95.0 973.9h0.9M100.4 989.8h0.9M96.2 973.0h0.9M108.1 977.4h0.9M104.6 978.0h0.9M95.7 972.1h0.9M92.4 970.5h0.9M100.4 977.1h0.9M104.7 978.5h0.9M102.0 969.8h0.9M87.9 986.5h0.9M111.6 974.9h0.9M105.2 969.7h0.9M92.9 981.0h0.9M105.1 982.6h0.9M106.9 978.3h0.9M98.2 978.3h0.9M93.1 974.3h0.9M87.7 967.2h0.9M104.6 972.7h0.9M83.5 967.4h0.9M104.6 976.9h0.9M98.6 982.7h0.9M107.2 974.8h0.9M100.9 995.1h0.9M103.4 972.7h0.9M93.4 973.4h0.9M107.2 959.4h0.9M103.6 973.8h0.9M103.6 979.2h0.9M88.3 973.2h0.9M85.4 976.2h0.9M93.9 985.5h0.9M86.5 980.0h0.9M92.4 973.1h0.9M87.4 993.8h0.9M97.6 978.2h0.9M115.0 962.2h0.9M98.5 969.3h0.9M97.3 973.8h0.9M102.7 984.1h0.9M99.7 987.9h0.9M96.9 966.2h0.9M87.4 985.0h0.9M96.8 981.7h0.9M104.2 969.5h0.9M108.2 984.0h0.9M110.6 983.8h0.9M91.3 982.6h0.9M100.1 964.8h0.9M105.3 975.3h0.9M102.0 992.0h0.9M108.3 973.8h0.9M104.3 986.6h0.9M100.3 987.1h0.9M103.2 973.6h0.9M108.9 975.4h0.9M95.9 974.2h0.9M86.8 986.9h0.9M90.8 961.4h0.9M101.5 958.2h0.9M97.2 984.1h0.9M101.6 980.8h0.9M97.2 969.1h0.9M101.2 984.4h0.9M98.8 986.1h0.9M82.5 969.4h0.9M100.3 966.3h0.9M95.4 976.7h0.9M93.5 975.5h0.9M105.9 977.6h0.9M106.5 981.4h0.9M95.6 978.2h0.9M105.6 972.5h0.9M94.6 988.4h0.9M105.0 983.2h0.9M95.6 975.9h0.9M101.9 981.2h0.9M105.3 967.8h0.9M105.4 968.7h0.9M92.6 973.2h0.9M95.5 986.8h0.9M107.6 996.2h0.9M94.5 978.9h0.9M108.3 962.3h0.9M104.8 994.2h0.9M106.0 971.0h0.9M98.6 978.9h0.9M94.5 968.4h0.9M107.2 969.8h0.9M106.6 968.0h0.9M93.8 957.3h0.9M81.9 994.0h0.9M94.8 974.1h0.9M105.1 964.7h0.9M99.2 987.5h0.9M104.8 990.6h0.9M98.3 964.1h0.9M99.3 982.2h0.9M92.1 974.7h0.9M99.0 997.0h0.9M94.7 970.5h0.9M97.9 971.9h0.9M99.6 972.9h0.9M90.6 971.3h0.9M85.9 992.5h0.9M108.8 976.5h0.9M100.7 983.6h0.9M101.5 969.6h0.9M93.2 984.7h0.9M97.4 981.3h0.9M96.5 985.3h0.9M98.2 979.7h0.9M103.2 959.6h0.9M105.5 989.3h0.9M95.9 963.1h0.9M101.9 969.7h0.9M92.4 991.3h0.9M98.5 967.9h0.9M90.3 981.0h0.9M101.6 981.1h0.9M91.4 971.4h0.9M99.1 974.0h0.9M99.7 974.5h0.9M98.9 979.1h0.9M103.7 988.9h0.9M98.9 959.4h0.9M109.1 964.1h0.9M101.0 988.1h0.9M103.5 989.3h0.9M99.3 997.1h0.9M102.9 962.9h0.9M104.3 974.7h0.9M106.7 971.2h0.9M105.1 966.1h0.9M97.3 976.6h0.9M107.1 970.3h0.9M101.5 987.4h0.9M86.8 991.3h0.9M98.6 979.4h0.9M112.7 977.0h0.9M104.2 988.7h0.9M109.4 988.4h0.9M95.1 980.9h0.9M89.3 966.6h0.9M97.1 974.8h0.9M95.3 970.7h0.9M111.0 965.8h0.9M102.9 966.3h0.9M101.4 970.0h0.9M87.5 959.5h0.9M107.3 988.5h0.9M97.3 975.9h0.9M101.6 963.7h0.9M103.6 1004.1h0.9M96.1 962.7h0.9M95.2 977.5h0.9M97.1 993.0h0.9M103.6 972.4h0.9M100.8 973.5h0.9M93.8 991.1h0.9M98.0 972.3h0.9M109.0 975.0h0.9M106.2 953.9h0.9M104.0 967.4h0.9M96.6 985.5h0.9M111.3 957.0h0.9M108.4 974.8h0.9M95.9 986.8h0.9M98.3 972.4h0.9M97.7 975.5h0.9M95.7 987.2h0.9M110.7 969.4h0.9M94.7 976.3h0.9M93.9 978.3h0.9M100.3 977.4h0.9M94.2 980.2h0.9M90.4 974.0h0.9M98.2 977.9h0.9M105.0 975.8h0.9M92.3 981.2h0.9M98.2 984.4h0.9M110.6 991.1h0.9M99.0 968.7h0.9M100.8 975.7h0.9M94.1 963.8h0.9M107.1 968.7h0.9M106.3 987.0h0.9M92.8 981.1h0.9M98.6 964.4h0.9M94.9 978.7h0.9M105.8 970.9h0.9M97.7 986.7h0.9M96.4 971.3h0.9M88.7 981.3h0.9M94.3 968.8h0.9M96.0 970.7h0.9M119.2 972.4h0.9M104.4 966.0h0.9M105.1 980.6h0.9M96.6 997.5h0.9M92.6 967.7h0.9M94.3 976.8h0.9M104.5 976.7h0.9M93.8 968.7h0.9M110.3 973.4h0.9M111.1 976.5h0.9M96.6 974.0h0.9M102.6 984.6h0.9M96.6 982.0h0.9M90.3 962.7h0.9M88.2 973.2h0.9M94.6 983.7h0.9M96.7 973.6h0.9M97.1 964.3h0.9M90.6 994.6h0.9M103.1 964.5h0.9M90.7 980.6h0.9M84.1 956.8h0.9M95.9 972.2h0.9M104.5 967.8h0.9M90.3 981.3h0.9M92.5 978.7h0.9M86.1 974.0h0.9M111.6 964.6h0.9M98.7 976.3h0.9M100.0 976.0h0.9M104.2 971.3h0.9M92.7 979.1h0.9M100.7 961.2h0.9M104.2 974.0h0.9M105.8 977.4h0.9M90.6 974.0h0.9M103.8 986.7h0.9M97.9 983.1h0.9M108.2 980.0h0.9M109.0 983.2h0.9M92.6 966.3h0.9M93.5 992.7h0.9M107.2 969.3h0.9M98.9 995.9h0.9M93.5 977.5h0.9M96.7 985.1h0.9M86.2 980.4h0.9M100.4 987.7h0.9M102.1 980.9h0.9M92.7 980.0h0.9M95.7 993.6h0.9M101.4 977.8h0.9M100.2 978.1h0.9M96.5 983.3h0.9M99.1 969.5h0.9M105.3 984.2h0.9M106.9 973.8h0.9M105.6 991.1h0.9M103.7 981.1h0.9M98.9 963.5h0.9M92.2 977.0h0.9M106.4 982.3h0.9M95.6 979.5h0.9M98.4 971.0h0.9M99.0 985.2h0.9M91.4 973.9h0.9M98.9 968.5h0.9M92.9 981.6h0.9M113.9 978.3h0.9M95.7 991.8h0.9M100.2 960.7h0.9M95.5 960.3h0.9M97.0 990.6h0.9M113.1 1007.0h0.9M106.0 974.7h0.9M94.8 974.1h0.9M91.9 969.3h0.9M101.6 978.8h0.9M100.5 976.2h0.9M89.1 982.6h0.9M99.4 984.9h0.9M100.3 968.7h0.9M105.7 984.6h0.9M97.5 984.0h0.9M102.3 973.4h0.9M100.8 970.9h0.9M108.4 973.7h0.9M105.8 993.7h0.9M99.7 983.7h0.9M109.3 960.9h0.9M113.8 983.1h0.9M91.0 979.1h0.9M113.9 978.6h0.9M108.7 987.2h0.9M94.9 981.0h0.9M111.1 970.7h0.9M100.0 972.8h0.9M95.7 976.0h0.9M84.8 972.1h0.9M87.6 969.2h0.9M95.4 987.0h0.9M91.8 985.5h0.9M96.5 970.8h0.9M87.8 979.1h0.9M98.7 984.8h0.9M95.1 959.3h0.9M103.0 989.7h0.9M99.5 978.9h0.9M102.6 980.1h0.9M116.8 976.8h0.9M102.8 985.8h0.9M102.9 962.6h0.9M102.0 974.8h0.9M92.5 986.1h0.9M94.8 981.4h0.9M94.6 983.1h0.9M108.4 970.2h0.9M93.9 986.1h0.9M93.2 987.2h0.9M101.9 969.7h0.9M95.5 989.6h0.9M105.0 979.2h0.9M100.8 987.6h0.9M95.2 980.9h0.9M102.4 989.7h0.9M96.8 976.2h0.9M101.1 975.9h0.9M97.6 982.8h0.9M96.0 975.4h0.9M101.1 979.0h0.9M96.8 977.1h0.9M91.1 971.2h0.9M94.5 968.2h0.9M109.5 996.6h0.9M97.7 977.0h0.9M98.4 974.7h0.9M95.5 985.9h0.9M102.9 966.4h0.9M100.7 970.5h0.9M103.6 971.1h0.9M101.4 971.3h0.9M98.0 981.1h0.9M103.9 965.6h0.9M95.6 970.6h0.9M87.8 980.0h0.9M97.8 975.2h0.9M93.8 993.7h0.9M93.3 954.6h0.9M96.8 980.4h0.9M92.0 976.6h0.9M83.6 975.6h0.9M99.7 969.5h0.9M91.8 968.4h0.9M95.6 987.2h0.9M99.9 972.3h0.9M95.9 984.7h0.9M94.7 969.9h0.9M104.4 977.8h0.9M108.1 975.6h0.9M97.2 981.6h0.9M100.5 978.1h0.9M92.8 971.9h0.9M94.1 973.4h0.9M107.9 969.8h0.9M102.4 981.7h0.9M88.7 986.8h0.9M100.8 981.1h0.9M100.6 986.6h0.9M101.9 972.0h0.9M95.0 970.2h0.9M93.9 970.2h0.9M100.8 986.3h0.9M97.8 986.9h0.9M106.8 983.8h0.9M88.1 954.9h0.9M106.5 982.1h0.9M89.7 971.2h0.9M100.7 977.6h0.9M90.5 977.3h0.9M89.2 975.5h0.9M103.4 980.1h0.9M95.3 983.3h0.9M112.3 975.2h0.9M100.1 965.0h0.9M104.5 963.4h0.9M97.7 985.8h0.9M103.2 948.8h0.9M93.7 956.3h0.9M97.2 964.7h0.9M114.4 988.2h0.9M92.5 974.9h0.9M99.6 986.3h0.9M108.6 983.6h0.9M90.6 949.7h0.9M88.8 967.4h0.9M104.4 965.9h0.9M107.9 984.7h0.9M99.7 985.0h0.9M94.4 986.9h0.9M99.9 972.4h0.9M93.8 959.2h0.9M97.0 982.4h0.9M96.4 973.6h0.9M110.9 1003.1h0.9M90.0 988.7h0.9M99.0 977.5h0.9M93.6 975.3h0.9M101.3 981.4h0.9M95.3 972.9h0.9M103.6 991.0h0.9M96.3 982.2h0.9M104.2 980.8h0.9M92.9 977.9h0.9M99.8 967.7h0.9M99.6 977.5h0.9M94.4 992.3h0.9M101.3 970.0h0.9M107.3 975.0h0.9M92.4 967.0h0.9M106.5 967.1h0.9M101.5 981.7h0.9M95.3 984.2h0.9M106.3 977.0h0.9M99.2 983.6h0.9M99.7 989.3h0.9M104.4 978.4h0.9M100.8 974.1h0.9M103.8 971.1h0.9M99.0 966.4h0.9M115.5 980.3h0.9M99.6 981.8h0.9M87.9 990.6h0.9M88.1 983.2h0.9M96.6 984.3h0.9M103.6 979.9h0.9M106.1 974.9h0.9M100.9 974.8h0.9M94.6 967.9h0.9M101.8 992.9h0.9M93.5 973.2h0.9M94.5 981.1h0.9M85.6 979.1h0.9M94.2 968.6h0.9M100.9 979.4h0.9M101.2 988.5h0.9M89.7 987.5h0.9M102.9 999.3h0.9M108.7 982.2h0.9M86.0 979.9h0.9M109.7 985.0h0.9M98.7 966.6h0.9M99.6 964.5h0.9M93.9 973.9h0.9M102.1 971.9h0.9M98.8 977.4h0.9M101.1 983.1h0.9M102.5 975.1h0.9M100.4 972.0h0.9M91.0 972.4h0.9M99.1 959.4h0.9M104.5 980.8h0.9M88.5 968.3h0.9M93.2 957.1h0.9M87.4 981.3h0.9M85.6 997.3h0.9M108.8 991.6h0.9M102.6 988.0h0.9M108.3 968.8h0.9M110.0 970.5h0.9M96.8 954.0h0.9M97.0 962.1h0.9M114.8 980.9h0.9M105.4 973.2h0.9M105.7 982.5h0.9M96.6 982.4h0.9M96.4 965.9h0.9M85.3 962.9h0.9M103.3 995.2h0.9M96.0 972.1h0.9M108.2 976.1h0.9M101.6 977.7h0.9M82.5 965.3h0.9M101.4 978.4h0.9M97.3 965.5h0.9M100.2 974.9h0.9M92.3 975.4h0.9M100.9 997.0h0.9M106.8 969.3h0.9M104.7 963.3h0.9M82.9 970.4h0.9M112.5 984.2h0.9M94.4 981.2h0.9M84.8 975.7h0.9M92.5 966.1h0.9M96.5 970.2h0.9M101.4 966.1h0.9M101.9 981.6h0.9M104.9 983.4h0.9M104.0 987.1h0.9M108.0 987.2h0.9M107.4 965.5h0.9M97.4 990.8h0.9M95.1 984.3h0.9M106.6 989.8h0.9M95.0 979.7h0.9M98.3 983.4h0.9M85.9 976.9h0.9M107.4 977.4h0.9M106.3 990.5h0.9M100.3 973.7h0.9M95.4 966.6h0.9M96.2 975.8h0.9M105.9 971.3h0.9M94.4 977.0h0.9M97.7 989.1h0.9M99.4 990.5h0.9M99.9 953.7h0.9M98.0 967.4h0.9M99.3 969.1h0.9M105.6 975.0h0.9M96.8 996.6h0.9M97.0 973.3h0.9M96.9 984.3h0.9M101.0 977.9h0.9M107.4 972.0h0.9M104.4 985.1h0.9M101.4 973.0h0.9M98.3 987.7h0.9M92.8 986.2h0.9M102.9 981.4h0.9M102.9 973.1h0.9M110.6 978.1h0.9M105.0 975.7h0.9M97.0 987.5h0.9M92.5 977.2h0.9M93.5 962.9h0.9M106.1 977.8h0.9M86.5 976.9h0.9M115.5 987.3h0.9M97.8 980.9h0.9M97.4 979.7h0.9M98.4 979.3h0.9M96.1 985.4h0.9M91.0 961.9h0.9M87.6 971.3h0.9M100.1 982.7h0.9M104.7 963.5h0.9M88.4 983.3h0.9M111.6 983.3h0.9M98.4 987.0h0.9M110.7 986.7h0.9M100.7 974.8h0.9M95.5 973.6h0.9M90.9 980.8h0.9M106.5 974.9h0.9M104.7 983.7h0.9M98.4 977.1h0.9M109.6 970.7h0.9M94.5 973.8h0.9M94.0 982.8h0.9M103.5 975.0h0.9M103.7 961.2h0.9M100.0 999.3h0.9M106.0 968.2h0.9M105.4 971.6h0.9M103.5 983.9h0.9M89.4 994.5h0.9M89.7 973.5h0.9M104.1 983.2h0.9M100.8 974.7h0.9M104.9 981.0h0.9M97.1 987.9h0.9M110.2 972.2h0.9M96.6 968.0h0.9M91.0 979.3h0.9M106.0 964.5h0.9M97.7 980.7h0.9M95.3 985.6h0.9M103.5 977.2h0.9M107.5 980.9h0.9M107.0 983.3h0.9M97.6 991.5h0.9M94.7 981.2h0.9M97.1 970.1h0.9M90.4 988.4h0.9M108.8 987.8h0.9M85.8 983.7h0.9M100.2 983.3h0.9M101.3 983.2h0.9M102.6 987.7h0.9M100.5 972.8h0.9M84.2 980.5h0.9M84.8 972.4h0.9M99.2 976.6h0.9M94.2 993.8h0.9M89.6 988.8h0.9M97.4 976.6h0.9M99.9 982.0h0.9M87.3 982.3h0.9M98.3 977.4h0.9M99.5 976.6h0.9M106.9 969.6h0.9M94.1 982.3h0.9M98.0 986.1h0.9M99.9 994.0h0.9M106.4 969.2h0.9M106.8 970.0h0.9M101.5 974.3h0.9M89.7 985.1h0.9M103.3 974.8h0.9M93.5 970.7h0.9M98.4 987.8h0.9M96.3 977.1h0.9M96.6 966.5h0.9M96.7 971.9h0.9M107.6 979.2h0.9M108.2 977.0h0.9M100.5 990.4h0.9M102.5 978.4h0.9M102.7 980.8h0.9M107.2 972.1h0.9M96.1 969.6h0.9M107.7 983.6h0.9M97.2 982.9h0.9M112.6 984.9h0.9M98.8 969.1h0.9M103.3 1001.4h0.9M107.5 974.9h0.9M88.6 986.5h0.9M93.5 974.0h0.9M114.3 974.0h0.9M97.7 1001.7h0.9M111.1 956.3h0.9M104.8 975.4h0.9M100.6 972.1h0.9M101.4 983.6h0.9M97.3 984.9h0.9M104.6 967.1h0.9M111.8 979.1h0.9M105.3 990.7h0.9M99.2 999.6h0.9M93.2 968.1h0.9M96.9 994.4h0.9M110.5 985.2h0.9M92.7 974.2h0.9M98.0 978.6h0.9M91.5 978.0h0.9M96.1 981.8h0.9M92.7 972.7h0.9M100.3 983.7h0.9M99.9 979.2h0.9M98.3 972.0h0.9M96.4 969.8h0.9M103.0 981.2h0.9M98.2 969.8h0.9M96.5 976.1h0.9M106.3 974.5h0.9M100.8 971.6h0.9M103.8 975.2h0.9M93.5 960.3h0.9M97.0 974.4h0.9M107.3 966.2h0.9M95.2 966.4h0.9M104.6 980.0h0.9M96.7 983.1h0.9M100.4 973.2h0.9M98.9 982.9h0.9M105.7 993.4h0.9M101.2 978.1h0.9M99.9 970.1h0.9M98.1 982.6h0.9M96.6 974.9h0.9M90.5 983.0h0.9M106.5 977.6h0.9M100.5 979.3h0.9M99.6 975.6h0.9M106.0 997.7h0.9M106.2 980.3h0.9M96.8 966.5h0.9M106.3 975.7h0.9M103.1 972.9h0.9M82.4 996.2h0.9M91.0 982.9h0.9M107.2 962.8h0.9M100.5 976.6h0.9M88.7 993.2h0.9M95.9 982.2h0.9M99.4 994.4h0.9M93.1 974.0h0.9M101.2 984.0h0.9M99.2 987.7h0.9M107.1 981.2h0.9M89.9 969.1h0.9M88.2 973.3h0.9M105.4 992.0h0.9M100.6 985.4h0.9M96.6 975.0h0.9M104.3 962.8h0.9M97.9 969.8h0.9M101.0 982.8h0.9M100.6 989.8h0.9M99.9 988.8h0.9M100.9 959.4h0.9M99.1 969.7h0.9M96.8 956.2h0.9M97.6 974.5h0.9M91.7 975.5h0.9M104.8 978.2h0.9M103.9 969.6h0.9M110.9 969.4h0.9M90.9 979.3h0.9M103.3 989.2h0.9M104.3 986.2h0.9M88.8 979.2h0.9M95.2 958.3h0.9M109.4 967.0h0.9M103.7 985.1h0.9M97.2 968.7h0.9M108.3 977.6h0.9M100.4 978.7h0.9M101.6 983.1h0.9M100.4 986.3h0.9M99.0 965.5h0.9M93.8 982.5h0.9M93.1 979.5h0.9M104.4 971.7h0.9M99.0 966.3h0.9M90.8 981.9h0.9M100.7 967.7h0.9M96.3 971.4h0.9M97.0 971.8h0.9M95.8 997.5h0.9M95.8 965.7h0.9M96.5 988.4h0.9M97.8 983.4h0.9M96.9 973.8h0.9M109.0 979.9h0.9M95.3 983.8h0.9M89.8 964.2h0.9M97.2 973.7h0.9M99.8 966.5h0.9M102.1 975.7h0.9M97.5 980.4h0.9M96.8 986.8h0.9M93.3 980.2h0.9M98.1 957.2h0.9M92.5 973.0h0.9M102.2 966.0h0.9M95.3 973.1h0.9M89.4 972.7h0.9M105.6 985.8h0.9M92.1 970.6h0.9M94.2 958.4h0.9M114.3 970.8h0.9M101.2 973.0h0.9M97.1 963.8h0.9M91.9 975.9h0.9M94.4 983.4h0.9M95.4 980.8h0.9M102.5 966.7h0.9M107.2 975.6h0.9M115.7 972.4h0.9M106.0 983.8h0.9M88.8 963.4h0.9M89.1 984.8h0.9M99.1 985.8h0.9M91.6 984.2h0.9M98.8 982.7h0.9M103.3 978.4h0.9M108.3 964.9h0.9M96.5 986.5h0.9M92.0 984.0h0.9M99.3 980.0h0.9M82.8 969.6h0.9M103.7 966.8h0.9M104.4 983.7h0.9M91.4 968.0h0.9M88.1 980.0h0.9M107.5 999.8h0.9M108.8 973.2h0.9M88.0 986.9h0.9M104.3 977.9h0.9M89.7 966.7h0.9M97.4 990.9h0.9M109.4 969.0h0.9M87.0 976.4h0.9M104.5 970.6h0.9M99.8 985.5h0.9M87.6 993.7h0.9M108.7 978.1h0.9M101.0 982.4h0.9M94.2 984.1h0.9M99.6 970.6h0.9M98.4 974.9h0.9M95.8 983.8h0.9M104.4 985.9h0.9M96.0 983.4h0.9M97.2 992.5h0.9M91.7 986.7h0.9M95.4 962.1h0.9M104.0 965.7h0.9M93.1 976.9h0.9M101.9 976.4h0.9M101.7 980.0h0.9M87.8 988.5h0.9M108.7 972.3h0.9M103.8 974.9h0.9M93.4 975.0h0.9M85.8 971.8h0.9M103.5 986.5h0.9M102.2 979.6h0.9M94.6 986.1h0.9M111.9 980.6h0.9M110.8 978.6h0.9M97.4 985.5h0.9M99.9 975.4h0.9M95.4 978.7h0.9M98.8 963.2h0.9M102.3 992.7h0.9M101.5 981.6h0.9M102.6 985.4h0.9M104.2 974.6h0.9M91.4 981.6h0.9M102.0 972.7h0.9M97.3 981.7h0.9M109.7 972.2h0.9M92.8 977.4h0.9M93.7 973.2h0.9M92.7 988.0h0.9M102.1 979.1h0.9M109.8 1005.8h0.9M103.1 985.2h0.9M92.7 982.7h0.9M95.0 964.4h0.9M101.8 972.5h0.9M108.9 975.3h0.9M97.3 970.0h0.9M98.0 976.8h0.9M103.4 970.9h0.9M94.3 968.2h0.9M94.6 974.0h0.9M98.1 971.7h0.9M105.2 971.2h0.9M100.7 976.3h0.9M101.6 978.3h0.9M96.3 977.4h0.9M95.6 976.3h0.9M106.8 985.0h0.9M108.1 970.2h0.9M107.1 981.4h0.9M103.4 975.2h0.9M110.8 969.8h0.9M100.8 965.8h0.9M97.2 981.0h0.9M100.8 980.0h0.9M107.9 968.5h0.9M87.5 986.6h0.9M89.1 974.8h0.9M114.6 984.0h0.9M98.2 985.8h0.9M93.5 984.1h0.9M96.5 971.5h0.9M92.6 972.4h0.9M100.8 993.5h0.9M105.5 985.8h0.9M98.3 992.6h0.9M98.5 990.3h0.9M91.0 983.0h0.9M92.1 974.8h0.9M97.9 961.7h0.9M101.7 978.3h0.9M87.7 976.6h0.9M98.4 963.8h0.9M94.8 986.6h0.9M96.3 975.9h0.9M98.4 975.7h0.9M91.9 976.3h0.9M86.1 978.9h0.9M97.1 965.9h0.9M89.1 979.4h0.9M96.1 972.0h0.9M95.4 979.5h0.9M105.9 973.9h0.9M86.4 969.9h0.9M92.8 981.3h0.9M106.5 980.7h0.9M93.5 985.9h0.9M96.2 967.3h0.9M97.8 995.4h0.9M98.9 971.6h0.9M104.0 970.7h0.9M106.7 983.8h0.9M90.4 973.9h0.9M96.7 970.6h0.9M101.5 975.5h0.9M110.4 979.9h0.9M105.4 986.0h0.9M102.0 984.7h0.9M94.5 986.3h0.9M105.6 986.9h0.9M95.4 972.8h0.9M106.8 976.9h0.9M116.0 982.1h0.9M91.5 983.2h0.9M100.8 961.1h0.9M95.2 958.5h0.9M116.6 967.4h0.9M93.6 974.7h0.9M93.8 988.2h0.9M97.4 965.3h0.9M104.2 980.5h0.9M89.7 985.7h0.9M90.3 969.7h0.9M108.9 973.2h0.9M99.5 970.4h0.9M97.1 959.9h0.9M97.1 970.7h0.9M105.3 973.7h0.9M93.5 973.3h0.9M86.5 981.1h0.9M87.4 966.8h0.9M100.8 974.8h0.9M112.6 965.4h0.9M101.4 993.0h0.9M94.9 966.2h0.9M105.9 993.7h0.9M94.0 984.8h0.9M103.6 978.5h0.9M104.6 975.2h0.9M103.4 975.3h0.9M98.0 968.1h0.9M98.8 976.6h0.9M93.1 971.2h0.9M96.6 989.7h0.9M102.3 983.3h0.9M107.8 983.6h0.9M110.2 989.8h0.9M104.0 976.7h0.9M100.0 976.8h0.9M94.3 964.2h0.9M102.8 960.8h0.9M105.4 1000.4h0.9M99.9 966.1h0.9M93.0 985.8h0.9M98.1 972.5h0.9M101.4 963.2h0.9M89.5 983.1h0.9M92.3 986.0h0.9M94.5 979.0h0.9M97.5 994.3h0.9M96.4 979.1h0.9M88.5 979.9h0.9M97.5 981.9h0.9M99.7 982.0h0.9M102.6 991.0h0.9M90.0 971.3h0.9M101.2 959.0h0.9M119.4 952.4h0.9M103.9 971.9h0.9M104.9 997.2h0.9M116.3 969.0h0.9M99.6 968.3h0.9M86.3 979.6h0.9M93.2 962.2h0.9M95.9 970.3h0.9M88.5 980.6h0.9M103.9 982.8h0.9M92.6 966.6h0.9M108.0 966.9h0.9M86.3 962.8h0.9M111.9 975.5h0.9M95.0 978.9h0.9M99.1 974.0h0.9M97.4 986.2h0.9M107.7 964.0h0.9M97.7 977.1h0.9M100.6 1008.3h0.9M105.2 987.5h0.9M98.0 985.0h0.9M110.1 993.5h0.9M91.4 980.3h0.9M102.2 964.4h0.9M95.8 972.2h0.9M107.2 978.6h0.9M117.4 984.9h0.9M95.0 981.5h0.9M99.9 968.0h0.9M102.4 960.5h0.9M100.8 972.1h0.9M99.9 969.3h0.9M114.9 969.7h0.9M106.3 978.9h0.9M109.7 969.5h0.9M87.3 986.8h0.9M108.6 986.3h0.9M112.4 978.5h0.9M90.7 984.5h0.9M83.2 974.1h0.9M104.6 995.4h0.9M95.3 975.4h0.9M86.4 976.4h0.9M92.6 978.2h0.9M92.1 983.7h0.9M98.0 969.5h0.9M104.3 984.7h0.9M96.6 975.8h0.9M106.5 984.4h0.9M97.5 1002.7h0.9M94.5 961.9h0.9M93.0 980.7h0.9M82.9 1001.8h0.9M107.4 966.1h0.9M102.4 962.2h0.9M98.7 975.1h0.9M113.2 954.8h0.9M94.4 954.4h0.9M94.5 974.1h0.9M98.9 991.1h0.9M90.6 971.2h0.9M112.4 978.6h0.9M90.1 978.3h0.9M88.8 967.1h0.9M94.0 959.1h0.9M115.5 973.1h0.9M101.0 974.9h0.9M98.0 967.9h0.9M102.8 972.6h0.9M91.2 989.5h0.9M112.9 983.6h0.9M103.7 974.0h0.9M100.0 987.0h0.9M99.3 994.6h0.9M112.0 981.0h0.9M101.0 967.6h0.9M94.9 969.9h0.9M95.8 966.9h0.9M102.4 982.1h0.9M97.5 998.4h0.9M101.3 977.3h0.9M100.7 970.6h0.9M105.9 966.7h0.9M98.6 1002.8h0.9M101.5 964.9h0.9M88.6 992.3h0.9M81.8 998.7h0.9M111.1 972.3h0.9M101.3 972.2h0.9M90.3 983.5h0.9M92.7 985.6h0.9M101.9 970.3h0.9M99.7 978.6h0.9M97.4 975.3h0.9M110.2 969.0h0.9M100.3 990.9h0.9M102.6 972.9h0.9M88.5 974.7h0.9M98.7 994.4h0.9M104.7 990.9h0.9M103.2 981.0h0.9M84.4 970.9h0.9M96.8 977.0h0.9M87.6 959.1h0.9M100.6 974.7h0.9M99.0 975.3h0.9M96.8 963.8h0.9M106.9 982.9h0.9M98.7 999.3h0.9M92.4 988.2h0.9M98.4 978.3h0.9M106.9 978.0h0.9M98.7 963.2h0.9M101.5 983.0h0.9M95.0 963.6h0.9M107.8 979.8h0.9M109.6 977.2h0.9M122.5 963.1h0.9M105.6 979.8h0.9M101.2 975.5h0.9M104.1 988.5h0.9M99.8 965.4h0.9M107.8 990.2h0.9M88.3 981.0h0.9M112.9 985.6h0.9M94.4 981.5h0.9M102.2 964.7h0.9M96.4 974.1h0.9M95.9 994.3h0.9M82.7 965.6h0.9M92.4 993.5h0.9M98.2 974.9h0.9M96.9 997.2h0.9M116.7 981.0h0.9M90.1 974.7h0.9M83.0 989.4h0.9M97.1 991.7h0.9M93.6 969.0h0.9M108.6 951.8h0.9M89.2 977.0h0.9M108.5 1001.1h0.9M114.0 981.5h0.9M85.8 967.9h0.9M103.6 978.2h0.9M91.6 977.0h0.9M100.3 1005.5h0.9M96.0 985.1h0.9M101.7 987.3h0.9M92.7 996.2h0.9M111.3 984.3h0.9M89.0 964.9h0.9M97.1 976.6h0.9M90.9 976.6h0.9M84.7 975.8h0.9M86.7 981.5h0.9M95.0 960.3h0.9M94.8 975.6h0.9M110.8 986.4h0.9M95.1 988.0h0.9M98.3 987.9h0.9M95.0 981.4h0.9M95.9 989.6h0.9M114.9 997.6h0.9M111.8 976.2h0.9M113.5 974.5h0.9M98.7 967.2h0.9M107.5 958.3h0.9M98.1 986.5h0.9M88.6 983.9h0.9M89.0 974.1h0.9M102.1 995.1h0.9M117.9 966.0h0.9M83.6 969.1h0.9M100.9 976.7h0.9M87.0 967.4h0.9M100.8 978.5h0.9M117.4 963.8h0.9M93.7 1020.3h0.9M87.6 991.3h0.9M94.1 979.5h0.9M110.1 971.2h0.9M96.5 978.3h0.9M99.2 998.8h0.9M112.0 970.1h0.9M110.5 959.6h0.9M92.6 969.3h0.9M93.1 979.9h0.9M101.3 967.0h0.9M102.4 970.0h0.9M103.7 981.4h0.9M88.6 966.8h0.9M107.8 977.0h0.9M101.5 973.8h0.9M113.1 983.4h0.9M92.4 980.5h0.9M88.9 972.9h0.9M95.6 965.4h0.9M90.9 990.8h0.9M90.7 975.1h0.9M87.6 993.0h0.9M90.1 986.9h0.9M104.6 984.4h0.9M94.3 951.2h0.9M90.6 975.0h0.9M85.6 963.8h0.9M101.8 977.8h0.9M108.3 983.3h0.9M110.6 981.2h0.9M97.5 980.1h0.9M106.8 989.5h0.9M104.8 972.1h0.9M89.3 990.0h0.9M108.5 965.6h0.9M99.2 966.0h0.9M99.7 1003.7h0.9M95.6 972.8h0.9M98.3 972.4h0.9M102.4 958.7h0.9M105.7 968.6h0.9M99.2 1008.1h0.9M110.1 980.3h0.9M97.6 983.9h0.9M107.4 1018.7h0.9M117.0 995.8h0.9M91.5 995.7h0.9M97.4 980.1h0.9M95.6 973.6h0.9M104.1 980.3h0.9M105.7 971.7h0.9M90.9 972.9h0.9M96.5 982.4h0.9M115.7 979.6h0.9M96.6 1008.5h0.9M115.6 989.0h0.9M108.0 956.4h0.9M95.7 977.7h0.9M99.0 954.3h0.9M101.6 1000.1h0.9M111.7 981.4h0.9M103.8 978.0h0.9M107.7 960.4h0.9M120.3 987.4h0.9M103.7 995.6h0.9M90.2 976.9h0.9M85.3 989.7h0.9M103.4 1005.9h0.9M105.9 973.0h0.9M95.8 977.3h0.9M94.2 974.0h0.9M100.3 970.7h0.9M91.4 975.2h0.9M85.1 950.1h0.9M98.5 965.8h0.9M85.3 976.2h0.9M99.1 993.4h0.9M93.7 977.7h0.9M97.1 970.3h0.9M86.6 954.1h0.9M82.0 964.6h0.9M90.5 971.5h0.9M81.7 981.1h0.9M102.1 962.7h0.9M92.2 972.4h0.9M104.4 992.3h0.9M104.3 986.3h0.9M110.4 986.2h0.9M100.8 984.5h0.9M107.8 979.9h0.9M108.2 971.2h0.9M88.7 977.4h0.9M103.9 1002.9h0.9M97.1 965.3h0.9M82.4 966.7h0.9M95.7 972.8h0.9" stroke="#000" stroke-width="0.9" fill="none" opacity="0.85"/>
<path d="M100.3 1007.9h0.9M93.6 1022.5h0.9M93.8 1006.1h0.9M89.0 1003.9h0.9M99.8 997.5h0.9M95.6 1003.2h0.9M98.4 1011.3h0.9M97.1 1013.3h0.9M94.1 1009.7h0.9M91.2 998.0h0.9M90.5 1006.0h0.9M101.4 1018.6h0.9M100.8 1011.4h0.9M91.8 1017.8h0.9M93.3 1007.0h0.9M111.5 1013.2h0.9M113.3 1004.2h0.9M100.7 1000.4h0.9M100.5 1003.9h0.9M107.2 1010.9h0.9M85.8 1005.5h0.9M92.3 1008.2h0.9M105.2 1000.6h0.9M96.2 1011.7h0.9M91.4 1005.2h0.9M93.1 1013.9h0.9M103.2 1001.0h0.9M105.5 1017.4h0.9M95.6 1009.7h0.9M102.1 1011.9h0.9M113.4 1008.4h0.9M95.7 1009.1h0.9M97.3 996.9h0.9M104.0 1009.5h0.9M92.0 1002.6h0.9M86.8 1008.7h0.9M100.0 1008.7h0.9M104.7 1006.2h0.9M89.8 1008.1h0.9M109.0 1015.9h0.9M97.9 1019.0h0.9M91.3 1004.4h0.9M95.2 1019.9h0.9M98.4 1002.3h0.9M100.8 995.9h0.9M99.6 1001.9h0.9M92.7 1009.4h0.9M97.1 1004.6h0.9M98.0 1003.4h0.9M107.1 1009.8h0.9M100.1 1016.1h0.9M111.1 998.8h0.9M98.9 1000.5h0.9M102.5 1004.3h0.9M93.1 1006.1h0.9M106.1 1002.0h0.9M100.5 1006.1h0.9M95.6 1008.5h0.9M110.5 1005.2h0.9M99.4 1010.0h0.9M87.1 1006.1h0.9M101.8 1009.9h0.9M98.6 1001.8h0.9M95.4 1011.1h0.9M92.8 1013.3h0.9M100.8 1017.3h0.9M86.7 1007.6h0.9M86.8 1001.0h0.9M111.8 1012.0h0.9M100.5 1001.4h0.9M98.1 1010.6h0.9M107.3 995.7h0.9M97.3 1000.7h0.9M113.4 1017.2h0.9M98.2 1005.8h0.9M108.3 1017.6h0.9M95.0 1013.4h0.9M100.1 1009.1h0.9M87.6 1020.2h0.9M97.3 1001.4h0.9M88.4 1016.8h0.9M99.9 1013.4h0.9M98.8 999.5h0.9M96.5 1003.0h0.9M90.3 1008.6h0.9M92.8 1009.7h0.9M99.0 1004.7h0.9M91.6 1006.2h0.9M105.3 1014.1h0.9M106.5 1002.6h0.9M91.7 1009.1h0.9M97.7 1011.6h0.9M100.9 999.2h0.9M99.6 1016.7h0.9M97.2 1007.4h0.9M98.3 998.3h0.9M102.9 1010.2h0.9M104.0 1004.5h0.9M92.9 1001.4h0.9M96.9 1007.5h0.9M102.0 1002.0h0.9M92.7 1000.8h0.9M94.4 1012.8h0.9M104.2 1007.9h0.9M105.8 1010.3h0.9M94.8 1011.6h0.9M89.0 1003.4h0.9M99.4 1007.8h0.9M93.3 1005.8h0.9M90.3 1003.0h0.9M117.2 1011.3h0.9M104.7 1014.9h0.9M87.0 1012.2h0.9M92.7 999.2h0.9M94.0 1008.4h0.9M105.5 1014.2h0.9M99.0 1015.1h0.9M83.7 1007.0h0.9M102.3 1022.4h0.9M86.7 992.7h0.9M96.5 1006.1h0.9M101.6 1006.4h0.9M91.3 1005.0h0.9M99.9 1022.6h0.9M96.5 1004.8h0.9M87.2 1004.8h0.9M93.8 1008.4h0.9M101.9 1005.2h0.9M102.2 1003.1h0.9M93.9 1009.6h0.9M95.0 1011.9h0.9M103.7 1004.0h0.9M113.0 1011.8h0.9M93.6 1000.5h0.9M96.8 1007.9h0.9M102.5 1009.6h0.9M102.4 998.7h0.9M93.8 1007.2h0.9M103.4 1006.9h0.9M99.6 1001.6h0.9M106.1 1008.1h0.9M88.5 1005.9h0.9M96.1 1008.6h0.9M111.7 1000.5h0.9M107.3 1000.2h0.9M97.2 1000.8h0.9M97.5 1014.2h0.9M110.1 1013.0h0.9M97.0 1012.6h0.9M87.2 1006.7h0.9M92.8 994.9h0.9M95.8 999.9h0.9M106.3 1002.2h0.9M106.3 1006.2h0.9M105.4 1011.4h0.9M107.6 1002.2h0.9M88.7 1008.7h0.9M114.7 1015.0h0.9M98.5 1014.1h0.9M97.8 1008.8h0.9M106.7 1009.6h0.9M97.1 1008.3h0.9M106.3 1015.4h0.9M108.8 1010.5h0.9M91.0 1012.9h0.9M95.9 1002.8h0.9M97.2 1003.3h0.9M89.0 1008.2h0.9M91.4 1013.0h0.9M100.3 1000.1h0.9M101.1 1010.1h0.9M89.7 1012.5h0.9M95.2 1005.9h0.9M103.0 994.6h0.9M94.2 1011.9h0.9M100.7 1016.3h0.9M102.0 1008.1h0.9M106.2 1006.8h0.9M103.6 992.1h0.9M87.7 1014.1h0.9M105.7 1010.8h0.9M105.3 997.2h0.9M101.2 999.6h0.9M94.2 1002.8h0.9M105.6 1002.8h0.9M104.8 1012.2h0.9M100.5 1010.1h0.9M106.6 1009.1h0.9M103.2 1010.7h0.9M86.2 1019.2h0.9M101.8 1007.2h0.9M102.5 1002.0h0.9M96.9 1000.6h0.9M97.1 1014.2h0.9M88.8 1001.5h0.9M101.8 1003.7h0.9M116.6 1002.3h0.9M106.2 1007.9h0.9M101.3 1014.0h0.9M112.0 1015.9h0.9M102.9 1007.0h0.9M103.8 1012.9h0.9M97.7 1002.4h0.9M91.6 999.0h0.9M100.7 1014.3h0.9M102.0 1006.4h0.9M90.3 1010.5h0.9M118.0 1017.2h0.9M97.6 1016.4h0.9M98.2 1007.7h0.9M98.9 999.6h0.9M109.5 1005.0h0.9M99.0 1009.2h0.9M102.4 1003.0h0.9M93.2 1006.1h0.9M91.4 1002.6h0.9M103.4 1005.9h0.9M102.6 1006.0h0.9M100.7 1003.8h0.9M109.0 1004.1h0.9M101.6 1018.7h0.9M109.1 1003.6h0.9M93.3 1009.3h0.9M100.1 1015.4h0.9M95.1 1011.3h0.9M96.9 1004.2h0.9M108.6 1016.7h0.9M102.6 1009.7h0.9M95.6 1018.7h0.9M91.7 1014.8h0.9M93.8 1011.6h0.9M99.3 1005.6h0.9M96.8 1009.2h0.9M95.1 1003.5h0.9M108.0 1003.1h0.9M99.0 1000.9h0.9M89.4 1004.7h0.9M113.7 1008.9h0.9M103.5 1012.9h0.9M91.0 1002.1h0.9M97.6 1013.9h0.9M99.4 1000.5h0.9M97.6 998.0h0.9M100.2 999.6h0.9M91.6 996.5h0.9M92.5 1004.0h0.9M104.2 1005.1h0.9M96.4 1004.5h0.9M98.7 1005.3h0.9M89.6 1006.1h0.9M102.3 997.7h0.9M84.3 1012.5h0.9M97.0 1002.5h0.9M87.2 1006.0h0.9M105.7 1003.9h0.9M99.3 1021.5h0.9M103.0 1006.9h0.9M89.8 1015.1h0.9M105.2 1005.7h0.9M103.8 1011.2h0.9M109.8 1013.3h0.9M99.0 1012.4h0.9M96.7 1001.4h0.9M95.8 1005.0h0.9M106.7 1008.2h0.9M102.0 1002.9h0.9M103.5 1004.3h0.9M87.4 1011.5h0.9M99.8 1016.3h0.9M110.2 1007.7h0.9M88.6 994.5h0.9M98.4 999.5h0.9M107.7 1010.8h0.9M89.7 995.9h0.9M108.9 1014.4h0.9M105.5 1017.0h0.9M101.9 1003.3h0.9M99.7 1007.9h0.9M93.8 1007.0h0.9M96.4 993.8h0.9M99.5 1003.7h0.9M115.8 1016.4h0.9M104.7 1006.5h0.9M83.9 1000.7h0.9M95.5 1013.6h0.9M83.0 1006.5h0.9M106.9 1011.2h0.9M90.8 1006.7h0.9M100.9 1014.2h0.9M94.8 1006.1h0.9M96.8 1000.6h0.9M93.7 1012.0h0.9M94.9 1004.4h0.9M92.7 1002.6h0.9M103.3 1009.5h0.9M101.1 1008.8h0.9M98.5 1011.7h0.9M92.9 1005.5h0.9M89.9 1015.3h0.9M103.5 1008.2h0.9M101.2 1011.9h0.9M103.3 1011.4h0.9M98.1 1007.1h0.9M105.3 1012.1h0.9M100.9 1014.6h0.9M92.6 1007.9h0.9M90.1 1014.5h0.9M103.0 1007.9h0.9M94.9 1006.9h0.9M102.7 1011.1h0.9M92.3 1005.3h0.9M94.6 1007.2h0.9M93.3 1002.2h0.9M111.4 1003.7h0.9M99.7 1010.2h0.9M107.3 1015.4h0.9M95.7 1011.6h0.9M104.4 1009.9h0.9M83.5 996.5h0.9M92.7 1018.3h0.9M105.3 1006.8h0.9M98.8 1009.3h0.9M98.1 1012.2h0.9M92.5 1004.8h0.9M96.5 999.7h0.9M89.1 1002.6h0.9M89.1 1012.8h0.9M105.4 1010.6h0.9M90.3 1009.6h0.9M98.8 999.1h0.9M106.1 1010.3h0.9M102.9 994.6h0.9M91.2 1020.5h0.9M91.4 1017.9h0.9M101.2 1004.1h0.9M92.3 1002.2h0.9M94.6 993.2h0.9M108.1 1023.3h0.9M99.4 1008.0h0.9M93.6 1006.7h0.9M94.1 1014.5h0.9M92.3 1006.7h0.9M108.6 1016.5h0.9M93.1 996.7h0.9M111.3 1002.4h0.9M95.5 1007.8h0.9M103.6 1004.6h0.9M95.3 1005.0h0.9M89.6 1013.8h0.9M94.6 1008.7h0.9M92.8 1012.9h0.9M111.9 1003.5h0.9M98.3 1007.4h0.9M108.6 1004.4h0.9M106.2 1009.4h0.9M104.5 1004.5h0.9M92.4 1005.8h0.9M104.4 1006.9h0.9M103.6 1017.3h0.9M86.7 1001.0h0.9M93.6 1003.5h0.9M101.8 1000.7h0.9M91.6 1006.8h0.9M97.6 1008.2h0.9M97.7 997.8h0.9M94.0 1010.5h0.9M100.1 1010.1h0.9M89.8 1003.4h0.9M85.1 1005.9h0.9M90.8 1011.6h0.9M95.6 1014.7h0.9M113.3 1009.3h0.9M100.9 1000.0h0.9M94.1 992.6h0.9M92.9 1022.0h0.9M102.4 1015.6h0.9M96.2 1005.8h0.9M98.9 1004.8h0.9M101.4 1011.6h0.9M88.1 994.7h0.9M96.1 1006.3h0.9M87.3 1011.9h0.9M107.6 1010.9h0.9M87.6 1008.8h0.9M90.9 1013.7h0.9M100.2 1009.8h0.9M104.1 1011.4h0.9M116.5 999.0h0.9M98.8 1012.9h0.9M103.4 991.2h0.9M105.6 1004.6h0.9M90.4 1018.4h0.9M96.6 1012.4h0.9M102.0 1011.3h0.9M105.6 1009.7h0.9M107.1 1007.7h0.9M91.3 1016.5h0.9M98.3 1012.4h0.9M87.3 991.8h0.9M98.8 1009.3h0.9M108.8 999.8h0.9M91.6 1009.2h0.9M106.6 1009.4h0.9M101.6 1012.8h0.9M113.4 1016.7h0.9M95.8 997.7h0.9M85.3 1005.7h0.9M91.2 1008.3h0.9M96.7 993.3h0.9M104.9 1011.5h0.9M91.6 999.5h0.9M108.3 1009.2h0.9M96.0 1001.5h0.9M92.9 1017.3h0.9M92.5 1007.5h0.9M94.9 1006.6h0.9M89.0 1015.4h0.9M98.5 1012.6h0.9M90.6 1006.5h0.9M112.3 1007.3h0.9M94.6 998.9h0.9M93.0 1011.0h0.9M94.5 1003.6h0.9M105.9 1017.7h0.9M95.0 1005.1h0.9M86.2 1001.5h0.9M92.4 1022.7h0.9M89.6 1007.1h0.9M98.9 1010.6h0.9M81.4 1006.4h0.9M89.1 1006.9h0.9M83.6 1004.9h0.9M95.7 1000.3h0.9M98.8 1010.0h0.9M103.6 1000.2h0.9M88.1 1007.6h0.9M98.1 1003.9h0.9M85.7 1007.5h0.9M105.6 1001.7h0.9M101.7 999.8h0.9M102.6 999.0h0.9M105.3 1007.1h0.9M105.8 1004.9h0.9M87.7 1001.5h0.9M90.4 1009.2h0.9M93.0 1011.0h0.9M96.8 1004.5h0.9M93.8 1005.8h0.9M101.2 1015.7h0.9M94.2 1007.8h0.9M105.2 1016.2h0.9M91.3 1000.1h0.9M93.5 1015.3h0.9M94.5 1013.5h0.9M96.5 1011.3h0.9M100.9 1006.9h0.9M93.0 1008.0h0.9M115.0 1001.4h0.9M103.4 1006.1h0.9M88.0 1006.9h0.9M104.1 999.9h0.9M89.6 1012.3h0.9M87.7 1015.0h0.9M105.9 1003.4h0.9M98.9 1014.9h0.9M104.4 995.1h0.9M87.0 1008.2h0.9M106.0 1017.4h0.9M100.6 1006.9h0.9M91.4 1012.1h0.9M97.9 1019.9h0.9M111.8 1012.7h0.9M92.0 1007.2h0.9M105.8 1009.5h0.9M101.8 1004.0h0.9M81.0 1012.2h0.9M111.2 1005.2h0.9M99.5 996.3h0.9M108.4 1022.8h0.9M108.0 1001.3h0.9M98.8 1008.7h0.9M100.5 1004.1h0.9M101.3 1008.8h0.9M89.4 1001.5h0.9M110.1 1009.4h0.9M101.2 1020.6h0.9M93.2 1015.5h0.9M106.2 1003.3h0.9M96.7 1009.9h0.9M86.6 997.2h0.9M93.5 1016.0h0.9M96.1 1017.7h0.9M85.5 1005.8h0.9M100.5 1014.8h0.9M103.6 1014.5h0.9M103.1 1008.9h0.9M109.3 1012.9h0.9M93.3 1013.3h0.9M102.5 1009.0h0.9M102.3 1006.2h0.9M95.1 997.9h0.9M95.0 1016.6h0.9M102.4 1011.9h0.9M86.5 1007.6h0.9M99.7 1014.5h0.9M98.6 1003.8h0.9M102.1 1008.6h0.9M89.8 1008.0h0.9M100.0 1007.4h0.9M94.7 1007.7h0.9M98.6 1012.3h0.9M89.9 1004.7h0.9M102.5 1005.1h0.9M91.2 1000.0h0.9M87.5 1001.8h0.9M97.4 1011.8h0.9M99.0 1008.8h0.9M102.3 1007.4h0.9M88.5 1008.4h0.9M99.0 1020.8h0.9M98.0 1020.9h0.9M96.8 999.4h0.9M95.9 1006.2h0.9M97.2 1005.8h0.9M114.9 1009.8h0.9M96.7 1007.6h0.9M97.7 1014.5h0.9M97.9 1013.7h0.9M90.9 1009.3h0.9M97.2 1009.0h0.9M89.2 1003.9h0.9M86.6 1010.5h0.9M107.1 1007.7h0.9M87.7 1005.7h0.9M105.8 997.8h0.9M95.5 1008.5h0.9M94.4 1009.5h0.9M101.0 1010.1h0.9M104.4 1014.3h0.9M86.4 1001.3h0.9M96.2 1008.4h0.9M99.3 1000.8h0.9M88.7 1018.7h0.9M99.0 1010.0h0.9M110.5 996.2h0.9M99.5 1006.4h0.9M97.0 1016.4h0.9M97.1 999.0h0.9M89.4 999.8h0.9M106.2 1004.1h0.9M89.5 1006.6h0.9M87.9 1010.6h0.9M98.6 1009.2h0.9M106.1 1005.4h0.9M104.4 997.5h0.9M104.7 1019.0h0.9M91.8 1012.7h0.9M90.5 1008.5h0.9M101.6 1004.6h0.9M89.9 1007.2h0.9M97.3 1010.3h0.9M98.4 997.2h0.9M105.8 1010.8h0.9M87.0 1006.9h0.9M105.5 1020.8h0.9M96.8 1004.5h0.9M106.9 1007.5h0.9M97.7 998.1h0.9M90.3 1010.3h0.9M111.4 1010.2h0.9M96.7 1005.6h0.9M89.4 1000.6h0.9M103.4 1019.3h0.9M95.5 1002.6h0.9M86.4 1005.1h0.9M105.4 997.7h0.9M95.7 1015.4h0.9M109.4 1003.6h0.9M99.7 1010.9h0.9M99.1 1007.4h0.9M99.3 1009.0h0.9M96.6 1006.7h0.9M95.2 1022.0h0.9M97.9 1014.6h0.9M91.3 1017.0h0.9M105.6 1008.8h0.9M115.8 1012.9h0.9M111.5 1002.5h0.9M81.6 1012.5h0.9M98.3 1003.9h0.9M90.3 1011.3h0.9M104.1 1014.8h0.9M97.7 1005.3h0.9M87.8 1001.9h0.9M107.8 999.7h0.9M97.1 1004.9h0.9M92.8 1000.0h0.9M94.9 1010.8h0.9M95.8 1009.9h0.9M92.9 1001.5h0.9M103.7 1007.1h0.9M96.0 1011.1h0.9M105.0 1004.4h0.9M98.4 1006.5h0.9M107.7 999.6h0.9M92.5 1007.4h0.9M101.4 1014.7h0.9M109.9 1006.0h0.9M101.8 1008.1h0.9M92.2 1009.3h0.9M97.5 1015.8h0.9M96.0 999.2h0.9M99.7 1004.2h0.9M98.7 1010.3h0.9M84.9 997.4h0.9M100.4 1012.9h0.9M93.5 1007.5h0.9M101.4 1004.2h0.9M97.2 1004.7h0.9M105.3 1007.7h0.9M90.7 1009.3h0.9M92.5 1005.9h0.9M88.7 1006.5h0.9M103.6 1012.1h0.9M102.2 1002.5h0.9M97.6 1007.6h0.9M96.0 1006.0h0.9M86.9 1019.4h0.9M92.4 1008.7h0.9M99.2 1001.1h0.9M93.3 1010.1h0.9M97.6 1011.1h0.9M90.4 1007.3h0.9M90.9 1007.9h0.9M93.0 1004.7h0.9M102.1 1014.6h0.9M97.3 1009.3h0.9M90.9 1004.8h0.9M94.7 1010.3h0.9M110.4 996.4h0.9M106.2 1016.4h0.9M102.1 1005.8h0.9M103.3 998.9h0.9M88.0 1008.8h0.9M93.4 1012.3h0.9M91.3 996.5h0.9M96.6 1011.4h0.9M87.0 1008.3h0.9M98.5 1010.4h0.9M103.7 1009.5h0.9M92.8 999.8h0.9M102.4 1006.2h0.9M104.5 1015.3h0.9M93.4 1004.4h0.9M107.1 1009.1h0.9M89.7 1006.7h0.9M94.9 1015.4h0.9M88.6 1003.8h0.9M103.8 1013.1h0.9M99.5 1004.7h0.9M91.0 992.0h0.9M102.8 1009.6h0.9M98.3 999.9h0.9M84.8 1005.3h0.9M94.7 1015.3h0.9M114.9 999.5h0.9M92.2 1012.9h0.9M105.0 1012.8h0.9M96.8 1004.7h0.9M94.6 999.4h0.9M92.8 1003.0h0.9M106.2 1016.5h0.9M99.9 998.2h0.9M96.6 1004.6h0.9M106.7 1001.7h0.9M100.8 1007.5h0.9M104.0 1004.3h0.9M109.8 1009.9h0.9M96.6 1006.5h0.9M94.4 1014.5h0.9M103.8 1006.3h0.9M118.3 1010.8h0.9M104.7 1017.7h0.9M106.0 1010.7h0.9M90.8 1002.2h0.9M103.6 1007.3h0.9M95.8 1015.6h0.9M103.1 1016.8h0.9M95.8 1001.8h0.9M97.1 1013.3h0.9M90.1 1007.6h0.9M102.4 1009.2h0.9M101.3 992.6h0.9M101.7 1013.9h0.9M91.2 1009.9h0.9M97.8 1007.7h0.9M122.0 1005.9h0.9M88.8 1003.0h0.9M92.9 1008.2h0.9M100.8 1004.8h0.9M115.5 1010.8h0.9M98.1 1005.6h0.9M99.5 1002.5h0.9M96.5 1004.5h0.9M103.6 1003.0h0.9M89.5 1005.2h0.9M105.9 1010.3h0.9M94.8 1007.2h0.9M92.1 1002.8h0.9M100.1 1003.6h0.9M91.6 1005.7h0.9M98.2 1011.2h0.9M94.3 1009.1h0.9M100.9 1018.6h0.9M98.9 994.2h0.9M100.1 1001.4h0.9M100.5 1008.7h0.9M90.2 993.4h0.9M101.6 1002.8h0.9M105.5 999.0h0.9M88.4 998.6h0.9M99.7 1016.9h0.9M99.3 1000.3h0.9M102.1 998.8h0.9M98.2 1017.1h0.9M97.3 998.8h0.9M97.8 1010.0h0.9M86.5 1010.7h0.9M98.3 993.6h0.9M101.6 1001.2h0.9M94.4 1014.9h0.9M102.5 1004.3h0.9M103.2 1020.3h0.9M109.1 1004.4h0.9M111.1 1006.1h0.9M89.6 1001.8h0.9M83.8 1004.0h0.9M96.8 1018.8h0.9M95.6 1001.7h0.9M100.9 1008.2h0.9M106.3 1001.0h0.9M103.3 1001.3h0.9M94.4 1013.7h0.9M93.8 1010.8h0.9M94.6 1013.6h0.9M100.2 1010.7h0.9M110.0 1000.5h0.9M103.4 1009.0h0.9M90.3 1007.4h0.9M100.3 1000.7h0.9M94.3 1015.6h0.9M95.4 999.2h0.9M115.4 1018.3h0.9M94.4 1010.3h0.9M95.7 1010.2h0.9M103.1 1021.5h0.9M104.7 1020.3h0.9M99.5 1003.4h0.9M100.3 1006.5h0.9M92.8 1019.2h0.9M87.8 1005.1h0.9M110.3 1003.2h0.9M98.6 1017.3h0.9M90.6 1013.8h0.9M99.7 1003.1h0.9M98.2 1011.4h0.9M111.3 1022.6h0.9M100.3 1004.7h0.9M100.6 1009.5h0.9M90.2 999.5h0.9M92.3 1007.3h0.9M97.3 1012.4h0.9M95.9 1007.3h0.9M106.7 1000.0h0.9M84.9 1016.5h0.9M105.3 1002.7h0.9M107.1 1009.8h0.9M93.0 1018.1h0.9M86.4 1003.0h0.9M98.7 1012.6h0.9M98.7 1013.7h0.9M90.1 1006.3h0.9M108.3 1005.9h0.9M93.8 1004.1h0.9M97.9 1006.3h0.9M109.2 1016.0h0.9M97.2 1013.5h0.9M92.7 1011.7h0.9M105.3 1004.9h0.9M96.1 1009.7h0.9M106.0 1004.8h0.9M104.1 1004.7h0.9M90.9 1013.9h0.9M111.6 995.3h0.9M98.8 1002.4h0.9M85.1 1005.8h0.9M96.4 1000.2h0.9M83.6 1011.1h0.9M107.9 1005.5h0.9M113.5 1004.4h0.9M95.9 1001.8h0.9M93.8 1004.8h0.9M104.0 1017.3h0.9M101.4 1003.3h0.9M91.6 992.5h0.9M111.3 1002.2h0.9M95.6 994.1h0.9M101.0 1004.3h0.9M89.0 1008.6h0.9M120.4 1002.8h0.9M94.9 1009.7h0.9M90.0 1002.6h0.9M112.2 1003.0h0.9M98.7 997.8h0.9M84.2 1002.6h0.9M95.7 995.5h0.9M91.6 1007.7h0.9M99.0 1018.3h0.9M89.3 995.7h0.9M101.2 1002.0h0.9M103.0 999.1h0.9M92.2 1009.8h0.9M112.6 1001.3h0.9M82.8 1007.0h0.9M103.6 1009.1h0.9M118.8 995.1h0.9M109.9 993.2h0.9M90.6 995.1h0.9M108.0 1012.7h0.9M102.5 998.3h0.9M101.9 1008.7h0.9M112.8 995.0h0.9M95.6 1009.8h0.9M95.3 997.0h0.9M93.0 1021.9h0.9M105.5 1014.0h0.9M101.5 1004.1h0.9M93.5 1003.1h0.9M94.0 1002.9h0.9M84.5 1001.5h0.9M98.0 997.1h0.9M111.4 1017.6h0.9M87.9 995.7h0.9M89.9 1003.5h0.9M81.3 1007.1h0.9M86.5 1006.5h0.9M93.8 1010.9h0.9M90.9 1010.6h0.9M92.4 995.0h0.9M106.4 1005.3h0.9M112.8 1005.0h0.9M95.3 1020.5h0.9M88.4 995.4h0.9M100.3 994.6h0.9M95.6 991.1h0.9M110.6 1010.1h0.9M101.3 999.9h0.9M82.5 1016.0h0.9M103.6 1002.5h0.9M85.4 1005.1h0.9M91.1 1002.4h0.9M82.5 1015.6h0.9M98.5 1020.8h0.9M101.0 1004.3h0.9M103.7 1001.7h0.9M105.1 1011.3h0.9M110.4 1004.9h0.9M95.1 1015.5h0.9M95.4 1000.3h0.9M107.4 1001.7h0.9M105.9 1014.2h0.9M88.8 1004.8h0.9M98.3 1004.0h0.9M94.1 1015.7h0.9M98.3 1006.4h0.9M97.4 1000.5h0.9M100.6 1012.4h0.9M86.7 1009.0h0.9M112.1 1011.5h0.9M111.2 1005.9h0.9M91.7 1001.0h0.9M95.8 1023.1h0.9M95.9 998.6h0.9M110.3 1013.6h0.9M101.4 1008.6h0.9M92.7 995.2h0.9M95.6 1001.6h0.9M94.0 997.8h0.9M95.1 1008.2h0.9M97.9 1016.1h0.9M95.7 1017.4h0.9M96.5 1005.7h0.9M99.4 1005.5h0.9M88.4 991.6h0.9M91.5 1003.4h0.9M98.1 1012.6h0.9M102.1 998.1h0.9M100.8 998.8h0.9M83.8 998.9h0.9M92.2 992.7h0.9M94.8 999.2h0.9M107.0 994.6h0.9M101.2 999.5h0.9M89.9 1009.5h0.9M103.6 996.8h0.9M83.8 992.9h0.9M88.7 1012.1h0.9M88.4 1005.5h0.9M83.7 1004.3h0.9M108.4 1010.2h0.9M93.0 1009.3h0.9M87.8 991.5h0.9M89.6 991.0h0.9M101.6 1012.3h0.9M97.5 1008.0h0.9M94.2 1001.2h0.9M103.0 996.8h0.9M88.7 1019.9h0.9M93.4 993.6h0.9M101.7 996.2h0.9M86.4 1014.0h0.9M104.5 1016.4h0.9M114.6 1016.3h0.9M104.8 1002.6h0.9M89.1 1015.4h0.9M108.0 1002.3h0.9M85.7 1008.1h0.9M112.2 1014.9h0.9M87.3 994.7h0.9M99.5 1001.4h0.9M92.8 1016.9h0.9M102.6 1014.1h0.9" stroke="#000" stroke-width="0.9" fill="none" opacity="0.75"/>
<path d="M144.4 1007.8h0.9M156.4 1011.5h0.9M157.2 1013.8h0.9M151.7 1006.0h0.9M144.9 1002.4h0.9M145.4 1005.6h0.9M149.7 1020.9h0.9M149.8 1005.7h0.9M150.9 1013.2h0.9M146.7 1009.3h0.9M156.9 1003.1h0.9M147.3 1013.1h0.9M151.7 1011.6h0.9M149.6 1019.2h0.9M147.2 1007.7h0.9M153.7 1005.4h0.9M159.2 1010.2h0.9M149.3 998.7h0.9M159.1 1015.7h0.9M153.6 1014.7h0.9M158.9 1007.6h0.9M142.9 1013.1h0.9M140.9 1007.2h0.9M137.5 1002.7h0.9M149.7 1002.9h0.9M149.6 1000.2h0.9M149.2 1016.3h0.9M146.2 1006.8h0.9M142.6 1005.7h0.9M138.5 1007.1h0.9M145.5 997.5h0.9M155.5 1017.4h0.9M150.0 1007.7h0.9M138.5 1013.0h0.9M146.8 1020.3h0.9M159.8 1011.9h0.9M157.7 1007.4h0.9M142.0 1008.0h0.9M145.5 1011.1h0.9M148.7 1002.9h0.9M147.9 1007.1h0.9M165.6 1007.5h0.9M147.9 1016.9h0.9M139.6 1005.6h0.9M153.2 1017.6h0.9M141.3 1009.5h0.9M148.5 1007.0h0.9M139.9 1007.5h0.9M153.1 1012.8h0.9M145.6 1007.5h0.9M150.4 1004.2h0.9M141.9 1009.4h0.9M155.1 1016.3h0.9M153.0 1008.2h0.9M150.9 1000.6h0.9M146.7 997.4h0.9M146.2 999.2h0.9M153.5 1020.4h0.9M148.0 1003.2h0.9M150.7 1004.4h0.9M153.3 1000.7h0.9M157.3 1016.6h0.9M148.5 1002.4h0.9M151.4 1002.4h0.9M150.9 1007.3h0.9M157.6 1012.0h0.9M142.3 1008.3h0.9M145.8 1015.4h0.9M156.2 1007.8h0.9M150.6 1002.9h0.9M142.4 1009.5h0.9M152.3 1004.0h0.9M159.4 1010.7h0.9M159.7 999.6h0.9M147.2 1010.8h0.9M153.6 1010.0h0.9M144.6 1006.6h0.9M141.1 1011.6h0.9M143.9 1009.2h0.9M155.4 1016.9h0.9M156.7 1009.2h0.9M136.2 1007.5h0.9M143.1 1013.5h0.9M138.7 1007.4h0.9M135.0 1006.3h0.9M146.6 1007.3h0.9M151.9 1007.3h0.9M155.0 1009.7h0.9M144.8 1002.1h0.9M156.6 1012.1h0.9M146.7 1000.4h0.9M144.9 1005.6h0.9M152.2 1009.3h0.9M154.1 1012.7h0.9M144.9 1003.0h0.9M146.9 1003.8h0.9M152.6 1014.7h0.9M152.2 1003.7h0.9M156.8 1018.0h0.9M156.3 1013.1h0.9M144.4 1011.7h0.9M152.8 1005.9h0.9M154.8 997.4h0.9M158.6 994.8h0.9M150.0 1006.1h0.9M148.3 1010.3h0.9M148.0 1014.0h0.9M138.7 1014.4h0.9M158.5 1005.8h0.9M137.5 1006.8h0.9M151.1 1008.9h0.9M155.1 1003.9h0.9M155.2 1002.0h0.9M143.9 1006.7h0.9M149.0 995.5h0.9M145.2 1007.5h0.9M145.4 1010.7h0.9M152.2 1004.1h0.9M143.7 1006.6h0.9M161.4 1013.5h0.9M144.6 1000.8h0.9M143.1 1020.0h0.9M143.6 1009.2h0.9M158.2 1010.7h0.9M144.4 1002.0h0.9M154.0 1012.4h0.9M148.1 1008.5h0.9M156.7 1009.4h0.9M156.5 1013.3h0.9M151.3 1017.6h0.9M147.0 1012.7h0.9M143.5 1015.0h0.9M139.5 1001.9h0.9M144.3 1018.8h0.9M151.6 1018.2h0.9M153.9 1000.9h0.9M149.8 1010.4h0.9M146.4 1013.3h0.9M153.9 1007.5h0.9M146.8 1003.1h0.9M164.5 1016.3h0.9M149.8 1010.8h0.9M150.6 1009.4h0.9M148.8 1007.7h0.9M149.2 1004.6h0.9M146.0 1017.9h0.9M156.1 1015.4h0.9M160.6 1006.9h0.9M148.6 1011.3h0.9M150.8 1006.4h0.9M143.8 1013.6h0.9M153.0 1001.8h0.9M144.3 1008.4h0.9M146.7 1000.0h0.9M152.0 1002.9h0.9M150.0 1002.9h0.9M154.1 1014.2h0.9M152.7 1009.1h0.9M155.1 1008.1h0.9M164.0 1003.7h0.9M143.3 1017.8h0.9M159.3 1003.9h0.9M147.7 1013.9h0.9M145.4 1000.7h0.9M155.2 1005.2h0.9M149.2 1006.4h0.9M152.7 1004.7h0.9M149.3 1007.3h0.9M143.8 1011.6h0.9M142.3 1008.8h0.9M161.1 1007.5h0.9M148.0 1009.5h0.9M152.6 1017.5h0.9M147.8 1001.9h0.9M149.2 1004.6h0.9M142.8 1009.1h0.9M146.1 1013.4h0.9M155.1 1013.0h0.9M144.9 1002.9h0.9M152.1 998.2h0.9M145.3 1003.7h0.9M145.8 1011.8h0.9M151.5 1007.3h0.9M153.2 1012.2h0.9M152.9 1015.3h0.9M158.4 1006.4h0.9M142.6 1006.3h0.9M144.2 1012.4h0.9M148.2 1003.6h0.9M150.5 1011.6h0.9M157.1 1009.4h0.9M147.9 1005.1h0.9M143.5 1005.5h0.9M151.6 1010.4h0.9M151.1 996.4h0.9M147.3 1015.0h0.9M142.8 1010.9h0.9M146.3 1014.0h0.9M152.1 1011.6h0.9M153.1 1013.7h0.9M143.7 1003.6h0.9M146.3 1015.2h0.9M137.0 1013.3h0.9M147.5 1010.5h0.9M144.8 1010.1h0.9M154.0 1000.5h0.9M156.0 1006.4h0.9M150.3 1000.6h0.9M151.7 1009.4h0.9M160.9 1000.5h0.9M147.9 1009.5h0.9M152.3 1017.8h0.9M143.0 1014.6h0.9M148.1 1004.0h0.9M152.8 1009.9h0.9M149.2 1012.1h0.9M140.3 1008.5h0.9M144.8 1007.8h0.9M150.6 1007.6h0.9M151.5 1002.9h0.9M149.5 1007.8h0.9M164.2 1010.7h0.9M142.5 1009.1h0.9M161.3 1011.4h0.9M141.1 1018.1h0.9M154.0 1011.3h0.9M157.6 999.0h0.9M151.1 1006.9h0.9M151.4 998.1h0.9M156.2 1002.2h0.9M152.5 1013.9h0.9M150.3 1009.2h0.9M142.0 1004.7h0.9M151.2 1006.7h0.9M153.4 1003.0h0.9M149.3 1003.9h0.9M139.9 1009.0h0.9M148.7 1009.5h0.9M146.5 1015.8h0.9M166.5 1015.7h0.9M142.0 1007.5h0.9M158.1 1013.0h0.9M143.9 1006.0h0.9M149.8 1005.4h0.9M150.7 1019.0h0.9M156.0 1019.8h0.9M157.3 993.7h0.9M152.6 1001.4h0.9M152.2 1017.4h0.9M152.2 995.6h0.9M149.4 1006.3h0.9M154.9 1001.1h0.9M147.7 1007.5h0.9M149.9 1010.1h0.9M156.0 1009.1h0.9M158.7 1009.6h0.9M163.2 1012.9h0.9M150.3 1002.7h0.9M147.4 1005.7h0.9M157.3 1006.7h0.9M149.2 1010.6h0.9M149.1 1012.2h0.9M146.0 1004.3h0.9M147.8 1013.5h0.9M143.4 997.2h0.9M149.9 1005.3h0.9M151.7 1007.0h0.9M158.7 1010.0h0.9M146.6 1006.9h0.9M159.1 1004.9h0.9M151.4 1017.0h0.9M153.9 1013.3h0.9M143.2 1009.2h0.9M158.0 1012.1h0.9M138.7 1014.6h0.9M154.5 1009.2h0.9M153.8 1003.1h0.9M158.5 1015.5h0.9M154.3 1013.3h0.9M142.2 1007.4h0.9M149.5 1012.1h0.9M141.9 1008.9h0.9M156.8 1003.5h0.9M159.3 1011.1h0.9M146.4 1003.6h0.9M159.0 1005.7h0.9M145.0 1007.7h0.9M156.0 1014.8h0.9M147.4 997.7h0.9M158.2 1008.7h0.9M147.6 1008.7h0.9M139.7 1016.6h0.9M152.2 1019.2h0.9M141.2 1003.5h0.9M140.3 1015.2h0.9M145.7 1009.3h0.9M144.7 1002.0h0.9M145.3 1009.8h0.9M146.6 1005.9h0.9M150.0 1005.2h0.9M149.1 1002.2h0.9M140.3 1001.2h0.9M142.9 1012.1h0.9M140.2 1001.4h0.9M164.7 1005.9h0.9M156.1 1003.3h0.9M147.1 1006.9h0.9M146.6 1010.8h0.9M150.1 1014.1h0.9M147.8 1009.7h0.9M144.2 1014.3h0.9M141.7 1000.8h0.9M145.0 1004.7h0.9M139.5 998.8h0.9M143.4 1008.9h0.9M158.9 1004.4h0.9M143.8 1008.6h0.9M154.3 1015.2h0.9M153.8 1004.6h0.9M154.2 996.2h0.9M151.1 1016.9h0.9M154.6 1020.4h0.9M146.6 1008.9h0.9M148.6 1012.6h0.9M156.3 1007.9h0.9M153.3 1010.3h0.9M150.5 1001.0h0.9M150.7 1012.8h0.9M146.1 999.7h0.9M155.4 1016.8h0.9M148.1 1013.7h0.9M141.3 1015.0h0.9M147.7 1014.5h0.9M142.5 1009.8h0.9M145.4 998.2h0.9M139.8 1011.1h0.9M146.0 1012.3h0.9M151.8 1012.3h0.9M147.3 1004.8h0.9M148.0 1010.4h0.9M144.6 1011.1h0.9M149.5 1008.3h0.9M157.5 1013.2h0.9M138.6 1002.2h0.9M162.3 1016.4h0.9M150.8 1003.4h0.9M144.3 1009.9h0.9M156.9 1005.5h0.9M153.4 1011.0h0.9M145.3 1013.1h0.9M138.0 1007.2h0.9M146.2 1017.1h0.9M146.7 1001.4h0.9M145.4 998.3h0.9M152.1 1001.3h0.9M152.0 1009.1h0.9M150.9 1008.8h0.9M152.1 1013.0h0.9M142.8 1010.9h0.9M140.6 1006.6h0.9M142.4 1014.8h0.9M151.7 1005.8h0.9M147.7 1002.7h0.9M153.4 1003.6h0.9M152.9 1014.9h0.9M137.4 1017.7h0.9M154.7 1015.2h0.9M144.0 999.4h0.9M147.3 1006.4h0.9M150.1 1001.8h0.9M163.8 1011.6h0.9M152.0 1009.4h0.9M137.8 1012.2h0.9M145.8 999.3h0.9M143.4 1006.6h0.9M157.8 1016.5h0.9M143.7 1012.9h0.9M149.6 1012.2h0.9M149.4 1005.1h0.9M141.3 1010.9h0.9M144.3 1004.0h0.9M153.7 1019.7h0.9M159.3 1005.2h0.9M160.4 998.8h0.9M153.6 1009.5h0.9M148.0 1009.9h0.9M142.2 1003.4h0.9M139.7 1002.1h0.9M142.0 1004.7h0.9M149.8 999.1h0.9M151.1 1007.8h0.9M146.2 1006.2h0.9M153.9 999.3h0.9M149.7 1006.6h0.9M151.7 1010.8h0.9M161.3 1007.2h0.9M154.4 1001.0h0.9M141.0 1003.4h0.9M136.7 1011.7h0.9M147.5 1003.2h0.9M149.8 1015.4h0.9M144.7 1008.7h0.9M157.5 1016.9h0.9M154.5 1006.6h0.9M152.0 1008.3h0.9M144.5 1002.3h0.9M150.6 999.6h0.9M142.9 1002.8h0.9M154.6 1003.3h0.9M146.4 1003.2h0.9M149.9 1012.5h0.9M163.4 1014.3h0.9M150.8 1002.3h0.9M156.8 995.2h0.9M159.1 1008.2h0.9M144.1 1011.8h0.9M152.7 1010.9h0.9M147.3 999.0h0.9M155.7 1010.1h0.9M145.3 1008.9h0.9M158.7 1008.7h0.9M138.0 1005.2h0.9M155.7 1013.6h0.9M145.8 1009.4h0.9M145.5 1010.7h0.9M150.4 1012.1h0.9M149.9 1007.5h0.9M149.6 1010.7h0.9M154.3 997.4h0.9M147.2 1013.1h0.9M144.5 1010.6h0.9M152.0 1011.3h0.9M152.4 1005.9h0.9M157.1 1001.7h0.9M155.6 1004.0h0.9M148.1 1013.2h0.9M147.3 1008.3h0.9M150.6 1003.4h0.9M149.7 996.8h0.9M145.3 1006.6h0.9M153.4 1006.7h0.9M141.4 1006.9h0.9M159.3 1008.5h0.9M151.9 1008.1h0.9M148.7 1003.6h0.9M149.3 1008.7h0.9M143.5 1013.0h0.9M150.4 1016.0h0.9M149.8 1012.7h0.9M141.7 1010.8h0.9M148.4 1006.5h0.9M142.7 1013.8h0.9M150.7 1013.5h0.9M156.0 1003.4h0.9M138.4 1008.3h0.9M147.6 1001.8h0.9M148.1 1005.8h0.9M144.4 1008.1h0.9M145.9 1008.1h0.9M156.6 1012.1h0.9M151.7 1015.1h0.9M150.0 1008.9h0.9M149.5 999.4h0.9M149.6 1001.5h0.9M158.8 1009.7h0.9M144.8 1013.1h0.9M149.8 1003.5h0.9M155.9 1011.8h0.9M153.3 1014.9h0.9M141.0 1002.7h0.9M147.6 1008.7h0.9M143.7 1005.2h0.9M152.7 1020.6h0.9M153.4 1000.7h0.9M155.7 1010.3h0.9M151.4 1005.0h0.9M143.5 1003.1h0.9M160.7 1013.1h0.9M143.2 1008.0h0.9M142.1 1004.8h0.9M150.7 1018.0h0.9M140.2 1016.4h0.9M154.9 1001.2h0.9M144.0 1014.8h0.9M161.6 1012.6h0.9M151.0 1011.2h0.9M145.4 1005.0h0.9M143.8 1007.0h0.9M146.7 1008.9h0.9M146.6 1014.3h0.9M142.2 1012.9h0.9M150.7 1014.4h0.9M148.9 1017.4h0.9M147.0 1017.5h0.9M143.7 1011.5h0.9M151.3 1007.1h0.9M151.2 1007.7h0.9M151.6 1010.0h0.9M141.4 1008.2h0.9M153.5 1003.0h0.9M152.3 1011.1h0.9M155.3 1008.4h0.9M144.0 1005.2h0.9M146.1 1013.6h0.9M156.4 1010.7h0.9M146.2 1014.0h0.9M142.2 1014.7h0.9M147.3 1009.0h0.9M143.3 1013.2h0.9M152.9 1015.1h0.9M147.0 1019.8h0.9M134.8 1008.9h0.9M152.0 1012.2h0.9M145.5 1009.4h0.9M146.1 1011.5h0.9M150.5 1003.9h0.9M154.9 999.6h0.9M147.3 1011.4h0.9M137.3 1002.1h0.9M159.8 1013.7h0.9M142.9 1008.1h0.9M150.2 1011.9h0.9M151.1 1005.5h0.9M149.1 1007.5h0.9M147.8 1008.2h0.9M145.2 1003.3h0.9M150.5 1011.7h0.9M159.2 1019.8h0.9M147.8 1008.2h0.9M151.5 1011.2h0.9M146.6 1005.7h0.9M166.8 1008.2h0.9M139.7 1005.0h0.9M152.5 1008.3h0.9M143.5 1004.5h0.9M163.3 1001.5h0.9M156.2 1009.0h0.9M157.4 1009.5h0.9M155.0 1007.1h0.9M147.5 1014.2h0.9M143.3 999.4h0.9M153.0 1009.5h0.9M146.4 1010.5h0.9M149.5 1003.2h0.9M147.8 1012.6h0.9M143.5 1021.1h0.9M148.3 1002.4h0.9M157.2 1009.0h0.9M151.6 1017.6h0.9M149.6 1007.9h0.9M161.2 1008.9h0.9M145.8 1007.5h0.9M153.3 1015.2h0.9M145.8 1004.8h0.9M151.4 1011.1h0.9M148.2 1006.0h0.9M140.6 1012.4h0.9M148.6 1000.1h0.9M155.0 1008.5h0.9M142.6 1012.5h0.9M156.4 1011.8h0.9M165.0 1006.1h0.9M143.7 1010.3h0.9M151.5 1013.9h0.9M148.9 1003.0h0.9M144.2 1014.9h0.9M149.5 1008.0h0.9M155.4 1004.1h0.9M153.5 1000.2h0.9M149.7 1005.6h0.9M154.5 1012.8h0.9M149.6 1008.7h0.9M139.4 1005.4h0.9M152.7 1021.0h0.9M159.8 1017.4h0.9M149.0 1003.7h0.9M142.4 1006.7h0.9M142.2 1014.6h0.9M147.0 999.4h0.9M143.1 1017.2h0.9M154.3 1010.3h0.9M144.4 1004.1h0.9M158.0 1013.2h0.9M152.5 1001.4h0.9M153.5 1017.2h0.9M145.8 998.6h0.9M142.5 1007.4h0.9M140.8 1009.9h0.9M147.8 1011.1h0.9M146.6 1008.7h0.9M153.2 1017.2h0.9M160.6 1009.6h0.9M144.3 998.0h0.9M146.5 1001.8h0.9M150.9 1010.9h0.9M156.4 1000.4h0.9M153.6 1021.3h0.9M144.0 1000.3h0.9M150.0 1003.5h0.9M145.7 1010.6h0.9M153.7 1014.0h0.9M141.8 1015.3h0.9M148.4 1010.5h0.9M156.3 1009.7h0.9M161.8 1006.7h0.9M143.8 1000.7h0.9M159.7 1009.7h0.9M146.0 1006.1h0.9M158.4 1009.9h0.9M155.9 1010.8h0.9M157.9 1009.5h0.9M164.0 1011.2h0.9M149.7 1006.5h0.9M164.4 1009.0h0.9M154.4 1000.0h0.9M138.7 1009.5h0.9M148.7 998.3h0.9M149.0 1010.4h0.9M141.6 1009.4h0.9M155.7 1004.6h0.9M149.7 1009.4h0.9M156.3 1019.5h0.9M158.2 1008.4h0.9M155.9 1005.8h0.9M155.1 1002.7h0.9M144.6 1011.1h0.9M153.4 1009.5h0.9M157.9 1011.4h0.9M149.4 1008.1h0.9M148.0 1008.9h0.9M145.3 1005.4h0.9M146.6 1006.4h0.9M157.1 1004.3h0.9M149.2 998.1h0.9M147.7 1008.9h0.9M142.3 1005.0h0.9M149.6 1001.4h0.9M145.5 1007.6h0.9M150.6 1010.4h0.9M144.0 1015.3h0.9M155.5 1010.4h0.9M147.4 1006.8h0.9M163.0 1017.8h0.9M149.9 1005.4h0.9M156.0 1007.6h0.9M153.3 1018.5h0.9M146.1 1010.7h0.9M133.7 1006.3h0.9M149.6 1015.4h0.9M148.2 1008.0h0.9M153.6 1010.9h0.9M149.9 1000.0h0.9M156.4 1012.4h0.9M150.7 1005.2h0.9M141.7 1007.8h0.9M146.1 1006.1h0.9M146.7 1001.9h0.9M153.6 1007.4h0.9M150.2 1011.0h0.9M146.3 1003.5h0.9M140.7 1006.1h0.9M154.1 1014.6h0.9M156.6 1013.4h0.9M151.8 1005.7h0.9M146.7 1006.7h0.9M148.5 1002.7h0.9M151.6 1012.7h0.9M146.5 998.8h0.9M147.3 1016.0h0.9M143.1 1013.3h0.9M145.4 1007.9h0.9M150.0 1008.9h0.9M153.8 1006.6h0.9M143.8 998.7h0.9M141.6 1014.1h0.9M150.4 1016.0h0.9M143.6 1004.3h0.9M150.6 1006.0h0.9M142.1 1013.5h0.9M148.3 1005.9h0.9M148.4 1009.1h0.9M147.9 1008.2h0.9M156.7 1004.3h0.9M151.0 1006.4h0.9M146.5 1009.8h0.9M143.2 1012.5h0.9M157.2 995.6h0.9M143.5 1016.1h0.9M156.0 998.0h0.9M149.6 1017.4h0.9M156.8 1010.9h0.9M153.4 1006.1h0.9M144.7 1014.0h0.9M144.5 1014.6h0.9M151.5 1009.7h0.9M153.2 1009.5h0.9M145.2 1007.2h0.9M142.0 1017.2h0.9M147.2 996.4h0.9M153.9 1006.0h0.9M153.3 1014.3h0.9M150.6 1005.1h0.9M147.8 1009.7h0.9M151.8 1004.2h0.9M140.6 1010.9h0.9M155.6 1010.0h0.9M143.2 1017.7h0.9M157.5 1011.6h0.9M145.3 1007.0h0.9M157.3 997.8h0.9M140.6 1020.1h0.9M141.1 1004.7h0.9M145.9 1010.2h0.9M158.1 1010.1h0.9M143.1 1009.8h0.9M138.2 1010.6h0.9M154.1 1017.6h0.9M143.8 1008.2h0.9M141.3 1014.0h0.9M143.6 1006.8h0.9M149.8 1014.1h0.9M144.4 1005.4h0.9M143.7 1012.0h0.9M140.1 1009.0h0.9M148.3 1013.1h0.9M149.4 1010.3h0.9M150.7 1003.3h0.9M159.6 1015.2h0.9M149.5 1011.0h0.9M140.6 999.5h0.9M146.7 1008.8h0.9M149.1 1003.3h0.9M150.4 998.7h0.9M155.1 1008.3h0.9M153.5 999.3h0.9M148.8 1018.6h0.9M146.0 1014.2h0.9M145.0 1008.0h0.9M145.2 1007.9h0.9M142.1 1013.7h0.9M146.8 1013.9h0.9M147.3 1007.3h0.9M145.8 1003.0h0.9M149.1 1006.0h0.9M149.3 1011.4h0.9M145.3 1018.3h0.9M150.9 1004.4h0.9M147.7 1012.0h0.9M150.5 1007.3h0.9M142.3 996.4h0.9M144.5 1016.5h0.9M146.6 1012.2h0.9M147.7 1011.1h0.9M148.6 1008.5h0.9M156.2 1000.7h0.9M153.7 1005.4h0.9M147.8 1007.9h0.9M162.3 1022.2h0.9M149.1 1016.9h0.9M152.3 1004.8h0.9M153.7 1000.6h0.9M151.9 1005.4h0.9M135.0 1004.7h0.9M153.7 1005.6h0.9M150.8 1008.4h0.9M150.2 1013.6h0.9M147.8 996.7h0.9M147.0 1015.1h0.9M136.9 1010.4h0.9M150.0 1015.6h0.9M143.0 1000.5h0.9M151.5 999.0h0.9M155.0 1012.8h0.9M150.4 1014.1h0.9M158.9 1013.8h0.9M146.9 1015.0h0.9M145.9 999.8h0.9M146.7 1007.0h0.9M146.1 1018.9h0.9M138.2 999.4h0.9M141.9 1011.3h0.9M159.4 1012.6h0.9M157.5 1003.6h0.9M152.8 1009.5h0.9M133.0 1005.5h0.9M151.2 1012.6h0.9M150.5 1001.9h0.9M154.3 1007.6h0.9M146.2 998.0h0.9M139.2 1012.0h0.9M149.1 1010.7h0.9M140.0 1010.9h0.9M154.1 997.7h0.9M154.0 999.6h0.9M154.8 1005.0h0.9M151.5 999.9h0.9M153.9 1011.6h0.9M156.0 1016.4h0.9M153.6 1007.7h0.9M148.8 1007.7h0.9M144.1 1008.0h0.9M145.6 1003.9h0.9M152.0 1012.0h0.9M153.1 1004.9h0.9M153.3 1005.8h0.9M151.4 1007.4h0.9M139.5 1016.2h0.9M151.3 1018.2h0.9M157.7 1008.5h0.9M149.0 1006.5h0.9M158.8 1000.1h0.9M145.9 1003.1h0.9M147.7 1002.8h0.9M148.6 1009.1h0.9M143.2 1013.0h0.9M147.8 1007.5h0.9M144.4 1013.6h0.9M159.7 1007.9h0.9M150.5 999.0h0.9M161.0 1007.6h0.9M152.6 1007.9h0.9M137.3 1003.1h0.9M144.4 1005.9h0.9M162.7 1011.7h0.9M148.8 1002.8h0.9M154.1 1004.4h0.9M140.3 1009.3h0.9M152.0 1008.3h0.9M144.1 1008.6h0.9M151.6 997.0h0.9M158.4 1009.9h0.9M152.9 1005.1h0.9M141.4 1009.4h0.9M157.8 1007.2h0.9M140.5 1010.4h0.9M153.1 1009.0h0.9M148.9 1013.0h0.9M148.7 1017.2h0.9M146.8 997.6h0.9M150.5 1010.9h0.9M161.7 1000.7h0.9M148.3 1010.7h0.9M142.1 1006.3h0.9M142.1 1019.8h0.9M142.7 1002.5h0.9M148.5 1002.8h0.9M151.2 1009.6h0.9M155.6 1010.5h0.9M150.1 1008.0h0.9M142.1 1006.0h0.9M141.8 1008.4h0.9M155.0 1012.3h0.9M158.7 1008.5h0.9M147.7 1014.5h0.9M140.8 1011.5h0.9M146.0 1006.5h0.9M153.8 1014.2h0.9M141.9 1005.3h0.9M152.9 998.6h0.9M145.3 1008.8h0.9M144.4 1019.9h0.9M160.9 1012.6h0.9M143.0 1008.2h0.9M143.4 1007.8h0.9M145.1 1004.9h0.9M149.5 1011.6h0.9M144.3 1016.2h0.9M146.8 1008.6h0.9M145.3 999.5h0.9M154.1 1012.7h0.9M149.1 1007.4h0.9M151.5 1004.6h0.9M140.3 1017.1h0.9M153.1 1011.8h0.9M153.2 1007.2h0.9M140.1 1006.9h0.9M151.2 1004.4h0.9M155.5 1011.6h0.9M153.1 1010.8h0.9M146.0 1007.7h0.9M151.8 996.8h0.9M153.7 1016.3h0.9M151.3 1003.8h0.9M148.8 1015.5h0.9M153.5 1008.6h0.9M162.2 1013.6h0.9M147.0 1016.3h0.9M147.7 1010.6h0.9M144.6 1003.8h0.9M155.1 1008.8h0.9M150.0 1002.3h0.9M146.5 1006.5h0.9M153.3 1000.5h0.9M147.4 1012.6h0.9M151.9 1004.9h0.9M152.8 1008.1h0.9M147.7 1015.5h0.9M139.9 1003.6h0.9M156.4 1013.7h0.9M152.2 1004.6h0.9M150.9 1011.3h0.9M153.3 1016.2h0.9M139.5 1008.5h0.9M157.4 1008.7h0.9M155.4 1011.6h0.9M159.1 1013.2h0.9M156.1 1000.4h0.9M141.2 1009.8h0.9M146.7 1012.1h0.9M150.1 1004.2h0.9M150.4 1004.8h0.9M145.1 1009.9h0.9M152.4 1014.7h0.9M152.1 1009.5h0.9M150.8 1006.2h0.9M152.8 997.1h0.9M153.9 1019.6h0.9M156.9 1002.7h0.9M154.3 1010.0h0.9M159.2 1007.6h0.9M143.6 1000.9h0.9M154.8 1016.9h0.9M143.4 1008.5h0.9M166.9 1006.8h0.9M150.9 1014.3h0.9M141.9 1008.2h0.9M142.9 1006.6h0.9M152.3 1001.3h0.9M151.5 1014.3h0.9M150.2 1008.2h0.9M144.3 1007.2h0.9M156.3 1010.7h0.9M160.2 1002.4h0.9M145.5 1009.2h0.9M152.1 1004.9h0.9M147.0 1005.2h0.9M153.1 1005.3h0.9M144.9 1014.8h0.9M153.0 1004.3h0.9M135.2 1006.4h0.9M144.5 1003.4h0.9M153.7 1003.6h0.9M152.4 1003.7h0.9M153.7 1004.9h0.9M160.6 1006.0h0.9M148.5 1011.4h0.9M150.4 1005.7h0.9M146.1 1006.7h0.9M140.3 1007.1h0.9M154.9 1009.5h0.9M149.1 1018.0h0.9M148.4 1004.1h0.9M148.0 1006.6h0.9M158.1 1011.0h0.9M143.9 1008.5h0.9M149.6 1015.2h0.9M153.6 1006.3h0.9M156.1 1012.8h0.9M153.2 1009.9h0.9M151.8 1009.0h0.9M149.4 1004.8h0.9M153.9 1006.0h0.9M144.1 1015.2h0.9M149.3 1005.4h0.9M146.2 1008.1h0.9M149.7 1005.0h0.9M158.5 1005.3h0.9M144.6 1016.8h0.9M154.6 1010.4h0.9M151.2 1008.0h0.9M148.2 1003.8h0.9M140.6 1013.5h0.9M145.0 1000.0h0.9M148.8 994.5h0.9M145.2 1013.0h0.9M146.9 1005.1h0.9M162.0 1012.1h0.9M154.2 1007.7h0.9M149.6 1017.8h0.9M152.4 1010.0h0.9M150.4 1013.0h0.9M153.0 1008.8h0.9M145.8 1005.4h0.9M152.8 1009.9h0.9M153.7 1003.4h0.9M134.9 1001.0h0.9M146.6 1006.2h0.9M141.8 1011.0h0.9M149.2 1003.4h0.9M155.2 1008.5h0.9M147.9 1007.1h0.9M148.0 1011.7h0.9M136.9 1012.2h0.9M154.1 1009.7h0.9M164.9 1009.3h0.9M152.7 1011.5h0.9M154.6 1000.7h0.9M140.7 1002.8h0.9M157.7 1010.5h0.9M134.9 1013.7h0.9M158.0 1012.7h0.9M140.9 1009.2h0.9M154.5 1014.5h0.9M145.0 1016.6h0.9M155.6 1007.1h0.9M146.0 1006.8h0.9M150.3 1001.3h0.9M152.9 1012.6h0.9M153.9 1010.2h0.9M167.3 1009.9h0.9M148.2 1014.0h0.9M150.5 1009.0h0.9M161.7 1019.5h0.9M144.3 1015.4h0.9M146.9 1017.1h0.9M145.9 1021.9h0.9M145.6 1005.6h0.9M149.2 1010.8h0.9M149.6 1016.3h0.9M156.6 1004.6h0.9M153.5 1006.4h0.9M143.4 1003.4h0.9M148.8 1012.1h0.9M149.2 1009.1h0.9M144.9 996.8h0.9M155.1 1019.3h0.9M143.0 1003.0h0.9M155.2 1011.9h0.9M155.8 1014.0h0.9M142.3 1006.7h0.9M148.6 1014.4h0.9M146.3 997.7h0.9M157.8 1004.9h0.9M146.8 1004.8h0.9M143.8 1012.4h0.9M150.7 1008.8h0.9M152.5 1004.0h0.9M143.4 1015.7h0.9M148.3 1004.5h0.9M142.2 1005.2h0.9M136.3 1012.6h0.9M147.4 1015.5h0.9M152.4 1007.2h0.9M143.5 1007.3h0.9M132.4 1013.3h0.9M147.9 1005.1h0.9M161.1 1004.7h0.9M159.0 1012.9h0.9M147.9 1008.3h0.9M159.8 994.7h0.9M155.3 1004.4h0.9M156.3 1009.7h0.9M141.6 1006.9h0.9M141.5 995.3h0.9M140.2 1005.6h0.9M137.4 1002.9h0.9M154.0 1017.5h0.9M156.8 1018.5h0.9M147.4 1012.6h0.9M141.0 1007.5h0.9M131.1 1003.2h0.9M149.2 1012.8h0.9M142.0 1015.8h0.9M154.5 1010.9h0.9M147.1 1009.2h0.9M150.6 1015.9h0.9M144.0 1006.6h0.9M141.5 1011.0h0.9M150.9 1004.0h0.9M158.4 1014.9h0.9M154.3 1011.9h0.9M158.8 1017.4h0.9M152.6 1004.8h0.9M145.5 1004.0h0.9M152.2 1009.9h0.9M148.6 1004.8h0.9M148.1 1014.0h0.9M143.0 1008.1h0.9M152.6 1004.8h0.9M147.2 1010.4h0.9M152.8 1015.0h0.9M147.5 1013.0h0.9M153.3 1009.5h0.9M137.9 999.5h0.9M145.4 1004.1h0.9M153.7 1005.3h0.9M150.8 1007.1h0.9M135.0 1006.7h0.9M144.5 1012.5h0.9M147.4 1009.8h0.9M143.4 1008.3h0.9M150.6 1004.9h0.9M162.0 1012.0h0.9M158.6 1016.8h0.9M142.7 1005.7h0.9M152.7 1013.4h0.9M148.8 1007.7h0.9M149.6 1000.9h0.9M153.0 1003.1h0.9M157.9 1002.8h0.9M143.4 1017.2h0.9M147.5 1013.3h0.9M150.8 1013.9h0.9M157.0 1009.2h0.9M150.4 1010.1h0.9M147.0 1001.7h0.9M145.7 1007.6h0.9M150.3 1007.4h0.9M154.5 1011.3h0.9M149.7 1013.6h0.9M162.1 1001.9h0.9M150.3 1011.8h0.9M146.8 1012.0h0.9M157.0 1012.8h0.9M154.5 1011.4h0.9M158.3 1014.5h0.9M147.9 1010.5h0.9M148.7 1004.6h0.9M148.4 1013.3h0.9M148.4 1014.2h0.9M152.4 1011.6h0.9M144.0 1005.1h0.9M156.0 1012.6h0.9M145.1 1001.8h0.9M143.0 1011.3h0.9M143.6 1018.2h0.9M140.3 1010.4h0.9M147.1 1002.9h0.9M152.8 1012.6h0.9M148.4 1003.2h0.9M153.5 1012.7h0.9M146.7 995.5h0.9M149.9 1004.9h0.9M149.9 1016.0h0.9M148.5 1012.9h0.9M160.0 996.7h0.9M155.9 1001.3h0.9M145.4 1007.3h0.9M146.3 1011.4h0.9M145.8 1006.7h0.9M154.1 1005.0h0.9M134.9 1008.4h0.9M145.6 1000.7h0.9M162.7 1011.3h0.9M148.2 1008.5h0.9M133.1 1013.4h0.9M143.4 1012.5h0.9M135.1 1014.5h0.9M150.4 999.6h0.9M149.8 1012.6h0.9M145.5 1023.1h0.9M142.6 1019.1h0.9M158.9 1001.2h0.9M132.7 1009.0h0.9M161.0 1003.7h0.9M144.4 995.4h0.9M157.2 1009.6h0.9M149.9 1000.2h0.9M141.9 1007.9h0.9M154.5 997.0h0.9M155.8 1010.2h0.9M140.6 1011.9h0.9M152.2 995.9h0.9M150.9 1004.4h0.9M151.5 1013.8h0.9M149.8 1005.0h0.9M152.5 1006.5h0.9M151.4 1014.1h0.9M156.2 1006.6h0.9M150.3 1012.1h0.9M147.9 1006.7h0.9M163.1 1020.4h0.9M143.2 1002.2h0.9M146.4 993.3h0.9M164.5 1013.1h0.9M167.1 1014.1h0.9M129.3 1000.5h0.9M157.7 1007.7h0.9M154.1 1011.0h0.9M140.9 997.3h0.9M154.2 1007.9h0.9M158.5 1011.0h0.9M133.7 1003.6h0.9M144.8 1009.7h0.9M136.0 991.7h0.9M154.7 998.2h0.9M152.8 1015.6h0.9M157.3 1014.0h0.9M158.9 997.6h0.9M143.5 1011.9h0.9M162.5 1005.0h0.9M136.0 1005.7h0.9M163.4 1011.2h0.9M134.7 1003.4h0.9M154.1 1015.2h0.9M155.2 1019.4h0.9M150.8 1011.8h0.9M151.9 1015.5h0.9M149.0 1014.7h0.9M155.7 1004.4h0.9M153.8 1008.5h0.9M150.2 1007.5h0.9M151.1 1010.0h0.9M137.1 1001.5h0.9M149.5 1002.4h0.9M134.4 1022.9h0.9M147.4 998.6h0.9M156.9 1009.7h0.9M153.0 1008.5h0.9M146.1 1011.0h0.9M135.9 1010.7h0.9M157.6 1014.0h0.9M155.3 1008.8h0.9M159.8 1013.9h0.9M130.8 1004.0h0.9M136.3 1004.4h0.9M165.8 1003.2h0.9M156.9 1000.5h0.9M134.3 1000.5h0.9M146.9 1003.4h0.9M127.8 1002.7h0.9M149.1 1005.0h0.9M137.4 996.7h0.9M142.2 1013.5h0.9M147.8 1003.4h0.9M139.1 1013.4h0.9M143.8 1005.1h0.9M136.6 1007.5h0.9M154.5 1001.7h0.9M152.6 1005.6h0.9M153.6 1001.2h0.9M142.6 1001.7h0.9M148.6 1004.0h0.9M137.0 1006.7h0.9M157.1 1013.3h0.9M149.1 1006.1h0.9M160.5 1000.8h0.9M170.9 1014.5h0.9M152.4 1010.7h0.9M164.9 997.7h0.9M141.1 1008.7h0.9M146.6 1013.2h0.9M152.1 1001.8h0.9M138.0 1019.4h0.9M141.2 999.4h0.9M141.3 1004.6h0.9M154.1 1006.9h0.9M134.9 1019.4h0.9M162.9 1008.3h0.9M133.6 1011.1h0.9M152.7 1006.9h0.9M158.0 1020.1h0.9M147.2 1007.0h0.9M151.0 1009.5h0.9M147.4 1019.1h0.9M158.7 1016.9h0.9M137.1 1012.1h0.9M145.8 996.0h0.9M162.4 997.5h0.9M138.1 992.1h0.9M138.3 1010.6h0.9M162.4 1015.0h0.9M151.9 1014.6h0.9M145.7 1007.6h0.9M147.7 1001.8h0.9M161.2 997.3h0.9M150.8 1008.9h0.9M134.5 998.8h0.9M152.6 1002.1h0.9M150.3 1004.9h0.9M149.0 1004.5h0.9M147.0 1014.1h0.9M134.6 1001.0h0.9M152.8 1011.0h0.9M155.6 1009.7h0.9M127.6 1015.4h0.9M142.3 1007.2h0.9M137.0 1013.2h0.9M150.4 999.8h0.9M154.0 1015.4h0.9M154.9 994.1h0.9M155.7 1012.3h0.9M170.5 1013.2h0.9M165.5 1009.7h0.9M132.6 994.5h0.9M159.9 1012.2h0.9M150.8 1017.9h0.9M148.3 1009.1h0.9M152.0 1008.5h0.9M144.5 1007.9h0.9M153.3 1017.2h0.9M149.3 1010.9h0.9M154.2 1001.6h0.9M140.1 1008.8h0.9M146.0 1001.0h0.9M143.9 996.0h0.9M159.2 1011.5h0.9M160.1 991.7h0.9M148.7 1009.9h0.9M142.4 1014.2h0.9M148.8 1011.1h0.9M148.7 1006.0h0.9M144.8 1008.3h0.9M161.2 1007.2h0.9M142.2 1003.4h0.9M156.8 1018.2h0.9M154.7 1011.1h0.9M155.8 1000.6h0.9M145.1 1011.6h0.9M152.4 1021.9h0.9M144.6 1014.3h0.9M163.6 1001.5h0.9M147.8 1012.8h0.9M152.8 1010.5h0.9M163.0 1016.9h0.9M140.3 1003.0h0.9M141.0 1006.5h0.9M155.9 1009.5h0.9M157.6 1012.4h0.9M143.7 994.1h0.9M144.4 999.4h0.9M137.0 1005.5h0.9M166.6 1004.4h0.9M156.1 1012.7h0.9M149.5 1001.7h0.9M166.2 1008.0h0.9M167.3 1010.1h0.9M148.2 1008.1h0.9M144.8 1003.2h0.9M154.6 1002.4h0.9M155.5 1000.3h0.9M132.9 1006.0h0.9M159.2 1002.7h0.9M166.8 1016.6h0.9M148.0 1016.7h0.9M146.6 1007.7h0.9M153.1 1007.6h0.9M160.3 1000.0h0.9M139.6 996.7h0.9M146.3 1006.4h0.9M139.0 1012.3h0.9M136.2 1001.0h0.9M163.0 1003.6h0.9M151.1 988.0h0.9M149.4 1008.4h0.9M147.6 1012.7h0.9M146.9 1008.2h0.9M142.4 1006.8h0.9M148.8 1014.8h0.9M142.9 1000.4h0.9M145.6 1003.8h0.9M146.6 1017.0h0.9M145.0 1020.9h0.9M160.0 1008.1h0.9M148.1 1008.8h0.9M141.4 1012.0h0.9M153.6 1005.9h0.9M144.7 1011.7h0.9M137.1 1004.0h0.9M140.2 995.8h0.9M140.0 1012.0h0.9M160.5 1001.5h0.9M144.0 1012.0h0.9M150.5 1003.1h0.9M143.1 1015.5h0.9M132.8 998.0h0.9M149.0 1010.3h0.9M141.2 1001.2h0.9M159.3 1009.2h0.9M138.1 1010.5h0.9M146.7 1016.2h0.9M157.3 1001.4h0.9M142.4 1007.8h0.9M144.7 1011.8h0.9M146.6 1020.4h0.9M139.7 997.8h0.9M144.1 1004.2h0.9M144.2 1003.5h0.9M140.9 1011.1h0.9M148.4 1005.6h0.9M135.9 1011.7h0.9M161.5 1006.8h0.9M149.1 1016.2h0.9M148.4 1013.9h0.9M145.2 1002.4h0.9M161.9 998.1h0.9M155.6 1016.8h0.9M150.5 1008.3h0.9M158.2 1000.8h0.9M148.1 1010.3h0.9M150.4 996.4h0.9M151.2 1004.8h0.9M161.3 1022.4h0.9M135.9 1010.0h0.9M145.7 991.0h0.9M145.0 1020.1h0.9M117.8 1014.4h0.9M123.9 1016.6h0.9M133.6 1016.5h0.9M130.5 1006.9h0.9M123.2 996.7h0.9M123.2 1019.7h0.9M116.4 1013.3h0.9M125.5 1011.4h0.9M122.5 1007.7h0.9M130.7 1021.6h0.9M143.7 1021.5h0.9M123.3 997.1h0.9M129.7 1019.0h0.9M143.5 1006.6h0.9M133.4 1003.4h0.9M142.3 998.1h0.9M123.2 1011.2h0.9M148.1 995.4h0.9M118.9 1019.8h0.9M132.9 996.8h0.9M134.2 999.3h0.9M139.3 1004.5h0.9M147.3 1002.2h0.9M136.0 1005.7h0.9M133.6 1006.1h0.9M140.3 1003.9h0.9M117.3 1005.4h0.9M116.8 1003.3h0.9M143.6 1014.9h0.9M126.1 1006.2h0.9M129.7 1000.0h0.9M137.7 1020.1h0.9M127.9 1020.7h0.9M144.9 1006.2h0.9M148.5 997.2h0.9M145.4 999.1h0.9M124.8 1006.6h0.9M117.2 1002.7h0.9M117.1 1000.0h0.9M143.3 1006.0h0.9" stroke="#000" stroke-width="0.9" fill="none" opacity="0.8"/>
<path d="M117.6 981.0h1.0M113.3 951.1h1.0M106.5 992.2h1.0M105.5 994.5h1.0M159.3 992.9h1.0M101.8 952.5h1.0M130.4 985.5h1.0M106.0 948.0h1.0M101.3 951.2h1.0M163.0 988.5h1.0M149.4 985.8h1.0M119.0 954.1h1.0M109.8 961.6h1.0M110.2 947.6h1.0M119.1 987.2h1.0M134.4 966.6h1.0M125.7 985.9h1.0M133.7 947.2h1.0M123.4 993.7h1.0M121.2 975.6h1.0M102.7 945.1h1.0M146.8 956.9h1.0" stroke="#555" stroke-width="1.0" fill="none" opacity="0.5"/>
<line x1="80.50" y1="890.50" x2="226.50" y2="890.50" stroke="#666" stroke-width="1"/>
<line x1="226.50" y1="890.50" x2="226.50" y2="1023.50" stroke="#666" stroke-width="1"/>
<line x1="80.50" y1="1023.50" x2="226.50" y2="1023.50" stroke="#666" stroke-width="1"/>
<line x1="80.50" y1="890.50" x2="80.50" y2="1023.50" stroke="#555" stroke-width="1"/>
<line x1="115.50" y1="890.50" x2="115.50" y2="1023.50" stroke="#444" stroke-width="1"/>
<line x1="80.50" y1="992.50" x2="226.50" y2="992.50" stroke="#444" stroke-width="1"/>
<path d="M91.1 1023.5v1.4M97.5 1023.5v1.4M102.0 1023.5v1.4M105.6 1023.5v1.4M108.4 1023.5v1.4M110.9 1023.5v1.4M113.0 1023.5v1.4M114.8 1023.5v1.4M116.5 1023.5v2.5M127.4 1023.5v1.4M133.8 1023.5v1.4M138.4 1023.5v1.4M141.9 1023.5v1.4M144.8 1023.5v1.4M147.2 1023.5v1.4M149.3 1023.5v1.4M151.2 1023.5v1.4M152.8 1023.5v2.5M163.8 1023.5v1.4M170.2 1023.5v1.4M174.7 1023.5v1.4M178.2 1023.5v1.4M181.1 1023.5v1.4M183.5 1023.5v1.4M185.6 1023.5v1.4M187.5 1023.5v1.4M189.2 1023.5v2.5M200.1 1023.5v1.4M206.5 1023.5v1.4M211.0 1023.5v1.4M214.6 1023.5v1.4M217.4 1023.5v1.4M219.9 1023.5v1.4M222.0 1023.5v1.4M223.8 1023.5v1.4M225.5 1023.5v2.5M80.5 1016.3h-1.8M80.5 1010.3h-1.8M80.5 1006.0h-1.8M80.5 1002.7h-1.8M80.5 1000.0h-1.8M80.5 997.8h-1.8M80.5 995.8h-1.8M80.5 994.1h-1.8M80.5 992.5h-3.2M80.5 982.3h-1.8M80.5 976.3h-1.8M80.5 972.0h-1.8M80.5 968.7h-1.8M80.5 966.0h-1.8M80.5 963.8h-1.8M80.5 961.8h-1.8M80.5 960.1h-1.8M80.5 958.5h-3.2M80.5 948.3h-1.8M80.5 942.3h-1.8M80.5 938.0h-1.8M80.5 934.7h-1.8M80.5 932.0h-1.8M80.5 929.8h-1.8M80.5 927.8h-1.8M80.5 926.1h-1.8M80.5 924.5h-3.2M80.5 914.3h-1.8M80.5 908.3h-1.8M80.5 904.0h-1.8M80.5 900.7h-1.8M80.5 898.0h-1.8M80.5 895.8h-1.8M80.5 893.8h-1.8M80.5 892.1h-1.8M80.5 890.5h-3.2" stroke="#444" stroke-width="0.6" fill="none"/>
<text class="a" x="68.3" y="994.7" font-size="6.5" text-anchor="middle" fill="#111">10<tspan dy="-2.6" font-size="4.55">0</tspan></text>
<text class="a" x="118.5" y="1034.0" font-size="6.5" text-anchor="middle" fill="#111">10<tspan dy="-2.6" font-size="4.55">0</tspan></text>
<text class="a" x="68.3" y="960.7" font-size="6.5" text-anchor="middle" fill="#111">10<tspan dy="-2.6" font-size="4.55">1</tspan></text>
<text class="a" x="154.8" y="1034.0" font-size="6.5" text-anchor="middle" fill="#111">10<tspan dy="-2.6" font-size="4.55">1</tspan></text>
<text class="a" x="68.3" y="926.7" font-size="6.5" text-anchor="middle" fill="#111">10<tspan dy="-2.6" font-size="4.55">2</tspan></text>
<text class="a" x="191.2" y="1034.0" font-size="6.5" text-anchor="middle" fill="#111">10<tspan dy="-2.6" font-size="4.55">2</tspan></text>
<text class="a" x="68.3" y="892.7" font-size="6.5" text-anchor="middle" fill="#111">10<tspan dy="-2.6" font-size="4.55">3</tspan></text>
<text class="a" x="224.5" y="1034.0" font-size="6.5" text-anchor="middle" fill="#111">10<tspan dy="-2.6" font-size="4.55">3</tspan></text>
<text class="s" x="152.4" y="925.1" font-size="13.5" textLength="32.0" lengthAdjust="spacingAndGlyphs">0.2%</text>
<path d="M350.3 1011.3h0.9M361.6 998.8h0.9M345.9 1002.5h0.9M344.4 1000.2h0.9M341.2 1011.7h0.9M343.8 1005.8h0.9M352.4 1008.8h0.9M349.1 1006.8h0.9M347.9 1004.9h0.9M355.3 1006.7h0.9M343.5 1005.5h0.9M348.8 1004.1h0.9M356.8 1009.7h0.9M351.1 1008.3h0.9M340.9 1004.9h0.9M350.6 1008.3h0.9M344.1 1000.0h0.9M342.2 1010.4h0.9M334.1 1017.2h0.9M331.9 1003.0h0.9M355.8 1006.0h0.9M345.1 997.3h0.9M344.6 1009.4h0.9M342.5 1008.3h0.9M343.5 1004.5h0.9M344.3 1015.1h0.9M354.8 1014.6h0.9M340.4 1001.1h0.9M341.2 1006.0h0.9M352.2 1015.6h0.9M338.3 1012.3h0.9M344.2 1004.9h0.9M352.5 998.3h0.9M352.7 1018.6h0.9M354.3 1002.8h0.9M349.1 1010.3h0.9M341.1 1016.1h0.9M346.6 1013.5h0.9M346.3 1004.7h0.9M344.6 1011.0h0.9M350.3 1014.3h0.9M337.5 998.0h0.9M351.9 1006.3h0.9M354.8 1010.7h0.9M345.9 1008.8h0.9M344.9 1002.4h0.9M348.5 1004.8h0.9M346.6 1006.3h0.9M339.2 1006.6h0.9M349.1 1002.2h0.9M351.3 1004.2h0.9M360.3 994.3h0.9M354.3 1016.5h0.9M348.7 1002.2h0.9M346.6 1018.1h0.9M345.9 1009.9h0.9M347.5 1005.4h0.9M349.2 1015.2h0.9M357.8 1000.3h0.9M345.2 1005.8h0.9M353.7 1004.4h0.9M342.9 1004.6h0.9M347.6 1010.6h0.9M349.9 1001.5h0.9M339.5 1023.1h0.9M347.2 1002.3h0.9M354.9 1001.8h0.9M345.2 1013.7h0.9M350.6 1016.8h0.9M348.1 1011.5h0.9M342.6 1006.8h0.9M356.5 1009.9h0.9M347.0 1002.0h0.9M353.0 1018.4h0.9M349.6 1016.1h0.9M350.2 1003.1h0.9M351.6 1004.3h0.9M348.9 1014.6h0.9M348.2 1008.2h0.9M339.6 1004.2h0.9M347.3 999.3h0.9M352.1 1011.7h0.9M348.5 1003.5h0.9M340.6 1002.5h0.9M348.1 1005.3h0.9M338.0 1007.4h0.9M341.7 1000.3h0.9M345.4 1006.9h0.9M350.1 998.7h0.9M347.1 1010.7h0.9M350.5 1003.1h0.9M342.1 1006.7h0.9M346.6 1010.2h0.9M336.7 1004.4h0.9M346.9 1008.8h0.9M351.8 996.9h0.9M345.5 1004.1h0.9M344.6 1002.2h0.9M345.9 1010.8h0.9M348.2 1008.3h0.9M343.9 1018.5h0.9M338.2 1010.0h0.9M348.9 1011.6h0.9M344.0 1010.0h0.9M341.3 1006.2h0.9M354.2 1007.3h0.9M356.3 1011.0h0.9M342.1 1008.4h0.9M341.7 1008.2h0.9M354.3 1000.7h0.9M352.3 996.2h0.9M341.5 1010.6h0.9M344.7 1016.8h0.9M341.8 999.9h0.9M348.6 998.3h0.9M343.1 1003.8h0.9M339.4 1006.0h0.9M346.0 1005.2h0.9M349.5 1002.2h0.9M346.2 997.3h0.9M339.1 1009.4h0.9M340.9 1010.5h0.9M356.7 1009.5h0.9M344.6 1004.8h0.9M355.0 1000.0h0.9M341.3 1015.1h0.9M351.6 1010.2h0.9M345.3 1003.7h0.9M344.0 1003.6h0.9M343.2 1008.2h0.9M337.8 1018.3h0.9M338.1 1003.3h0.9M347.3 1006.8h0.9M345.7 1004.8h0.9M351.2 1002.9h0.9M350.2 1004.6h0.9M353.9 1012.9h0.9M352.9 1019.5h0.9M346.6 1004.9h0.9M347.5 1000.2h0.9M348.5 1005.2h0.9M356.0 994.4h0.9M349.7 1004.3h0.9M348.1 1019.8h0.9M338.0 1007.4h0.9M340.5 1008.4h0.9M336.1 1008.3h0.9M350.6 1003.3h0.9M352.6 1012.0h0.9M345.8 1015.7h0.9M347.1 1008.4h0.9M349.0 1006.5h0.9M336.5 1010.2h0.9M347.5 1000.7h0.9M363.7 1004.2h0.9M348.6 1015.6h0.9M359.5 1007.2h0.9M350.2 1008.7h0.9M342.3 1008.5h0.9M341.3 1012.8h0.9M357.5 1002.6h0.9M348.5 1003.9h0.9M356.8 1004.7h0.9M345.8 1009.8h0.9M354.8 1004.9h0.9M346.4 1000.4h0.9M345.4 1017.6h0.9M353.4 999.9h0.9M351.1 1000.0h0.9M358.3 1007.3h0.9M345.5 1013.6h0.9M344.9 1006.2h0.9M350.2 1012.9h0.9M351.5 1014.1h0.9M335.3 1000.0h0.9M338.7 1004.7h0.9M347.9 1001.2h0.9M351.2 996.6h0.9M345.7 1003.3h0.9M344.1 1009.2h0.9M348.9 1019.9h0.9M350.8 1003.9h0.9M347.1 1007.8h0.9M347.7 1001.4h0.9M342.5 1015.1h0.9M339.3 1002.1h0.9M354.7 1005.4h0.9M340.0 1010.9h0.9M353.9 1001.1h0.9M341.6 1002.1h0.9M355.6 997.7h0.9M339.2 1008.1h0.9M342.0 1008.8h0.9M349.8 1001.2h0.9M354.1 1004.2h0.9M356.2 1011.7h0.9M358.6 1004.3h0.9M354.6 1007.7h0.9M353.3 998.7h0.9M357.7 1012.5h0.9M339.9 1009.5h0.9M353.1 1001.4h0.9M354.6 999.0h0.9M342.5 1006.1h0.9M344.1 995.8h0.9M347.5 1010.3h0.9M347.7 1008.7h0.9M348.2 1004.8h0.9M347.6 1012.9h0.9M354.8 1010.4h0.9M350.7 1018.2h0.9M343.5 1004.4h0.9M351.8 1006.3h0.9M351.0 1005.0h0.9M352.5 1012.4h0.9M351.7 1003.8h0.9M352.9 1010.2h0.9M350.6 1004.7h0.9M355.3 1003.1h0.9M351.5 1011.1h0.9M350.6 1014.0h0.9M354.3 1008.8h0.9M361.6 1008.4h0.9M352.4 1001.2h0.9M346.6 1010.9h0.9M343.8 1003.7h0.9M350.6 1004.6h0.9M343.0 1011.0h0.9M346.9 1000.8h0.9M355.6 1009.8h0.9M343.5 1009.4h0.9M353.4 1007.0h0.9M340.2 992.7h0.9M348.5 1006.7h0.9M348.0 1007.9h0.9M343.5 1004.9h0.9M354.8 1000.3h0.9M343.3 1002.1h0.9M351.8 1017.0h0.9M343.8 1010.3h0.9M340.5 999.9h0.9M356.8 1002.7h0.9M357.4 1000.8h0.9M346.4 1006.1h0.9M351.4 1002.3h0.9M341.3 1002.1h0.9M357.7 996.8h0.9M339.1 1005.5h0.9M340.3 1006.2h0.9M348.4 1007.7h0.9M350.7 1000.3h0.9M350.8 1006.6h0.9M347.5 1002.2h0.9M343.2 1003.7h0.9M358.5 1011.5h0.9M344.2 999.9h0.9M344.6 1009.3h0.9M349.9 1015.6h0.9M347.4 1014.7h0.9M345.3 1006.9h0.9M354.7 1003.0h0.9M362.6 1005.1h0.9M357.9 1003.1h0.9M346.4 1003.9h0.9M348.7 1011.7h0.9M355.1 1011.5h0.9M348.8 1001.7h0.9M342.2 1022.0h0.9M339.8 1012.3h0.9M343.5 1005.7h0.9M353.1 1001.8h0.9M343.0 1004.8h0.9M338.5 1006.0h0.9M351.6 1009.1h0.9M353.4 1008.9h0.9M344.7 1006.0h0.9M343.9 1003.2h0.9M344.5 1015.5h0.9M350.2 1007.9h0.9M335.8 1007.5h0.9M342.1 1006.7h0.9M338.6 1021.1h0.9M345.6 1005.8h0.9M338.9 996.8h0.9M350.9 1011.0h0.9M348.7 1007.9h0.9M337.3 1007.3h0.9M339.6 1010.1h0.9M347.3 1003.8h0.9M350.5 995.9h0.9M346.2 1016.4h0.9M343.0 1007.9h0.9M348.7 1000.9h0.9M351.7 1014.1h0.9M348.2 1001.4h0.9M342.6 1008.9h0.9M356.2 1011.9h0.9M351.3 1013.9h0.9M352.4 1019.1h0.9M349.4 1011.5h0.9M352.5 1009.0h0.9M336.5 1011.8h0.9M359.2 1010.5h0.9M342.1 1015.9h0.9M337.9 1013.1h0.9M336.9 1015.2h0.9M353.0 1010.7h0.9M353.2 1003.4h0.9M340.4 1016.1h0.9M345.0 1011.2h0.9M342.6 1018.1h0.9M345.7 1017.7h0.9M353.2 1002.8h0.9M343.0 1004.9h0.9M337.5 1002.5h0.9M343.6 1011.6h0.9M349.1 1007.6h0.9M352.7 1006.6h0.9M347.8 1007.4h0.9M339.0 1011.9h0.9M354.8 1015.7h0.9M344.7 1019.1h0.9M348.4 1013.0h0.9M346.3 1008.6h0.9M349.6 1012.9h0.9M345.2 1010.0h0.9M351.2 1013.2h0.9M351.3 999.5h0.9M357.8 1003.0h0.9M352.2 1003.2h0.9M345.6 1004.7h0.9M335.9 1004.4h0.9M345.6 1017.1h0.9M346.3 1004.7h0.9M350.9 1011.3h0.9M347.2 1010.6h0.9M338.1 1003.2h0.9M359.5 1001.3h0.9M338.3 998.7h0.9M342.9 1017.5h0.9M358.6 1016.2h0.9M364.0 1016.6h0.9M352.9 996.9h0.9M355.6 1005.0h0.9M348.8 1000.6h0.9M347.9 998.3h0.9M358.0 1015.9h0.9M347.3 999.1h0.9M348.4 1004.7h0.9M345.3 1011.9h0.9M352.1 1008.0h0.9M355.0 1011.8h0.9M350.3 1009.1h0.9M348.0 995.3h0.9M338.7 1010.3h0.9M350.1 1011.2h0.9M346.5 1000.0h0.9M354.4 1004.7h0.9M347.2 1003.0h0.9M347.1 1003.4h0.9M342.1 1009.0h0.9M344.9 1008.2h0.9M348.0 1006.8h0.9M345.5 1002.7h0.9M349.9 1012.6h0.9M345.7 1015.9h0.9M348.5 1013.8h0.9M339.6 1007.6h0.9M345.0 998.4h0.9M338.5 1011.2h0.9M359.5 992.5h0.9M345.6 1015.4h0.9M350.7 1004.3h0.9M332.7 1007.8h0.9M356.4 1015.0h0.9M338.4 1009.3h0.9M349.9 1000.7h0.9M338.5 1003.0h0.9M352.8 1001.2h0.9M346.3 1006.2h0.9M352.6 1018.8h0.9M349.4 1012.9h0.9M362.2 994.2h0.9M357.6 1009.0h0.9M357.4 1014.1h0.9M352.3 1005.8h0.9M345.3 1007.0h0.9M345.4 1011.5h0.9M350.4 1014.1h0.9M349.0 1007.3h0.9M354.0 1010.8h0.9M338.9 1014.2h0.9M346.1 1002.3h0.9M344.6 1002.5h0.9M346.5 1002.1h0.9M340.7 1004.5h0.9M352.3 1007.6h0.9M347.9 1009.8h0.9M349.5 1005.4h0.9M351.5 1011.2h0.9M334.3 1003.9h0.9M347.2 1015.4h0.9M349.7 995.6h0.9M348.9 1008.9h0.9M347.8 1007.9h0.9M352.6 1012.1h0.9M337.5 1001.1h0.9M348.8 998.4h0.9M358.9 1003.5h0.9M348.0 1013.2h0.9M343.3 1002.1h0.9M350.2 1001.9h0.9M351.8 1009.7h0.9M351.4 1007.2h0.9M343.5 1001.7h0.9M336.7 997.8h0.9M344.3 1011.8h0.9M353.0 998.5h0.9M348.8 1005.3h0.9M348.8 1003.9h0.9M345.8 1016.0h0.9M343.7 1002.2h0.9M354.3 1010.6h0.9M348.4 1018.9h0.9M351.8 1005.3h0.9M352.4 1005.6h0.9M345.0 1012.8h0.9M339.7 1010.0h0.9M344.7 1003.8h0.9M347.7 1001.4h0.9M351.1 1002.2h0.9M345.7 1006.1h0.9M347.7 1017.0h0.9M339.7 1006.3h0.9M351.6 1022.9h0.9M347.6 1013.1h0.9M351.2 1003.1h0.9M349.7 1013.9h0.9M350.6 1006.2h0.9M347.7 1000.7h0.9M340.7 1002.4h0.9M357.0 1003.6h0.9M354.0 1003.7h0.9M355.2 1002.4h0.9M339.4 1008.9h0.9M351.8 1003.8h0.9M346.9 1003.3h0.9M341.7 1012.5h0.9M355.9 1009.9h0.9M352.0 1007.2h0.9M347.1 1002.7h0.9M350.7 1008.9h0.9M352.6 1009.9h0.9M341.3 999.1h0.9M346.1 1007.9h0.9M338.3 1007.3h0.9M338.4 1008.5h0.9M339.0 1005.3h0.9M348.0 1005.1h0.9M348.2 1006.1h0.9M337.5 1003.0h0.9M346.3 1006.7h0.9M339.1 1012.6h0.9M351.8 1000.5h0.9M348.1 1002.6h0.9M342.0 1001.5h0.9M356.7 1006.7h0.9M353.6 1004.6h0.9M342.2 1009.9h0.9M354.9 1019.8h0.9M344.2 1008.0h0.9M339.3 1004.4h0.9M354.3 1011.4h0.9M344.0 999.5h0.9M346.3 1019.7h0.9M339.1 1008.3h0.9M340.5 1004.2h0.9M349.0 1002.1h0.9M346.4 1005.9h0.9M344.9 1007.6h0.9M336.0 1008.8h0.9M357.8 1006.5h0.9M337.6 1010.9h0.9M343.6 1005.1h0.9M345.5 1013.8h0.9M343.9 1003.8h0.9M349.8 1003.8h0.9M346.4 1011.7h0.9M347.7 1010.4h0.9M348.0 1015.8h0.9M348.1 1008.8h0.9M344.6 1011.6h0.9M336.1 1000.6h0.9M356.3 1005.8h0.9M350.5 1015.8h0.9M342.5 1012.1h0.9M340.7 1004.9h0.9M354.6 1006.6h0.9M341.3 1004.5h0.9M351.4 1012.4h0.9M353.2 993.8h0.9M337.8 1003.9h0.9M353.0 1001.6h0.9M337.8 986.8h0.9M336.9 1012.7h0.9M356.0 1006.7h0.9M346.4 1005.9h0.9M351.7 1010.7h0.9M351.4 1003.0h0.9M352.6 1018.2h0.9M351.7 1012.2h0.9M345.8 1005.5h0.9M360.0 1007.3h0.9M346.1 1003.8h0.9M351.8 1015.6h0.9M342.1 996.0h0.9M343.9 1009.1h0.9M342.8 1005.9h0.9M354.0 1012.7h0.9M340.3 1009.1h0.9M346.0 1009.4h0.9M347.7 1010.2h0.9M341.3 1009.6h0.9M337.1 1004.3h0.9M340.8 1004.5h0.9M349.3 1013.9h0.9M343.8 1014.6h0.9M344.7 1006.5h0.9M339.3 1005.0h0.9M361.2 1009.4h0.9M351.3 1011.1h0.9M337.2 1004.0h0.9M349.0 1000.1h0.9M353.2 1006.1h0.9M342.2 1003.6h0.9M354.3 1009.4h0.9M353.7 997.3h0.9M354.7 1007.0h0.9M349.7 1015.0h0.9M340.0 1005.5h0.9M351.6 1010.2h0.9M351.3 999.3h0.9M349.4 1007.6h0.9M351.6 999.7h0.9M344.9 1007.0h0.9M357.4 1008.0h0.9M338.8 1001.2h0.9M345.9 992.2h0.9M345.2 1014.1h0.9M350.2 996.7h0.9M343.5 1013.6h0.9M339.1 1004.5h0.9M340.1 1002.2h0.9M341.2 990.5h0.9M352.9 1009.4h0.9M344.8 1009.1h0.9M345.8 1005.6h0.9M348.4 1011.2h0.9M350.5 1007.0h0.9M356.9 1007.2h0.9M338.8 1015.3h0.9M343.8 1001.6h0.9M347.8 1007.9h0.9M346.4 999.8h0.9M345.6 1010.0h0.9M357.0 1009.9h0.9M354.5 1015.5h0.9M352.9 1011.9h0.9M352.3 1010.7h0.9M340.7 998.7h0.9M342.6 1010.3h0.9M355.0 1005.9h0.9M344.6 1015.2h0.9M353.6 1008.6h0.9M346.3 996.9h0.9M354.5 1009.4h0.9M346.5 1007.6h0.9M345.3 1010.1h0.9M346.9 1006.1h0.9M351.6 999.7h0.9M347.3 1004.0h0.9M331.8 990.0h0.9M353.7 1019.0h0.9M350.0 1014.0h0.9M353.8 1007.4h0.9M347.1 1016.4h0.9M349.3 1011.3h0.9M335.9 1007.8h0.9M354.2 1003.4h0.9M344.3 1009.1h0.9M350.6 1001.4h0.9M347.6 1010.9h0.9M338.9 1011.7h0.9M336.0 1012.6h0.9M351.2 1014.7h0.9M333.7 1007.5h0.9M345.2 1008.0h0.9M341.6 1014.3h0.9M346.0 1006.8h0.9M340.1 1004.6h0.9M335.4 1005.4h0.9M342.4 1007.5h0.9M336.0 1005.7h0.9M350.5 1005.2h0.9M346.2 1002.0h0.9M344.0 1008.0h0.9M343.9 1011.7h0.9M339.4 1005.1h0.9M350.2 1013.2h0.9M336.2 1009.5h0.9M344.2 1007.0h0.9M347.3 1006.4h0.9M349.8 1006.0h0.9M352.1 1010.4h0.9M336.0 1010.1h0.9M346.6 996.4h0.9M338.0 1002.2h0.9M351.6 1009.3h0.9M346.7 999.4h0.9M347.9 1007.4h0.9M349.0 1010.5h0.9M348.4 1004.8h0.9M347.2 991.6h0.9M351.6 1010.6h0.9M348.3 1002.3h0.9M348.0 1004.7h0.9M347.3 1012.7h0.9M350.3 1007.1h0.9M347.7 1007.7h0.9M346.2 1005.0h0.9M350.4 1004.5h0.9M347.2 1009.4h0.9M346.0 1008.1h0.9M355.3 1009.7h0.9M347.8 1004.7h0.9M342.1 1007.8h0.9M348.1 1014.0h0.9M341.2 1013.9h0.9M346.0 1008.1h0.9M352.5 1011.6h0.9M349.7 1003.3h0.9M346.9 1006.1h0.9M353.9 1002.5h0.9M354.5 1008.1h0.9M343.4 1008.0h0.9M349.6 1001.2h0.9M354.3 1006.4h0.9M353.2 1004.9h0.9M343.5 1011.2h0.9M350.9 1007.4h0.9M338.0 1012.8h0.9M351.9 998.9h0.9M338.0 1006.0h0.9M350.0 1008.1h0.9M338.6 1008.7h0.9M349.6 1010.2h0.9M345.9 1003.5h0.9M342.3 1012.1h0.9M348.4 1007.7h0.9M349.3 1011.2h0.9M349.5 1012.7h0.9M339.0 1013.4h0.9M352.0 1004.2h0.9M350.9 1003.4h0.9M349.1 1004.9h0.9M330.4 1011.5h0.9M339.4 1011.7h0.9M345.9 1016.8h0.9M337.8 1009.7h0.9M342.2 1001.0h0.9M342.1 1003.5h0.9M349.6 1010.8h0.9M357.4 994.6h0.9M334.9 999.4h0.9M348.4 1005.1h0.9M352.9 1009.7h0.9M343.5 1004.0h0.9M357.9 1002.1h0.9M340.5 1002.1h0.9M349.4 1008.9h0.9M351.4 999.3h0.9M348.4 1002.1h0.9M347.7 998.7h0.9M341.6 1005.4h0.9M347.1 994.9h0.9M349.2 1003.4h0.9M347.6 1010.8h0.9M355.9 1013.5h0.9M353.7 1012.9h0.9M338.6 1004.1h0.9M346.6 1007.2h0.9M354.6 1010.5h0.9M351.6 1009.4h0.9M337.6 1014.4h0.9M349.0 1006.9h0.9M338.9 998.2h0.9M351.0 1012.0h0.9M338.7 998.0h0.9M348.6 1003.3h0.9M354.6 1010.1h0.9M347.6 992.9h0.9M357.1 1005.8h0.9M340.2 1009.3h0.9M344.5 1010.7h0.9M357.7 1001.1h0.9M353.5 1002.3h0.9M349.1 1010.4h0.9M358.2 1007.9h0.9M349.8 1005.6h0.9M344.3 1004.2h0.9M336.9 997.5h0.9M343.6 1010.8h0.9M347.8 1015.3h0.9M338.5 1004.6h0.9M345.9 1014.1h0.9M341.6 1010.1h0.9M354.1 1013.5h0.9M344.9 1006.6h0.9M353.2 1006.2h0.9M351.2 1007.7h0.9M353.5 1009.8h0.9M350.1 1005.5h0.9M350.7 1006.6h0.9M366.0 1009.6h0.9M348.1 1005.8h0.9M335.2 1007.2h0.9M349.9 1009.8h0.9M346.2 1013.9h0.9M350.0 1003.9h0.9M340.8 1013.9h0.9M344.7 1004.3h0.9M340.0 1003.7h0.9M351.3 1010.4h0.9M346.7 1011.8h0.9M353.4 1011.9h0.9M335.9 1007.2h0.9M344.5 1017.2h0.9M357.1 1009.6h0.9M341.7 1013.2h0.9M346.3 1004.3h0.9M354.2 1008.7h0.9M347.5 1003.4h0.9M342.7 1017.3h0.9M343.0 999.2h0.9M355.8 1005.2h0.9M346.4 1007.7h0.9M360.6 1000.2h0.9M349.1 1008.9h0.9M349.5 1009.5h0.9M349.1 1021.1h0.9M349.4 1014.6h0.9M347.3 1003.4h0.9M345.8 998.3h0.9M360.8 999.6h0.9M355.8 1004.8h0.9M345.5 1003.9h0.9M343.7 1002.2h0.9M346.6 1008.5h0.9M333.5 998.1h0.9M348.3 1014.4h0.9M349.1 1000.6h0.9M357.4 1003.0h0.9M345.7 1006.9h0.9M342.1 1018.0h0.9M344.5 1009.0h0.9M342.5 1003.8h0.9M346.2 1007.0h0.9M349.5 1002.2h0.9M353.6 1012.1h0.9M349.7 1005.0h0.9M354.7 1007.5h0.9M351.3 1010.1h0.9M340.1 1008.8h0.9M351.7 1000.5h0.9M355.4 1001.6h0.9M336.4 1011.6h0.9M352.2 1011.4h0.9M345.4 1014.8h0.9M354.4 1013.2h0.9M349.1 1006.0h0.9M346.0 1004.2h0.9M346.0 1017.0h0.9M343.6 1014.1h0.9M346.8 1013.6h0.9M358.7 998.2h0.9M343.4 1005.6h0.9M345.4 1004.9h0.9M348.7 1005.8h0.9M347.9 1007.5h0.9M349.3 993.6h0.9M357.8 1006.8h0.9M352.4 1016.9h0.9M341.2 1009.0h0.9M348.0 1010.3h0.9M337.9 1004.3h0.9M356.2 1004.4h0.9M345.6 1000.9h0.9M347.8 1009.3h0.9M350.1 1018.9h0.9M346.0 1011.8h0.9M339.1 1006.8h0.9M344.1 1008.7h0.9M355.0 1007.2h0.9M350.9 1011.4h0.9M350.1 1010.2h0.9M343.2 1013.0h0.9M347.6 1003.5h0.9M335.6 1019.4h0.9M348.1 1011.4h0.9M353.1 1006.8h0.9M342.0 1011.4h0.9M349.0 1017.2h0.9M346.0 1006.1h0.9M338.5 1004.8h0.9M336.7 994.7h0.9M346.6 1008.1h0.9M354.9 1004.5h0.9M349.9 1007.0h0.9M341.4 1005.8h0.9M346.6 1005.8h0.9M347.9 1009.8h0.9M340.2 1005.3h0.9M350.0 1002.6h0.9M354.2 1002.9h0.9M348.6 1007.3h0.9M346.2 1004.0h0.9M347.4 1007.3h0.9M351.4 994.8h0.9M348.6 1007.9h0.9M342.3 1011.0h0.9M344.5 1008.3h0.9M355.5 1015.2h0.9M342.5 1012.3h0.9M348.2 1022.5h0.9M353.1 1004.1h0.9M349.3 1009.4h0.9M348.1 998.3h0.9M348.0 1002.5h0.9M347.8 1012.3h0.9M352.5 1004.9h0.9M345.5 997.3h0.9M351.6 1010.4h0.9M349.4 1004.3h0.9M337.0 1008.6h0.9M351.7 1014.4h0.9M348.0 1012.3h0.9M338.1 1014.5h0.9M357.6 1003.6h0.9M341.0 1008.7h0.9M352.4 1005.5h0.9M333.4 1012.7h0.9M354.4 1007.3h0.9M352.3 1003.1h0.9M342.2 999.3h0.9M351.4 1002.1h0.9M352.5 1007.9h0.9M344.7 1004.9h0.9M344.6 995.4h0.9M349.3 1005.7h0.9M350.8 1000.4h0.9M344.2 1002.0h0.9M343.6 1007.4h0.9M348.3 999.8h0.9M344.8 1016.7h0.9M354.4 1009.9h0.9M347.4 1004.5h0.9M345.4 1004.0h0.9M338.7 1000.0h0.9M343.9 1014.6h0.9M342.1 998.0h0.9M349.9 1006.6h0.9M345.8 1006.1h0.9M340.6 1013.7h0.9M355.4 1004.3h0.9M348.4 1007.1h0.9M347.9 1008.3h0.9M334.4 1002.9h0.9M349.3 1008.7h0.9M334.8 1011.1h0.9M349.8 1001.1h0.9M346.1 1010.4h0.9M339.1 1010.2h0.9M353.8 1018.2h0.9M356.1 1004.3h0.9M354.7 999.7h0.9M350.5 1010.8h0.9M340.8 1006.7h0.9M343.9 1004.2h0.9M355.6 1008.4h0.9M346.9 1010.1h0.9M346.4 1013.6h0.9M340.5 1003.7h0.9M343.0 1002.3h0.9M344.5 1006.4h0.9M348.6 1006.1h0.9M344.0 1003.2h0.9M355.9 1008.6h0.9M347.7 999.7h0.9M339.4 1006.5h0.9M349.2 1010.4h0.9M346.9 1009.2h0.9M345.6 1004.2h0.9M344.7 1005.5h0.9M350.5 1014.8h0.9M346.2 1008.5h0.9M353.4 997.1h0.9M336.7 1021.6h0.9M347.6 1007.2h0.9M347.2 1004.5h0.9M342.8 1007.9h0.9M341.0 1006.9h0.9M349.0 1004.5h0.9M344.7 1005.7h0.9M351.6 1004.4h0.9M342.9 1010.2h0.9M354.3 1002.2h0.9M354.9 1001.6h0.9M354.6 1012.8h0.9M349.4 1012.2h0.9M350.2 1013.9h0.9M348.9 1011.3h0.9M353.9 1006.1h0.9M334.1 1005.1h0.9M342.4 1012.0h0.9M355.7 1002.4h0.9M351.0 1001.7h0.9M350.6 1010.5h0.9M345.5 1008.0h0.9M350.3 1013.8h0.9M350.4 1002.4h0.9M338.9 1004.0h0.9M340.2 999.9h0.9M357.3 1011.1h0.9M340.2 1006.8h0.9M349.4 1003.3h0.9M339.9 1006.6h0.9M349.5 1013.1h0.9M340.5 1002.8h0.9M351.0 1008.1h0.9M338.9 1007.2h0.9M344.6 1010.9h0.9M353.0 1009.0h0.9M347.4 1006.9h0.9M348.3 1006.4h0.9M341.1 1004.6h0.9M347.7 1010.7h0.9M350.4 1014.4h0.9M341.0 999.0h0.9M345.4 1010.5h0.9M333.1 1006.2h0.9M354.5 997.9h0.9M339.2 997.5h0.9M341.8 1022.7h0.9M335.7 1003.7h0.9M345.3 1008.1h0.9M353.5 1014.4h0.9M340.8 1009.1h0.9M344.7 1002.1h0.9M350.2 999.2h0.9M340.6 1009.1h0.9M339.9 1005.3h0.9M345.3 1008.2h0.9M335.3 997.9h0.9M351.1 1002.9h0.9M344.6 1014.5h0.9M347.7 1010.9h0.9M343.3 1002.2h0.9M349.7 1006.7h0.9M340.4 998.9h0.9M340.8 1005.3h0.9M343.3 1007.9h0.9M336.8 1001.2h0.9M353.1 1011.7h0.9M351.9 1012.1h0.9M354.2 1007.9h0.9M349.8 1014.8h0.9M355.7 997.8h0.9M348.3 1010.9h0.9M339.1 1008.6h0.9M352.8 1010.0h0.9M353.7 994.9h0.9M343.1 1006.9h0.9M344.9 1020.9h0.9M344.3 1005.3h0.9M356.2 1007.2h0.9M351.6 1010.7h0.9M352.3 1009.4h0.9M355.1 1006.5h0.9M335.4 1004.6h0.9M351.9 1011.6h0.9M342.3 1008.3h0.9M352.5 1004.1h0.9M352.7 1006.1h0.9M353.3 1015.1h0.9M351.4 1016.1h0.9M341.7 1008.9h0.9M338.0 998.6h0.9M353.8 1000.2h0.9M331.5 1002.4h0.9M341.3 1005.8h0.9M350.6 1009.1h0.9M351.5 1011.8h0.9M347.7 1005.9h0.9M352.0 1009.7h0.9M348.3 1003.5h0.9M351.5 995.5h0.9M339.7 1006.4h0.9M345.6 1011.6h0.9M355.8 998.9h0.9M349.2 1007.0h0.9M356.2 1014.0h0.9M355.9 1006.6h0.9M329.5 1013.6h0.9M343.8 1015.0h0.9M351.8 1008.0h0.9M335.6 1003.8h0.9M354.0 1010.1h0.9M343.2 1003.4h0.9M348.6 1000.9h0.9M340.6 1018.7h0.9M342.8 1006.6h0.9M344.4 1003.8h0.9M345.4 1006.7h0.9M351.7 1008.8h0.9M349.1 1007.3h0.9M351.5 1004.5h0.9M354.4 1009.1h0.9M350.9 1004.4h0.9M343.9 1009.3h0.9M350.5 1009.2h0.9M335.2 1006.7h0.9M353.4 1005.4h0.9M347.8 1009.1h0.9M348.7 995.1h0.9M346.3 1008.3h0.9M334.4 1003.0h0.9M352.2 999.0h0.9M338.4 1010.0h0.9M345.9 1002.8h0.9M345.9 990.3h0.9M358.8 1016.0h0.9M344.9 1006.5h0.9M349.0 1010.2h0.9M346.3 1001.7h0.9M349.8 1001.0h0.9M348.2 1005.2h0.9M344.0 1012.3h0.9M344.0 1011.0h0.9M352.1 1012.0h0.9M338.6 1007.8h0.9M348.9 1007.6h0.9M350.6 1007.8h0.9M349.0 1017.3h0.9M349.1 1002.4h0.9M355.7 1014.2h0.9M335.3 1013.6h0.9M342.2 1007.1h0.9M345.5 1007.9h0.9M350.0 1014.7h0.9M343.4 1008.1h0.9M350.8 1006.0h0.9M337.6 1012.4h0.9M343.0 1012.2h0.9M338.3 1016.0h0.9M341.1 1003.9h0.9M350.3 1006.7h0.9M344.7 1013.2h0.9M356.2 1016.9h0.9M348.7 1005.0h0.9M348.5 1006.0h0.9M343.9 1014.8h0.9M332.5 1010.4h0.9M347.7 1009.2h0.9M352.8 1014.1h0.9M347.1 1015.2h0.9M351.5 1005.6h0.9M351.0 1009.4h0.9M348.1 1001.0h0.9M341.4 998.6h0.9M340.7 1006.9h0.9M347.8 1007.6h0.9M346.1 999.8h0.9M350.8 1015.4h0.9M342.3 1007.1h0.9M348.8 1004.6h0.9M351.7 1001.5h0.9M354.0 1001.0h0.9M352.0 1008.5h0.9M341.8 1009.8h0.9M348.8 1002.2h0.9M350.9 999.7h0.9M346.1 1005.1h0.9M334.6 1006.1h0.9M347.9 1006.1h0.9M344.2 1014.4h0.9M349.5 1008.0h0.9M342.5 1001.5h0.9M347.0 1012.6h0.9M351.3 1008.2h0.9M336.2 1017.2h0.9M339.6 1004.2h0.9M347.7 1014.5h0.9M332.5 1002.0h0.9M343.5 1014.2h0.9M352.5 1011.7h0.9M347.6 1007.3h0.9M342.7 1009.0h0.9M354.4 1008.8h0.9M350.0 1000.6h0.9M351.5 1002.7h0.9M337.9 1009.5h0.9M351.9 996.2h0.9M337.0 1010.4h0.9M353.2 1009.5h0.9M352.3 1015.6h0.9M352.8 1010.9h0.9M343.4 1011.2h0.9M349.6 1008.6h0.9M350.5 1007.9h0.9M347.7 999.2h0.9M345.4 1002.2h0.9M347.1 1002.4h0.9M339.5 1010.2h0.9M356.6 1004.8h0.9M341.8 1011.6h0.9M349.8 1009.1h0.9M352.0 1007.7h0.9M354.3 1009.8h0.9M346.1 1009.4h0.9M354.7 1015.2h0.9M347.4 1020.0h0.9M345.6 999.0h0.9M340.1 998.8h0.9M348.8 1004.8h0.9M346.9 1002.3h0.9M348.0 1002.9h0.9M345.7 1012.1h0.9M346.7 1010.9h0.9M339.3 996.4h0.9M350.8 1006.6h0.9M343.8 996.4h0.9M344.5 1006.2h0.9M350.1 999.0h0.9M336.9 1005.8h0.9M345.5 1010.6h0.9M346.6 1007.6h0.9M343.5 999.5h0.9M340.4 1019.6h0.9M347.2 1004.6h0.9M351.1 1006.7h0.9M346.0 1012.7h0.9M347.3 998.1h0.9M333.9 1002.7h0.9M336.6 1008.5h0.9M346.6 1003.9h0.9M338.5 1008.7h0.9M352.3 1005.1h0.9M349.7 1006.6h0.9M343.3 1012.8h0.9M344.3 1004.6h0.9M359.1 1009.7h0.9M346.6 1009.7h0.9M349.1 1010.8h0.9M350.3 1011.5h0.9M352.7 1005.9h0.9M340.4 997.9h0.9M340.4 1017.4h0.9M356.4 997.7h0.9M348.6 1005.8h0.9M355.5 1001.8h0.9M341.0 1015.8h0.9M344.8 1012.5h0.9M352.2 1004.3h0.9M354.4 1000.1h0.9M335.6 1005.1h0.9M355.2 1000.9h0.9M349.5 1017.1h0.9M342.4 1001.9h0.9M338.3 1006.2h0.9M344.8 1016.0h0.9M357.4 1013.2h0.9M350.6 1007.6h0.9M334.7 1009.8h0.9M331.2 1004.9h0.9M352.5 1003.0h0.9M339.1 1007.4h0.9M342.3 1007.6h0.9M347.8 1017.0h0.9M339.2 1014.8h0.9M348.1 999.0h0.9M345.7 1001.2h0.9M339.0 1001.6h0.9M338.1 1009.8h0.9M362.7 1012.4h0.9M344.4 1002.1h0.9M343.1 1006.0h0.9M344.4 996.6h0.9M357.8 1004.8h0.9M346.7 1012.6h0.9M345.2 1002.5h0.9M345.9 995.1h0.9M354.8 1000.7h0.9M344.0 1001.3h0.9M337.4 1000.0h0.9M339.0 990.6h0.9M341.9 1004.2h0.9M349.2 1001.3h0.9M341.9 1008.1h0.9M350.8 1010.9h0.9M345.4 1009.0h0.9M337.3 1012.8h0.9M343.8 994.2h0.9M347.5 1008.8h0.9M349.1 1011.0h0.9M348.8 1010.5h0.9M344.7 1013.2h0.9M357.8 1014.3h0.9M346.3 1008.9h0.9M342.6 1005.4h0.9M346.8 1014.1h0.9M345.2 1012.6h0.9M335.5 1019.8h0.9M338.9 1003.5h0.9M339.5 1003.1h0.9M347.0 1006.5h0.9M341.0 1005.3h0.9M345.8 1010.6h0.9M344.9 1012.6h0.9M347.7 1012.2h0.9M354.8 1005.7h0.9M354.8 1006.3h0.9M342.9 1007.9h0.9M359.5 1010.9h0.9M357.1 1007.5h0.9M348.9 1002.5h0.9M346.5 1012.4h0.9M343.2 1009.0h0.9M339.1 1002.9h0.9M345.9 1015.7h0.9M349.8 1010.9h0.9M344.9 998.5h0.9M343.2 1011.6h0.9M353.8 1001.5h0.9M335.2 1008.2h0.9M346.9 1004.1h0.9M330.3 1010.9h0.9M360.7 1010.3h0.9M350.0 1005.9h0.9M349.0 1011.3h0.9M346.4 1004.3h0.9M345.7 1003.6h0.9M347.7 1003.7h0.9M353.3 1015.2h0.9M353.7 1007.3h0.9M341.4 1010.1h0.9M351.1 1008.6h0.9M342.6 1004.7h0.9M354.9 1006.6h0.9M352.3 1010.2h0.9M343.8 1010.0h0.9M344.4 1012.2h0.9M346.4 1005.8h0.9M344.5 1003.7h0.9M339.0 1003.3h0.9M341.3 1019.1h0.9M350.2 1009.3h0.9M346.1 1005.0h0.9M351.4 1001.0h0.9M344.0 999.4h0.9M347.7 1014.5h0.9M339.0 1001.3h0.9M353.6 1004.2h0.9M352.7 1006.1h0.9M346.0 1004.5h0.9M346.5 1002.9h0.9M348.8 1003.7h0.9M346.1 1010.4h0.9M346.5 999.6h0.9M347.5 1009.7h0.9M344.7 1009.7h0.9M354.0 1005.4h0.9M347.5 1006.2h0.9M348.3 1000.3h0.9M346.2 1010.7h0.9M352.8 1014.4h0.9M343.0 994.5h0.9M348.4 1004.9h0.9M352.9 1001.0h0.9M346.8 1000.8h0.9M346.4 1015.0h0.9M353.3 1009.8h0.9M351.7 1008.9h0.9M345.8 1014.8h0.9M352.9 1008.3h0.9M352.9 1009.2h0.9M353.7 998.6h0.9M341.6 1004.7h0.9M347.9 1004.8h0.9M348.5 1004.0h0.9M349.9 1019.1h0.9M343.2 1005.3h0.9M341.0 1011.1h0.9M338.9 1012.3h0.9M345.4 1003.2h0.9M357.2 1005.2h0.9M351.7 1016.9h0.9M339.4 1004.7h0.9M353.2 1009.6h0.9M349.4 1009.9h0.9M348.0 996.6h0.9M330.8 997.3h0.9M354.8 1010.9h0.9M351.8 1011.5h0.9M347.3 1003.6h0.9M348.9 1006.1h0.9M351.1 1000.2h0.9M353.9 1013.7h0.9M341.0 997.7h0.9M347.4 1004.4h0.9M345.6 1003.4h0.9M338.0 1010.3h0.9M337.9 1008.9h0.9M347.3 1002.1h0.9M346.2 1008.4h0.9M350.0 1008.7h0.9M352.3 997.6h0.9M342.0 996.6h0.9M342.2 1007.1h0.9M349.6 1005.1h0.9M338.5 1010.9h0.9M346.2 1012.8h0.9M337.5 995.1h0.9M354.4 1009.9h0.9M348.2 1012.4h0.9M356.3 1005.5h0.9M342.9 1013.5h0.9M350.2 1002.3h0.9M352.6 1003.4h0.9M353.0 1007.6h0.9M340.7 1007.2h0.9M333.0 1005.1h0.9M345.7 1006.5h0.9M347.9 1009.4h0.9M350.4 1009.6h0.9M344.0 1014.0h0.9M351.3 1009.1h0.9M348.6 1007.6h0.9M330.4 1004.2h0.9M343.3 1000.7h0.9M350.1 1013.6h0.9M349.5 1003.8h0.9M347.9 1008.7h0.9M341.7 1008.7h0.9M357.6 1003.9h0.9M341.2 1005.3h0.9M331.4 1001.7h0.9M347.1 1005.0h0.9M349.4 1004.8h0.9M348.3 1008.6h0.9M338.7 1001.1h0.9M340.3 1000.6h0.9M351.9 1004.1h0.9M354.5 1013.4h0.9M344.3 1001.6h0.9M343.7 1013.2h0.9M334.6 1004.1h0.9M356.3 1004.2h0.9M351.2 1012.8h0.9M348.6 1010.4h0.9M349.9 1009.6h0.9M338.3 1013.4h0.9M354.6 1004.8h0.9M340.5 1008.0h0.9M347.0 1010.1h0.9M347.2 1007.6h0.9M341.2 1013.0h0.9M345.8 1012.7h0.9M348.6 1000.0h0.9M350.0 1010.3h0.9M345.9 1007.5h0.9M344.0 1007.0h0.9M349.3 1004.8h0.9M344.3 1012.0h0.9M341.0 1005.4h0.9M357.6 1012.1h0.9M344.2 1004.0h0.9M338.8 1011.5h0.9M350.0 1018.2h0.9M346.9 1011.0h0.9M350.5 1003.7h0.9M356.8 1013.0h0.9M354.1 1003.7h0.9M346.3 1005.2h0.9M348.1 1010.4h0.9M347.2 999.8h0.9M352.1 1009.4h0.9M345.8 1011.3h0.9M342.8 1006.5h0.9M351.9 1012.8h0.9M349.2 1004.8h0.9M349.5 1007.6h0.9M344.7 1013.9h0.9M338.2 1007.2h0.9M356.6 993.9h0.9M355.2 1011.7h0.9M347.4 996.1h0.9M350.1 1005.5h0.9M346.6 1010.9h0.9M346.9 1003.9h0.9M360.9 1016.3h0.9M345.0 1012.8h0.9M354.6 1009.1h0.9M351.7 1012.6h0.9M348.2 1012.8h0.9M344.8 1014.3h0.9M336.5 1013.8h0.9M339.9 1005.8h0.9M353.4 1016.4h0.9M353.0 1009.5h0.9M351.1 1009.6h0.9M345.8 1008.4h0.9M353.9 1007.7h0.9M352.8 1010.2h0.9M347.1 1008.7h0.9M355.0 1010.8h0.9M346.2 1003.5h0.9M347.7 1004.7h0.9M359.1 1007.5h0.9M344.7 1004.0h0.9M348.3 1003.0h0.9M352.9 997.8h0.9M343.2 1001.6h0.9M342.8 1014.2h0.9M354.9 997.8h0.9M352.8 1014.1h0.9M347.2 1010.8h0.9M346.1 1003.8h0.9M345.5 1005.4h0.9M350.8 1015.2h0.9M340.5 1007.6h0.9M351.9 1016.4h0.9M350.8 1000.2h0.9M349.5 1005.3h0.9M346.1 1005.6h0.9M349.1 1009.7h0.9M333.1 1012.6h0.9M340.7 1004.8h0.9M343.1 1021.4h0.9M353.6 1001.5h0.9M350.6 1007.3h0.9M344.0 1010.2h0.9M349.1 1001.3h0.9M344.6 1006.9h0.9M344.8 1013.2h0.9M346.7 1006.8h0.9M345.7 1016.1h0.9M350.7 1004.4h0.9M348.2 1013.6h0.9M343.6 1007.8h0.9M340.7 1007.6h0.9M346.7 1002.7h0.9M356.8 1006.6h0.9M347.8 1016.2h0.9M347.1 999.2h0.9M350.7 1004.8h0.9M344.3 1009.9h0.9M351.8 1013.7h0.9M356.4 1011.5h0.9M342.1 1014.7h0.9M354.2 1006.7h0.9M354.6 999.4h0.9M351.9 1002.5h0.9M337.3 1005.3h0.9M343.2 1005.2h0.9M352.4 1002.0h0.9M342.9 1000.4h0.9M345.5 1001.1h0.9M345.9 1009.8h0.9M341.9 1012.2h0.9M347.7 1007.2h0.9M341.3 1019.9h0.9M343.9 996.2h0.9M349.6 1012.2h0.9M334.6 1008.5h0.9M341.0 1003.2h0.9M353.7 1005.9h0.9M353.2 1002.2h0.9M337.4 1006.3h0.9M342.1 1005.7h0.9M341.7 1001.6h0.9M343.9 1010.4h0.9M345.8 1011.8h0.9M340.4 1005.2h0.9M338.3 1004.9h0.9M357.5 1007.7h0.9M349.0 1003.4h0.9M348.4 999.1h0.9M369.8 989.5h0.9M354.6 1003.7h0.9M348.1 1004.9h0.9M357.5 1004.4h0.9M350.8 1003.3h0.9M364.3 1005.1h0.9M348.4 1010.8h0.9M360.6 1002.6h0.9M342.4 996.8h0.9M345.7 1009.3h0.9M368.5 998.1h0.9M347.3 999.4h0.9M347.3 1005.3h0.9M354.2 1007.1h0.9M344.8 1010.5h0.9M352.6 1003.3h0.9M357.4 1002.4h0.9M337.5 1000.5h0.9M339.6 1011.3h0.9M354.2 1001.9h0.9M351.1 1011.4h0.9M354.9 1005.2h0.9M341.3 1009.4h0.9M355.6 1005.5h0.9M365.4 1005.9h0.9M359.6 1001.0h0.9M342.5 1015.1h0.9M339.6 1004.6h0.9M355.1 998.1h0.9M349.4 1006.7h0.9M357.3 993.8h0.9M343.6 1000.8h0.9M330.7 1004.4h0.9M349.9 1016.5h0.9M343.0 1008.0h0.9M368.1 998.8h0.9M332.6 1002.2h0.9M349.4 1004.0h0.9M336.4 1001.1h0.9M338.4 1004.6h0.9M359.0 1009.9h0.9M365.9 1009.0h0.9M350.6 1002.9h0.9M331.7 996.5h0.9M355.6 1007.5h0.9M354.6 1000.1h0.9M350.2 1017.6h0.9M332.7 1000.1h0.9M349.8 1000.0h0.9M353.1 1016.0h0.9M348.8 1010.4h0.9M345.1 1006.1h0.9M378.3 999.4h0.9M349.9 1003.4h0.9M345.2 1013.2h0.9M347.4 1017.2h0.9M342.0 1007.9h0.9M361.6 1000.3h0.9M337.9 1001.8h0.9M347.4 1016.7h0.9M344.3 1012.9h0.9M342.3 1007.4h0.9M332.8 994.7h0.9M352.5 1001.8h0.9M354.3 1004.6h0.9M343.0 1009.8h0.9M349.9 999.0h0.9M333.4 999.4h0.9M346.7 1011.4h0.9M351.7 1005.4h0.9M344.4 982.2h0.9M331.9 1019.1h0.9M336.1 1011.1h0.9M354.4 1001.3h0.9M333.6 1014.9h0.9M350.7 1002.9h0.9M331.7 1019.6h0.9M332.7 1004.1h0.9M337.8 1004.7h0.9M341.8 999.4h0.9M357.3 1005.9h0.9M337.2 1001.5h0.9M361.3 1006.8h0.9M353.6 1008.2h0.9M357.4 1003.3h0.9M347.7 1000.6h0.9M351.3 1009.2h0.9M352.0 1003.0h0.9M341.8 1000.3h0.9M356.3 998.1h0.9M331.9 1010.6h0.9M354.0 1013.4h0.9M340.8 1006.9h0.9M362.6 993.1h0.9M353.2 1008.6h0.9M348.5 994.9h0.9M349.5 1011.4h0.9M365.8 1012.5h0.9M340.8 1005.8h0.9M329.4 1005.1h0.9M345.8 1008.3h0.9M352.2 1017.2h0.9M347.7 1009.0h0.9M335.1 1010.2h0.9M344.8 1000.3h0.9M344.5 997.9h0.9M350.4 1008.5h0.9M342.9 1017.7h0.9M335.3 1006.3h0.9M332.3 1010.7h0.9M333.4 1014.2h0.9M345.8 1016.9h0.9M336.0 1013.9h0.9M357.7 1004.7h0.9M340.8 1000.7h0.9M352.7 1005.9h0.9M347.5 995.4h0.9M351.4 998.4h0.9M346.1 1003.0h0.9M343.6 1001.3h0.9M340.2 1004.8h0.9M346.8 1016.9h0.9M351.9 1008.7h0.9M335.5 1005.7h0.9M337.3 1003.8h0.9M360.1 1006.4h0.9M355.3 1006.9h0.9M339.0 990.8h0.9M337.8 1018.0h0.9M368.2 1010.4h0.9M344.1 1005.6h0.9M350.4 1000.8h0.9M365.5 1019.8h0.9M334.5 1013.0h0.9M340.5 1015.4h0.9M350.6 1011.0h0.9M350.0 998.4h0.9M346.3 993.6h0.9M339.5 998.3h0.9M350.5 1012.1h0.9M357.5 1001.7h0.9M341.3 997.4h0.9M338.1 1008.0h0.9M350.2 1002.6h0.9M358.7 1017.0h0.9M347.3 994.3h0.9M339.6 1019.9h0.9M347.5 997.3h0.9M367.0 1003.6h0.9M342.3 1001.7h0.9M347.6 1002.9h0.9M350.6 1005.3h0.9M351.3 1014.2h0.9M361.8 998.9h0.9M357.3 1003.5h0.9M360.7 1003.7h0.9M376.4 1011.6h0.9M357.8 1014.7h0.9M342.7 1007.4h0.9M342.0 1008.0h0.9M364.2 1002.4h0.9M339.1 1005.0h0.9M356.0 1017.7h0.9M361.2 1009.2h0.9M355.7 1010.2h0.9M348.8 1007.6h0.9M329.3 1007.0h0.9M358.5 1016.0h0.9M340.7 984.6h0.9M352.4 1015.7h0.9M351.8 1014.7h0.9M351.6 1010.1h0.9M340.7 1004.5h0.9M350.2 1010.3h0.9M343.3 1020.8h0.9M350.6 996.8h0.9M338.9 1008.2h0.9M350.1 1006.9h0.9M349.0 1017.3h0.9M345.2 1015.8h0.9M349.3 1013.3h0.9M357.8 1000.5h0.9M359.7 990.1h0.9M349.7 1015.8h0.9M354.7 1007.5h0.9M347.1 997.3h0.9M353.2 1010.8h0.9M343.7 1015.3h0.9M347.5 1004.7h0.9M345.9 1003.3h0.9M350.0 1000.4h0.9M337.2 1005.1h0.9M368.4 990.9h0.9M336.4 1005.1h0.9M338.9 1010.6h0.9M345.8 1009.6h0.9M348.3 1006.5h0.9M339.5 1021.0h0.9M347.7 998.7h0.9M334.5 979.8h0.9M358.0 1016.6h0.9M351.8 1002.7h0.9M341.3 1009.4h0.9M358.8 1023.2h0.9M344.9 1006.9h0.9M347.6 1014.3h0.9M341.0 1012.2h0.9M337.4 1014.8h0.9M368.0 996.4h0.9M336.3 1010.0h0.9M352.6 1001.9h0.9M335.5 1006.5h0.9M339.9 1000.7h0.9M348.5 997.0h0.9M350.4 994.8h0.9M344.1 1008.8h0.9M332.1 1018.2h0.9M345.3 992.2h0.9M340.9 999.2h0.9M341.3 998.0h0.9M349.6 1003.5h0.9M328.9 997.8h0.9M339.4 1012.1h0.9M354.1 1006.1h0.9M340.5 991.8h0.9M345.1 1002.5h0.9M344.6 997.1h0.9M339.1 997.2h0.9M367.8 999.6h0.9M363.2 1015.8h0.9M363.1 1013.8h0.9M336.2 1003.9h0.9M339.5 1003.2h0.9M355.7 1013.5h0.9M353.9 1009.2h0.9M369.7 1009.8h0.9M349.9 1009.2h0.9M351.3 1006.6h0.9M351.6 998.9h0.9M347.5 1000.4h0.9M352.4 1003.8h0.9M347.1 1012.6h0.9M349.4 1018.8h0.9M345.0 1010.2h0.9M352.2 1002.1h0.9M349.8 1006.3h0.9M355.2 999.4h0.9M339.0 1009.0h0.9M347.9 996.0h0.9M351.9 1007.7h0.9M348.3 1004.4h0.9M341.2 1011.7h0.9M341.7 1012.3h0.9M341.2 1009.3h0.9M334.9 1013.1h0.9M339.9 1008.5h0.9M349.5 1007.8h0.9M342.4 995.5h0.9M337.6 996.5h0.9M342.0 1010.1h0.9M348.4 1002.8h0.9M339.6 1010.4h0.9M348.8 1009.9h0.9M356.1 1004.2h0.9M348.8 1005.8h0.9M349.8 1007.8h0.9M356.0 1017.3h0.9M338.7 1003.8h0.9M339.8 1006.7h0.9M335.3 1009.5h0.9M347.5 1012.6h0.9M359.8 1009.2h0.9M333.2 1011.1h0.9M337.4 1009.7h0.9M338.7 998.7h0.9M352.0 1003.1h0.9M342.6 1006.7h0.9M351.6 1002.0h0.9M349.1 1004.8h0.9M359.8 1019.1h0.9M343.4 1000.8h0.9M333.4 1020.4h0.9M362.9 1012.2h0.9M339.4 1004.2h0.9M350.2 1021.3h0.9M350.8 1015.4h0.9M354.2 1005.3h0.9M348.1 1004.0h0.9M344.1 1000.3h0.9M345.6 1014.2h0.9M363.7 1011.9h0.9M339.3 1006.2h0.9M344.6 1003.6h0.9M350.7 993.1h0.9M344.0 1003.2h0.9M362.7 1013.5h0.9M346.1 1001.6h0.9M334.2 1005.9h0.9M353.2 1016.2h0.9M335.1 1006.2h0.9M351.7 1010.6h0.9M332.7 1010.6h0.9M346.6 1007.4h0.9M344.1 1014.1h0.9M356.0 1012.8h0.9M336.4 1010.0h0.9M343.4 1011.7h0.9M356.7 1004.6h0.9M334.5 1007.8h0.9M350.0 998.8h0.9M346.8 1003.7h0.9M356.0 1001.3h0.9M341.2 999.8h0.9M349.6 1011.9h0.9M348.0 1013.3h0.9M342.1 999.2h0.9M339.0 1007.4h0.9M366.2 1010.9h0.9M350.2 1008.8h0.9M353.9 1004.4h0.9M360.9 1008.4h0.9M357.1 999.4h0.9M345.3 1004.0h0.9M351.8 995.2h0.9M343.6 1012.5h0.9M356.6 1006.1h0.9M353.2 1012.7h0.9M356.6 1008.6h0.9M337.9 1011.1h0.9M340.2 1003.0h0.9M329.3 1013.5h0.9M338.7 1004.0h0.9" stroke="#000" stroke-width="0.9" fill="none" opacity="0.85"/>
<path d="M375.0 975.3h0.9M377.1 980.2h0.9M381.9 975.2h0.9M383.0 983.4h0.9M370.3 980.1h0.9M372.3 974.7h0.9M363.4 987.4h0.9M367.2 990.9h0.9M380.4 974.9h0.9M376.8 963.0h0.9M377.1 980.7h0.9M383.1 975.5h0.9M368.9 975.6h0.9M373.9 976.9h0.9M370.7 975.3h0.9M369.2 976.9h0.9M380.2 977.1h0.9M375.3 982.2h0.9M386.7 982.6h0.9M373.9 983.5h0.9M383.0 980.6h0.9M394.0 971.1h0.9M374.8 982.7h0.9M373.3 975.3h0.9M372.7 984.2h0.9M376.4 978.0h0.9M381.1 970.4h0.9M390.1 972.9h0.9M368.9 978.0h0.9M376.2 980.5h0.9M374.7 965.0h0.9M364.6 988.4h0.9M388.0 990.1h0.9M381.0 972.1h0.9M386.8 971.8h0.9M393.7 966.6h0.9M373.3 983.2h0.9M374.6 982.8h0.9M378.9 976.5h0.9M372.6 963.5h0.9M379.3 979.9h0.9M371.4 979.5h0.9M387.4 968.7h0.9M373.1 969.5h0.9M379.0 967.3h0.9M372.8 973.4h0.9M377.4 984.7h0.9M373.9 968.0h0.9M384.0 974.8h0.9M374.1 973.3h0.9M379.5 983.2h0.9M367.4 986.7h0.9M372.2 980.0h0.9M362.2 997.3h0.9M373.1 973.1h0.9M359.1 984.6h0.9M381.2 978.5h0.9M369.7 976.5h0.9M369.7 998.4h0.9M371.9 982.2h0.9M370.4 986.1h0.9M377.5 978.8h0.9M379.0 980.5h0.9M375.7 985.1h0.9M383.4 973.1h0.9M374.7 988.5h0.9M366.1 992.5h0.9M382.6 985.2h0.9M368.5 986.2h0.9M377.5 970.3h0.9M359.0 989.6h0.9M381.8 970.2h0.9M363.3 987.9h0.9M389.7 968.1h0.9M370.9 972.3h0.9M378.0 968.9h0.9M394.6 976.2h0.9M379.2 965.6h0.9M382.8 984.1h0.9M383.8 973.4h0.9M371.0 971.7h0.9M377.7 956.4h0.9M384.0 978.0h0.9M384.9 985.2h0.9M374.4 988.3h0.9M377.3 990.8h0.9M384.5 968.3h0.9M381.1 980.8h0.9M378.4 969.6h0.9M386.5 980.8h0.9M387.0 976.7h0.9M372.0 973.8h0.9M379.9 981.7h0.9M375.1 980.0h0.9M373.6 985.0h0.9M383.2 979.5h0.9M373.3 981.8h0.9M379.9 974.4h0.9M385.1 974.1h0.9M376.8 974.6h0.9M387.7 989.3h0.9M380.3 978.6h0.9M367.7 971.1h0.9M372.3 979.2h0.9M375.3 971.4h0.9M377.6 980.3h0.9M383.9 971.3h0.9M367.6 981.0h0.9M364.9 970.2h0.9M376.2 978.0h0.9M374.1 982.7h0.9M379.1 975.7h0.9M372.7 986.2h0.9M380.6 987.3h0.9M381.6 980.9h0.9M379.3 971.0h0.9M377.9 980.2h0.9M382.5 978.7h0.9M381.7 981.1h0.9M379.3 977.3h0.9M375.3 985.1h0.9M385.9 967.4h0.9M385.0 984.6h0.9M379.8 970.5h0.9M388.1 982.9h0.9M377.4 984.6h0.9M374.8 979.8h0.9M375.8 984.3h0.9M380.6 979.2h0.9M384.1 973.4h0.9M375.5 968.0h0.9M378.3 982.3h0.9M370.8 986.1h0.9M377.1 983.5h0.9M379.4 970.3h0.9M373.8 979.9h0.9M385.3 971.6h0.9M387.9 964.7h0.9M376.0 974.4h0.9M379.1 978.6h0.9M380.2 982.2h0.9M378.5 972.0h0.9M381.7 978.9h0.9M361.1 981.1h0.9M378.7 979.8h0.9M364.5 986.7h0.9M378.4 971.6h0.9M368.4 976.1h0.9M385.0 991.2h0.9M381.5 973.3h0.9M366.7 973.2h0.9M381.6 973.4h0.9M376.7 983.0h0.9M383.0 971.5h0.9M383.7 981.7h0.9M371.0 979.8h0.9M369.7 987.2h0.9M370.3 977.9h0.9M375.3 988.2h0.9M380.4 977.0h0.9M380.3 981.0h0.9M374.8 984.3h0.9M373.1 975.5h0.9M376.3 981.2h0.9M373.8 973.7h0.9M368.6 984.3h0.9M375.0 987.9h0.9M375.6 983.6h0.9M385.2 979.6h0.9M381.4 974.8h0.9M378.4 992.6h0.9M378.8 967.0h0.9M381.5 967.8h0.9M390.9 986.8h0.9M391.6 960.7h0.9M378.4 956.4h0.9M391.4 980.9h0.9M370.2 991.3h0.9M367.1 987.0h0.9M384.9 986.8h0.9M377.4 980.5h0.9M379.4 981.6h0.9M376.8 984.4h0.9M384.1 982.3h0.9M373.3 990.4h0.9M372.2 975.9h0.9M380.9 968.5h0.9M378.7 989.3h0.9M380.0 969.5h0.9M379.1 978.4h0.9M373.2 977.4h0.9M384.2 982.9h0.9M377.5 981.2h0.9M376.4 983.6h0.9M373.1 991.3h0.9M383.3 981.0h0.9M370.2 986.3h0.9M379.5 965.2h0.9M372.5 979.6h0.9M368.7 978.5h0.9M385.9 988.4h0.9M383.0 972.1h0.9M370.5 981.0h0.9M377.7 971.1h0.9M377.6 980.6h0.9M375.4 977.1h0.9M386.1 975.2h0.9M379.0 968.5h0.9M380.9 967.5h0.9M378.7 966.2h0.9M378.9 976.4h0.9M377.0 971.0h0.9M381.8 971.7h0.9M368.2 989.1h0.9M380.5 989.5h0.9M372.4 974.7h0.9M378.8 989.9h0.9M385.7 980.2h0.9M381.9 974.2h0.9M374.5 981.0h0.9M374.3 978.2h0.9M375.2 976.4h0.9M370.0 977.7h0.9M368.0 987.6h0.9M358.0 982.4h0.9M374.0 972.7h0.9M380.6 974.9h0.9M390.7 963.9h0.9M387.1 979.1h0.9M380.1 975.7h0.9M365.4 979.7h0.9M377.6 971.0h0.9M384.5 968.9h0.9M370.7 978.2h0.9M379.3 972.6h0.9M376.5 990.5h0.9M381.5 979.7h0.9M370.9 989.3h0.9M377.3 986.8h0.9M374.9 972.8h0.9M385.2 969.7h0.9M377.2 985.0h0.9M380.4 967.1h0.9M379.4 990.9h0.9M383.8 970.4h0.9M389.0 977.5h0.9M369.0 993.5h0.9M372.5 987.5h0.9M383.8 981.7h0.9M377.7 985.4h0.9M370.1 981.8h0.9M364.4 988.3h0.9M369.7 992.8h0.9M369.6 975.2h0.9M374.0 988.8h0.9M380.9 980.9h0.9M386.9 966.5h0.9M383.3 978.3h0.9M365.7 976.7h0.9M383.6 968.8h0.9M378.7 975.9h0.9M370.7 974.7h0.9M367.5 979.2h0.9M395.8 964.5h0.9M373.0 980.0h0.9M378.9 978.1h0.9M368.2 974.9h0.9M372.0 975.6h0.9M374.2 982.6h0.9M377.2 984.5h0.9M372.9 989.2h0.9M374.5 980.1h0.9M377.1 985.7h0.9M363.9 978.3h0.9M373.4 984.8h0.9M380.2 979.5h0.9M388.2 979.1h0.9M385.9 976.9h0.9M381.9 970.6h0.9M384.6 970.2h0.9M383.6 981.2h0.9M370.1 981.7h0.9M376.8 976.6h0.9M372.1 987.6h0.9M370.5 981.7h0.9M377.3 969.4h0.9M380.7 977.3h0.9M374.0 977.2h0.9M372.3 976.3h0.9M368.1 988.2h0.9M382.8 974.2h0.9M368.0 968.8h0.9M368.5 995.3h0.9M370.4 977.3h0.9M374.3 966.3h0.9M373.1 978.7h0.9M380.1 977.5h0.9M380.6 975.9h0.9M369.7 984.1h0.9M378.6 978.5h0.9M367.2 992.6h0.9M380.4 983.7h0.9M376.7 968.0h0.9M369.2 989.2h0.9M393.7 957.2h0.9M386.2 979.5h0.9M378.1 979.0h0.9M383.2 980.9h0.9M384.5 973.9h0.9M378.2 977.3h0.9M370.4 979.3h0.9M372.6 984.5h0.9M377.3 992.5h0.9M378.8 974.5h0.9M385.9 976.4h0.9M373.9 977.5h0.9M384.3 972.4h0.9M376.0 984.9h0.9M390.4 987.1h0.9M378.1 987.0h0.9M378.5 973.8h0.9M374.9 979.9h0.9M380.6 976.1h0.9M375.8 982.0h0.9M378.8 992.7h0.9M382.8 980.5h0.9M388.9 973.1h0.9M388.6 983.1h0.9M390.4 983.2h0.9M375.0 991.5h0.9M381.2 981.8h0.9M374.7 982.6h0.9M358.5 973.4h0.9M382.8 976.5h0.9M372.9 985.1h0.9M384.5 983.3h0.9M370.9 989.1h0.9M379.0 981.0h0.9M385.5 982.9h0.9M384.4 979.5h0.9M371.2 979.4h0.9M383.5 968.1h0.9M374.2 975.3h0.9M371.1 980.3h0.9M376.8 971.7h0.9M379.6 971.7h0.9M385.3 979.0h0.9M370.7 983.0h0.9M367.4 983.2h0.9M365.8 985.5h0.9M385.3 965.6h0.9M374.5 984.6h0.9M380.4 974.0h0.9M384.0 980.4h0.9M368.8 991.3h0.9M367.8 977.8h0.9M377.5 967.0h0.9M376.6 982.0h0.9M384.5 967.3h0.9M378.9 981.2h0.9M372.2 969.5h0.9M372.3 981.0h0.9M375.1 983.0h0.9M372.5 977.3h0.9M373.6 975.3h0.9M364.2 977.8h0.9M374.0 975.9h0.9M366.5 977.3h0.9M378.0 986.1h0.9M371.7 978.2h0.9M371.8 981.5h0.9M372.9 990.3h0.9M380.9 983.5h0.9M376.7 979.1h0.9M388.4 976.9h0.9M389.2 978.8h0.9M379.1 975.4h0.9M374.9 956.3h0.9M385.1 976.5h0.9M372.8 981.4h0.9M363.7 981.1h0.9M369.4 987.6h0.9M386.5 973.9h0.9M388.3 977.8h0.9M381.6 975.4h0.9M378.2 974.9h0.9M381.5 969.3h0.9M376.4 987.1h0.9M379.5 959.4h0.9M371.4 981.6h0.9M384.4 975.9h0.9M383.1 985.3h0.9M368.7 980.4h0.9M383.4 974.2h0.9M381.2 987.2h0.9M373.9 982.0h0.9M372.6 990.5h0.9M387.4 958.7h0.9M378.7 965.3h0.9M365.9 982.2h0.9M399.0 966.3h0.9M374.4 983.7h0.9M378.7 980.9h0.9M385.6 977.5h0.9M368.9 978.8h0.9M375.0 973.4h0.9M373.6 977.4h0.9M380.0 970.0h0.9M380.7 975.1h0.9M372.7 976.1h0.9M384.1 975.9h0.9M373.2 974.5h0.9M378.4 971.8h0.9M374.1 984.8h0.9M384.7 965.9h0.9M378.8 987.9h0.9M383.4 971.6h0.9M378.4 976.0h0.9M372.2 988.0h0.9M381.8 979.1h0.9M383.5 984.3h0.9M378.9 980.0h0.9M379.8 965.4h0.9M375.5 979.0h0.9M360.9 990.1h0.9M378.2 979.5h0.9M375.8 986.0h0.9M382.0 974.8h0.9M366.5 989.9h0.9M386.8 980.9h0.9M383.4 976.0h0.9M376.2 982.1h0.9M376.1 964.4h0.9M366.2 990.9h0.9M368.9 973.5h0.9M382.6 985.7h0.9M374.4 978.2h0.9M369.1 973.6h0.9M367.2 978.4h0.9M379.6 970.9h0.9M366.4 983.6h0.9M379.1 977.7h0.9M382.7 977.1h0.9M384.5 973.5h0.9M374.1 974.2h0.9M378.2 980.4h0.9M373.2 983.5h0.9M381.7 978.5h0.9M369.4 984.5h0.9M368.6 974.0h0.9M376.8 982.0h0.9M377.8 978.6h0.9M380.9 984.6h0.9M373.2 983.5h0.9M378.7 978.7h0.9M387.9 966.8h0.9M380.5 987.2h0.9M392.5 977.1h0.9M377.1 975.6h0.9M366.5 984.0h0.9M385.6 976.7h0.9M373.8 980.3h0.9M378.2 980.1h0.9M388.0 980.9h0.9M387.4 974.3h0.9M383.3 967.9h0.9M373.3 980.8h0.9M372.3 978.1h0.9M375.1 977.4h0.9M382.8 964.9h0.9M392.7 967.7h0.9M354.9 992.4h0.9M380.0 986.2h0.9M370.4 992.3h0.9M372.1 985.8h0.9M378.8 980.5h0.9M400.0 960.2h0.9M386.0 989.6h0.9M376.8 975.7h0.9M381.6 963.9h0.9M380.6 974.9h0.9M377.3 971.7h0.9M370.2 968.7h0.9M368.4 980.2h0.9M371.3 994.4h0.9M366.3 984.3h0.9M370.6 977.2h0.9M379.3 977.3h0.9M385.8 982.1h0.9M378.5 971.3h0.9M371.7 989.3h0.9M377.2 996.3h0.9M388.0 964.6h0.9M377.0 973.1h0.9M378.9 983.7h0.9M372.5 984.3h0.9M370.4 982.5h0.9M380.7 973.8h0.9M380.3 988.8h0.9M375.7 971.6h0.9M379.1 974.0h0.9M376.1 988.3h0.9M376.3 972.1h0.9M384.5 974.3h0.9M381.4 969.4h0.9M380.0 969.7h0.9M375.0 976.1h0.9M370.8 981.1h0.9M369.9 980.3h0.9M375.7 995.2h0.9M375.7 980.4h0.9M375.0 964.6h0.9M380.3 964.2h0.9M379.6 978.4h0.9M377.0 972.8h0.9M390.6 970.8h0.9M377.5 982.6h0.9M375.2 975.5h0.9M387.6 969.6h0.9M374.0 979.7h0.9M367.2 978.9h0.9M371.4 974.8h0.9M358.8 974.8h0.9M382.1 976.8h0.9M387.7 982.5h0.9M368.6 985.8h0.9M379.8 995.4h0.9M379.4 969.9h0.9M381.0 987.6h0.9M377.7 982.5h0.9M376.3 976.2h0.9M374.2 998.9h0.9M373.7 980.6h0.9M376.4 973.2h0.9M378.6 978.9h0.9M383.6 983.6h0.9M377.5 973.1h0.9M381.5 981.9h0.9M369.5 975.5h0.9M380.5 966.1h0.9M376.5 983.7h0.9M377.1 986.6h0.9M382.8 982.4h0.9M368.6 987.3h0.9M369.9 981.9h0.9M371.7 983.0h0.9M373.7 984.8h0.9M377.2 975.6h0.9M370.8 985.2h0.9M388.8 979.6h0.9M359.4 991.7h0.9M376.2 987.6h0.9M383.6 970.8h0.9M375.6 970.8h0.9M382.3 973.4h0.9M384.1 968.4h0.9M378.1 977.0h0.9M383.8 972.8h0.9M375.7 982.0h0.9M372.0 984.4h0.9M384.0 979.0h0.9M384.7 975.4h0.9M367.7 971.7h0.9M379.4 985.6h0.9M378.4 968.9h0.9M374.0 976.7h0.9M371.4 974.9h0.9M389.5 979.6h0.9M383.6 976.8h0.9M375.9 976.5h0.9M391.4 975.2h0.9M383.9 966.7h0.9M375.0 967.5h0.9M378.3 965.2h0.9M373.7 985.1h0.9M378.5 971.6h0.9M380.5 984.1h0.9M375.0 982.9h0.9M385.6 980.0h0.9M378.3 987.8h0.9M372.2 978.3h0.9M377.0 981.3h0.9M378.0 980.9h0.9M364.6 974.5h0.9M368.7 980.2h0.9M381.0 975.5h0.9M368.1 988.4h0.9M376.7 987.7h0.9M383.5 984.6h0.9M376.3 970.7h0.9M381.9 972.4h0.9M369.1 979.2h0.9M383.8 980.3h0.9M374.0 990.0h0.9M367.3 982.4h0.9M378.0 980.7h0.9M393.5 974.7h0.9M378.3 974.3h0.9M378.8 977.6h0.9M384.2 967.5h0.9M385.0 998.0h0.9M370.7 995.0h0.9M363.2 986.1h0.9M372.4 983.5h0.9M369.6 987.1h0.9M382.7 983.1h0.9M370.6 986.7h0.9M381.7 976.2h0.9M372.5 980.1h0.9M381.5 986.4h0.9M367.7 981.5h0.9M372.4 976.4h0.9M365.2 979.8h0.9M383.3 974.3h0.9M388.1 974.5h0.9M378.2 978.1h0.9M368.5 979.2h0.9M394.7 975.9h0.9M377.6 982.6h0.9M388.0 978.2h0.9M381.4 985.9h0.9M370.0 967.3h0.9M371.7 984.4h0.9M379.5 964.0h0.9M371.9 986.8h0.9M376.6 982.4h0.9M376.1 979.2h0.9M367.2 975.8h0.9M371.5 982.8h0.9M377.1 986.7h0.9M355.6 987.9h0.9M365.3 990.9h0.9M368.8 981.9h0.9M365.7 979.4h0.9M365.5 970.2h0.9M367.3 982.2h0.9M371.2 990.0h0.9M372.6 988.9h0.9M371.7 985.2h0.9M379.2 974.5h0.9M379.2 982.8h0.9M385.5 974.8h0.9M380.7 980.7h0.9M370.6 981.8h0.9M366.8 996.3h0.9M389.4 976.9h0.9M380.8 972.7h0.9M368.2 979.5h0.9M380.9 985.5h0.9M366.5 972.5h0.9M383.5 970.0h0.9M377.7 973.6h0.9M383.0 984.6h0.9M369.8 983.2h0.9M379.1 981.7h0.9M386.6 968.1h0.9M373.2 989.5h0.9M384.3 967.8h0.9M375.3 966.2h0.9M382.2 980.0h0.9M377.2 983.5h0.9M375.5 958.6h0.9M370.1 977.7h0.9M374.6 985.8h0.9M373.9 968.9h0.9M374.2 971.7h0.9M378.5 981.6h0.9M393.0 975.0h0.9M361.6 997.0h0.9M379.1 983.5h0.9M372.4 985.4h0.9M376.7 980.7h0.9M378.9 963.2h0.9M372.6 982.2h0.9M359.1 985.1h0.9M389.1 966.0h0.9M372.4 984.2h0.9M371.8 972.8h0.9M366.7 971.3h0.9M370.5 984.9h0.9M373.3 972.9h0.9M378.7 971.1h0.9M369.7 983.6h0.9M381.3 970.1h0.9M379.1 988.6h0.9M371.0 996.2h0.9M376.6 987.7h0.9M369.7 981.2h0.9M372.9 971.5h0.9M379.2 982.0h0.9M372.3 963.5h0.9M376.6 986.8h0.9M380.8 976.3h0.9M371.9 979.1h0.9M377.9 989.2h0.9M380.2 970.7h0.9M383.3 965.4h0.9M378.7 977.9h0.9M372.3 991.4h0.9M380.7 974.1h0.9M382.7 982.6h0.9M374.4 971.8h0.9M383.3 964.2h0.9M368.6 997.9h0.9M375.1 992.5h0.9M379.1 988.3h0.9M368.4 991.0h0.9M367.1 976.2h0.9M382.3 981.8h0.9M370.9 992.3h0.9M372.3 987.9h0.9M384.6 970.7h0.9M365.4 983.5h0.9M358.6 986.6h0.9M359.7 983.3h0.9M368.8 980.6h0.9M375.4 978.7h0.9M380.7 978.1h0.9M385.2 970.8h0.9M374.9 971.7h0.9M373.6 970.5h0.9M371.4 989.0h0.9M384.8 977.5h0.9M371.2 981.5h0.9M383.2 983.0h0.9M386.6 978.8h0.9M381.3 970.5h0.9M375.5 976.9h0.9M377.9 986.9h0.9M374.9 981.3h0.9M376.3 977.4h0.9M381.3 981.3h0.9M377.7 975.6h0.9M359.6 981.1h0.9M375.3 972.5h0.9M371.8 977.3h0.9M378.4 969.0h0.9M374.1 994.5h0.9M389.7 969.1h0.9M373.2 993.7h0.9M362.8 987.5h0.9M378.6 971.7h0.9M368.5 973.7h0.9M376.7 986.6h0.9M392.6 965.7h0.9M381.1 974.4h0.9M386.9 962.2h0.9M377.4 981.9h0.9M366.6 986.8h0.9M370.6 973.0h0.9M391.4 964.8h0.9M377.5 981.4h0.9M370.6 977.5h0.9M402.5 973.5h0.9M385.1 979.8h0.9M379.1 976.7h0.9M379.1 974.7h0.9M389.0 963.4h0.9M374.7 983.5h0.9M378.5 980.2h0.9M372.5 977.7h0.9M373.2 988.4h0.9M380.4 965.7h0.9M378.6 981.4h0.9M365.7 993.5h0.9M392.1 966.1h0.9M371.2 989.2h0.9M372.4 978.0h0.9M373.4 975.8h0.9M380.6 985.1h0.9M375.2 978.1h0.9M378.2 966.2h0.9M372.3 975.9h0.9M383.8 977.6h0.9M383.0 984.8h0.9M379.2 971.9h0.9M386.9 975.7h0.9M371.9 970.3h0.9M378.4 971.0h0.9M363.5 992.4h0.9M371.5 981.2h0.9M375.6 969.3h0.9M367.4 976.4h0.9M369.9 987.5h0.9M372.3 984.9h0.9M373.2 968.9h0.9M374.3 990.2h0.9M374.0 980.6h0.9M377.9 975.2h0.9M377.7 983.1h0.9M382.8 971.4h0.9M385.0 972.5h0.9M365.3 983.0h0.9M372.5 979.9h0.9M380.3 984.3h0.9M376.1 982.9h0.9M365.1 999.0h0.9M380.9 986.6h0.9M386.6 981.0h0.9M368.7 968.2h0.9M372.5 975.6h0.9M376.9 971.2h0.9M382.8 976.4h0.9M379.3 990.2h0.9M391.9 968.4h0.9M369.2 983.8h0.9M372.2 996.2h0.9M366.9 990.8h0.9M369.9 982.0h0.9M375.2 970.5h0.9M379.1 979.1h0.9M375.3 975.2h0.9M362.5 992.3h0.9M374.9 974.6h0.9M372.0 986.7h0.9M374.5 985.7h0.9M364.7 986.6h0.9M374.3 976.6h0.9M384.6 968.4h0.9M386.2 973.8h0.9M376.7 981.6h0.9M371.1 984.9h0.9M376.4 979.3h0.9M377.1 978.0h0.9M369.1 985.3h0.9M379.6 974.8h0.9M380.1 971.4h0.9M377.8 974.2h0.9M371.8 973.9h0.9M383.1 979.5h0.9M392.1 965.7h0.9M374.7 976.5h0.9M382.9 978.3h0.9M370.0 985.7h0.9M369.2 971.1h0.9M374.5 978.4h0.9M383.1 977.6h0.9M369.5 974.8h0.9M369.0 968.3h0.9M385.6 967.6h0.9M376.6 979.3h0.9M375.1 984.0h0.9M381.2 978.9h0.9M378.5 988.9h0.9M366.3 975.6h0.9M370.2 981.2h0.9M371.2 992.4h0.9M363.1 997.7h0.9M371.5 992.0h0.9M374.9 973.7h0.9M368.0 976.2h0.9M376.6 980.7h0.9M361.6 997.2h0.9M380.8 981.6h0.9M383.0 973.8h0.9M380.5 981.2h0.9M365.2 973.7h0.9M367.4 985.5h0.9M385.6 988.5h0.9M384.1 975.7h0.9M366.9 987.3h0.9M382.5 974.7h0.9M372.2 977.5h0.9M378.8 979.8h0.9M378.7 976.0h0.9M364.6 997.0h0.9M386.5 986.6h0.9M373.8 978.3h0.9M388.9 968.2h0.9M390.8 978.5h0.9M362.8 977.5h0.9M361.4 977.1h0.9M375.6 984.0h0.9M373.9 950.0h0.9M386.0 971.4h0.9M374.3 996.5h0.9M394.0 977.0h0.9M392.4 973.2h0.9M371.6 967.7h0.9M381.6 974.9h0.9M370.2 978.2h0.9M369.9 991.1h0.9M382.0 966.8h0.9M381.2 977.9h0.9M376.5 993.8h0.9M371.7 972.7h0.9M374.3 982.4h0.9M377.1 986.5h0.9M367.1 992.7h0.9M369.2 984.9h0.9M375.8 978.3h0.9M385.6 965.8h0.9M385.5 972.8h0.9M372.7 965.6h0.9M378.2 976.6h0.9M380.3 971.6h0.9M386.3 977.2h0.9M393.9 974.8h0.9M373.3 972.9h0.9M383.8 973.1h0.9M378.1 971.8h0.9M391.8 973.8h0.9M373.1 973.7h0.9M376.7 978.3h0.9M377.1 979.9h0.9M386.4 967.6h0.9M373.7 984.3h0.9M385.4 976.3h0.9M383.8 978.4h0.9M374.6 968.6h0.9M378.8 972.7h0.9M369.8 961.4h0.9M392.6 968.4h0.9M378.6 970.6h0.9M375.8 978.8h0.9M370.3 987.9h0.9M374.0 981.9h0.9M367.5 983.7h0.9M374.0 984.2h0.9M378.7 971.2h0.9M387.0 984.4h0.9M384.5 980.5h0.9M367.1 993.8h0.9M377.0 972.5h0.9M374.0 976.1h0.9M373.5 962.6h0.9M384.7 977.0h0.9M365.7 973.8h0.9M386.6 979.8h0.9M376.7 975.5h0.9M380.3 980.9h0.9M368.9 985.7h0.9M381.9 983.8h0.9M368.8 978.1h0.9M377.6 970.0h0.9M372.7 977.8h0.9M384.2 970.3h0.9M369.2 984.0h0.9M380.0 972.6h0.9M382.4 986.8h0.9M375.8 982.8h0.9M391.4 972.9h0.9M373.5 976.7h0.9M389.2 977.4h0.9M376.9 972.8h0.9M373.4 992.9h0.9M365.8 993.1h0.9M374.6 977.8h0.9M369.4 978.8h0.9M379.1 980.4h0.9M369.6 989.3h0.9M362.1 980.3h0.9M388.0 976.1h0.9M378.3 976.1h0.9M371.7 993.7h0.9M381.0 984.8h0.9M375.6 986.6h0.9M384.6 974.9h0.9M384.4 984.3h0.9M376.5 977.3h0.9M376.9 977.5h0.9M388.9 975.5h0.9M377.8 978.4h0.9M375.4 978.1h0.9M391.3 981.6h0.9M381.7 993.1h0.9M379.8 978.5h0.9M384.6 966.8h0.9M376.3 974.3h0.9M372.1 985.2h0.9M374.8 984.4h0.9M375.2 978.8h0.9M378.5 987.8h0.9M370.9 973.8h0.9M366.4 986.6h0.9M391.0 963.7h0.9M369.5 971.9h0.9M376.2 987.9h0.9M369.2 975.3h0.9M381.1 977.4h0.9M381.6 975.6h0.9M375.9 979.6h0.9M379.9 983.0h0.9M377.4 976.4h0.9M382.7 982.0h0.9M373.7 983.0h0.9M384.4 973.4h0.9M369.3 970.2h0.9M381.8 977.7h0.9M371.4 991.4h0.9M370.4 984.2h0.9M366.9 978.8h0.9M358.9 991.7h0.9M367.9 983.7h0.9M374.4 977.2h0.9M379.0 990.4h0.9M379.4 981.1h0.9M369.7 983.6h0.9M384.2 969.7h0.9M378.9 987.1h0.9M373.3 969.4h0.9M382.0 972.9h0.9M381.6 969.9h0.9M399.0 969.0h0.9M374.3 981.5h0.9M383.1 986.1h0.9M385.0 969.9h0.9M375.3 968.8h0.9M375.2 988.6h0.9M378.3 991.6h0.9M383.9 971.6h0.9M375.5 984.8h0.9M384.3 974.0h0.9M390.8 977.6h0.9M368.6 968.5h0.9M371.8 968.3h0.9M371.9 986.8h0.9M377.3 979.9h0.9M378.7 983.1h0.9M373.5 982.7h0.9M375.5 981.6h0.9M380.7 978.2h0.9M375.9 974.8h0.9M395.2 974.2h0.9M377.5 967.5h0.9M378.1 981.6h0.9M377.8 975.1h0.9M384.9 970.8h0.9M385.5 975.4h0.9M364.3 991.2h0.9M372.4 993.7h0.9M387.8 971.1h0.9M375.1 974.9h0.9M374.9 987.1h0.9M387.4 969.0h0.9M376.1 979.5h0.9M374.9 969.7h0.9M374.0 973.8h0.9M373.8 984.4h0.9M376.6 974.6h0.9M384.0 990.3h0.9M363.6 980.5h0.9M382.1 976.8h0.9M378.9 979.8h0.9M384.4 985.8h0.9M375.8 972.7h0.9M384.1 982.3h0.9M388.4 963.9h0.9M361.0 983.0h0.9M382.8 985.7h0.9M390.8 964.5h0.9M390.3 965.2h0.9M389.5 960.6h0.9M394.7 964.4h0.9M386.7 969.0h0.9M400.2 958.5h0.9M392.3 963.2h0.9M394.0 961.3h0.9M390.1 960.5h0.9M398.3 961.5h0.9M389.0 963.2h0.9M389.3 969.5h0.9M391.7 964.0h0.9M393.3 962.2h0.9M395.3 969.7h0.9M392.3 965.1h0.9M394.7 967.8h0.9M391.3 957.0h0.9M391.6 965.3h0.9M395.3 969.5h0.9M396.1 971.7h0.9M386.6 960.7h0.9M392.2 965.4h0.9M393.3 958.6h0.9M390.8 970.3h0.9M394.3 971.3h0.9M398.3 957.2h0.9M390.5 958.6h0.9M389.1 966.9h0.9M392.7 963.3h0.9M388.5 964.3h0.9M396.4 966.5h0.9M389.9 961.9h0.9M395.2 961.6h0.9M397.8 956.9h0.9M394.9 964.9h0.9M394.4 962.2h0.9M397.1 960.0h0.9M395.8 960.9h0.9M401.3 960.3h0.9M395.8 966.9h0.9M391.3 960.1h0.9M392.2 960.3h0.9M387.4 971.6h0.9M396.9 961.9h0.9M390.2 970.4h0.9M393.2 957.8h0.9M401.1 960.8h0.9M391.3 964.6h0.9M389.4 968.7h0.9M391.0 971.1h0.9M395.4 960.5h0.9M388.8 966.3h0.9M393.5 967.2h0.9M390.2 966.3h0.9M391.6 963.4h0.9M404.1 963.7h0.9M390.3 963.2h0.9M390.0 968.8h0.9M387.5 977.3h0.9M401.0 963.2h0.9M399.6 965.7h0.9M393.0 962.0h0.9M396.6 962.5h0.9M396.9 962.7h0.9M392.1 966.1h0.9M384.4 978.7h0.9M387.0 963.0h0.9M397.8 974.7h0.9M390.1 966.6h0.9M400.0 971.3h0.9M390.1 973.0h0.9M398.3 962.3h0.9M390.2 968.7h0.9M396.4 964.0h0.9M394.8 963.4h0.9M397.8 972.6h0.9M388.6 964.6h0.9M397.1 964.6h0.9M398.0 960.1h0.9M389.9 964.6h0.9M387.2 970.4h0.9M398.8 957.6h0.9M387.7 966.8h0.9M394.1 960.3h0.9M388.2 966.6h0.9M393.2 961.9h0.9M385.6 969.6h0.9M382.9 960.8h0.9M395.7 968.1h0.9M393.2 962.0h0.9M388.8 963.5h0.9M386.5 959.2h0.9M390.3 955.6h0.9M392.4 969.9h0.9M395.1 964.1h0.9M403.1 963.5h0.9M395.6 961.3h0.9M394.2 958.3h0.9M395.2 968.7h0.9M397.6 960.2h0.9M394.6 962.8h0.9M393.9 972.0h0.9M392.7 961.5h0.9M391.5 969.8h0.9M395.8 958.9h0.9M393.1 965.3h0.9M391.3 965.1h0.9M397.5 953.9h0.9M388.8 962.1h0.9M396.8 964.9h0.9M390.6 958.7h0.9M396.7 966.1h0.9M388.4 962.0h0.9M389.6 964.5h0.9M385.6 966.4h0.9M392.1 965.1h0.9M382.7 966.1h0.9M395.4 961.1h0.9M390.2 959.2h0.9M400.3 961.3h0.9M392.6 963.6h0.9M389.4 971.4h0.9M391.6 966.8h0.9M399.6 954.4h0.9M393.2 958.6h0.9M388.5 966.4h0.9M400.4 963.4h0.9M391.8 961.3h0.9M402.4 964.6h0.9M386.0 962.1h0.9M393.0 968.5h0.9M398.5 965.7h0.9M389.8 965.5h0.9M392.5 967.3h0.9M399.5 956.7h0.9M392.9 959.2h0.9M391.5 969.6h0.9M392.3 956.7h0.9M394.7 964.0h0.9M397.5 962.1h0.9M386.1 971.4h0.9M395.2 961.2h0.9M392.0 964.6h0.9M390.9 968.1h0.9M393.4 962.8h0.9M391.1 961.8h0.9M390.9 965.0h0.9M383.3 965.6h0.9M390.6 965.5h0.9M391.0 966.6h0.9M390.3 963.2h0.9M394.4 964.1h0.9M390.0 963.3h0.9M395.2 966.6h0.9M398.2 961.3h0.9M395.0 959.4h0.9M382.4 965.0h0.9M399.3 966.6h0.9M387.5 968.6h0.9M400.7 964.2h0.9M396.9 967.3h0.9M398.6 957.8h0.9M395.0 968.8h0.9M393.0 964.0h0.9M392.8 956.2h0.9M399.1 965.3h0.9M397.8 972.0h0.9M387.3 964.4h0.9M389.2 964.4h0.9M393.6 963.5h0.9M381.3 974.3h0.9M393.3 969.5h0.9M396.3 956.9h0.9M385.7 978.9h0.9M390.2 967.4h0.9M389.6 960.9h0.9M390.4 962.6h0.9M399.8 963.8h0.9M392.3 966.1h0.9M390.9 959.3h0.9M401.9 962.8h0.9M386.9 960.5h0.9M396.0 966.3h0.9M390.0 962.8h0.9M393.7 957.4h0.9M393.1 962.5h0.9M382.7 969.5h0.9M394.0 963.0h0.9M396.4 963.9h0.9M386.6 972.7h0.9M386.2 961.3h0.9M391.8 965.5h0.9M393.9 961.3h0.9M391.7 963.4h0.9M398.5 963.0h0.9M386.2 971.6h0.9M386.5 968.9h0.9M389.9 960.4h0.9M395.6 966.5h0.9M405.0 956.9h0.9M388.5 962.1h0.9M400.7 970.0h0.9M398.9 959.4h0.9M402.3 963.0h0.9M394.3 971.0h0.9M394.4 970.2h0.9M393.5 969.1h0.9M393.5 971.6h0.9M390.9 972.9h0.9M402.0 958.1h0.9M397.6 960.9h0.9M394.2 952.9h0.9M388.9 969.9h0.9M400.2 961.6h0.9M392.5 961.8h0.9M386.9 972.8h0.9M376.9 967.8h0.9M398.5 956.6h0.9M401.0 966.4h0.9M393.3 966.0h0.9M400.5 960.2h0.9M396.1 965.2h0.9M389.3 973.5h0.9M392.6 960.9h0.9M397.2 966.1h0.9M396.7 958.6h0.9M382.3 964.2h0.9M401.4 958.9h0.9M391.0 966.7h0.9M386.6 974.4h0.9M390.6 964.1h0.9M392.0 968.2h0.9M396.9 969.8h0.9M393.8 962.6h0.9M399.5 962.8h0.9M394.4 966.0h0.9M395.7 962.8h0.9M395.7 957.9h0.9M392.7 970.0h0.9M392.5 968.6h0.9M394.3 965.5h0.9M396.9 959.2h0.9M388.3 974.5h0.9M394.1 955.2h0.9M397.3 962.9h0.9M398.7 965.4h0.9M395.8 968.8h0.9M392.0 957.6h0.9M395.2 961.8h0.9M397.3 965.7h0.9M391.5 968.8h0.9M394.8 967.5h0.9M390.2 964.3h0.9M390.2 962.9h0.9M391.7 969.3h0.9M389.6 967.4h0.9M394.0 965.9h0.9M392.7 965.7h0.9M387.9 969.2h0.9M393.2 960.7h0.9M393.5 966.3h0.9M396.5 964.1h0.9M391.6 961.1h0.9M395.0 959.5h0.9M394.8 963.3h0.9M397.4 961.2h0.9M399.3 964.0h0.9M391.8 967.7h0.9M393.5 963.8h0.9M388.2 964.0h0.9M394.4 962.9h0.9M393.7 966.0h0.9M396.9 965.7h0.9M386.4 966.9h0.9M398.8 965.0h0.9M400.6 958.5h0.9M401.4 960.4h0.9M398.0 967.3h0.9M393.6 960.4h0.9M398.7 961.3h0.9M392.8 961.3h0.9M388.1 973.0h0.9M384.1 960.8h0.9M395.9 966.2h0.9M390.7 962.1h0.9M395.2 959.2h0.9M395.5 959.7h0.9M400.8 960.6h0.9M401.1 964.6h0.9M398.7 961.5h0.9M402.6 961.0h0.9M396.8 959.5h0.9M387.4 973.7h0.9M385.0 970.0h0.9M393.4 970.1h0.9M395.0 962.4h0.9M395.5 960.3h0.9M396.4 965.7h0.9M399.4 961.1h0.9M386.9 962.3h0.9M388.7 968.0h0.9M384.0 973.0h0.9M399.6 959.9h0.9M397.1 957.3h0.9M386.7 979.2h0.9M397.7 967.3h0.9M394.4 955.0h0.9M393.2 956.4h0.9M395.5 955.0h0.9M392.1 962.2h0.9M391.1 961.7h0.9M388.9 962.4h0.9M399.6 956.8h0.9M390.9 959.4h0.9M390.2 959.6h0.9M398.2 958.1h0.9M386.4 968.6h0.9M396.4 966.5h0.9M388.4 964.4h0.9M347.3 991.1h0.9M348.1 991.4h0.9M363.1 990.1h0.9M383.1 996.3h0.9M332.7 1012.4h0.9M359.5 1009.9h0.9M377.9 1002.6h0.9M396.7 967.9h0.9M366.9 990.3h0.9M359.9 968.9h0.9M370.6 960.7h0.9M389.8 979.0h0.9M380.3 976.4h0.9M360.6 981.9h0.9M402.6 977.0h0.9M370.3 990.8h0.9M370.3 968.1h0.9M365.2 1008.5h0.9M363.4 992.4h0.9M371.0 968.5h0.9M397.6 974.7h0.9M375.1 997.2h0.9M380.0 986.2h0.9M390.4 968.7h0.9M376.6 995.9h0.9M378.9 989.1h0.9M369.2 962.2h0.9M357.8 984.8h0.9M384.8 957.1h0.9M381.1 999.1h0.9M366.1 984.3h0.9M389.7 977.5h0.9M378.4 960.2h0.9M391.9 984.9h0.9M378.2 964.5h0.9M377.6 964.7h0.9M367.9 963.4h0.9M382.5 988.1h0.9M404.9 952.7h0.9M384.2 995.5h0.9M377.0 986.8h0.9M376.0 1000.7h0.9M358.5 1001.9h0.9M350.4 982.4h0.9M376.6 975.7h0.9M389.8 977.6h0.9M357.6 984.5h0.9M362.9 1000.9h0.9M359.3 1010.6h0.9M357.9 999.8h0.9M372.3 1002.8h0.9M370.8 996.2h0.9M390.2 976.2h0.9M368.4 1006.8h0.9M373.5 980.2h0.9M384.8 979.9h0.9M358.0 973.8h0.9M369.8 976.2h0.9M385.3 979.3h0.9M362.2 984.5h0.9M380.2 976.0h0.9M365.5 984.7h0.9M377.6 966.9h0.9M404.7 979.9h0.9M349.8 1009.0h0.9M395.2 991.8h0.9M357.9 1018.7h0.9M363.4 1005.6h0.9M372.9 977.2h0.9M360.4 963.6h0.9M393.3 968.9h0.9M377.1 977.1h0.9M397.3 977.3h0.9M373.1 969.3h0.9M370.4 986.4h0.9M369.1 978.8h0.9M368.9 976.2h0.9M394.3 996.2h0.9M383.9 995.8h0.9M382.0 986.6h0.9M346.5 1000.7h0.9M385.9 971.0h0.9M388.3 963.5h0.9M358.0 982.5h0.9M373.1 988.2h0.9M374.6 978.1h0.9M394.0 975.7h0.9M375.4 970.2h0.9M370.9 975.5h0.9M381.7 997.3h0.9M394.4 960.9h0.9M373.5 989.5h0.9M376.0 989.9h0.9M357.3 988.9h0.9M363.7 985.0h0.9M364.3 1013.7h0.9M370.2 998.7h0.9M369.3 995.5h0.9M373.2 974.9h0.9M374.8 985.6h0.9M376.0 995.8h0.9M362.3 1001.6h0.9M364.3 986.1h0.9M373.6 985.3h0.9M382.3 1001.4h0.9M352.5 984.7h0.9M349.8 974.2h0.9M398.5 956.7h0.9M385.2 967.7h0.9M365.9 962.8h0.9M368.4 990.1h0.9M382.3 990.2h0.9M371.3 1002.7h0.9M375.2 979.7h0.9M367.4 963.4h0.9M375.1 974.7h0.9M371.0 988.7h0.9M360.1 967.4h0.9M393.2 970.0h0.9M379.0 973.3h0.9M382.3 987.3h0.9M335.0 1016.7h0.9M369.9 982.8h0.9M391.4 968.3h0.9M372.8 992.1h0.9M379.6 979.5h0.9M341.7 996.8h0.9M337.8 1014.7h0.9M360.7 980.0h0.9M376.9 984.9h0.9M372.1 980.3h0.9M365.5 995.3h0.9M367.9 988.5h0.9M389.7 976.4h0.9M373.9 981.6h0.9M364.5 978.0h0.9M355.8 1004.1h0.9M377.5 973.6h0.9M357.4 983.6h0.9M358.2 985.8h0.9M354.5 983.4h0.9M350.1 984.9h0.9M352.9 990.7h0.9M385.6 980.7h0.9M382.5 968.8h0.9M366.7 991.3h0.9M379.7 986.6h0.9M367.7 987.2h0.9M377.3 976.0h0.9M363.9 993.6h0.9M356.6 984.4h0.9M379.6 981.9h0.9M367.3 986.1h0.9M372.3 975.0h0.9M392.6 999.9h0.9M375.0 1002.3h0.9M368.3 988.7h0.9M376.4 981.9h0.9M353.1 996.9h0.9M367.4 1002.4h0.9M383.0 969.6h0.9M369.5 957.4h0.9M359.7 994.3h0.9M373.4 964.3h0.9M386.7 1003.2h0.9M364.4 977.7h0.9M373.0 995.8h0.9M370.8 953.6h0.9M382.0 987.8h0.9M357.3 982.0h0.9M371.0 996.0h0.9M382.5 985.4h0.9M384.9 986.0h0.9M385.3 964.6h0.9M368.8 985.1h0.9M369.3 1002.8h0.9M362.7 975.1h0.9M389.7 982.1h0.9M389.8 978.2h0.9M360.1 992.4h0.9M366.4 991.7h0.9M388.0 978.4h0.9M389.4 980.8h0.9M377.7 991.9h0.9M358.1 999.4h0.9M374.2 983.1h0.9M385.6 981.9h0.9M354.4 973.2h0.9M361.5 980.9h0.9M382.5 978.1h0.9M377.5 999.0h0.9M373.3 950.9h0.9M343.8 991.5h0.9M353.4 969.2h0.9M379.1 985.0h0.9M370.5 971.5h0.9M371.4 997.3h0.9M370.6 983.9h0.9M378.6 968.0h0.9M389.7 994.2h0.9M367.0 989.7h0.9M362.5 1001.5h0.9M386.5 974.0h0.9M361.9 1000.9h0.9M363.6 984.7h0.9M357.0 973.8h0.9M373.5 974.6h0.9M371.1 989.1h0.9M377.1 996.1h0.9M388.1 965.9h0.9M356.7 973.1h0.9M382.6 990.3h0.9M386.2 979.7h0.9M380.6 986.0h0.9M381.2 974.6h0.9M388.5 981.9h0.9M355.1 983.6h0.9M355.0 1013.8h0.9M371.4 979.8h0.9M371.8 976.9h0.9M367.6 978.6h0.9M375.2 987.1h0.9M387.0 987.9h0.9M367.2 976.1h0.9M370.7 969.9h0.9M356.5 980.5h0.9M368.1 990.2h0.9M367.1 1002.8h0.9M380.3 991.9h0.9M369.8 981.6h0.9M360.5 997.7h0.9M358.6 980.8h0.9M369.4 989.6h0.9M377.9 986.7h0.9M386.6 975.5h0.9M382.5 973.3h0.9M363.4 995.9h0.9M373.1 983.8h0.9M347.3 990.3h0.9M389.5 1001.0h0.9M366.6 995.5h0.9M365.4 977.5h0.9M382.4 999.6h0.9M357.1 979.9h0.9M384.2 995.5h0.9M367.8 975.0h0.9M371.4 987.3h0.9M384.3 982.4h0.9M371.7 950.6h0.9M359.4 986.4h0.9M365.6 977.2h0.9M381.0 967.8h0.9M384.0 986.5h0.9M381.0 957.1h0.9M372.7 985.7h0.9M357.1 979.6h0.9M386.9 966.3h0.9M376.8 962.0h0.9M361.5 983.3h0.9M389.5 959.3h0.9M390.9 970.5h0.9M358.0 995.8h0.9M356.2 985.0h0.9M368.2 980.1h0.9M390.2 958.6h0.9M363.4 980.0h0.9M357.2 974.3h0.9M409.5 968.9h0.9M376.8 984.3h0.9M353.6 991.7h0.9M367.5 998.4h0.9M350.7 995.0h0.9M353.2 981.7h0.9M386.9 977.3h0.9M370.2 991.8h0.9M361.8 999.4h0.9M369.6 981.8h0.9M362.3 964.8h0.9M365.4 996.3h0.9M363.7 989.4h0.9M374.6 989.4h0.9M372.8 975.6h0.9M392.1 987.1h0.9M382.8 977.5h0.9M367.3 991.7h0.9M396.1 990.7h0.9M363.1 964.4h0.9M358.2 1008.6h0.9M359.8 993.4h0.9M362.1 978.8h0.9M384.7 957.6h0.9M360.3 976.4h0.9M375.1 982.5h0.9M359.7 980.3h0.9M369.2 977.4h0.9M365.7 995.1h0.9M351.7 974.9h0.9M390.4 976.3h0.9M394.8 975.3h0.9M373.0 965.4h0.9M371.9 989.4h0.9M388.4 994.2h0.9M364.6 993.6h0.9M371.4 976.3h0.9M392.3 969.1h0.9M387.7 970.9h0.9M370.8 983.4h0.9M375.7 991.8h0.9M381.6 970.0h0.9M367.7 1003.2h0.9M394.9 958.3h0.9M341.7 1002.2h0.9M350.1 983.6h0.9M380.2 979.9h0.9M367.1 979.3h0.9M350.9 1014.9h0.9M367.6 967.2h0.9M360.7 987.7h0.9M376.5 973.4h0.9M364.6 1006.3h0.9M351.2 1018.2h0.9M373.6 975.3h0.9M378.8 967.5h0.9M363.8 1014.1h0.9M388.4 987.5h0.9M396.0 959.2h0.9M369.3 987.8h0.9M379.6 975.0h0.9M370.7 983.4h0.9M361.9 950.1h0.9M391.1 990.5h0.9M381.5 984.7h0.9M361.4 1003.1h0.9M370.7 971.0h0.9M367.7 988.6h0.9M355.8 989.9h0.9M374.9 1002.0h0.9M381.6 979.8h0.9M360.2 978.1h0.9M388.5 976.6h0.9M352.8 986.3h0.9M359.5 1001.2h0.9M363.5 995.3h0.9M388.6 995.4h0.9M361.6 991.5h0.9M370.4 987.1h0.9M367.1 981.3h0.9M369.4 1014.8h0.9M350.2 1016.0h0.9M373.4 978.0h0.9M375.4 973.3h0.9M392.3 981.0h0.9M396.7 965.1h0.9M367.4 972.6h0.9M359.4 996.5h0.9M376.2 998.3h0.9M364.1 994.0h0.9M380.1 977.1h0.9M375.3 965.4h0.9M378.4 997.7h0.9M382.8 1002.8h0.9M371.4 999.7h0.9M384.5 991.9h0.9M380.5 978.5h0.9M346.6 1014.6h0.9M388.6 978.2h0.9M371.6 975.5h0.9M370.8 995.3h0.9M357.3 992.4h0.9M350.9 968.7h0.9M380.2 976.6h0.9M373.4 978.0h0.9M352.2 964.5h0.9M385.0 980.1h0.9M382.7 967.6h0.9M382.2 994.2h0.9M382.6 967.0h0.9M349.3 991.9h0.9M391.7 958.3h0.9M364.1 986.9h0.9M403.1 988.3h0.9M346.8 976.7h0.9M360.4 992.1h0.9M394.7 960.1h0.9M360.9 980.3h0.9M367.1 986.0h0.9M368.8 1001.0h0.9M377.9 986.7h0.9M384.0 991.0h0.9M383.2 1007.2h0.9M355.3 985.7h0.9M393.4 959.6h0.9M373.6 958.7h0.9M380.8 994.0h0.9M377.2 981.5h0.9M339.5 1013.7h0.9M366.3 1001.6h0.9M377.2 954.9h0.9M360.4 998.9h0.9M390.2 950.3h0.9M372.3 985.8h0.9M394.3 979.7h0.9M386.8 970.8h0.9M357.9 982.2h0.9M369.1 982.3h0.9M408.3 962.0h0.9M379.4 959.5h0.9M391.8 965.4h0.9M365.5 994.5h0.9M358.3 972.0h0.9M383.3 981.8h0.9M373.8 992.9h0.9M365.6 963.8h0.9M380.0 990.0h0.9M366.3 971.9h0.9M358.9 968.1h0.9M374.6 997.0h0.9M358.8 1007.5h0.9M374.6 979.8h0.9M372.8 957.6h0.9M378.7 992.4h0.9M357.1 984.8h0.9M380.0 994.2h0.9M376.9 978.1h0.9M364.7 971.1h0.9M383.0 997.0h0.9M360.5 989.8h0.9M385.1 991.9h0.9M364.1 981.9h0.9M383.6 971.2h0.9M371.8 985.8h0.9M361.9 997.5h0.9M414.2 976.8h0.9M387.2 984.9h0.9M350.3 994.4h0.9M390.0 997.0h0.9M370.2 983.7h0.9M367.9 968.7h0.9M370.4 993.5h0.9M397.5 987.0h0.9M363.2 981.1h0.9M352.4 1006.3h0.9M365.9 988.6h0.9M393.8 951.7h0.9M388.1 987.9h0.9M348.6 988.0h0.9M384.3 984.8h0.9M361.0 978.1h0.9M394.7 975.7h0.9M368.2 981.7h0.9M379.0 992.0h0.9M333.3 984.4h0.9M381.5 985.6h0.9M382.0 984.0h0.9M389.3 1008.6h0.9M390.8 986.0h0.9M363.3 993.3h0.9M345.7 1012.2h0.9M353.7 982.6h0.9M368.5 978.0h0.9M377.6 996.7h0.9M374.2 979.6h0.9M376.3 1002.9h0.9M376.8 999.4h0.9M391.9 990.0h0.9M370.1 975.1h0.9M352.7 994.8h0.9M362.4 971.8h0.9M356.8 983.7h0.9M382.5 952.5h0.9M365.1 974.2h0.9M369.7 983.5h0.9M375.4 972.2h0.9M374.8 987.7h0.9M362.5 1001.1h0.9M369.8 1000.3h0.9M369.5 993.5h0.9M364.3 1009.8h0.9M350.6 1007.9h0.9M370.8 956.7h0.9M390.3 987.4h0.9M372.4 996.7h0.9M368.6 995.5h0.9M384.0 962.9h0.9M387.2 967.2h0.9M361.6 977.5h0.9M383.2 974.6h0.9M361.2 971.2h0.9M386.8 989.9h0.9M389.3 964.7h0.9M384.6 978.0h0.9M378.6 975.4h0.9M389.8 982.9h0.9M361.4 990.4h0.9M351.9 987.7h0.9M367.7 973.7h0.9M373.7 998.8h0.9M398.3 948.7h0.9M393.3 971.2h0.9M365.0 991.6h0.9M374.6 965.0h0.9M398.7 982.1h0.9M390.2 984.7h0.9M350.5 968.5h0.9M365.8 994.0h0.9M368.8 979.3h0.9M386.7 972.4h0.9M392.0 976.7h0.9M345.7 987.0h0.9M400.3 978.1h0.9M396.1 989.0h0.9M393.6 997.3h0.9M369.0 997.2h0.9M367.5 981.1h0.9M380.1 982.3h0.9M374.9 957.1h0.9M375.7 974.2h0.9M357.7 992.8h0.9M385.7 966.8h0.9M388.3 966.4h0.9M392.0 986.8h0.9M378.8 981.6h0.9M354.0 998.9h0.9M364.4 984.8h0.9M367.9 981.7h0.9M381.9 970.0h0.9M354.6 1011.8h0.9M358.6 990.4h0.9M385.8 987.0h0.9M387.3 989.3h0.9M358.1 975.4h0.9M380.7 985.4h0.9M341.7 1003.1h0.9M373.6 964.5h0.9M387.4 969.0h0.9M365.0 982.4h0.9M397.1 966.5h0.9M381.9 993.7h0.9M350.8 989.4h0.9M371.1 967.9h0.9M335.9 990.3h0.9M371.0 980.5h0.9M364.1 977.1h0.9M381.3 972.3h0.9M369.2 977.5h0.9M375.8 975.3h0.9M379.9 1000.3h0.9M362.8 997.3h0.9M369.5 973.5h0.9M370.9 954.0h0.9M366.7 987.8h0.9M359.2 1010.2h0.9M376.8 996.6h0.9M398.4 989.8h0.9M379.9 986.3h0.9M346.8 987.0h0.9M368.0 998.2h0.9M366.5 997.6h0.9M348.9 1014.2h0.9M364.9 994.0h0.9M359.5 1008.4h0.9M347.5 993.3h0.9M383.7 973.9h0.9M375.0 969.8h0.9M385.7 976.4h0.9M380.7 987.5h0.9M388.1 982.2h0.9M369.6 990.0h0.9M363.7 970.6h0.9M381.5 979.8h0.9M357.3 978.8h0.9M381.5 987.0h0.9M362.4 1002.5h0.9M381.2 977.3h0.9M356.1 1017.6h0.9M366.9 981.5h0.9M369.1 988.8h0.9M384.2 976.3h0.9M371.1 1011.5h0.9M347.8 989.2h0.9M375.8 988.8h0.9M374.8 986.8h0.9M382.3 996.6h0.9M389.0 992.5h0.9M385.8 991.9h0.9M367.2 983.5h0.9M401.0 960.8h0.9M370.6 980.1h0.9M386.6 983.5h0.9M390.3 991.9h0.9M351.2 999.3h0.9M367.9 989.1h0.9M385.9 971.5h0.9M351.8 992.3h0.9M381.0 974.9h0.9M363.6 988.1h0.9M377.1 999.5h0.9M367.5 1012.2h0.9M382.1 968.8h0.9M351.6 988.9h0.9M368.0 987.5h0.9M375.8 983.3h0.9M365.7 984.1h0.9M377.0 989.4h0.9M391.4 1004.2h0.9M385.5 990.7h0.9M347.5 977.7h0.9M350.9 986.0h0.9M356.9 977.0h0.9M375.6 984.9h0.9M387.8 995.8h0.9M370.4 987.2h0.9M382.2 977.2h0.9M360.2 1003.0h0.9M381.2 962.5h0.9M342.8 1000.1h0.9M372.5 977.6h0.9M380.6 978.0h0.9M355.3 1007.6h0.9M365.1 997.1h0.9M364.8 990.3h0.9M367.6 989.6h0.9M377.2 985.0h0.9M352.6 995.9h0.9M401.2 979.4h0.9M371.5 980.5h0.9M349.3 985.5h0.9M357.7 997.1h0.9M373.9 987.0h0.9M375.6 1005.2h0.9M383.3 967.8h0.9M372.5 978.2h0.9M371.1 975.9h0.9M348.7 1012.8h0.9M357.1 994.1h0.9M388.7 951.0h0.9M374.8 992.0h0.9M395.9 981.1h0.9M376.7 974.4h0.9M366.7 992.6h0.9M381.4 993.8h0.9M373.6 993.2h0.9M353.3 990.0h0.9M360.2 989.3h0.9M362.2 993.3h0.9M361.7 991.4h0.9M372.0 985.4h0.9M378.6 993.7h0.9M371.7 981.2h0.9M393.6 995.9h0.9M364.9 987.5h0.9M360.5 993.1h0.9M355.5 976.7h0.9M361.3 981.7h0.9M365.5 992.5h0.9M373.5 1002.8h0.9M371.8 987.2h0.9M377.1 989.7h0.9M365.7 956.4h0.9M364.0 993.9h0.9M373.2 981.2h0.9M363.8 996.6h0.9M382.4 985.3h0.9M367.7 988.6h0.9M356.3 968.4h0.9M366.5 997.9h0.9M388.8 973.9h0.9M369.5 981.6h0.9M377.8 983.4h0.9M377.5 1004.5h0.9M378.5 990.3h0.9M371.6 999.4h0.9M366.7 982.6h0.9M393.5 965.8h0.9M381.4 977.1h0.9M371.9 986.6h0.9M379.3 991.9h0.9M364.9 964.3h0.9M366.4 1005.3h0.9M369.5 1005.5h0.9M368.1 1007.4h0.9M378.2 988.4h0.9M352.9 984.8h0.9M358.5 994.9h0.9M347.7 998.4h0.9M332.4 986.7h0.9M353.9 953.8h0.9M365.6 984.7h0.9M380.3 990.0h0.9M356.8 980.0h0.9M394.5 970.1h0.9M362.6 1003.0h0.9M381.8 987.6h0.9M359.4 997.2h0.9M379.8 972.0h0.9M376.7 970.9h0.9M347.0 1001.9h0.9M409.7 955.7h0.9M362.7 992.3h0.9M371.0 982.8h0.9M391.6 979.4h0.9M363.4 972.4h0.9M348.9 985.9h0.9M363.8 976.8h0.9M361.2 1022.4h0.9M383.5 1009.2h0.9M383.1 983.7h0.9M379.8 961.5h0.9M367.9 996.1h0.9M360.9 1010.9h0.9M366.3 965.9h0.9M376.1 974.1h0.9M362.9 1011.1h0.9M384.1 972.5h0.9M380.5 972.2h0.9M368.4 983.6h0.9M373.6 992.5h0.9M364.7 1012.2h0.9M383.0 967.2h0.9M375.6 973.5h0.9M355.1 971.1h0.9M348.2 1005.9h0.9M385.8 973.5h0.9M368.0 994.6h0.9M377.3 979.1h0.9M367.1 976.5h0.9M376.1 985.0h0.9M352.3 991.2h0.9M366.7 999.1h0.9M392.2 960.7h0.9M376.8 976.4h0.9M380.2 967.9h0.9M375.3 964.7h0.9M375.1 996.4h0.9M382.6 995.9h0.9M414.3 969.3h0.9M380.1 977.8h0.9M357.8 980.9h0.9M353.8 962.3h0.9M357.5 1005.1h0.9M368.4 1003.1h0.9M367.7 991.8h0.9M390.0 985.5h0.9M379.5 979.0h0.9M373.2 969.9h0.9M396.6 970.9h0.9M384.8 980.7h0.9M340.6 955.7h0.9M345.2 986.7h0.9M354.9 978.4h0.9M357.6 963.2h0.9M344.7 981.8h0.9M349.5 971.2h0.9M334.3 960.1h0.9M343.7 949.9h0.9M349.8 983.1h0.9M343.2 973.0h0.9M349.4 982.6h0.9M361.0 952.0h0.9M348.7 969.3h0.9M362.7 985.8h0.9M333.4 981.9h0.9M352.8 972.8h0.9M341.1 987.6h0.9M359.8 950.7h0.9M354.8 1001.2h0.9M349.3 975.8h0.9M358.9 968.3h0.9M351.6 957.2h0.9M350.1 975.5h0.9M346.6 977.9h0.9M344.0 959.9h0.9M359.6 963.8h0.9M360.2 962.3h0.9M364.1 979.3h0.9M367.3 950.9h0.9M350.8 952.3h0.9M343.2 972.3h0.9M340.8 965.9h0.9M344.2 984.9h0.9M352.2 953.3h0.9M346.9 957.4h0.9M342.8 989.5h0.9M353.5 983.1h0.9M347.7 960.2h0.9M355.2 959.2h0.9M344.7 961.6h0.9M350.2 968.2h0.9M364.7 943.2h0.9M349.3 982.5h0.9M339.6 968.9h0.9M350.9 964.9h0.9M346.7 994.3h0.9M341.0 973.1h0.9M348.8 969.2h0.9M341.0 978.7h0.9M341.2 981.0h0.9M360.5 988.1h0.9M336.2 969.9h0.9M334.1 964.8h0.9M343.3 980.3h0.9M346.8 981.8h0.9M355.4 960.4h0.9M359.5 987.7h0.9M353.1 961.5h0.9M355.5 967.7h0.9M355.3 952.6h0.9M342.6 991.8h0.9M353.9 963.4h0.9M336.7 967.8h0.9M347.7 970.9h0.9M337.6 1002.9h0.9M349.8 994.0h0.9M369.6 984.6h0.9M359.6 989.4h0.9M346.6 966.6h0.9M339.5 954.7h0.9M352.0 972.0h0.9M359.8 963.3h0.9M348.7 980.3h0.9M347.3 985.0h0.9M353.6 979.6h0.9M343.6 978.4h0.9M346.9 990.5h0.9M362.2 972.6h0.9M363.3 974.1h0.9M358.8 959.1h0.9M337.0 957.2h0.9M338.1 957.3h0.9M351.7 965.0h0.9M355.3 952.3h0.9M340.5 950.3h0.9M353.8 961.1h0.9M362.7 992.3h0.9M347.0 985.6h0.9M336.5 955.1h0.9M357.9 970.9h0.9M344.7 993.0h0.9M355.0 972.7h0.9M345.9 988.3h0.9M345.8 973.1h0.9M339.1 969.3h0.9M344.7 979.5h0.9M355.5 975.9h0.9M352.1 987.1h0.9M346.6 968.0h0.9M363.3 977.0h0.9M351.4 964.1h0.9M357.9 959.2h0.9M330.3 961.8h0.9M342.9 984.4h0.9M348.3 963.0h0.9M345.5 986.0h0.9M355.2 967.6h0.9M336.0 981.9h0.9M357.8 980.4h0.9M347.9 973.2h0.9M351.3 973.1h0.9M344.5 971.8h0.9M336.2 970.6h0.9M353.2 968.0h0.9M345.9 956.7h0.9M356.4 965.8h0.9M349.9 952.2h0.9M342.2 960.1h0.9M351.5 964.5h0.9M335.5 990.5h0.9M352.9 979.6h0.9M340.4 969.6h0.9M361.4 947.3h0.9M350.6 974.8h0.9M338.2 991.3h0.9M333.9 962.6h0.9M341.6 969.3h0.9M361.0 950.5h0.9M354.3 980.5h0.9M339.3 1001.7h0.9M347.9 960.7h0.9M353.0 958.8h0.9M342.2 981.9h0.9M342.6 980.8h0.9M358.3 957.5h0.9M329.4 958.7h0.9M356.3 966.3h0.9M360.3 948.5h0.9M362.5 969.7h0.9M358.7 975.9h0.9M357.4 958.7h0.9M336.7 978.1h0.9M350.6 951.2h0.9M350.9 978.9h0.9M360.5 982.2h0.9M354.1 951.0h0.9M340.6 964.6h0.9M333.6 963.8h0.9M349.0 984.3h0.9M348.5 963.8h0.9M352.0 960.1h0.9M341.7 968.6h0.9M348.4 990.5h0.9M351.3 964.2h0.9M359.3 981.9h0.9M353.1 963.8h0.9M355.9 975.9h0.9M355.0 973.1h0.9M346.0 975.1h0.9M351.2 977.5h0.9M353.6 948.9h0.9M344.5 980.8h0.9M344.3 973.1h0.9M362.2 996.7h0.9M363.8 980.4h0.9M357.9 978.0h0.9M368.1 972.6h0.9M334.7 960.9h0.9M341.1 946.6h0.9M350.7 957.0h0.9M356.1 988.4h0.9M335.5 984.1h0.9M360.4 958.3h0.9M336.0 996.8h0.9M349.7 975.0h0.9M354.9 970.5h0.9M340.5 973.2h0.9M367.1 970.7h0.9M362.3 969.1h0.9M351.2 966.5h0.9M338.7 992.4h0.9M340.7 978.2h0.9M333.6 970.3h0.9M348.6 969.3h0.9M346.8 975.5h0.9M334.4 981.7h0.9M348.4 972.9h0.9M343.3 966.7h0.9M348.7 981.9h0.9M358.7 972.1h0.9M349.2 977.4h0.9M350.0 968.0h0.9M358.9 938.1h0.9M350.7 984.2h0.9M352.3 949.4h0.9M356.6 957.1h0.9M363.5 967.7h0.9M358.0 944.9h0.9M348.2 974.9h0.9M339.6 964.4h0.9M348.4 965.5h0.9M334.1 965.0h0.9M353.9 976.4h0.9M340.2 994.3h0.9M343.0 970.8h0.9M350.7 966.6h0.9M352.4 952.9h0.9M358.7 998.0h0.9M333.3 984.4h0.9M348.2 965.7h0.9M352.3 969.3h0.9M355.8 986.6h0.9M350.2 957.7h0.9M338.6 961.7h0.9M345.7 973.0h0.9M342.9 953.1h0.9M351.3 983.5h0.9M347.8 966.1h0.9M358.6 972.5h0.9M354.0 982.2h0.9M347.6 953.6h0.9M343.2 988.3h0.9M359.9 973.1h0.9M346.6 976.4h0.9M343.2 950.7h0.9M351.0 972.9h0.9M361.9 972.1h0.9M356.9 988.4h0.9M333.2 947.5h0.9M347.5 965.3h0.9M368.2 969.9h0.9M360.5 953.6h0.9M343.3 973.6h0.9M360.1 958.2h0.9M346.3 994.9h0.9M361.3 980.9h0.9M348.8 976.8h0.9M346.3 949.1h0.9M360.9 987.7h0.9M332.1 960.8h0.9M347.0 975.1h0.9M366.4 971.8h0.9M350.1 959.5h0.9M352.3 979.0h0.9M342.3 981.7h0.9M349.8 973.0h0.9M344.6 990.1h0.9M335.4 961.4h0.9M367.0 957.9h0.9M351.3 973.2h0.9M339.8 976.3h0.9M349.5 954.1h0.9M354.1 982.0h0.9M346.6 981.0h0.9M350.9 998.6h0.9M357.3 971.8h0.9M336.3 984.6h0.9M355.6 963.1h0.9M337.2 967.5h0.9M352.9 985.7h0.9M363.3 974.5h0.9M346.1 983.6h0.9M356.8 972.8h0.9M348.3 977.1h0.9M360.9 1003.1h0.9M343.2 979.6h0.9M345.2 960.6h0.9M345.7 974.1h0.9M333.8 977.5h0.9M353.1 959.2h0.9M360.3 976.4h0.9M353.0 973.6h0.9M354.6 993.5h0.9M348.3 992.2h0.9M347.6 978.8h0.9M353.2 982.0h0.9M330.6 961.9h0.9M357.4 976.3h0.9M354.5 963.4h0.9M353.3 967.2h0.9M355.6 941.1h0.9M337.2 986.4h0.9M353.1 964.6h0.9M358.7 969.8h0.9M342.6 978.6h0.9M358.8 966.3h0.9M351.8 990.7h0.9M348.6 970.3h0.9M351.2 974.1h0.9M354.6 968.9h0.9M355.9 979.1h0.9M364.4 953.7h0.9M350.7 966.3h0.9M346.5 959.2h0.9M349.1 969.2h0.9M353.2 987.4h0.9M340.1 977.3h0.9M349.0 983.4h0.9M351.6 954.9h0.9M331.9 975.2h0.9M339.0 980.8h0.9M366.7 970.0h0.9M370.1 971.0h0.9M346.7 973.9h0.9M342.1 983.8h0.9M352.4 969.5h0.9M345.5 963.0h0.9M352.4 953.8h0.9M350.1 950.2h0.9M353.2 997.6h0.9M373.0 992.8h0.9M354.9 966.7h0.9M340.9 966.0h0.9M350.0 966.8h0.9M365.0 963.3h0.9M359.6 970.8h0.9M355.6 954.2h0.9M349.1 965.8h0.9M386.3 1011.6h0.9M377.7 994.1h0.9M374.9 1005.6h0.9M372.7 1010.9h0.9M373.2 1008.6h0.9M385.4 1016.9h0.9M369.0 996.4h0.9M380.0 1007.1h0.9M380.0 1000.0h0.9M381.0 1005.7h0.9M372.9 1001.1h0.9M364.2 991.4h0.9M375.1 1014.5h0.9M377.5 1020.8h0.9M372.6 1016.2h0.9M381.2 1007.6h0.9M384.5 993.1h0.9M376.2 1001.4h0.9M374.0 1008.5h0.9M380.0 997.1h0.9M361.1 1014.5h0.9M380.1 1003.5h0.9M373.3 1008.8h0.9M378.2 1014.2h0.9M365.4 1001.7h0.9M372.6 1003.1h0.9M384.3 1016.1h0.9M387.1 1014.8h0.9M373.6 1003.4h0.9M360.8 1006.2h0.9M358.3 1007.3h0.9M373.9 1003.3h0.9M386.9 1010.5h0.9M380.2 1016.1h0.9M387.2 1003.4h0.9M358.6 1011.4h0.9M385.4 1013.5h0.9M364.3 1007.9h0.9M359.0 1010.0h0.9M382.5 1005.6h0.9M380.6 1008.5h0.9M379.2 1004.2h0.9M374.1 1007.5h0.9M375.6 1002.4h0.9M371.7 1004.5h0.9M386.9 1001.5h0.9M384.2 1014.8h0.9M369.2 998.7h0.9M377.1 1003.4h0.9M391.7 1007.8h0.9M388.1 1004.2h0.9M366.2 1008.3h0.9M382.1 1012.2h0.9M366.5 1017.6h0.9M388.2 1022.1h0.9M366.4 1004.7h0.9M389.9 1005.7h0.9M376.6 999.6h0.9M360.1 1009.5h0.9M370.2 1012.6h0.9M383.5 1012.6h0.9M374.2 1009.9h0.9M381.8 1012.4h0.9M381.3 1014.5h0.9M367.1 1016.6h0.9M360.4 1010.6h0.9M368.9 1002.1h0.9M359.9 1007.3h0.9M382.7 1003.9h0.9M373.0 996.2h0.9M379.9 1005.3h0.9M371.4 987.2h0.9M369.6 1003.7h0.9M374.9 990.7h0.9M371.0 1014.0h0.9M375.1 1014.7h0.9M371.4 1001.9h0.9M393.0 1008.5h0.9M392.5 1013.1h0.9M371.4 1010.0h0.9M375.7 1009.7h0.9M381.7 991.4h0.9M382.1 998.8h0.9M377.8 1006.1h0.9M393.8 1005.4h0.9M381.4 1005.8h0.9M372.3 1005.2h0.9M378.7 1017.8h0.9M375.7 1017.1h0.9M367.0 1004.9h0.9M364.9 1002.6h0.9M386.0 1007.9h0.9M385.1 1000.5h0.9M374.6 998.9h0.9M365.8 1006.6h0.9M359.8 1013.5h0.9M394.2 998.5h0.9M367.7 1004.8h0.9M371.9 1012.6h0.9M369.5 1019.0h0.9M389.4 1007.0h0.9M385.1 1007.3h0.9M377.5 1008.4h0.9M378.5 1013.8h0.9M384.9 999.9h0.9M370.3 999.1h0.9M372.9 1000.4h0.9M375.2 1002.8h0.9M374.2 999.6h0.9M376.4 1003.8h0.9M380.9 1007.3h0.9M367.2 1000.6h0.9M378.4 1004.1h0.9M374.3 1003.9h0.9M370.0 1017.7h0.9M392.8 1011.8h0.9M381.1 1009.3h0.9M357.1 1001.6h0.9M360.5 1012.7h0.9M378.1 1003.4h0.9M383.5 1012.1h0.9M379.3 1000.7h0.9M375.7 1000.9h0.9M377.3 1007.8h0.9M383.8 1013.9h0.9M369.7 1018.0h0.9M371.0 1004.6h0.9M379.3 1009.2h0.9M387.2 1012.8h0.9M366.0 993.5h0.9M369.8 1011.7h0.9M375.4 1000.8h0.9M375.3 1006.6h0.9M364.9 994.6h0.9M377.9 1014.7h0.9M366.5 1015.5h0.9M381.5 1017.1h0.9M372.6 1001.0h0.9M363.0 998.2h0.9M382.4 1009.6h0.9M371.4 1012.9h0.9M374.5 1001.6h0.9M376.7 1000.6h0.9M377.0 1008.7h0.9M386.2 1000.8h0.9M378.2 1015.1h0.9M382.7 1003.0h0.9M366.3 1008.8h0.9M370.3 1007.1h0.9M374.9 1014.8h0.9M366.7 1005.1h0.9M387.3 1003.8h0.9M365.5 1001.1h0.9M378.4 1012.5h0.9M378.2 998.1h0.9M378.7 1006.6h0.9M381.4 1003.3h0.9M378.0 1001.9h0.9M377.5 1011.9h0.9M375.5 1018.8h0.9M378.2 1005.4h0.9M378.6 1001.2h0.9M372.4 1008.0h0.9M380.9 1010.9h0.9M366.3 1008.7h0.9M381.8 1003.7h0.9M371.5 1006.1h0.9M370.0 1010.0h0.9M385.5 1009.4h0.9M376.0 999.5h0.9M371.1 1003.4h0.9M360.2 1016.6h0.9M381.5 1005.0h0.9M381.7 1008.2h0.9M371.7 1013.9h0.9M359.1 1018.1h0.9M379.0 1009.7h0.9M376.5 1001.8h0.9M371.7 1011.2h0.9M373.1 1007.6h0.9M382.2 1005.3h0.9M392.8 990.8h0.9M375.8 1001.7h0.9M364.9 999.4h0.9M366.2 1007.2h0.9M375.0 1002.1h0.9M379.0 1006.4h0.9M384.6 999.5h0.9M375.5 1016.9h0.9M391.8 1001.3h0.9M358.0 1007.2h0.9M368.2 1008.0h0.9M371.4 1004.7h0.9M382.1 1016.9h0.9M372.6 1000.9h0.9M384.1 1000.4h0.9M380.9 1006.1h0.9M368.3 1016.0h0.9M381.0 1005.7h0.9M382.3 1005.8h0.9M375.6 1011.6h0.9M379.8 1000.4h0.9M364.8 1014.6h0.9M383.3 1003.4h0.9M388.7 1005.9h0.9M391.4 999.5h0.9M354.2 1003.9h0.9M376.9 1006.1h0.9M375.2 1008.6h0.9M366.6 999.3h0.9M385.8 1001.2h0.9M382.0 1008.1h0.9M380.9 1002.6h0.9M369.9 1004.0h0.9M392.8 1014.5h0.9M370.4 1015.8h0.9M380.8 1003.6h0.9M370.8 1012.9h0.9M369.5 996.0h0.9M377.4 1003.4h0.9M367.6 999.2h0.9M368.5 1005.6h0.9M349.4 1003.5h0.9M370.8 1001.3h0.9M362.7 1017.6h0.9M381.4 1006.7h0.9M382.9 1014.9h0.9M371.2 1008.9h0.9M376.0 996.2h0.9M366.7 1000.8h0.9M378.9 1020.8h0.9M384.8 1003.8h0.9M374.1 999.1h0.9M369.1 996.1h0.9M384.9 1011.3h0.9M355.9 1018.5h0.9M373.6 1011.3h0.9M366.8 999.7h0.9M376.6 1011.4h0.9M371.1 1005.2h0.9M388.0 1006.2h0.9M378.4 1010.2h0.9M375.0 1003.8h0.9M357.2 993.5h0.9M377.2 1003.1h0.9M374.9 1009.6h0.9M378.8 1007.4h0.9M373.7 1008.7h0.9M364.4 1007.8h0.9M372.1 1005.5h0.9M372.6 1012.1h0.9M368.2 1009.0h0.9M379.4 1008.5h0.9M392.3 1003.8h0.9M368.6 996.1h0.9" stroke="#000" stroke-width="0.9" fill="none" opacity="0.75"/>
<line x1="328.50" y1="890.50" x2="475.50" y2="890.50" stroke="#666" stroke-width="1"/>
<line x1="475.50" y1="890.50" x2="475.50" y2="1023.50" stroke="#666" stroke-width="1"/>
<line x1="328.50" y1="1023.50" x2="475.50" y2="1023.50" stroke="#666" stroke-width="1"/>
<line x1="328.50" y1="890.50" x2="328.50" y2="1023.50" stroke="#555" stroke-width="1"/>
<line x1="365.50" y1="890.50" x2="365.50" y2="1023.50" stroke="#444" stroke-width="1"/>
<line x1="328.50" y1="991.50" x2="475.50" y2="991.50" stroke="#444" stroke-width="1"/>
<path d="M328.9 1023.5v1.4M330.5 1023.5v2.5M341.3 1023.5v1.4M347.7 1023.5v1.4M352.2 1023.5v1.4M355.7 1023.5v1.4M358.5 1023.5v1.4M360.9 1023.5v1.4M363.0 1023.5v1.4M364.9 1023.5v1.4M366.5 1023.5v2.5M377.3 1023.5v1.4M383.7 1023.5v1.4M388.2 1023.5v1.4M391.7 1023.5v1.4M394.5 1023.5v1.4M396.9 1023.5v1.4M399.0 1023.5v1.4M400.9 1023.5v1.4M402.5 1023.5v2.5M413.3 1023.5v1.4M419.7 1023.5v1.4M424.2 1023.5v1.4M427.7 1023.5v1.4M430.5 1023.5v1.4M432.9 1023.5v1.4M435.0 1023.5v1.4M436.9 1023.5v1.4M438.5 1023.5v2.5M449.3 1023.5v1.4M455.7 1023.5v1.4M460.2 1023.5v1.4M463.7 1023.5v1.4M466.5 1023.5v1.4M468.9 1023.5v1.4M471.0 1023.5v1.4M472.9 1023.5v1.4M474.5 1023.5v2.5M328.5 1015.0h-1.8M328.5 1009.1h-1.8M328.5 1004.9h-1.8M328.5 1001.6h-1.8M328.5 999.0h-1.8M328.5 996.7h-1.8M328.5 994.8h-1.8M328.5 993.0h-1.8M328.5 991.5h-3.2M328.5 981.4h-1.8M328.5 975.4h-1.8M328.5 971.2h-1.8M328.5 968.0h-1.8M328.5 965.3h-1.8M328.5 963.0h-1.8M328.5 961.1h-1.8M328.5 959.4h-1.8M328.5 957.8h-3.2M328.5 947.7h-1.8M328.5 941.8h-1.8M328.5 937.6h-1.8M328.5 934.3h-1.8M328.5 931.6h-1.8M328.5 929.4h-1.8M328.5 927.4h-1.8M328.5 925.7h-1.8M328.5 924.2h-3.2M328.5 914.0h-1.8M328.5 908.1h-1.8M328.5 903.9h-1.8M328.5 900.6h-1.8M328.5 898.0h-1.8M328.5 895.7h-1.8M328.5 893.8h-1.8M328.5 892.0h-1.8M328.5 890.5h-3.2" stroke="#444" stroke-width="0.6" fill="none"/>
<text class="a" x="318.3" y="993.7" font-size="6.5" text-anchor="middle" fill="#111">10<tspan dy="-2.6" font-size="4.55">0</tspan></text>
<text class="a" x="368.5" y="1034.0" font-size="6.5" text-anchor="middle" fill="#111">10<tspan dy="-2.6" font-size="4.55">0</tspan></text>
<text class="a" x="318.3" y="960.0" font-size="6.5" text-anchor="middle" fill="#111">10<tspan dy="-2.6" font-size="4.55">1</tspan></text>
<text class="a" x="404.5" y="1034.0" font-size="6.5" text-anchor="middle" fill="#111">10<tspan dy="-2.6" font-size="4.55">1</tspan></text>
<text class="a" x="318.3" y="926.4" font-size="6.5" text-anchor="middle" fill="#111">10<tspan dy="-2.6" font-size="4.55">2</tspan></text>
<text class="a" x="440.5" y="1034.0" font-size="6.5" text-anchor="middle" fill="#111">10<tspan dy="-2.6" font-size="4.55">2</tspan></text>
<text class="a" x="318.3" y="892.7" font-size="6.5" text-anchor="middle" fill="#111">10<tspan dy="-2.6" font-size="4.55">3</tspan></text>
<text class="a" x="473.5" y="1034.0" font-size="6.5" text-anchor="middle" fill="#111">10<tspan dy="-2.6" font-size="4.55">3</tspan></text>
<text class="s" x="402.6" y="920.9" font-size="13.5" textLength="28.4" lengthAdjust="spacingAndGlyphs">53%</text>
</svg>
</body></html>
